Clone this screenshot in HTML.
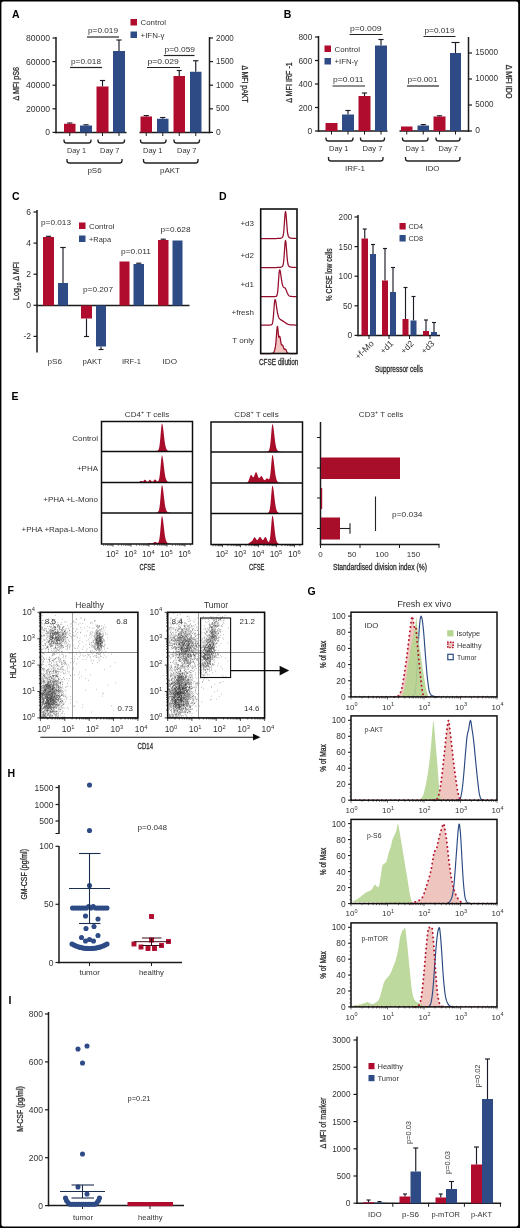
<!DOCTYPE html>
<html><head><meta charset="utf-8"><title>Figure</title>
<style>
html,body{margin:0;padding:0;background:#fff;}
body{width:520px;height:1228px;overflow:hidden;font-family:"Liberation Sans",sans-serif;}
svg{display:block;font-family:"Liberation Sans",sans-serif;}
</style></head><body>
<svg width="520" height="1228" viewBox="0 0 520 1228">
<rect x="0" y="0" width="520" height="1228" fill="#fff"/>
<defs><filter id="soft" filterUnits="userSpaceOnUse" x="0" y="0" width="520" height="1228"><feGaussianBlur stdDeviation="0.42"/></filter></defs>
<g filter="url(#soft)">
<rect x="0" y="0" width="520" height="1228" fill="#fff"/>
<text x="12" y="17.6" font-size="10.5" font-weight="bold" fill="#000">A</text>
<line x1="56" y1="37" x2="56" y2="133.2" stroke="#1a1a1a" stroke-width="1.5"/>
<line x1="209.5" y1="37" x2="209.5" y2="133.2" stroke="#1a1a1a" stroke-width="1.5"/>
<line x1="55.3" y1="132.5" x2="126.5" y2="132.5" stroke="#1a1a1a" stroke-width="1.5"/>
<line x1="139.5" y1="132.5" x2="210.2" y2="132.5" stroke="#1a1a1a" stroke-width="1.5"/>
<line x1="52.5" y1="38.0" x2="56" y2="38.0" stroke="#1a1a1a" stroke-width="1.2"/>
<text x="50" y="41.05" font-size="8.5" text-anchor="end" textLength="24" lengthAdjust="spacingAndGlyphs" fill="#333333">80000</text>
<line x1="52.5" y1="61.6" x2="56" y2="61.6" stroke="#1a1a1a" stroke-width="1.2"/>
<text x="50" y="64.65" font-size="8.5" text-anchor="end" textLength="24" lengthAdjust="spacingAndGlyphs" fill="#333333">60000</text>
<line x1="52.5" y1="85.2" x2="56" y2="85.2" stroke="#1a1a1a" stroke-width="1.2"/>
<text x="50" y="88.25" font-size="8.5" text-anchor="end" textLength="24" lengthAdjust="spacingAndGlyphs" fill="#333333">40000</text>
<line x1="52.5" y1="108.80000000000001" x2="56" y2="108.80000000000001" stroke="#1a1a1a" stroke-width="1.2"/>
<text x="50" y="111.85000000000001" font-size="8.5" text-anchor="end" textLength="24" lengthAdjust="spacingAndGlyphs" fill="#333333">20000</text>
<line x1="52.5" y1="132.4" x2="56" y2="132.4" stroke="#1a1a1a" stroke-width="1.2"/>
<text x="50" y="135.45000000000002" font-size="8.5" text-anchor="end" fill="#333333">0</text>
<line x1="209.5" y1="38.0" x2="213" y2="38.0" stroke="#1a1a1a" stroke-width="1.2"/>
<text x="216" y="40.6" font-size="8.5" textLength="17.8" lengthAdjust="spacingAndGlyphs" fill="#333333">2000</text>
<line x1="209.5" y1="61.6" x2="213" y2="61.6" stroke="#1a1a1a" stroke-width="1.2"/>
<text x="216" y="64.2" font-size="8.5" textLength="17.8" lengthAdjust="spacingAndGlyphs" fill="#333333">1500</text>
<line x1="209.5" y1="85.2" x2="213" y2="85.2" stroke="#1a1a1a" stroke-width="1.2"/>
<text x="216" y="87.8" font-size="8.5" textLength="17.8" lengthAdjust="spacingAndGlyphs" fill="#333333">1000</text>
<line x1="209.5" y1="108.80000000000001" x2="213" y2="108.80000000000001" stroke="#1a1a1a" stroke-width="1.2"/>
<text x="216" y="111.4" font-size="8.5" textLength="13.4" lengthAdjust="spacingAndGlyphs" fill="#333333">500</text>
<line x1="209.5" y1="132.4" x2="213" y2="132.4" stroke="#1a1a1a" stroke-width="1.2"/>
<text x="216" y="135.0" font-size="8.5" fill="#333333">0</text>
<line x1="69.75" y1="123.75" x2="69.75" y2="123" stroke="#1b1b26" stroke-width="1.15"/>
<line x1="67.15" y1="123" x2="72.35" y2="123" stroke="#1b1b26" stroke-width="1.15"/>
<rect x="64" y="123.75" width="11.5" height="8.75" fill="#b00a2e"/>
<line x1="86.0" y1="125.5" x2="86.0" y2="124.8" stroke="#1b1b26" stroke-width="1.15"/>
<line x1="83.4" y1="124.8" x2="88.6" y2="124.8" stroke="#1b1b26" stroke-width="1.15"/>
<rect x="80" y="125.5" width="12" height="7.0" fill="#2d4c86"/>
<line x1="102.5" y1="86.5" x2="102.5" y2="80.5" stroke="#1b1b26" stroke-width="1.15"/>
<line x1="99.9" y1="80.5" x2="105.1" y2="80.5" stroke="#1b1b26" stroke-width="1.15"/>
<rect x="96.5" y="86.5" width="12.0" height="46.0" fill="#b00a2e"/>
<line x1="119.0" y1="51" x2="119.0" y2="40" stroke="#1b1b26" stroke-width="1.15"/>
<line x1="116.4" y1="40" x2="121.6" y2="40" stroke="#1b1b26" stroke-width="1.15"/>
<rect x="113" y="51" width="12" height="81.5" fill="#2d4c86"/>
<line x1="146.25" y1="116.5" x2="146.25" y2="115.6" stroke="#1b1b26" stroke-width="1.15"/>
<line x1="143.65" y1="115.6" x2="148.85" y2="115.6" stroke="#1b1b26" stroke-width="1.15"/>
<rect x="140.5" y="116.5" width="11.5" height="16.0" fill="#b00a2e"/>
<line x1="162.75" y1="118.75" x2="162.75" y2="117.5" stroke="#1b1b26" stroke-width="1.15"/>
<line x1="160.15" y1="117.5" x2="165.35" y2="117.5" stroke="#1b1b26" stroke-width="1.15"/>
<rect x="157" y="118.75" width="11.5" height="13.75" fill="#2d4c86"/>
<line x1="179.25" y1="76" x2="179.25" y2="70.5" stroke="#1b1b26" stroke-width="1.15"/>
<line x1="176.75" y1="70.5" x2="181.75" y2="70.5" stroke="#1b1b26" stroke-width="1.15"/>
<rect x="173.5" y="76" width="11.5" height="56.5" fill="#b00a2e"/>
<line x1="195.75" y1="71.75" x2="195.75" y2="60.75" stroke="#1b1b26" stroke-width="1.15"/>
<line x1="193.0" y1="60.75" x2="198.5" y2="60.75" stroke="#1b1b26" stroke-width="1.15"/>
<rect x="190" y="71.75" width="11.5" height="60.75" fill="#2d4c86"/>
<line x1="69.75" y1="132.5" x2="69.75" y2="136" stroke="#1a1a1a" stroke-width="1"/>
<line x1="86.0" y1="132.5" x2="86.0" y2="136" stroke="#1a1a1a" stroke-width="1"/>
<line x1="102.5" y1="132.5" x2="102.5" y2="136" stroke="#1a1a1a" stroke-width="1"/>
<line x1="119.0" y1="132.5" x2="119.0" y2="136" stroke="#1a1a1a" stroke-width="1"/>
<line x1="146.25" y1="132.5" x2="146.25" y2="136" stroke="#1a1a1a" stroke-width="1"/>
<line x1="162.75" y1="132.5" x2="162.75" y2="136" stroke="#1a1a1a" stroke-width="1"/>
<line x1="179.25" y1="132.5" x2="179.25" y2="136" stroke="#1a1a1a" stroke-width="1"/>
<line x1="195.75" y1="132.5" x2="195.75" y2="136" stroke="#1a1a1a" stroke-width="1"/>
<text x="88" y="33.2" font-size="8" textLength="30" lengthAdjust="spacingAndGlyphs" fill="#333333">p=0.019</text>
<line x1="87" y1="37" x2="119" y2="37" stroke="#222" stroke-width="1.2"/>
<text x="71" y="63.7" font-size="8" textLength="30" lengthAdjust="spacingAndGlyphs" fill="#333333">p=0.018</text>
<line x1="70" y1="67.5" x2="102" y2="67.5" stroke="#222" stroke-width="1.2"/>
<text x="164.5" y="52.2" font-size="8" textLength="30.5" lengthAdjust="spacingAndGlyphs" fill="#333333">p=0.059</text>
<line x1="163.75" y1="55.5" x2="194.5" y2="55.5" stroke="#222" stroke-width="1.2"/>
<text x="147.5" y="63.7" font-size="8" textLength="31.2" lengthAdjust="spacingAndGlyphs" fill="#333333">p=0.029</text>
<line x1="147" y1="67.5" x2="180" y2="67.5" stroke="#222" stroke-width="1.2"/>
<rect x="130.5" y="19" width="6.5" height="6.5" fill="#b00a2e"/>
<text x="140.5" y="25" font-size="8" textLength="25.5" lengthAdjust="spacingAndGlyphs" fill="#333333">Control</text>
<rect x="130.5" y="31.5" width="6.5" height="6.5" fill="#2d4c86"/>
<text x="140.5" y="37.5" font-size="8" textLength="24" lengthAdjust="spacingAndGlyphs" fill="#333333">+IFN-γ</text>
<path d="M64,139.5v0.8999999999999999q0,2.6 2.6,2.6H88.4q2.6,0 2.6,-2.6v-0.8999999999999999" fill="none" stroke="#222" stroke-width="1.35"/>
<path d="M98,139.5v0.8999999999999999q0,2.6 2.6,2.6H121.9q2.6,0 2.6,-2.6v-0.8999999999999999" fill="none" stroke="#222" stroke-width="1.35"/>
<path d="M140.5,139.5v0.8999999999999999q0,2.6 2.6,2.6H163.4q2.6,0 2.6,-2.6v-0.8999999999999999" fill="none" stroke="#222" stroke-width="1.35"/>
<path d="M174,139.5v0.8999999999999999q0,2.6 2.6,2.6H196.9q2.6,0 2.6,-2.6v-0.8999999999999999" fill="none" stroke="#222" stroke-width="1.35"/>
<text x="67" y="153.3" font-size="8" textLength="19" lengthAdjust="spacingAndGlyphs" fill="#333333">Day 1</text>
<text x="100" y="153.3" font-size="8" textLength="19.5" lengthAdjust="spacingAndGlyphs" fill="#333333">Day 7</text>
<text x="143" y="153.3" font-size="8" textLength="19.5" lengthAdjust="spacingAndGlyphs" fill="#333333">Day 1</text>
<text x="177" y="153.3" font-size="8" textLength="19.5" lengthAdjust="spacingAndGlyphs" fill="#333333">Day 7</text>
<path d="M67,159v1.4q0,2.6 2.6,2.6H119.4q2.6,0 2.6,-2.6v-1.4" fill="none" stroke="#222" stroke-width="1.35"/>
<path d="M143.5,159v1.4q0,2.6 2.6,2.6H195.4q2.6,0 2.6,-2.6v-1.4" fill="none" stroke="#222" stroke-width="1.35"/>
<text x="94.5" y="172.5" font-size="8" text-anchor="middle" fill="#333333">pS6</text>
<text x="170" y="172.5" font-size="8" text-anchor="middle" textLength="20" lengthAdjust="spacingAndGlyphs" fill="#333333">pAKT</text>
<text x="18.6" y="83.7" font-size="8.7" text-anchor="middle" transform="rotate(-90 18.6 83.7)" textLength="33.5" lengthAdjust="spacingAndGlyphs" fill="#2a2a2a" stroke="#2a2a2a" stroke-width="0.28">Δ MFI pS6</text>
<text x="241.6" y="84" font-size="8.7" text-anchor="middle" transform="rotate(90 241.6 84)" textLength="37" lengthAdjust="spacingAndGlyphs" fill="#2a2a2a" stroke="#2a2a2a" stroke-width="0.28">Δ MFI pAKT</text>
<text x="283.7" y="17.6" font-size="10.5" font-weight="bold" fill="#000">B</text>
<line x1="318.5" y1="36" x2="318.5" y2="131.7" stroke="#1a1a1a" stroke-width="1.5"/>
<line x1="468.5" y1="37" x2="468.5" y2="131.7" stroke="#1a1a1a" stroke-width="1.5"/>
<line x1="317.8" y1="131" x2="387.5" y2="131" stroke="#1a1a1a" stroke-width="1.5"/>
<line x1="399.5" y1="131" x2="469.2" y2="131" stroke="#1a1a1a" stroke-width="1.5"/>
<line x1="315" y1="37.0" x2="318.5" y2="37.0" stroke="#1a1a1a" stroke-width="1.2"/>
<text x="312.3" y="40.05" font-size="8.5" text-anchor="end" textLength="13.8" lengthAdjust="spacingAndGlyphs" fill="#333333">800</text>
<line x1="315" y1="60.5" x2="318.5" y2="60.5" stroke="#1a1a1a" stroke-width="1.2"/>
<text x="312.3" y="63.55" font-size="8.5" text-anchor="end" textLength="13.8" lengthAdjust="spacingAndGlyphs" fill="#333333">600</text>
<line x1="315" y1="84.0" x2="318.5" y2="84.0" stroke="#1a1a1a" stroke-width="1.2"/>
<text x="312.3" y="87.05" font-size="8.5" text-anchor="end" textLength="13.8" lengthAdjust="spacingAndGlyphs" fill="#333333">400</text>
<line x1="315" y1="107.5" x2="318.5" y2="107.5" stroke="#1a1a1a" stroke-width="1.2"/>
<text x="312.3" y="110.55" font-size="8.5" text-anchor="end" textLength="13.8" lengthAdjust="spacingAndGlyphs" fill="#333333">200</text>
<line x1="315" y1="131.0" x2="318.5" y2="131.0" stroke="#1a1a1a" stroke-width="1.2"/>
<text x="312.3" y="134.05" font-size="8.5" text-anchor="end" fill="#333333">0</text>
<line x1="468.5" y1="53" x2="472" y2="53" stroke="#1a1a1a" stroke-width="1.2"/>
<text x="475.3" y="55.2" font-size="8.5" textLength="22.8" lengthAdjust="spacingAndGlyphs" fill="#333333">15000</text>
<line x1="468.5" y1="79" x2="472" y2="79" stroke="#1a1a1a" stroke-width="1.2"/>
<text x="475.3" y="81.2" font-size="8.5" textLength="22.8" lengthAdjust="spacingAndGlyphs" fill="#333333">10000</text>
<line x1="468.5" y1="105" x2="472" y2="105" stroke="#1a1a1a" stroke-width="1.2"/>
<text x="475.3" y="107.2" font-size="8.5" textLength="18.2" lengthAdjust="spacingAndGlyphs" fill="#333333">5000</text>
<line x1="468.5" y1="131" x2="472" y2="131" stroke="#1a1a1a" stroke-width="1.2"/>
<text x="475.3" y="133.2" font-size="8.5" fill="#333333">0</text>
<rect x="325.5" y="123" width="12.0" height="8" fill="#b00a2e"/>
<line x1="348.0" y1="114.5" x2="348.0" y2="110.5" stroke="#1b1b26" stroke-width="1.15"/>
<line x1="345.4" y1="110.5" x2="350.6" y2="110.5" stroke="#1b1b26" stroke-width="1.15"/>
<rect x="342" y="114.5" width="12" height="16.5" fill="#2d4c86"/>
<line x1="364.5" y1="96" x2="364.5" y2="93" stroke="#1b1b26" stroke-width="1.15"/>
<line x1="361.9" y1="93" x2="367.1" y2="93" stroke="#1b1b26" stroke-width="1.15"/>
<rect x="358.5" y="96" width="12.0" height="35" fill="#b00a2e"/>
<line x1="381.0" y1="45.5" x2="381.0" y2="39.5" stroke="#1b1b26" stroke-width="1.15"/>
<line x1="378.4" y1="39.5" x2="383.6" y2="39.5" stroke="#1b1b26" stroke-width="1.15"/>
<rect x="375" y="45.5" width="12" height="85.5" fill="#2d4c86"/>
<rect x="401" y="126.5" width="11.5" height="4.5" fill="#b00a2e"/>
<line x1="423.25" y1="125.5" x2="423.25" y2="124.6" stroke="#1b1b26" stroke-width="1.15"/>
<line x1="420.65" y1="124.6" x2="425.85" y2="124.6" stroke="#1b1b26" stroke-width="1.15"/>
<rect x="417.5" y="125.5" width="11.5" height="5.5" fill="#2d4c86"/>
<line x1="439.5" y1="116.5" x2="439.5" y2="115.8" stroke="#1b1b26" stroke-width="1.15"/>
<line x1="436.9" y1="115.8" x2="442.1" y2="115.8" stroke="#1b1b26" stroke-width="1.15"/>
<rect x="433.5" y="116.5" width="12.0" height="14.5" fill="#b00a2e"/>
<line x1="455.5" y1="53" x2="455.5" y2="42.5" stroke="#1b1b26" stroke-width="1.15"/>
<line x1="451.5" y1="42.5" x2="459.5" y2="42.5" stroke="#1b1b26" stroke-width="1.15"/>
<rect x="450" y="53" width="11" height="78" fill="#2d4c86"/>
<line x1="331.5" y1="131" x2="331.5" y2="134.5" stroke="#1a1a1a" stroke-width="1"/>
<line x1="348.0" y1="131" x2="348.0" y2="134.5" stroke="#1a1a1a" stroke-width="1"/>
<line x1="364.5" y1="131" x2="364.5" y2="134.5" stroke="#1a1a1a" stroke-width="1"/>
<line x1="381.0" y1="131" x2="381.0" y2="134.5" stroke="#1a1a1a" stroke-width="1"/>
<line x1="406.75" y1="131" x2="406.75" y2="134.5" stroke="#1a1a1a" stroke-width="1"/>
<line x1="423.25" y1="131" x2="423.25" y2="134.5" stroke="#1a1a1a" stroke-width="1"/>
<line x1="439.5" y1="131" x2="439.5" y2="134.5" stroke="#1a1a1a" stroke-width="1"/>
<line x1="455.5" y1="131" x2="455.5" y2="134.5" stroke="#1a1a1a" stroke-width="1"/>
<text x="350" y="31.2" font-size="8" textLength="31.5" lengthAdjust="spacingAndGlyphs" fill="#333333">p=0.009</text>
<line x1="349.5" y1="34.5" x2="382.5" y2="34.5" stroke="#222" stroke-width="1.2"/>
<text x="333" y="81.7" font-size="8" textLength="30.5" lengthAdjust="spacingAndGlyphs" fill="#333333">p=0.011</text>
<line x1="332.5" y1="86" x2="365" y2="86" stroke="#222" stroke-width="1.2"/>
<text x="424.5" y="33.2" font-size="8" textLength="30.0" lengthAdjust="spacingAndGlyphs" fill="#333333">p=0.019</text>
<line x1="423.5" y1="36.5" x2="455.5" y2="36.5" stroke="#222" stroke-width="1.2"/>
<text x="407.5" y="81.7" font-size="8" textLength="30.0" lengthAdjust="spacingAndGlyphs" fill="#333333">p=0.001</text>
<line x1="407" y1="86" x2="439" y2="86" stroke="#222" stroke-width="1.2"/>
<rect x="324.5" y="45.5" width="6.5" height="6.5" fill="#b00a2e"/>
<text x="334.5" y="51.5" font-size="8" textLength="25.5" lengthAdjust="spacingAndGlyphs" fill="#333333">Control</text>
<rect x="324.5" y="58" width="6.5" height="6.5" fill="#2d4c86"/>
<text x="334.5" y="64" font-size="8" textLength="23.5" lengthAdjust="spacingAndGlyphs" fill="#333333">+IFN-γ</text>
<path d="M326,137.5v0.8999999999999999q0,2.6 2.6,2.6H350.4q2.6,0 2.6,-2.6v-0.8999999999999999" fill="none" stroke="#222" stroke-width="1.35"/>
<path d="M360.5,137.5v0.8999999999999999q0,2.6 2.6,2.6H381.9q2.6,0 2.6,-2.6v-0.8999999999999999" fill="none" stroke="#222" stroke-width="1.35"/>
<path d="M402.5,137.5v0.8999999999999999q0,2.6 2.6,2.6H425.4q2.6,0 2.6,-2.6v-0.8999999999999999" fill="none" stroke="#222" stroke-width="1.35"/>
<path d="M436,137.5v0.8999999999999999q0,2.6 2.6,2.6H457.4q2.6,0 2.6,-2.6v-0.8999999999999999" fill="none" stroke="#222" stroke-width="1.35"/>
<text x="329" y="151.3" font-size="8" textLength="19.5" lengthAdjust="spacingAndGlyphs" fill="#333333">Day 1</text>
<text x="362.5" y="151.3" font-size="8" textLength="20" lengthAdjust="spacingAndGlyphs" fill="#333333">Day 7</text>
<text x="405.5" y="151.3" font-size="8" textLength="19.5" lengthAdjust="spacingAndGlyphs" fill="#333333">Day 1</text>
<text x="438.5" y="151.3" font-size="8" textLength="19.5" lengthAdjust="spacingAndGlyphs" fill="#333333">Day 7</text>
<path d="M328.5,157v1.4q0,2.6 2.6,2.6H380.4q2.6,0 2.6,-2.6v-1.4" fill="none" stroke="#222" stroke-width="1.35"/>
<path d="M405.5,157v1.4q0,2.6 2.6,2.6H457.4q2.6,0 2.6,-2.6v-1.4" fill="none" stroke="#222" stroke-width="1.35"/>
<text x="355" y="170.8" font-size="8" text-anchor="middle" textLength="20" lengthAdjust="spacingAndGlyphs" fill="#333333">IRF-1</text>
<text x="432.5" y="170.8" font-size="8" text-anchor="middle" textLength="14" lengthAdjust="spacingAndGlyphs" fill="#333333">IDO</text>
<text x="291.6" y="82.5" font-size="8.7" text-anchor="middle" transform="rotate(-90 291.6 82.5)" textLength="40.5" lengthAdjust="spacingAndGlyphs" fill="#2a2a2a" stroke="#2a2a2a" stroke-width="0.28">Δ MFI IRF -1</text>
<text x="505.6" y="81.8" font-size="8.7" text-anchor="middle" transform="rotate(90 505.6 81.8)" textLength="34" lengthAdjust="spacingAndGlyphs" fill="#2a2a2a" stroke="#2a2a2a" stroke-width="0.28">Δ MFI IDO</text>
<text x="12" y="200" font-size="10.5" font-weight="bold" fill="#000">C</text>
<line x1="37" y1="210" x2="37" y2="352.5" stroke="#1a1a1a" stroke-width="1.5"/>
<line x1="36.3" y1="305.5" x2="189.5" y2="305.5" stroke="#1a1a1a" stroke-width="1.5"/>
<line x1="33.5" y1="212.0" x2="37" y2="212.0" stroke="#1a1a1a" stroke-width="1.2"/>
<text x="31" y="215.05" font-size="8.5" text-anchor="end" fill="#333333">6</text>
<line x1="33.5" y1="243.1" x2="37" y2="243.1" stroke="#1a1a1a" stroke-width="1.2"/>
<text x="31" y="246.15" font-size="8.5" text-anchor="end" fill="#333333">4</text>
<line x1="33.5" y1="274.2" x2="37" y2="274.2" stroke="#1a1a1a" stroke-width="1.2"/>
<text x="31" y="277.25" font-size="8.5" text-anchor="end" fill="#333333">2</text>
<line x1="33.5" y1="305.3" x2="37" y2="305.3" stroke="#1a1a1a" stroke-width="1.2"/>
<text x="31" y="308.35" font-size="8.5" text-anchor="end" fill="#333333">0</text>
<line x1="33.5" y1="336.4" x2="37" y2="336.4" stroke="#1a1a1a" stroke-width="1.2"/>
<text x="31" y="339.45" font-size="8.5" text-anchor="end" fill="#333333">-2</text>
<line x1="48.5" y1="237" x2="48.5" y2="236.3" stroke="#1b1b26" stroke-width="1.15"/>
<line x1="45.9" y1="236.3" x2="51.1" y2="236.3" stroke="#1b1b26" stroke-width="1.15"/>
<rect x="43" y="237" width="11" height="68.5" fill="#b00a2e"/>
<line x1="63.0" y1="283" x2="63.0" y2="247.5" stroke="#1b1b26" stroke-width="1.15"/>
<line x1="60.25" y1="247.5" x2="65.75" y2="247.5" stroke="#1b1b26" stroke-width="1.15"/>
<rect x="58" y="283" width="10" height="22.5" fill="#2d4c86"/>
<line x1="86.5" y1="318.5" x2="86.5" y2="336.5" stroke="#1b1b26" stroke-width="1.15"/>
<line x1="84.0" y1="336.5" x2="89.0" y2="336.5" stroke="#1b1b26" stroke-width="1.15"/>
<rect x="81" y="305.5" width="11" height="13.0" fill="#b00a2e"/>
<line x1="101.0" y1="346.5" x2="101.0" y2="349.5" stroke="#1b1b26" stroke-width="1.15"/>
<line x1="98.5" y1="349.5" x2="103.5" y2="349.5" stroke="#1b1b26" stroke-width="1.15"/>
<rect x="96" y="305.5" width="10" height="41.0" fill="#2d4c86"/>
<rect x="119.5" y="261.5" width="10.0" height="44.0" fill="#b00a2e"/>
<line x1="138.75" y1="264" x2="138.75" y2="263.2" stroke="#1b1b26" stroke-width="1.15"/>
<line x1="136.15" y1="263.2" x2="141.35" y2="263.2" stroke="#1b1b26" stroke-width="1.15"/>
<rect x="133.5" y="264" width="10.5" height="41.5" fill="#2d4c86"/>
<line x1="163.25" y1="240" x2="163.25" y2="239.2" stroke="#1b1b26" stroke-width="1.15"/>
<line x1="160.65" y1="239.2" x2="165.85" y2="239.2" stroke="#1b1b26" stroke-width="1.15"/>
<rect x="158" y="240" width="10.5" height="65.5" fill="#b00a2e"/>
<rect x="172.5" y="240.5" width="10.0" height="65.0" fill="#2d4c86"/>
<text x="41" y="224.7" font-size="8" textLength="30" lengthAdjust="spacingAndGlyphs" fill="#333333">p=0.013</text>
<text x="83" y="292.2" font-size="8" textLength="30" lengthAdjust="spacingAndGlyphs" fill="#333333">p=0.207</text>
<text x="121" y="253.7" font-size="8" textLength="30" lengthAdjust="spacingAndGlyphs" fill="#333333">p=0.011</text>
<text x="160.5" y="232.2" font-size="8" textLength="30.0" lengthAdjust="spacingAndGlyphs" fill="#333333">p=0.628</text>
<rect x="79" y="222.5" width="6.5" height="6.5" fill="#b00a2e"/>
<text x="89" y="228.5" font-size="8" textLength="25.5" lengthAdjust="spacingAndGlyphs" fill="#333333">Control</text>
<rect x="79" y="235.5" width="6.5" height="6.5" fill="#2d4c86"/>
<text x="89" y="241.5" font-size="8" textLength="22" lengthAdjust="spacingAndGlyphs" fill="#333333">+Rapa</text>
<text x="47.5" y="364.2" font-size="8" textLength="14.5" lengthAdjust="spacingAndGlyphs" fill="#333333">pS6</text>
<text x="82.5" y="364.2" font-size="8" textLength="19.5" lengthAdjust="spacingAndGlyphs" fill="#333333">pAKT</text>
<text x="122" y="364.2" font-size="8" textLength="19" lengthAdjust="spacingAndGlyphs" fill="#333333">IRF-1</text>
<text x="162.5" y="364.2" font-size="8" textLength="14.5" lengthAdjust="spacingAndGlyphs" fill="#333333">IDO</text>
<text x="19.3" y="281" font-size="8.7" text-anchor="middle" transform="rotate(-90 19.3 281)" textLength="38" lengthAdjust="spacingAndGlyphs" fill="#2a2a2a" stroke="#2a2a2a" stroke-width="0.28">Log<tspan font-size="6" dy="1.5">10</tspan><tspan dy="-1.5"> Δ MFI</tspan></text>
<text x="219" y="200" font-size="10.5" font-weight="bold" fill="#000">D</text>
<path d="M260.7,238.50 L261.1,238.50 L261.5,238.50 L261.9,238.50 L262.3,238.50 L262.7,238.50 L263.1,238.50 L263.5,238.50 L263.9,238.50 L264.3,238.50 L264.7,238.50 L265.1,238.50 L265.5,238.50 L265.9,238.50 L266.3,238.50 L266.7,238.50 L267.1,238.50 L267.5,238.50 L267.9,238.50 L268.3,238.50 L268.7,238.50 L269.1,238.50 L269.5,238.50 L269.9,238.50 L270.3,238.50 L270.7,238.50 L271.1,238.50 L271.5,238.50 L271.9,238.50 L272.3,238.50 L272.7,238.50 L273.1,238.50 L273.5,238.50 L273.9,238.50 L274.3,238.50 L274.7,238.50 L275.1,238.50 L275.5,238.50 L275.9,238.50 L276.3,238.50 L276.7,238.50 L277.1,238.49 L277.5,238.49 L277.9,238.48 L278.3,238.47 L278.7,238.45 L279.1,238.42 L279.5,238.39 L279.9,238.34 L280.3,238.27 L280.7,238.18 L281.1,238.07 L281.5,237.94 L281.9,237.75 L282.3,237.47 L282.7,236.94 L283.1,235.84 L283.5,233.66 L283.9,229.92 L284.3,224.55 L284.7,218.45 L285.1,213.45 L285.5,211.50 L285.9,213.12 L286.3,217.38 L286.7,222.87 L287.1,228.09 L287.5,232.11 L287.9,234.73 L288.3,236.23 L288.7,237.00 L289.1,237.41 L289.5,237.64 L289.9,237.81 L290.3,237.94 L290.7,238.05 L291.1,238.15 L291.5,238.23 L291.9,238.29 L292.3,238.35 L292.7,238.39 L293.1,238.42 L293.5,238.44 L293.9,238.46 L294.3,238.47 L294.7,238.48 L295.1,238.49 L295.5,238.49 L295.9,238.50 L296.3,238.50 L296.7,238.50" fill="none" stroke="#960c2c" stroke-width="1.25" stroke-linejoin="round"/>
<path d="M260.7,267.50 L261.1,267.50 L261.5,267.50 L261.9,267.50 L262.3,267.50 L262.7,267.50 L263.1,267.50 L263.5,267.50 L263.9,267.50 L264.3,267.50 L264.7,267.50 L265.1,267.50 L265.5,267.50 L265.9,267.50 L266.3,267.50 L266.7,267.50 L267.1,267.50 L267.5,267.50 L267.9,267.50 L268.3,267.50 L268.7,267.50 L269.1,267.50 L269.5,267.50 L269.9,267.50 L270.3,267.50 L270.7,267.50 L271.1,267.50 L271.5,267.50 L271.9,267.50 L272.3,267.50 L272.7,267.50 L273.1,267.50 L273.5,267.50 L273.9,267.50 L274.3,267.50 L274.7,267.50 L275.1,267.50 L275.5,267.50 L275.9,267.50 L276.3,267.50 L276.7,267.50 L277.1,267.49 L277.5,267.49 L277.9,267.48 L278.3,267.47 L278.7,267.45 L279.1,267.42 L279.5,267.39 L279.9,267.34 L280.3,267.27 L280.7,267.18 L281.1,267.07 L281.5,266.94 L281.9,266.75 L282.3,266.47 L282.7,265.94 L283.1,264.84 L283.5,262.66 L283.9,258.92 L284.3,253.55 L284.7,247.45 L285.1,242.45 L285.5,240.50 L285.9,242.12 L286.3,246.38 L286.7,251.87 L287.1,257.09 L287.5,261.11 L287.9,263.73 L288.3,265.23 L288.7,266.00 L289.1,266.41 L289.5,266.64 L289.9,266.81 L290.3,266.94 L290.7,267.05 L291.1,267.15 L291.5,267.23 L291.9,267.29 L292.3,267.35 L292.7,267.39 L293.1,267.42 L293.5,267.44 L293.9,267.46 L294.3,267.47 L294.7,267.48 L295.1,267.49 L295.5,267.49 L295.9,267.50 L296.3,267.50 L296.7,267.50" fill="none" stroke="#960c2c" stroke-width="1.25" stroke-linejoin="round"/>
<path d="M260.7,296.50 L261.1,296.50 L261.5,296.50 L261.9,296.50 L262.3,296.50 L262.7,296.50 L263.1,296.50 L263.5,296.50 L263.9,296.50 L264.3,296.50 L264.7,296.50 L265.1,296.50 L265.5,296.50 L265.9,296.50 L266.3,296.50 L266.7,296.50 L267.1,296.50 L267.5,296.50 L267.9,296.50 L268.3,296.50 L268.7,296.50 L269.1,296.50 L269.5,296.50 L269.9,296.50 L270.3,296.50 L270.7,296.50 L271.1,296.50 L271.5,296.50 L271.9,296.50 L272.3,296.50 L272.7,296.50 L273.1,296.50 L273.5,296.50 L273.9,296.50 L274.3,296.50 L274.7,296.50 L275.1,296.50 L275.5,296.49 L275.9,296.46 L276.3,296.35 L276.7,296.00 L277.1,295.10 L277.5,293.14 L277.9,289.59 L278.3,284.34 L278.7,278.18 L279.1,272.80 L279.5,270.01 L279.9,269.86 L280.3,271.38 L280.7,273.96 L281.1,276.89 L281.5,279.67 L281.9,282.10 L282.3,284.09 L282.7,285.50 L283.1,286.48 L283.5,287.12 L283.9,287.48 L284.3,287.65 L284.7,287.78 L285.1,288.06 L285.5,288.68 L285.9,289.54 L286.3,290.49 L286.7,291.48 L287.1,292.45 L287.5,293.36 L287.9,294.17 L288.3,294.84 L288.7,295.37 L289.1,295.77 L289.5,296.05 L289.9,296.23 L290.3,296.35 L290.7,296.42 L291.1,296.46 L291.5,296.48 L291.9,296.49 L292.3,296.50 L292.7,296.50 L293.1,296.50 L293.5,296.50 L293.9,296.50 L294.3,296.50 L294.7,296.50 L295.1,296.50 L295.5,296.50 L295.9,296.50 L296.3,296.50 L296.7,296.50" fill="none" stroke="#960c2c" stroke-width="1.25" stroke-linejoin="round"/>
<path d="M260.7,325.00 L261.1,325.00 L261.5,325.00 L261.9,325.00 L262.3,325.00 L262.7,325.00 L263.1,325.00 L263.5,325.00 L263.9,325.00 L264.3,325.00 L264.7,325.00 L265.1,325.00 L265.5,325.00 L265.9,325.00 L266.3,325.00 L266.7,325.00 L267.1,325.00 L267.5,325.00 L267.9,325.00 L268.3,325.00 L268.7,325.00 L269.1,325.00 L269.5,325.00 L269.9,325.00 L270.3,325.00 L270.7,324.99 L271.1,324.95 L271.5,324.84 L271.9,324.53 L272.3,323.77 L272.7,322.19 L273.1,319.37 L273.5,315.11 L273.9,309.78 L274.3,304.46 L274.7,300.67 L275.1,299.59 L275.5,300.38 L275.9,302.32 L276.3,304.98 L276.7,307.86 L277.1,310.55 L277.5,312.81 L277.9,314.61 L278.3,316.05 L278.7,317.24 L279.1,318.08 L279.5,318.64 L279.9,319.05 L280.3,319.37 L280.7,319.65 L281.1,319.91 L281.5,320.15 L281.9,320.39 L282.3,320.63 L282.7,320.86 L283.1,321.11 L283.5,321.38 L283.9,321.68 L284.3,321.99 L284.7,322.29 L285.1,322.58 L285.5,322.86 L285.9,323.13 L286.3,323.38 L286.7,323.61 L287.1,323.83 L287.5,324.02 L287.9,324.19 L288.3,324.34 L288.7,324.47 L289.1,324.59 L289.5,324.68 L289.9,324.75 L290.3,324.81 L290.7,324.86 L291.1,324.90 L291.5,324.93 L291.9,324.95 L292.3,324.96 L292.7,324.98 L293.1,324.98 L293.5,324.99 L293.9,324.99 L294.3,325.00 L294.7,325.00 L295.1,325.00 L295.5,325.00 L295.9,325.00 L296.3,325.00 L296.7,325.00" fill="none" stroke="#960c2c" stroke-width="1.25" stroke-linejoin="round"/>
<path d="M260.7,353.50 L261.1,353.50 L261.5,353.50 L261.9,353.50 L262.3,353.50 L262.7,353.50 L263.1,353.50 L263.5,353.50 L263.9,353.50 L264.3,353.50 L264.7,353.50 L265.1,353.50 L265.5,353.50 L265.9,353.50 L266.3,353.50 L266.7,353.50 L267.1,353.50 L267.5,353.50 L267.9,353.50 L268.3,353.50 L268.7,353.50 L269.1,353.50 L269.5,353.50 L269.9,353.50 L270.3,353.50 L270.7,353.50 L271.1,353.50 L271.5,353.49 L271.9,353.48 L272.3,353.45 L272.7,353.36 L273.1,353.18 L273.5,352.81 L273.9,352.19 L274.3,351.26 L274.7,349.97 L275.1,348.26 L275.5,345.88 L275.9,342.37 L276.3,337.49 L276.7,331.95 L277.1,327.52 L277.5,326.30 L277.9,328.91 L278.3,333.47 L278.7,336.84 L279.1,337.37 L279.5,336.37 L279.9,336.59 L280.3,338.47 L280.7,341.20 L281.1,343.62 L281.5,344.87 L281.9,345.05 L282.3,344.95 L282.7,345.34 L283.1,346.26 L283.5,347.49 L283.9,348.62 L284.3,349.26 L284.7,349.32 L285.1,349.11 L285.5,349.15 L285.9,349.66 L286.3,350.54 L286.7,351.54 L287.1,352.38 L287.5,352.96 L287.9,353.28 L288.3,353.42 L288.7,353.48 L289.1,353.49 L289.5,353.50 L289.9,353.50 L290.3,353.50 L290.7,353.50 L291.1,353.50 L291.5,353.50 L291.9,353.50 L292.3,353.50 L292.7,353.50 L293.1,353.50 L293.5,353.50 L293.9,353.50 L294.3,353.50 L294.7,353.50 L295.1,353.50 L295.5,353.50 L295.9,353.50 L296.3,353.50 L296.7,353.50 L297.0,353.5 L260.7,353.5 Z" fill="#f1c4c0" stroke="none" stroke-width="1"/>
<path d="M260.7,353.50 L261.1,353.50 L261.5,353.50 L261.9,353.50 L262.3,353.50 L262.7,353.50 L263.1,353.50 L263.5,353.50 L263.9,353.50 L264.3,353.50 L264.7,353.50 L265.1,353.50 L265.5,353.50 L265.9,353.50 L266.3,353.50 L266.7,353.50 L267.1,353.50 L267.5,353.50 L267.9,353.50 L268.3,353.50 L268.7,353.50 L269.1,353.50 L269.5,353.50 L269.9,353.50 L270.3,353.50 L270.7,353.50 L271.1,353.50 L271.5,353.49 L271.9,353.48 L272.3,353.45 L272.7,353.36 L273.1,353.18 L273.5,352.81 L273.9,352.19 L274.3,351.26 L274.7,349.97 L275.1,348.26 L275.5,345.88 L275.9,342.37 L276.3,337.49 L276.7,331.95 L277.1,327.52 L277.5,326.30 L277.9,328.91 L278.3,333.47 L278.7,336.84 L279.1,337.37 L279.5,336.37 L279.9,336.59 L280.3,338.47 L280.7,341.20 L281.1,343.62 L281.5,344.87 L281.9,345.05 L282.3,344.95 L282.7,345.34 L283.1,346.26 L283.5,347.49 L283.9,348.62 L284.3,349.26 L284.7,349.32 L285.1,349.11 L285.5,349.15 L285.9,349.66 L286.3,350.54 L286.7,351.54 L287.1,352.38 L287.5,352.96 L287.9,353.28 L288.3,353.42 L288.7,353.48 L289.1,353.49 L289.5,353.50 L289.9,353.50 L290.3,353.50 L290.7,353.50 L291.1,353.50 L291.5,353.50 L291.9,353.50 L292.3,353.50 L292.7,353.50 L293.1,353.50 L293.5,353.50 L293.9,353.50 L294.3,353.50 L294.7,353.50 L295.1,353.50 L295.5,353.50 L295.9,353.50 L296.3,353.50 L296.7,353.50" fill="none" stroke="#960c2c" stroke-width="1.25" stroke-linejoin="round"/>
<rect x="260.7" y="209" width="36.30000000000001" height="144.5" fill="none" stroke="#111" stroke-width="1.6"/>
<text x="254" y="226.3" font-size="8" text-anchor="end" fill="#333333">+d3</text>
<text x="254" y="257.8" font-size="8" text-anchor="end" fill="#333333">+d2</text>
<text x="254" y="286.8" font-size="8" text-anchor="end" fill="#333333">+d1</text>
<text x="254" y="315.3" font-size="8" text-anchor="end" fill="#333333">+fresh</text>
<text x="254" y="342.8" font-size="8" text-anchor="end" fill="#333333">T only</text>
<text x="278.7" y="365" font-size="8.7" text-anchor="middle" textLength="39.5" lengthAdjust="spacingAndGlyphs" fill="#2a2a2a" stroke="#2a2a2a" stroke-width="0.28">CFSE dilution</text>
<line x1="358" y1="215" x2="358" y2="336.2" stroke="#1a1a1a" stroke-width="1.5"/>
<line x1="357.3" y1="335.5" x2="440" y2="335.5" stroke="#1a1a1a" stroke-width="1.5"/>
<line x1="354.5" y1="217.0" x2="358" y2="217.0" stroke="#1a1a1a" stroke-width="1.2"/>
<text x="352.2" y="220.05" font-size="8.5" text-anchor="end" textLength="13.6" lengthAdjust="spacingAndGlyphs" fill="#333333">200</text>
<line x1="354.5" y1="246.6" x2="358" y2="246.6" stroke="#1a1a1a" stroke-width="1.2"/>
<text x="352.2" y="249.65" font-size="8.5" text-anchor="end" textLength="13.6" lengthAdjust="spacingAndGlyphs" fill="#333333">150</text>
<line x1="354.5" y1="276.2" x2="358" y2="276.2" stroke="#1a1a1a" stroke-width="1.2"/>
<text x="352.2" y="279.25" font-size="8.5" text-anchor="end" textLength="13.6" lengthAdjust="spacingAndGlyphs" fill="#333333">100</text>
<line x1="354.5" y1="305.8" x2="358" y2="305.8" stroke="#1a1a1a" stroke-width="1.2"/>
<text x="352.2" y="308.85" font-size="8.5" text-anchor="end" textLength="9.2" lengthAdjust="spacingAndGlyphs" fill="#333333">50</text>
<line x1="354.5" y1="335.4" x2="358" y2="335.4" stroke="#1a1a1a" stroke-width="1.2"/>
<text x="352.2" y="338.45" font-size="8.5" text-anchor="end" fill="#333333">0</text>
<line x1="364.75" y1="238.5" x2="364.75" y2="229" stroke="#1b1b26" stroke-width="1.15"/>
<line x1="362.75" y1="229" x2="366.75" y2="229" stroke="#1b1b26" stroke-width="1.15"/>
<rect x="361.5" y="238.5" width="6.5" height="97.0" fill="#b00a2e"/>
<line x1="373.0" y1="254" x2="373.0" y2="244.5" stroke="#1b1b26" stroke-width="1.15"/>
<line x1="371.0" y1="244.5" x2="375.0" y2="244.5" stroke="#1b1b26" stroke-width="1.15"/>
<rect x="370" y="254" width="6" height="81.5" fill="#2d4c86"/>
<line x1="385.0" y1="280.5" x2="385.0" y2="248.5" stroke="#1b1b26" stroke-width="1.15"/>
<line x1="383.0" y1="248.5" x2="387.0" y2="248.5" stroke="#1b1b26" stroke-width="1.15"/>
<rect x="382" y="280.5" width="6" height="55.0" fill="#b00a2e"/>
<line x1="393.0" y1="292" x2="393.0" y2="267.5" stroke="#1b1b26" stroke-width="1.15"/>
<line x1="391.0" y1="267.5" x2="395.0" y2="267.5" stroke="#1b1b26" stroke-width="1.15"/>
<rect x="390" y="292" width="6" height="43.5" fill="#2d4c86"/>
<line x1="405.5" y1="319" x2="405.5" y2="287.5" stroke="#1b1b26" stroke-width="1.15"/>
<line x1="403.5" y1="287.5" x2="407.5" y2="287.5" stroke="#1b1b26" stroke-width="1.15"/>
<rect x="402.5" y="319" width="6.0" height="16.5" fill="#b00a2e"/>
<line x1="413.5" y1="320.5" x2="413.5" y2="296.5" stroke="#1b1b26" stroke-width="1.15"/>
<line x1="411.5" y1="296.5" x2="415.5" y2="296.5" stroke="#1b1b26" stroke-width="1.15"/>
<rect x="410.5" y="320.5" width="6.0" height="15.0" fill="#2d4c86"/>
<line x1="426.0" y1="331" x2="426.0" y2="320" stroke="#1b1b26" stroke-width="1.15"/>
<line x1="424.0" y1="320" x2="428.0" y2="320" stroke="#1b1b26" stroke-width="1.15"/>
<rect x="423" y="331" width="6" height="4.5" fill="#b00a2e"/>
<line x1="434.0" y1="332" x2="434.0" y2="322.5" stroke="#1b1b26" stroke-width="1.15"/>
<line x1="432.0" y1="322.5" x2="436.0" y2="322.5" stroke="#1b1b26" stroke-width="1.15"/>
<rect x="431" y="332" width="6" height="3.5" fill="#2d4c86"/>
<line x1="369" y1="335.5" x2="369" y2="339.0" stroke="#1a1a1a" stroke-width="1"/>
<line x1="389" y1="335.5" x2="389" y2="339.0" stroke="#1a1a1a" stroke-width="1"/>
<line x1="409.5" y1="335.5" x2="409.5" y2="339.0" stroke="#1a1a1a" stroke-width="1"/>
<line x1="430" y1="335.5" x2="430" y2="339.0" stroke="#1a1a1a" stroke-width="1"/>
<rect x="399.5" y="223" width="6.2" height="6.5" fill="#b00a2e"/>
<text x="408.5" y="229" font-size="8" textLength="14.5" lengthAdjust="spacingAndGlyphs" fill="#333333">CD4</text>
<rect x="399.5" y="235" width="6.2" height="6.5" fill="#2d4c86"/>
<text x="408.5" y="241" font-size="8" textLength="14.5" lengthAdjust="spacingAndGlyphs" fill="#333333">CD8</text>
<text x="332.2" y="274.8" font-size="8.7" text-anchor="middle" transform="rotate(-90 332.2 274.8)" textLength="53" lengthAdjust="spacingAndGlyphs" fill="#2a2a2a" stroke="#2a2a2a" stroke-width="0.28">% CFSE low cells</text>
<text x="374.5" y="344" font-size="8.8" text-anchor="end" transform="rotate(-45 374.5 344)" fill="#333333">+f-Mo</text>
<text x="394" y="344" font-size="8.8" text-anchor="end" transform="rotate(-45 394 344)" fill="#333333">+d1</text>
<text x="414.5" y="344" font-size="8.8" text-anchor="end" transform="rotate(-45 414.5 344)" fill="#333333">+d2</text>
<text x="435" y="344" font-size="8.8" text-anchor="end" transform="rotate(-45 435 344)" fill="#333333">+d3</text>
<text x="399" y="372" font-size="8.7" text-anchor="middle" textLength="48" lengthAdjust="spacingAndGlyphs" fill="#2a2a2a" stroke="#2a2a2a" stroke-width="0.28">Suppressor cells</text>
<text x="11.5" y="400" font-size="10.5" font-weight="bold" fill="#000">E</text>
<path d="M101.5,451.5 L101.5,451.50 L101.9,451.50 L102.3,451.50 L102.7,451.50 L103.1,451.50 L103.5,451.50 L103.9,451.50 L104.3,451.50 L104.7,451.50 L105.1,451.50 L105.5,451.50 L105.9,451.50 L106.3,451.50 L106.7,451.50 L107.1,451.50 L107.5,451.50 L107.9,451.50 L108.3,451.50 L108.7,451.50 L109.1,451.50 L109.5,451.50 L109.9,451.50 L110.3,451.50 L110.7,451.50 L111.1,451.50 L111.5,451.50 L111.9,451.50 L112.3,451.50 L112.7,451.50 L113.1,451.50 L113.5,451.50 L113.9,451.50 L114.3,451.50 L114.7,451.50 L115.1,451.50 L115.5,451.50 L115.9,451.50 L116.3,451.50 L116.7,451.50 L117.1,451.50 L117.5,451.50 L117.9,451.50 L118.3,451.50 L118.7,451.50 L119.1,451.50 L119.5,451.50 L119.9,451.50 L120.3,451.50 L120.7,451.50 L121.1,451.50 L121.5,451.50 L121.9,451.50 L122.3,451.50 L122.7,451.50 L123.1,451.50 L123.5,451.50 L123.9,451.50 L124.3,451.50 L124.7,451.50 L125.1,451.50 L125.5,451.50 L125.9,451.50 L126.3,451.50 L126.7,451.50 L127.1,451.50 L127.5,451.50 L127.9,451.50 L128.3,451.50 L128.7,451.50 L129.1,451.50 L129.5,451.50 L129.9,451.50 L130.3,451.50 L130.7,451.50 L131.1,451.50 L131.5,451.50 L131.9,451.50 L132.3,451.50 L132.7,451.50 L133.1,451.50 L133.5,451.50 L133.9,451.50 L134.3,451.50 L134.7,451.50 L135.1,451.50 L135.5,451.50 L135.9,451.50 L136.3,451.50 L136.7,451.50 L137.1,451.50 L137.5,451.50 L137.9,451.50 L138.3,451.50 L138.7,451.50 L139.1,451.50 L139.5,451.50 L139.9,451.50 L140.3,451.50 L140.7,451.50 L141.1,451.50 L141.5,451.50 L141.9,451.50 L142.3,451.50 L142.7,451.50 L143.1,451.50 L143.5,451.50 L143.9,451.50 L144.3,451.50 L144.7,451.50 L145.1,451.50 L145.5,451.50 L145.9,451.50 L146.3,451.50 L146.7,451.50 L147.1,451.50 L147.5,451.50 L147.9,451.50 L148.3,451.50 L148.7,451.50 L149.1,451.50 L149.5,451.50 L149.9,451.50 L150.3,451.50 L150.7,451.50 L151.1,451.50 L151.5,451.50 L151.9,451.50 L152.3,451.50 L152.7,451.50 L153.1,451.49 L153.5,451.49 L153.9,451.48 L154.3,451.47 L154.7,451.46 L155.1,451.43 L155.5,451.40 L155.9,451.35 L156.3,451.28 L156.7,451.18 L157.1,451.04 L157.5,450.84 L157.9,450.55 L158.3,450.06 L158.7,449.25 L159.1,447.89 L159.5,445.75 L159.9,442.61 L160.3,438.49 L160.7,433.72 L161.1,429.02 L161.5,425.34 L161.9,423.58 L162.3,423.88 L162.7,425.48 L163.1,428.12 L163.5,431.44 L163.9,435.02 L164.3,438.51 L164.7,441.63 L165.1,444.22 L165.5,446.25 L165.9,447.74 L166.3,448.81 L166.7,449.54 L167.1,450.04 L167.5,450.39 L167.9,450.63 L168.3,450.81 L168.7,450.95 L169.1,451.06 L169.5,451.15 L169.9,451.23 L170.3,451.29 L170.7,451.34 L171.1,451.38 L171.5,451.41 L171.9,451.43 L172.3,451.45 L172.7,451.46 L173.1,451.47 L173.5,451.48 L173.9,451.49 L174.3,451.49 L174.7,451.49 L175.1,451.50 L175.5,451.50 L175.9,451.50 L176.3,451.50 L176.7,451.50 L177.1,451.50 L177.5,451.50 L177.9,451.50 L178.3,451.50 L178.7,451.50 L179.1,451.50 L179.5,451.50 L179.9,451.50 L180.3,451.50 L180.7,451.50 L181.1,451.50 L181.5,451.50 L181.9,451.50 L182.3,451.50 L182.7,451.50 L183.1,451.50 L183.5,451.50 L183.9,451.50 L184.3,451.50 L184.7,451.50 L185.1,451.50 L185.5,451.50 L185.9,451.50 L186.3,451.50 L186.7,451.50 L187.1,451.50 L187.5,451.50 L187.9,451.50 L188.3,451.50 L188.7,451.50 L189.1,451.50 L189.5,451.50 L189.9,451.50 L190.3,451.50 L190.7,451.50 L191.1,451.50 L191.5,451.50 L191.9,451.50 L192.3,451.50 L192.5,451.5 Z" fill="#a8082b" stroke="none" stroke-width="1"/>
<path d="M101.5,482.5 L101.5,482.50 L101.9,482.50 L102.3,482.50 L102.7,482.50 L103.1,482.50 L103.5,482.50 L103.9,482.50 L104.3,482.50 L104.7,482.50 L105.1,482.50 L105.5,482.50 L105.9,482.50 L106.3,482.50 L106.7,482.50 L107.1,482.50 L107.5,482.50 L107.9,482.50 L108.3,482.50 L108.7,482.50 L109.1,482.50 L109.5,482.50 L109.9,482.50 L110.3,482.50 L110.7,482.50 L111.1,482.50 L111.5,482.50 L111.9,482.50 L112.3,482.50 L112.7,482.50 L113.1,482.50 L113.5,482.50 L113.9,482.50 L114.3,482.50 L114.7,482.50 L115.1,482.50 L115.5,482.50 L115.9,482.50 L116.3,482.50 L116.7,482.50 L117.1,482.50 L117.5,482.50 L117.9,482.50 L118.3,482.50 L118.7,482.50 L119.1,482.50 L119.5,482.50 L119.9,482.50 L120.3,482.50 L120.7,482.50 L121.1,482.50 L121.5,482.50 L121.9,482.50 L122.3,482.50 L122.7,482.50 L123.1,482.50 L123.5,482.50 L123.9,482.50 L124.3,482.50 L124.7,482.50 L125.1,482.50 L125.5,482.50 L125.9,482.50 L126.3,482.50 L126.7,482.50 L127.1,482.50 L127.5,482.50 L127.9,482.50 L128.3,482.50 L128.7,482.50 L129.1,482.50 L129.5,482.50 L129.9,482.50 L130.3,482.50 L130.7,482.50 L131.1,482.50 L131.5,482.50 L131.9,482.50 L132.3,482.50 L132.7,482.50 L133.1,482.50 L133.5,482.50 L133.9,482.50 L134.3,482.50 L134.7,482.50 L135.1,482.50 L135.5,482.50 L135.9,482.50 L136.3,482.50 L136.7,482.50 L137.1,482.49 L137.5,482.48 L137.9,482.45 L138.3,482.38 L138.7,482.26 L139.1,482.07 L139.5,481.81 L139.9,481.51 L140.3,481.23 L140.7,481.04 L141.1,480.99 L141.5,481.08 L141.9,481.27 L142.3,481.44 L142.7,481.50 L143.1,481.38 L143.5,481.05 L143.9,480.58 L144.3,480.10 L144.7,479.77 L145.1,479.70 L145.5,479.93 L145.9,480.38 L146.3,480.92 L146.7,481.41 L147.1,481.74 L147.5,481.86 L147.9,481.74 L148.3,481.41 L148.7,480.92 L149.1,480.38 L149.5,479.93 L149.9,479.71 L150.3,479.78 L150.7,480.13 L151.1,480.65 L151.5,481.17 L151.9,481.59 L152.3,481.81 L152.7,481.80 L153.1,481.54 L153.5,481.08 L153.9,480.50 L154.3,479.94 L154.7,479.55 L155.1,479.44 L155.5,479.65 L155.9,480.08 L156.3,480.61 L156.7,481.08 L157.1,481.39 L157.5,481.50 L157.9,481.39 L158.3,481.01 L158.7,480.26 L159.1,478.97 L159.5,476.90 L159.9,473.88 L160.3,469.91 L160.7,465.32 L161.1,460.80 L161.5,457.27 L161.9,455.57 L162.3,455.86 L162.7,457.40 L163.1,459.94 L163.5,463.13 L163.9,466.58 L164.3,469.94 L164.7,472.94 L165.1,475.43 L165.5,477.38 L165.9,478.83 L166.3,479.86 L166.7,480.57 L167.1,481.06 L167.5,481.39 L167.9,481.64 L168.3,481.81 L168.7,481.95 L169.1,482.06 L169.5,482.16 L169.9,482.23 L170.3,482.29 L170.7,482.34 L171.1,482.38 L171.5,482.41 L171.9,482.43 L172.3,482.45 L172.7,482.46 L173.1,482.47 L173.5,482.48 L173.9,482.49 L174.3,482.49 L174.7,482.49 L175.1,482.50 L175.5,482.50 L175.9,482.50 L176.3,482.50 L176.7,482.50 L177.1,482.50 L177.5,482.50 L177.9,482.50 L178.3,482.50 L178.7,482.50 L179.1,482.50 L179.5,482.50 L179.9,482.50 L180.3,482.50 L180.7,482.50 L181.1,482.50 L181.5,482.50 L181.9,482.50 L182.3,482.50 L182.7,482.50 L183.1,482.50 L183.5,482.50 L183.9,482.50 L184.3,482.50 L184.7,482.50 L185.1,482.50 L185.5,482.50 L185.9,482.50 L186.3,482.50 L186.7,482.50 L187.1,482.50 L187.5,482.50 L187.9,482.50 L188.3,482.50 L188.7,482.50 L189.1,482.50 L189.5,482.50 L189.9,482.50 L190.3,482.50 L190.7,482.50 L191.1,482.50 L191.5,482.50 L191.9,482.50 L192.3,482.50 L192.5,482.5 Z" fill="#a8082b" stroke="none" stroke-width="1"/>
<path d="M101.5,513 L101.5,513.00 L101.9,513.00 L102.3,513.00 L102.7,513.00 L103.1,513.00 L103.5,513.00 L103.9,513.00 L104.3,513.00 L104.7,513.00 L105.1,513.00 L105.5,513.00 L105.9,513.00 L106.3,513.00 L106.7,513.00 L107.1,513.00 L107.5,513.00 L107.9,513.00 L108.3,513.00 L108.7,513.00 L109.1,513.00 L109.5,513.00 L109.9,513.00 L110.3,513.00 L110.7,513.00 L111.1,513.00 L111.5,513.00 L111.9,513.00 L112.3,513.00 L112.7,513.00 L113.1,513.00 L113.5,513.00 L113.9,513.00 L114.3,513.00 L114.7,513.00 L115.1,513.00 L115.5,513.00 L115.9,513.00 L116.3,513.00 L116.7,513.00 L117.1,513.00 L117.5,513.00 L117.9,513.00 L118.3,513.00 L118.7,513.00 L119.1,513.00 L119.5,513.00 L119.9,513.00 L120.3,513.00 L120.7,513.00 L121.1,513.00 L121.5,513.00 L121.9,513.00 L122.3,513.00 L122.7,513.00 L123.1,513.00 L123.5,513.00 L123.9,513.00 L124.3,513.00 L124.7,513.00 L125.1,513.00 L125.5,513.00 L125.9,513.00 L126.3,513.00 L126.7,513.00 L127.1,513.00 L127.5,513.00 L127.9,513.00 L128.3,513.00 L128.7,513.00 L129.1,513.00 L129.5,513.00 L129.9,513.00 L130.3,513.00 L130.7,513.00 L131.1,513.00 L131.5,513.00 L131.9,513.00 L132.3,513.00 L132.7,513.00 L133.1,513.00 L133.5,513.00 L133.9,513.00 L134.3,513.00 L134.7,513.00 L135.1,513.00 L135.5,513.00 L135.9,513.00 L136.3,513.00 L136.7,513.00 L137.1,513.00 L137.5,513.00 L137.9,513.00 L138.3,513.00 L138.7,513.00 L139.1,513.00 L139.5,513.00 L139.9,513.00 L140.3,513.00 L140.7,513.00 L141.1,513.00 L141.5,513.00 L141.9,513.00 L142.3,513.00 L142.7,513.00 L143.1,513.00 L143.5,513.00 L143.9,513.00 L144.3,513.00 L144.7,513.00 L145.1,513.00 L145.5,513.00 L145.9,513.00 L146.3,513.00 L146.7,513.00 L147.1,513.00 L147.5,513.00 L147.9,513.00 L148.3,513.00 L148.7,513.00 L149.1,513.00 L149.5,513.00 L149.9,513.00 L150.3,513.00 L150.7,513.00 L151.1,513.00 L151.5,513.00 L151.9,513.00 L152.3,513.00 L152.7,513.00 L153.1,512.99 L153.5,512.99 L153.9,512.98 L154.3,512.97 L154.7,512.96 L155.1,512.93 L155.5,512.90 L155.9,512.85 L156.3,512.78 L156.7,512.68 L157.1,512.54 L157.5,512.34 L157.9,512.05 L158.3,511.56 L158.7,510.75 L159.1,509.39 L159.5,507.25 L159.9,504.11 L160.3,499.99 L160.7,495.22 L161.1,490.52 L161.5,486.84 L161.9,485.08 L162.3,485.38 L162.7,486.98 L163.1,489.62 L163.5,492.94 L163.9,496.52 L164.3,500.01 L164.7,503.13 L165.1,505.72 L165.5,507.75 L165.9,509.24 L166.3,510.31 L166.7,511.04 L167.1,511.54 L167.5,511.89 L167.9,512.13 L168.3,512.31 L168.7,512.45 L169.1,512.56 L169.5,512.65 L169.9,512.73 L170.3,512.79 L170.7,512.84 L171.1,512.88 L171.5,512.91 L171.9,512.93 L172.3,512.95 L172.7,512.96 L173.1,512.97 L173.5,512.98 L173.9,512.99 L174.3,512.99 L174.7,512.99 L175.1,513.00 L175.5,513.00 L175.9,513.00 L176.3,513.00 L176.7,513.00 L177.1,513.00 L177.5,513.00 L177.9,513.00 L178.3,513.00 L178.7,513.00 L179.1,513.00 L179.5,513.00 L179.9,513.00 L180.3,513.00 L180.7,513.00 L181.1,513.00 L181.5,513.00 L181.9,513.00 L182.3,513.00 L182.7,513.00 L183.1,513.00 L183.5,513.00 L183.9,513.00 L184.3,513.00 L184.7,513.00 L185.1,513.00 L185.5,513.00 L185.9,513.00 L186.3,513.00 L186.7,513.00 L187.1,513.00 L187.5,513.00 L187.9,513.00 L188.3,513.00 L188.7,513.00 L189.1,513.00 L189.5,513.00 L189.9,513.00 L190.3,513.00 L190.7,513.00 L191.1,513.00 L191.5,513.00 L191.9,513.00 L192.3,513.00 L192.5,513 Z" fill="#a8082b" stroke="none" stroke-width="1"/>
<path d="M101.5,544 L101.5,544.00 L101.9,544.00 L102.3,544.00 L102.7,544.00 L103.1,544.00 L103.5,544.00 L103.9,544.00 L104.3,544.00 L104.7,544.00 L105.1,544.00 L105.5,544.00 L105.9,544.00 L106.3,544.00 L106.7,544.00 L107.1,544.00 L107.5,544.00 L107.9,544.00 L108.3,544.00 L108.7,544.00 L109.1,544.00 L109.5,544.00 L109.9,544.00 L110.3,544.00 L110.7,544.00 L111.1,544.00 L111.5,544.00 L111.9,544.00 L112.3,544.00 L112.7,544.00 L113.1,544.00 L113.5,544.00 L113.9,544.00 L114.3,544.00 L114.7,544.00 L115.1,544.00 L115.5,544.00 L115.9,544.00 L116.3,544.00 L116.7,544.00 L117.1,544.00 L117.5,544.00 L117.9,544.00 L118.3,544.00 L118.7,544.00 L119.1,544.00 L119.5,544.00 L119.9,544.00 L120.3,544.00 L120.7,544.00 L121.1,544.00 L121.5,544.00 L121.9,544.00 L122.3,544.00 L122.7,544.00 L123.1,544.00 L123.5,544.00 L123.9,544.00 L124.3,544.00 L124.7,544.00 L125.1,544.00 L125.5,544.00 L125.9,544.00 L126.3,544.00 L126.7,544.00 L127.1,544.00 L127.5,544.00 L127.9,544.00 L128.3,544.00 L128.7,544.00 L129.1,544.00 L129.5,544.00 L129.9,544.00 L130.3,544.00 L130.7,544.00 L131.1,544.00 L131.5,544.00 L131.9,544.00 L132.3,544.00 L132.7,544.00 L133.1,544.00 L133.5,544.00 L133.9,544.00 L134.3,544.00 L134.7,544.00 L135.1,544.00 L135.5,544.00 L135.9,544.00 L136.3,544.00 L136.7,544.00 L137.1,544.00 L137.5,544.00 L137.9,544.00 L138.3,544.00 L138.7,544.00 L139.1,544.00 L139.5,544.00 L139.9,544.00 L140.3,544.00 L140.7,544.00 L141.1,544.00 L141.5,544.00 L141.9,544.00 L142.3,544.00 L142.7,544.00 L143.1,544.00 L143.5,544.00 L143.9,544.00 L144.3,544.00 L144.7,544.00 L145.1,544.00 L145.5,543.99 L145.9,543.98 L146.3,543.96 L146.7,543.93 L147.1,543.88 L147.5,543.80 L147.9,543.70 L148.3,543.58 L148.7,543.45 L149.1,543.33 L149.5,543.24 L149.9,543.20 L150.3,543.20 L150.7,543.25 L151.1,543.32 L151.5,543.38 L151.9,543.40 L152.3,543.36 L152.7,543.22 L153.1,543.00 L153.5,542.73 L153.9,542.43 L154.3,542.17 L154.7,541.99 L155.1,541.94 L155.5,542.00 L155.9,542.18 L156.3,542.40 L156.7,542.62 L157.1,542.79 L157.5,542.85 L157.9,542.74 L158.3,542.38 L158.7,541.65 L159.1,540.34 L159.5,538.22 L159.9,535.10 L160.3,530.98 L160.7,526.21 L161.1,521.52 L161.5,517.84 L161.9,516.08 L162.3,516.38 L162.7,517.98 L163.1,520.62 L163.5,523.94 L163.9,527.52 L164.3,531.01 L164.7,534.13 L165.1,536.72 L165.5,538.75 L165.9,540.24 L166.3,541.31 L166.7,542.04 L167.1,542.54 L167.5,542.89 L167.9,543.13 L168.3,543.31 L168.7,543.45 L169.1,543.56 L169.5,543.65 L169.9,543.73 L170.3,543.79 L170.7,543.84 L171.1,543.88 L171.5,543.91 L171.9,543.93 L172.3,543.95 L172.7,543.96 L173.1,543.97 L173.5,543.98 L173.9,543.99 L174.3,543.99 L174.7,543.99 L175.1,544.00 L175.5,544.00 L175.9,544.00 L176.3,544.00 L176.7,544.00 L177.1,544.00 L177.5,544.00 L177.9,544.00 L178.3,544.00 L178.7,544.00 L179.1,544.00 L179.5,544.00 L179.9,544.00 L180.3,544.00 L180.7,544.00 L181.1,544.00 L181.5,544.00 L181.9,544.00 L182.3,544.00 L182.7,544.00 L183.1,544.00 L183.5,544.00 L183.9,544.00 L184.3,544.00 L184.7,544.00 L185.1,544.00 L185.5,544.00 L185.9,544.00 L186.3,544.00 L186.7,544.00 L187.1,544.00 L187.5,544.00 L187.9,544.00 L188.3,544.00 L188.7,544.00 L189.1,544.00 L189.5,544.00 L189.9,544.00 L190.3,544.00 L190.7,544.00 L191.1,544.00 L191.5,544.00 L191.9,544.00 L192.3,544.00 L192.5,544 Z" fill="#a8082b" stroke="none" stroke-width="1"/>
<line x1="101.5" y1="451.5" x2="192.5" y2="451.5" stroke="#111" stroke-width="1.3"/>
<line x1="101.5" y1="482.5" x2="192.5" y2="482.5" stroke="#111" stroke-width="1.3"/>
<line x1="101.5" y1="513" x2="192.5" y2="513" stroke="#111" stroke-width="1.3"/>
<rect x="101.5" y="421.5" width="91.0" height="122.5" fill="none" stroke="#111" stroke-width="1.5"/>
<path d="M103.6,544.5v1.2M105.8,544.5v1.2M107.6,544.5v1.2M109.0,544.5v1.2M110.2,544.5v1.2M111.3,544.5v1.2M112.2,544.5v1.2M118.4,544.5v1.2M121.6,544.5v1.2M123.8,544.5v1.2M125.6,544.5v1.2M127.0,544.5v1.2M128.2,544.5v1.2M129.3,544.5v1.2M130.2,544.5v1.2M136.4,544.5v1.2M139.6,544.5v1.2M141.8,544.5v1.2M143.6,544.5v1.2M145.0,544.5v1.2M146.2,544.5v1.2M147.3,544.5v1.2M148.2,544.5v1.2M154.4,544.5v1.2M157.6,544.5v1.2M159.8,544.5v1.2M161.6,544.5v1.2M163.0,544.5v1.2M164.2,544.5v1.2M165.3,544.5v1.2M166.2,544.5v1.2M172.4,544.5v1.2M175.6,544.5v1.2M177.8,544.5v1.2M179.6,544.5v1.2M181.0,544.5v1.2M182.2,544.5v1.2M183.3,544.5v1.2M184.2,544.5v1.2M190.4,544.5v1.2M113.0,544.5v2.2M131.0,544.5v2.2M149.0,544.5v2.2M167.0,544.5v2.2M185.0,544.5v2.2" fill="none" stroke="#111" stroke-width="0.7"/>
<text x="112.3" y="557.3" font-size="8.5" text-anchor="middle" fill="#333333">10<tspan font-size="5.8" dy="-3.2">2</tspan></text>
<text x="130.3" y="557.3" font-size="8.5" text-anchor="middle" fill="#333333">10<tspan font-size="5.8" dy="-3.2">3</tspan></text>
<text x="148.3" y="557.3" font-size="8.5" text-anchor="middle" fill="#333333">10<tspan font-size="5.8" dy="-3.2">4</tspan></text>
<text x="166.3" y="557.3" font-size="8.5" text-anchor="middle" fill="#333333">10<tspan font-size="5.8" dy="-3.2">5</tspan></text>
<text x="184.5" y="557.3" font-size="8.5" text-anchor="middle" fill="#333333">10<tspan font-size="5.8" dy="-3.2">6</tspan></text>
<text x="147" y="417" font-size="8" text-anchor="middle" fill="#333333">CD4<tspan font-size="5.5" dy="-3">+</tspan><tspan dy="3"> T cells</tspan></text>
<text x="147.3" y="570" font-size="8.7" text-anchor="middle" textLength="15.5" lengthAdjust="spacingAndGlyphs" fill="#2a2a2a" stroke="#2a2a2a" stroke-width="0.28">CFSE</text>
<text x="98" y="441.3" font-size="8" text-anchor="end" fill="#333333">Control</text>
<text x="98" y="471.3" font-size="8" text-anchor="end" fill="#333333">+PHA</text>
<text x="98" y="502.3" font-size="8" text-anchor="end" fill="#333333">+PHA +L-Mono</text>
<text x="98" y="531.8" font-size="8" text-anchor="end" fill="#333333">+PHA +Rapa-L-Mono</text>
<path d="M211,452 L211.0,452.00 L211.4,452.00 L211.8,452.00 L212.2,452.00 L212.6,452.00 L213.0,452.00 L213.4,452.00 L213.8,452.00 L214.2,452.00 L214.6,452.00 L215.0,452.00 L215.4,452.00 L215.8,452.00 L216.2,452.00 L216.6,452.00 L217.0,452.00 L217.4,452.00 L217.8,452.00 L218.2,452.00 L218.6,452.00 L219.0,452.00 L219.4,452.00 L219.8,452.00 L220.2,452.00 L220.6,452.00 L221.0,452.00 L221.4,452.00 L221.8,452.00 L222.2,452.00 L222.6,452.00 L223.0,452.00 L223.4,452.00 L223.8,452.00 L224.2,452.00 L224.6,452.00 L225.0,452.00 L225.4,452.00 L225.8,452.00 L226.2,452.00 L226.6,452.00 L227.0,452.00 L227.4,452.00 L227.8,452.00 L228.2,452.00 L228.6,452.00 L229.0,452.00 L229.4,452.00 L229.8,452.00 L230.2,452.00 L230.6,452.00 L231.0,452.00 L231.4,452.00 L231.8,452.00 L232.2,452.00 L232.6,452.00 L233.0,452.00 L233.4,452.00 L233.8,452.00 L234.2,452.00 L234.6,452.00 L235.0,452.00 L235.4,452.00 L235.8,452.00 L236.2,452.00 L236.6,452.00 L237.0,452.00 L237.4,452.00 L237.8,452.00 L238.2,452.00 L238.6,452.00 L239.0,452.00 L239.4,452.00 L239.8,452.00 L240.2,452.00 L240.6,452.00 L241.0,452.00 L241.4,452.00 L241.8,452.00 L242.2,452.00 L242.6,452.00 L243.0,452.00 L243.4,452.00 L243.8,452.00 L244.2,452.00 L244.6,452.00 L245.0,452.00 L245.4,452.00 L245.8,452.00 L246.2,452.00 L246.6,452.00 L247.0,452.00 L247.4,452.00 L247.8,452.00 L248.2,452.00 L248.6,452.00 L249.0,452.00 L249.4,452.00 L249.8,452.00 L250.2,452.00 L250.6,452.00 L251.0,452.00 L251.4,452.00 L251.8,452.00 L252.2,452.00 L252.6,452.00 L253.0,452.00 L253.4,452.00 L253.8,452.00 L254.2,452.00 L254.6,452.00 L255.0,452.00 L255.4,452.00 L255.8,452.00 L256.2,452.00 L256.6,452.00 L257.0,452.00 L257.4,452.00 L257.8,452.00 L258.2,452.00 L258.6,452.00 L259.0,452.00 L259.4,452.00 L259.8,452.00 L260.2,452.00 L260.6,452.00 L261.0,452.00 L261.4,452.00 L261.8,452.00 L262.2,452.00 L262.6,452.00 L263.0,452.00 L263.4,452.00 L263.8,451.99 L264.2,451.99 L264.6,451.98 L265.0,451.97 L265.4,451.95 L265.8,451.92 L266.2,451.87 L266.6,451.81 L267.0,451.73 L267.4,451.61 L267.8,451.45 L268.2,451.21 L268.6,450.83 L269.0,450.21 L269.4,449.15 L269.8,447.43 L270.2,444.81 L270.6,441.16 L271.0,436.65 L271.4,431.80 L271.8,427.49 L272.2,424.68 L272.6,424.04 L273.0,425.03 L273.4,427.19 L273.8,430.22 L274.2,433.72 L274.6,437.30 L275.0,440.63 L275.4,443.50 L275.8,445.80 L276.2,447.56 L276.6,448.82 L277.0,449.71 L277.4,450.32 L277.8,450.73 L278.2,451.02 L278.6,451.23 L279.0,451.39 L279.4,451.51 L279.8,451.61 L280.2,451.69 L280.6,451.76 L281.0,451.82 L281.4,451.86 L281.8,451.89 L282.2,451.92 L282.6,451.94 L283.0,451.96 L283.4,451.97 L283.8,451.98 L284.2,451.98 L284.6,451.99 L285.0,451.99 L285.4,452.00 L285.8,452.00 L286.2,452.00 L286.6,452.00 L287.0,452.00 L287.4,452.00 L287.8,452.00 L288.2,452.00 L288.6,452.00 L289.0,452.00 L289.4,452.00 L289.8,452.00 L290.2,452.00 L290.6,452.00 L291.0,452.00 L291.4,452.00 L291.8,452.00 L292.2,452.00 L292.6,452.00 L293.0,452.00 L293.4,452.00 L293.8,452.00 L294.2,452.00 L294.6,452.00 L295.0,452.00 L295.4,452.00 L295.8,452.00 L296.2,452.00 L296.6,452.00 L297.0,452.00 L297.4,452.00 L297.8,452.00 L298.2,452.00 L298.6,452.00 L299.0,452.00 L299.4,452.00 L299.8,452.00 L300.2,452.00 L300.6,452.00 L301.0,452.00 L301.4,452.00 L301.8,452.00 L302.2,452.00 L302.5,452 Z" fill="#a8082b" stroke="none" stroke-width="1"/>
<path d="M211,483 L211.0,483.00 L211.4,483.00 L211.8,483.00 L212.2,483.00 L212.6,483.00 L213.0,483.00 L213.4,483.00 L213.8,483.00 L214.2,483.00 L214.6,483.00 L215.0,483.00 L215.4,483.00 L215.8,483.00 L216.2,483.00 L216.6,483.00 L217.0,483.00 L217.4,483.00 L217.8,483.00 L218.2,483.00 L218.6,483.00 L219.0,483.00 L219.4,483.00 L219.8,483.00 L220.2,483.00 L220.6,483.00 L221.0,483.00 L221.4,483.00 L221.8,483.00 L222.2,483.00 L222.6,483.00 L223.0,483.00 L223.4,483.00 L223.8,483.00 L224.2,483.00 L224.6,483.00 L225.0,483.00 L225.4,483.00 L225.8,483.00 L226.2,483.00 L226.6,483.00 L227.0,483.00 L227.4,483.00 L227.8,483.00 L228.2,483.00 L228.6,483.00 L229.0,483.00 L229.4,483.00 L229.8,483.00 L230.2,483.00 L230.6,483.00 L231.0,483.00 L231.4,483.00 L231.8,483.00 L232.2,483.00 L232.6,483.00 L233.0,483.00 L233.4,483.00 L233.8,483.00 L234.2,483.00 L234.6,483.00 L235.0,483.00 L235.4,483.00 L235.8,483.00 L236.2,483.00 L236.6,483.00 L237.0,483.00 L237.4,483.00 L237.8,483.00 L238.2,483.00 L238.6,483.00 L239.0,483.00 L239.4,483.00 L239.8,483.00 L240.2,483.00 L240.6,483.00 L241.0,483.00 L241.4,483.00 L241.8,482.99 L242.2,482.99 L242.6,482.99 L243.0,482.99 L243.4,482.98 L243.8,482.98 L244.2,482.97 L244.6,482.96 L245.0,482.95 L245.4,482.94 L245.8,482.91 L246.2,482.87 L246.6,482.80 L247.0,482.66 L247.4,482.43 L247.8,482.05 L248.2,481.47 L248.6,480.66 L249.0,479.62 L249.4,478.40 L249.8,477.14 L250.2,476.01 L250.6,475.20 L251.0,474.82 L251.4,474.92 L251.8,475.43 L252.2,476.15 L252.6,476.84 L253.0,477.29 L253.4,477.34 L253.8,476.91 L254.2,476.06 L254.6,474.95 L255.0,473.78 L255.4,472.81 L255.8,472.23 L256.2,472.16 L256.6,472.62 L257.0,473.51 L257.4,474.65 L257.8,475.84 L258.2,476.89 L258.6,477.63 L259.0,478.00 L259.4,477.99 L259.8,477.66 L260.2,477.14 L260.6,476.59 L261.0,476.17 L261.4,476.02 L261.8,476.20 L262.2,476.70 L262.6,477.43 L263.0,478.26 L263.4,479.05 L263.8,479.67 L264.2,480.05 L264.6,480.16 L265.0,480.00 L265.4,479.66 L265.8,479.20 L266.2,478.76 L266.6,478.44 L267.0,478.31 L267.4,478.41 L267.8,478.69 L268.2,479.05 L268.6,479.33 L269.0,479.35 L269.4,478.84 L269.8,477.55 L270.2,475.24 L270.6,471.80 L271.0,467.41 L271.4,462.65 L271.8,458.38 L272.2,455.60 L272.6,454.98 L273.0,455.98 L273.4,458.15 L273.8,461.19 L274.2,464.70 L274.6,468.28 L275.0,471.62 L275.4,474.49 L275.8,476.80 L276.2,478.55 L276.6,479.82 L277.0,480.71 L277.4,481.31 L277.8,481.73 L278.2,482.02 L278.6,482.23 L279.0,482.39 L279.4,482.51 L279.8,482.61 L280.2,482.69 L280.6,482.76 L281.0,482.81 L281.4,482.86 L281.8,482.89 L282.2,482.92 L282.6,482.94 L283.0,482.96 L283.4,482.97 L283.8,482.98 L284.2,482.98 L284.6,482.99 L285.0,482.99 L285.4,483.00 L285.8,483.00 L286.2,483.00 L286.6,483.00 L287.0,483.00 L287.4,483.00 L287.8,483.00 L288.2,483.00 L288.6,483.00 L289.0,483.00 L289.4,483.00 L289.8,483.00 L290.2,483.00 L290.6,483.00 L291.0,483.00 L291.4,483.00 L291.8,483.00 L292.2,483.00 L292.6,483.00 L293.0,483.00 L293.4,483.00 L293.8,483.00 L294.2,483.00 L294.6,483.00 L295.0,483.00 L295.4,483.00 L295.8,483.00 L296.2,483.00 L296.6,483.00 L297.0,483.00 L297.4,483.00 L297.8,483.00 L298.2,483.00 L298.6,483.00 L299.0,483.00 L299.4,483.00 L299.8,483.00 L300.2,483.00 L300.6,483.00 L301.0,483.00 L301.4,483.00 L301.8,483.00 L302.2,483.00 L302.5,483 Z" fill="#a8082b" stroke="none" stroke-width="1"/>
<path d="M211,513.5 L211.0,513.50 L211.4,513.50 L211.8,513.50 L212.2,513.50 L212.6,513.50 L213.0,513.50 L213.4,513.50 L213.8,513.50 L214.2,513.50 L214.6,513.50 L215.0,513.50 L215.4,513.50 L215.8,513.50 L216.2,513.50 L216.6,513.50 L217.0,513.50 L217.4,513.50 L217.8,513.50 L218.2,513.50 L218.6,513.50 L219.0,513.50 L219.4,513.50 L219.8,513.50 L220.2,513.50 L220.6,513.50 L221.0,513.50 L221.4,513.50 L221.8,513.50 L222.2,513.50 L222.6,513.50 L223.0,513.50 L223.4,513.50 L223.8,513.50 L224.2,513.50 L224.6,513.50 L225.0,513.50 L225.4,513.50 L225.8,513.50 L226.2,513.50 L226.6,513.50 L227.0,513.50 L227.4,513.50 L227.8,513.50 L228.2,513.50 L228.6,513.50 L229.0,513.50 L229.4,513.50 L229.8,513.50 L230.2,513.50 L230.6,513.50 L231.0,513.50 L231.4,513.50 L231.8,513.50 L232.2,513.50 L232.6,513.50 L233.0,513.50 L233.4,513.50 L233.8,513.50 L234.2,513.50 L234.6,513.50 L235.0,513.50 L235.4,513.50 L235.8,513.50 L236.2,513.50 L236.6,513.50 L237.0,513.50 L237.4,513.50 L237.8,513.50 L238.2,513.50 L238.6,513.50 L239.0,513.50 L239.4,513.50 L239.8,513.50 L240.2,513.50 L240.6,513.50 L241.0,513.50 L241.4,513.50 L241.8,513.50 L242.2,513.50 L242.6,513.50 L243.0,513.50 L243.4,513.50 L243.8,513.50 L244.2,513.50 L244.6,513.50 L245.0,513.50 L245.4,513.50 L245.8,513.50 L246.2,513.50 L246.6,513.50 L247.0,513.50 L247.4,513.50 L247.8,513.50 L248.2,513.50 L248.6,513.50 L249.0,513.50 L249.4,513.50 L249.8,513.50 L250.2,513.50 L250.6,513.50 L251.0,513.50 L251.4,513.50 L251.8,513.50 L252.2,513.50 L252.6,513.50 L253.0,513.50 L253.4,513.50 L253.8,513.50 L254.2,513.50 L254.6,513.50 L255.0,513.50 L255.4,513.50 L255.8,513.50 L256.2,513.50 L256.6,513.50 L257.0,513.50 L257.4,513.50 L257.8,513.50 L258.2,513.50 L258.6,513.50 L259.0,513.50 L259.4,513.50 L259.8,513.50 L260.2,513.50 L260.6,513.50 L261.0,513.50 L261.4,513.50 L261.8,513.50 L262.2,513.50 L262.6,513.50 L263.0,513.50 L263.4,513.50 L263.8,513.49 L264.2,513.49 L264.6,513.48 L265.0,513.47 L265.4,513.45 L265.8,513.42 L266.2,513.37 L266.6,513.31 L267.0,513.23 L267.4,513.11 L267.8,512.95 L268.2,512.71 L268.6,512.33 L269.0,511.71 L269.4,510.65 L269.8,508.93 L270.2,506.31 L270.6,502.66 L271.0,498.15 L271.4,493.30 L271.8,488.99 L272.2,486.18 L272.6,485.54 L273.0,486.53 L273.4,488.69 L273.8,491.72 L274.2,495.22 L274.6,498.80 L275.0,502.13 L275.4,505.00 L275.8,507.30 L276.2,509.06 L276.6,510.32 L277.0,511.21 L277.4,511.82 L277.8,512.23 L278.2,512.52 L278.6,512.73 L279.0,512.89 L279.4,513.01 L279.8,513.11 L280.2,513.19 L280.6,513.26 L281.0,513.32 L281.4,513.36 L281.8,513.39 L282.2,513.42 L282.6,513.44 L283.0,513.46 L283.4,513.47 L283.8,513.48 L284.2,513.48 L284.6,513.49 L285.0,513.49 L285.4,513.50 L285.8,513.50 L286.2,513.50 L286.6,513.50 L287.0,513.50 L287.4,513.50 L287.8,513.50 L288.2,513.50 L288.6,513.50 L289.0,513.50 L289.4,513.50 L289.8,513.50 L290.2,513.50 L290.6,513.50 L291.0,513.50 L291.4,513.50 L291.8,513.50 L292.2,513.50 L292.6,513.50 L293.0,513.50 L293.4,513.50 L293.8,513.50 L294.2,513.50 L294.6,513.50 L295.0,513.50 L295.4,513.50 L295.8,513.50 L296.2,513.50 L296.6,513.50 L297.0,513.50 L297.4,513.50 L297.8,513.50 L298.2,513.50 L298.6,513.50 L299.0,513.50 L299.4,513.50 L299.8,513.50 L300.2,513.50 L300.6,513.50 L301.0,513.50 L301.4,513.50 L301.8,513.50 L302.2,513.50 L302.5,513.5 Z" fill="#a8082b" stroke="none" stroke-width="1"/>
<path d="M211,544.5 L211.0,544.50 L211.4,544.50 L211.8,544.50 L212.2,544.50 L212.6,544.50 L213.0,544.50 L213.4,544.50 L213.8,544.50 L214.2,544.50 L214.6,544.50 L215.0,544.50 L215.4,544.50 L215.8,544.50 L216.2,544.50 L216.6,544.50 L217.0,544.50 L217.4,544.50 L217.8,544.50 L218.2,544.50 L218.6,544.50 L219.0,544.50 L219.4,544.50 L219.8,544.50 L220.2,544.50 L220.6,544.50 L221.0,544.50 L221.4,544.50 L221.8,544.50 L222.2,544.50 L222.6,544.50 L223.0,544.50 L223.4,544.50 L223.8,544.50 L224.2,544.50 L224.6,544.50 L225.0,544.50 L225.4,544.50 L225.8,544.50 L226.2,544.50 L226.6,544.50 L227.0,544.50 L227.4,544.50 L227.8,544.50 L228.2,544.50 L228.6,544.50 L229.0,544.50 L229.4,544.50 L229.8,544.50 L230.2,544.50 L230.6,544.50 L231.0,544.50 L231.4,544.50 L231.8,544.50 L232.2,544.50 L232.6,544.50 L233.0,544.50 L233.4,544.50 L233.8,544.50 L234.2,544.50 L234.6,544.50 L235.0,544.50 L235.4,544.50 L235.8,544.50 L236.2,544.50 L236.6,544.50 L237.0,544.50 L237.4,544.50 L237.8,544.50 L238.2,544.50 L238.6,544.50 L239.0,544.50 L239.4,544.50 L239.8,544.50 L240.2,544.50 L240.6,544.50 L241.0,544.50 L241.4,544.50 L241.8,544.50 L242.2,544.50 L242.6,544.50 L243.0,544.50 L243.4,544.50 L243.8,544.50 L244.2,544.50 L244.6,544.49 L245.0,544.49 L245.4,544.49 L245.8,544.48 L246.2,544.46 L246.6,544.43 L247.0,544.38 L247.4,544.29 L247.8,544.14 L248.2,543.91 L248.6,543.62 L249.0,543.26 L249.4,542.87 L249.8,542.50 L250.2,542.19 L250.6,541.96 L251.0,541.79 L251.4,541.60 L251.8,541.33 L252.2,540.89 L252.6,540.27 L253.0,539.50 L253.4,538.69 L253.8,537.96 L254.2,537.47 L254.6,537.29 L255.0,537.46 L255.4,537.93 L255.8,538.57 L256.2,539.24 L256.6,539.79 L257.0,540.10 L257.4,540.11 L257.8,539.81 L258.2,539.25 L258.6,538.54 L259.0,537.82 L259.4,537.24 L259.8,536.91 L260.2,536.91 L260.6,537.23 L261.0,537.82 L261.4,538.53 L261.8,539.23 L262.2,539.77 L262.6,540.05 L263.0,540.01 L263.4,539.66 L263.8,539.06 L264.2,538.34 L264.6,537.65 L265.0,537.16 L265.4,536.97 L265.8,537.15 L266.2,537.69 L266.6,538.50 L267.0,539.44 L267.4,540.38 L267.8,541.19 L268.2,541.76 L268.6,542.01 L269.0,541.82 L269.4,541.04 L269.8,539.46 L270.2,536.86 L270.6,533.15 L271.0,528.51 L271.4,523.51 L271.8,519.06 L272.2,516.15 L272.6,515.50 L273.0,516.54 L273.4,518.79 L273.8,521.94 L274.2,525.58 L274.6,529.30 L275.0,532.76 L275.4,535.74 L275.8,538.13 L276.2,539.95 L276.6,541.26 L277.0,542.17 L277.4,542.79 L277.8,543.22 L278.2,543.51 L278.6,543.73 L279.0,543.89 L279.4,544.01 L279.8,544.11 L280.2,544.19 L280.6,544.26 L281.0,544.32 L281.4,544.36 L281.8,544.39 L282.2,544.42 L282.6,544.44 L283.0,544.46 L283.4,544.47 L283.8,544.48 L284.2,544.48 L284.6,544.49 L285.0,544.49 L285.4,544.50 L285.8,544.50 L286.2,544.50 L286.6,544.50 L287.0,544.50 L287.4,544.50 L287.8,544.50 L288.2,544.50 L288.6,544.50 L289.0,544.50 L289.4,544.50 L289.8,544.50 L290.2,544.50 L290.6,544.50 L291.0,544.50 L291.4,544.50 L291.8,544.50 L292.2,544.50 L292.6,544.50 L293.0,544.50 L293.4,544.50 L293.8,544.50 L294.2,544.50 L294.6,544.50 L295.0,544.50 L295.4,544.50 L295.8,544.50 L296.2,544.50 L296.6,544.50 L297.0,544.50 L297.4,544.50 L297.8,544.50 L298.2,544.50 L298.6,544.50 L299.0,544.50 L299.4,544.50 L299.8,544.50 L300.2,544.50 L300.6,544.50 L301.0,544.50 L301.4,544.50 L301.8,544.50 L302.2,544.50 L302.5,544.5 Z" fill="#a8082b" stroke="none" stroke-width="1"/>
<line x1="211" y1="452" x2="302.5" y2="452" stroke="#111" stroke-width="1.3"/>
<line x1="211" y1="483" x2="302.5" y2="483" stroke="#111" stroke-width="1.3"/>
<line x1="211" y1="513.5" x2="302.5" y2="513.5" stroke="#111" stroke-width="1.3"/>
<rect x="211" y="422" width="91.5" height="122.5" fill="none" stroke="#111" stroke-width="1.5"/>
<path d="M213.1,545.0v1.2M215.3,545.0v1.2M217.1,545.0v1.2M218.5,545.0v1.2M219.7,545.0v1.2M220.8,545.0v1.2M221.7,545.0v1.2M227.9,545.0v1.2M231.1,545.0v1.2M233.3,545.0v1.2M235.1,545.0v1.2M236.5,545.0v1.2M237.7,545.0v1.2M238.8,545.0v1.2M239.7,545.0v1.2M245.9,545.0v1.2M249.1,545.0v1.2M251.3,545.0v1.2M253.1,545.0v1.2M254.5,545.0v1.2M255.7,545.0v1.2M256.8,545.0v1.2M257.7,545.0v1.2M263.9,545.0v1.2M267.1,545.0v1.2M269.3,545.0v1.2M271.1,545.0v1.2M272.5,545.0v1.2M273.7,545.0v1.2M274.8,545.0v1.2M275.7,545.0v1.2M281.9,545.0v1.2M285.1,545.0v1.2M287.3,545.0v1.2M289.1,545.0v1.2M290.5,545.0v1.2M291.7,545.0v1.2M292.8,545.0v1.2M293.7,545.0v1.2M299.9,545.0v1.2M222.5,545.0v2.2M240.5,545.0v2.2M258.5,545.0v2.2M276.5,545.0v2.2M294.5,545.0v2.2" fill="none" stroke="#111" stroke-width="0.7"/>
<text x="222" y="557.3" font-size="8.5" text-anchor="middle" fill="#333333">10<tspan font-size="5.8" dy="-3.2">2</tspan></text>
<text x="240" y="557.3" font-size="8.5" text-anchor="middle" fill="#333333">10<tspan font-size="5.8" dy="-3.2">3</tspan></text>
<text x="258" y="557.3" font-size="8.5" text-anchor="middle" fill="#333333">10<tspan font-size="5.8" dy="-3.2">4</tspan></text>
<text x="276" y="557.3" font-size="8.5" text-anchor="middle" fill="#333333">10<tspan font-size="5.8" dy="-3.2">5</tspan></text>
<text x="294.3" y="557.3" font-size="8.5" text-anchor="middle" fill="#333333">10<tspan font-size="5.8" dy="-3.2">6</tspan></text>
<text x="256.5" y="417" font-size="8" text-anchor="middle" fill="#333333">CD8<tspan font-size="5.5" dy="-3">+</tspan><tspan dy="3"> T cells</tspan></text>
<text x="256.7" y="570" font-size="8.7" text-anchor="middle" textLength="15.5" lengthAdjust="spacingAndGlyphs" fill="#2a2a2a" stroke="#2a2a2a" stroke-width="0.28">CFSE</text>
<line x1="320.5" y1="422" x2="320.5" y2="545.2" stroke="#1a1a1a" stroke-width="1.5"/>
<line x1="319.8" y1="544.5" x2="439.5" y2="544.5" stroke="#1a1a1a" stroke-width="1.5"/>
<line x1="317.0" y1="437.5" x2="320.5" y2="437.5" stroke="#1a1a1a" stroke-width="1"/>
<line x1="317.0" y1="468" x2="320.5" y2="468" stroke="#1a1a1a" stroke-width="1"/>
<line x1="317.0" y1="498" x2="320.5" y2="498" stroke="#1a1a1a" stroke-width="1"/>
<line x1="317.0" y1="528.5" x2="320.5" y2="528.5" stroke="#1a1a1a" stroke-width="1"/>
<line x1="320.5" y1="544.5" x2="320.5" y2="548" stroke="#1a1a1a" stroke-width="1"/>
<line x1="360" y1="544.5" x2="360" y2="548" stroke="#1a1a1a" stroke-width="1"/>
<line x1="399.5" y1="544.5" x2="399.5" y2="548" stroke="#1a1a1a" stroke-width="1"/>
<line x1="439" y1="544.5" x2="439" y2="548" stroke="#1a1a1a" stroke-width="1"/>
<text x="320.5" y="557" font-size="8" text-anchor="middle" fill="#333333">0</text>
<text x="352" y="557" font-size="8" text-anchor="middle" fill="#333333">50</text>
<text x="382" y="557" font-size="8" text-anchor="middle" fill="#333333">100</text>
<text x="413.5" y="557" font-size="8" text-anchor="middle" fill="#333333">150</text>
<rect x="321.0" y="457.5" width="79" height="21.5" fill="#a8082b"/>
<rect x="321.0" y="488" width="1.2" height="21" fill="#a8082b"/>
<line x1="339.5" y1="528.5" x2="350" y2="528.5" stroke="#222" stroke-width="1.1"/>
<line x1="350" y1="523.3" x2="350" y2="533.7" stroke="#222" stroke-width="1.1"/>
<rect x="321.0" y="517.5" width="19" height="22" fill="#a8082b"/>
<line x1="375.5" y1="496.5" x2="375.5" y2="531" stroke="#222" stroke-width="1.1"/>
<text x="392" y="516.6" font-size="8" textLength="30.5" lengthAdjust="spacingAndGlyphs" fill="#333333">p=0.034</text>
<text x="381" y="417" font-size="8" text-anchor="middle" fill="#333333">CD3<tspan font-size="5.5" dy="-3">+</tspan><tspan dy="3"> T cells</tspan></text>
<text x="380" y="570" font-size="8.7" text-anchor="middle" textLength="94" lengthAdjust="spacingAndGlyphs" fill="#2a2a2a" stroke="#2a2a2a" stroke-width="0.28">Standardised division index (%)</text>
<text x="7.5" y="594.4" font-size="10.5" font-weight="bold" fill="#000">F</text>
<path d="M48.8,701.4h0.55M49.0,691.1h0.55M44.4,692.3h0.55M57.8,700.3h0.55M57.3,698.1h0.55M53.1,697.3h0.55M53.8,701.2h0.55M44.6,689.1h0.55M52.5,694.4h0.55M53.9,687.0h0.55M52.5,699.9h0.55M46.1,716.5h0.55M54.2,710.0h0.55M46.4,685.8h0.55M48.2,693.7h0.55M54.7,698.1h0.55M47.5,683.0h0.55M47.1,710.3h0.55M45.2,698.1h0.55M53.3,676.4h0.55M50.8,711.3h0.55M49.8,684.8h0.55M53.8,694.2h0.55M54.9,706.8h0.55M60.0,699.5h0.55M51.3,678.8h0.55M54.6,687.4h0.55M47.5,679.2h0.55M44.1,688.4h0.55M59.0,669.6h0.55M60.0,702.2h0.55M52.9,685.8h0.55M43.1,707.2h0.55M57.8,697.0h0.55M52.1,700.4h0.55M61.0,702.7h0.55M53.9,701.8h0.55M56.8,701.6h0.55M56.1,672.4h0.55M49.3,707.7h0.55M41.8,715.1h0.55M54.1,693.1h0.55M52.6,703.1h0.55M51.3,709.3h0.55M46.1,689.8h0.55M57.4,695.3h0.55M44.7,706.8h0.55M60.2,689.4h0.55M41.4,693.3h0.55M49.5,691.3h0.55M59.8,682.2h0.55M58.8,679.1h0.55M45.3,702.9h0.55M57.9,705.7h0.55M52.8,696.8h0.55M51.5,702.2h0.55M49.3,698.5h0.55M54.3,695.0h0.55M55.5,702.1h0.55M63.8,699.1h0.55M47.7,690.3h0.55M50.4,706.5h0.55M48.3,699.8h0.55M62.6,662.9h0.55M43.1,698.0h0.55M53.1,698.0h0.55M47.7,703.2h0.55M52.4,688.5h0.55M66.5,699.4h0.55M46.8,693.8h0.55M49.0,694.2h0.55M57.2,680.4h0.55M50.1,706.9h0.55M56.2,713.6h0.55M48.2,702.8h0.55M57.7,661.5h0.55M57.7,676.9h0.55M55.0,676.3h0.55M51.7,709.9h0.55M49.5,697.4h0.55M55.8,696.8h0.55M49.9,714.2h0.55M57.4,691.3h0.55M68.6,680.7h0.55M56.5,691.7h0.55M51.4,703.8h0.55M52.0,703.0h0.55M54.6,683.0h0.55M43.7,676.6h0.55M58.9,704.3h0.55M60.2,683.3h0.55M50.5,680.7h0.55M55.6,714.9h0.55M44.6,714.5h0.55M57.0,692.8h0.55M49.9,687.5h0.55M53.1,700.1h0.55M60.4,682.2h0.55M58.0,713.6h0.55M60.1,692.7h0.55M45.6,707.7h0.55M51.3,696.6h0.55M59.9,691.7h0.55M52.6,687.4h0.55M50.4,705.4h0.55M51.0,711.6h0.55M50.1,708.0h0.55M60.3,715.1h0.55M46.1,706.0h0.55M42.4,694.8h0.55M49.2,694.6h0.55M46.6,697.9h0.55M62.3,695.6h0.55M54.0,707.5h0.55M49.2,679.3h0.55M46.8,708.4h0.55M57.1,704.9h0.55M50.6,705.1h0.55M51.6,680.3h0.55M56.6,687.9h0.55M44.5,685.4h0.55M42.7,699.6h0.55M46.3,670.7h0.55M55.3,691.6h0.55M52.4,689.3h0.55M55.6,704.3h0.55M54.9,699.1h0.55M59.3,703.2h0.55M53.5,669.0h0.55M56.4,711.4h0.55M48.5,689.1h0.55M63.3,673.0h0.55M44.4,703.6h0.55M63.0,693.5h0.55M54.2,706.3h0.55M44.5,693.9h0.55M52.4,705.3h0.55M50.3,692.6h0.55M43.8,690.5h0.55M56.4,696.3h0.55M44.9,684.5h0.55M68.1,709.2h0.55M54.7,662.6h0.55M54.6,701.0h0.55M61.6,700.3h0.55M50.1,701.5h0.55M52.6,686.2h0.55M41.2,686.7h0.55M52.4,697.3h0.55M47.9,682.8h0.55M64.5,708.0h0.55M42.6,678.2h0.55M61.7,707.4h0.55M62.5,705.1h0.55M44.7,698.3h0.55M50.1,701.5h0.55M45.7,693.4h0.55M53.5,699.7h0.55M54.7,697.6h0.55M48.4,704.9h0.55M50.8,684.7h0.55M46.4,695.0h0.55M49.8,697.0h0.55M50.5,697.2h0.55M49.6,679.3h0.55M53.3,708.2h0.55M53.4,692.6h0.55M53.4,682.9h0.55M44.4,704.2h0.55M43.3,662.1h0.55M43.6,714.7h0.55M48.0,677.9h0.55M45.5,701.5h0.55M53.8,697.2h0.55M60.3,703.8h0.55M50.4,702.5h0.55M61.4,707.1h0.55M57.3,681.5h0.55M49.5,704.1h0.55M48.5,708.4h0.55M54.4,706.4h0.55M58.7,692.3h0.55M48.2,705.9h0.55M57.0,695.1h0.55M42.8,697.3h0.55M52.9,709.1h0.55M55.7,695.3h0.55M56.1,701.7h0.55M51.9,695.7h0.55M48.9,703.6h0.55M43.5,687.1h0.55M50.5,676.7h0.55M47.6,669.9h0.55M46.0,702.1h0.55M54.2,694.3h0.55M49.0,677.3h0.55M62.6,701.4h0.55M57.7,684.0h0.55M49.3,672.3h0.55M55.7,706.7h0.55M54.7,673.0h0.55M46.3,677.5h0.55M50.7,698.1h0.55M54.7,703.8h0.55M60.4,709.6h0.55M41.8,688.7h0.55M43.5,681.5h0.55M50.0,695.1h0.55M53.7,675.2h0.55M42.3,694.7h0.55M49.2,691.1h0.55M50.1,685.5h0.55M55.1,699.4h0.55M49.9,686.6h0.55M49.4,661.0h0.55M44.0,695.5h0.55M51.5,677.8h0.55M48.8,691.1h0.55M53.5,702.6h0.55M50.3,684.4h0.55M49.5,694.2h0.55M55.3,698.7h0.55M45.7,678.1h0.55M48.0,685.7h0.55M43.2,693.6h0.55M47.3,696.3h0.55M54.0,689.8h0.55M65.8,691.0h0.55M57.8,696.5h0.55M57.9,665.3h0.55M45.5,698.1h0.55M52.6,711.0h0.55M55.6,706.8h0.55M53.9,693.0h0.55M53.9,681.5h0.55M58.3,682.3h0.55M49.0,695.2h0.55M58.2,695.3h0.55M45.2,698.2h0.55M54.3,703.9h0.55M45.4,716.9h0.55M61.5,695.2h0.55M52.3,689.6h0.55M59.8,686.2h0.55M54.9,689.0h0.55M45.9,704.0h0.55M59.3,694.9h0.55M46.0,705.1h0.55M50.2,698.9h0.55M60.6,709.1h0.55M50.5,704.8h0.55M46.2,694.4h0.55M59.5,679.8h0.55M58.3,689.3h0.55M50.1,691.1h0.55M49.7,681.4h0.55M50.7,677.0h0.55M50.0,698.9h0.55M53.6,692.1h0.55M44.5,697.0h0.55M47.3,714.6h0.55M55.6,693.6h0.55M47.4,686.2h0.55M44.3,690.6h0.55M52.4,701.4h0.55M45.8,695.2h0.55M68.9,671.7h0.55M47.1,697.1h0.55M51.5,700.1h0.55M48.9,699.6h0.55M50.8,704.6h0.55M50.5,682.1h0.55M43.6,702.8h0.55M46.2,702.9h0.55M55.4,698.8h0.55M53.9,693.7h0.55M41.2,694.6h0.55M53.5,688.4h0.55M49.8,704.4h0.55M44.7,703.0h0.55M62.8,688.1h0.55M51.5,693.1h0.55M60.7,699.0h0.55M56.4,686.4h0.55M50.4,694.9h0.55M56.4,673.1h0.55M55.4,693.4h0.55M53.5,699.6h0.55M60.4,687.8h0.55M43.7,678.0h0.55M42.4,699.2h0.55M61.7,700.4h0.55M47.1,686.6h0.55M54.0,701.9h0.55M43.8,680.4h0.55M52.4,698.1h0.55M41.9,692.5h0.55M46.9,700.8h0.55M49.7,693.9h0.55M48.2,708.2h0.55M59.7,690.4h0.55M56.1,685.5h0.55M51.0,704.4h0.55M60.5,690.2h0.55M50.0,697.5h0.55M46.0,699.6h0.55M43.0,670.3h0.55M50.8,698.3h0.55M46.9,706.1h0.55M48.7,687.4h0.55M53.7,675.4h0.55M46.0,694.7h0.55M56.1,693.0h0.55M52.5,686.8h0.55M52.5,715.8h0.55M46.3,695.2h0.55M51.6,707.8h0.55M42.3,668.7h0.55M54.5,704.9h0.55M51.9,698.2h0.55M56.6,699.6h0.55M61.5,679.5h0.55M48.0,651.9h0.55M55.9,690.3h0.55M50.5,691.8h0.55M47.2,684.5h0.55M46.3,703.0h0.55M50.7,695.8h0.55M49.4,706.4h0.55M53.8,693.2h0.55M54.9,693.1h0.55M42.9,713.2h0.55M53.6,683.0h0.55M57.6,699.3h0.55M52.7,706.1h0.55M51.8,693.1h0.55M50.7,691.4h0.55M52.8,696.0h0.55M55.0,690.4h0.55M50.3,668.3h0.55M47.7,703.4h0.55M59.3,690.5h0.55M49.7,714.8h0.55M48.3,704.2h0.55M61.6,695.5h0.55M58.6,686.1h0.55M51.9,694.0h0.55M51.3,709.1h0.55M66.3,686.7h0.55M46.7,701.2h0.55M43.5,701.2h0.55M54.3,691.5h0.55M54.0,675.6h0.55M55.5,675.7h0.55M45.9,688.0h0.55M47.9,705.7h0.55M51.0,690.0h0.55M54.1,714.8h0.55M50.5,699.6h0.55M58.7,698.3h0.55M65.1,670.2h0.55M50.2,700.2h0.55M56.9,703.4h0.55M48.7,681.8h0.55M51.2,707.9h0.55M43.3,682.2h0.55M50.3,670.8h0.55M48.8,689.5h0.55M53.5,686.2h0.55M44.7,690.1h0.55M50.2,686.7h0.55M50.6,704.4h0.55M58.3,716.3h0.55M45.3,689.8h0.55M45.7,694.6h0.55M53.9,678.0h0.55M53.6,694.7h0.55M58.4,671.7h0.55M55.8,697.6h0.55M53.6,700.5h0.55M59.1,692.2h0.55M56.3,689.9h0.55M55.3,684.8h0.55M49.8,716.6h0.55M53.4,693.0h0.55M42.9,685.1h0.55M51.8,706.7h0.55M53.3,701.6h0.55M50.2,711.9h0.55M47.9,688.1h0.55M56.4,695.8h0.55M48.7,687.8h0.55M48.8,702.8h0.55M52.8,679.9h0.55M53.3,697.2h0.55M43.9,704.7h0.55M48.6,690.8h0.55M55.8,711.5h0.55M46.0,700.5h0.55M47.2,709.9h0.55M46.2,705.1h0.55M65.1,663.2h0.55M47.6,701.3h0.55M49.9,686.6h0.55M64.7,696.0h0.55M46.7,696.8h0.55M58.8,696.5h0.55M41.3,673.8h0.55M58.3,704.3h0.55M45.1,705.7h0.55M53.8,703.1h0.55M56.4,704.2h0.55M56.3,664.3h0.55M51.6,701.2h0.55M67.3,683.1h0.55M48.3,695.4h0.55M56.3,689.5h0.55M58.1,685.2h0.55M52.3,688.4h0.55M51.5,686.4h0.55M52.5,688.0h0.55M51.8,707.4h0.55M44.0,693.6h0.55M54.1,701.6h0.55M48.3,668.7h0.55M58.7,699.1h0.55M50.6,691.5h0.55M52.2,689.7h0.55M43.7,685.8h0.55M46.6,687.3h0.55M42.9,703.0h0.55M41.9,703.2h0.55M43.8,699.4h0.55M59.6,697.5h0.55M45.7,695.6h0.55M51.5,673.3h0.55M46.5,697.0h0.55M47.4,696.0h0.55M55.3,704.6h0.55M56.5,702.4h0.55M48.6,694.8h0.55M48.7,691.1h0.55M49.3,673.4h0.55M48.3,694.7h0.55M44.1,694.7h0.55M53.9,692.9h0.55M64.2,662.4h0.55M49.1,672.2h0.55M53.9,691.2h0.55M54.1,667.0h0.55M56.1,699.6h0.55M50.7,687.7h0.55M54.7,688.9h0.55M52.0,688.6h0.55M51.8,704.4h0.55M44.7,694.6h0.55M54.6,696.8h0.55M44.5,671.0h0.55M56.2,714.1h0.55M56.6,705.2h0.55M46.4,686.1h0.55M56.4,683.6h0.55M46.0,685.9h0.55M52.0,685.6h0.55M59.1,694.0h0.55M43.3,711.4h0.55M46.7,697.8h0.55M50.4,691.1h0.55M52.6,686.3h0.55M42.1,685.5h0.55M50.3,695.7h0.55M54.2,696.5h0.55M45.3,686.1h0.55M53.7,701.6h0.55M49.7,692.8h0.55M56.7,695.2h0.55M55.4,702.3h0.55M51.9,711.3h0.55M46.7,690.5h0.55M45.2,685.0h0.55M60.8,717.0h0.55M50.7,702.1h0.55M58.3,705.1h0.55M58.5,679.2h0.55M46.3,700.7h0.55M60.0,696.3h0.55M44.8,690.6h0.55M46.1,684.3h0.55M60.4,687.2h0.55M58.3,699.2h0.55M46.5,700.1h0.55M61.2,702.8h0.55M58.8,696.2h0.55M53.9,692.5h0.55M53.3,711.3h0.55M41.1,694.2h0.55M52.1,687.9h0.55M48.5,704.8h0.55M63.7,702.9h0.55M52.7,675.6h0.55M63.2,696.0h0.55M50.3,681.0h0.55M50.1,681.3h0.55M51.0,700.8h0.55M50.7,698.5h0.55M44.9,712.9h0.55M46.2,672.3h0.55M49.3,685.5h0.55M43.8,690.6h0.55M52.4,680.2h0.55M49.6,712.8h0.55M55.0,693.1h0.55M51.3,693.5h0.55M50.2,704.2h0.55M49.9,664.9h0.55M50.4,683.9h0.55M54.8,687.4h0.55M43.6,680.9h0.55M41.2,665.1h0.55M46.3,671.6h0.55M45.4,690.4h0.55M52.7,712.0h0.55M63.3,707.9h0.55M51.4,697.3h0.55M62.4,712.9h0.55M48.5,700.7h0.55M52.4,695.7h0.55M47.2,678.4h0.55M47.0,675.7h0.55M58.6,701.7h0.55M42.5,712.4h0.55M56.4,671.1h0.55M62.7,705.1h0.55M64.1,679.6h0.55M54.0,700.3h0.55M51.8,697.1h0.55M57.5,676.3h0.55M42.3,677.6h0.55M46.8,687.4h0.55M52.9,698.3h0.55M50.7,686.5h0.55M47.6,706.9h0.55M55.5,696.3h0.55M48.4,714.4h0.55M46.6,703.1h0.55M58.1,691.7h0.55M55.9,681.1h0.55M57.2,697.5h0.55M44.6,711.0h0.55M46.0,692.9h0.55M52.4,690.8h0.55M52.2,688.1h0.55M54.9,695.1h0.55M51.9,660.6h0.55M58.2,695.4h0.55M53.6,708.4h0.55M43.4,714.3h0.55M49.5,703.5h0.55M48.1,681.1h0.55M57.7,706.3h0.55M60.7,705.7h0.55M46.7,674.2h0.55M46.2,686.6h0.55M45.1,702.3h0.55M52.7,691.6h0.55M51.6,693.2h0.55M51.9,704.4h0.55M56.8,686.4h0.55M51.3,708.8h0.55M50.7,677.0h0.55M47.1,704.1h0.55M57.6,714.9h0.55M44.8,677.5h0.55M53.9,706.8h0.55M51.8,678.7h0.55M55.7,704.9h0.55M54.2,688.9h0.55M52.5,704.9h0.55M46.8,672.0h0.55M52.7,701.0h0.55M50.6,706.1h0.55M46.6,694.0h0.55M48.5,702.1h0.55M61.0,691.9h0.55M64.1,714.1h0.55M55.7,702.3h0.55M62.2,692.7h0.55M49.8,681.7h0.55M53.6,711.8h0.55M54.0,700.3h0.55M49.2,697.1h0.55M41.1,708.1h0.55M47.8,681.2h0.55M45.5,684.7h0.55M56.1,708.2h0.55M41.5,706.6h0.55M56.4,687.8h0.55M46.3,699.3h0.55M48.1,669.6h0.55M52.0,675.8h0.55M56.5,679.9h0.55M45.9,684.3h0.55M46.9,711.2h0.55M56.1,702.5h0.55M52.6,675.7h0.55M47.1,688.1h0.55M44.0,701.4h0.55M45.6,686.1h0.55M43.6,669.3h0.55M54.4,711.6h0.55M51.7,682.8h0.55M58.5,698.7h0.55M56.6,713.5h0.55M57.9,689.5h0.55M57.4,704.7h0.55M41.1,693.6h0.55M54.3,681.7h0.55M53.0,713.4h0.55M41.8,708.3h0.55M49.1,698.4h0.55M49.5,707.5h0.55M57.3,696.1h0.55M41.5,704.3h0.55M47.4,702.9h0.55M52.2,715.3h0.55M58.0,689.4h0.55M52.8,717.1h0.55M47.0,700.4h0.55M58.4,710.7h0.55M53.9,678.5h0.55M42.2,698.1h0.55M44.8,709.2h0.55M55.6,674.1h0.55M45.1,697.1h0.55M47.2,693.1h0.55M53.6,684.9h0.55M53.6,687.0h0.55M46.9,701.7h0.55M46.7,698.6h0.55M61.1,695.3h0.55M49.5,704.2h0.55M48.1,708.5h0.55M42.0,702.7h0.55M47.1,685.0h0.55M62.2,684.4h0.55M62.1,703.2h0.55M60.1,682.8h0.55M58.4,713.2h0.55M49.7,693.4h0.55M66.7,697.2h0.55M47.7,687.1h0.55M53.4,699.1h0.55M51.7,716.5h0.55M48.3,700.9h0.55M60.1,682.5h0.55M41.6,681.3h0.55M43.6,671.9h0.55M53.5,671.8h0.55M53.8,713.2h0.55M45.6,691.7h0.55M50.9,701.8h0.55M48.2,695.2h0.55M46.9,696.4h0.55M42.8,695.8h0.55M63.1,696.0h0.55M42.2,698.2h0.55M44.1,674.4h0.55M45.6,704.2h0.55M53.0,693.8h0.55M44.4,681.5h0.55M59.4,698.1h0.55M44.2,668.6h0.55M42.9,694.0h0.55M51.9,693.0h0.55M48.7,677.8h0.55M43.6,716.1h0.55M45.5,705.6h0.55M52.2,708.0h0.55M43.1,702.4h0.55M53.0,685.8h0.55M53.6,683.8h0.55M45.2,694.8h0.55M43.9,676.7h0.55M47.7,704.5h0.55M47.8,710.8h0.55M42.8,678.6h0.55M60.7,700.0h0.55M56.7,684.7h0.55M55.8,698.2h0.55M54.8,695.3h0.55M58.5,686.9h0.55M44.1,676.5h0.55M58.2,685.8h0.55M43.6,683.3h0.55M47.6,679.1h0.55M48.6,687.2h0.55M46.9,683.0h0.55M50.7,689.2h0.55M51.3,698.1h0.55M52.7,667.6h0.55M47.0,685.1h0.55M55.6,675.3h0.55M45.8,691.3h0.55M48.3,707.4h0.55M47.6,707.1h0.55M58.5,700.4h0.55M53.7,696.5h0.55M53.7,679.8h0.55M56.8,688.3h0.55M57.0,696.1h0.55M57.9,693.3h0.55M47.9,698.0h0.55M47.7,688.2h0.55M51.2,696.8h0.55M60.5,695.6h0.55M61.8,708.3h0.55M51.4,696.7h0.55M49.6,685.9h0.55M50.1,687.0h0.55M61.3,701.7h0.55M47.6,671.1h0.55M50.1,689.8h0.55M43.3,680.8h0.55M50.3,693.1h0.55M60.0,696.7h0.55M51.6,690.4h0.55M46.5,713.7h0.55M57.1,716.5h0.55M48.2,695.4h0.55M44.7,707.1h0.55M41.3,702.1h0.55M57.7,712.6h0.55M44.3,708.6h0.55M45.8,685.5h0.55M41.8,709.4h0.55M61.4,687.6h0.55M45.5,690.8h0.55M67.0,707.6h0.55M46.9,672.6h0.55M46.1,709.8h0.55M62.8,691.7h0.55M45.9,688.6h0.55M43.3,708.3h0.55M52.4,685.5h0.55M55.7,695.1h0.55M42.7,702.8h0.55M56.1,671.1h0.55M62.6,701.2h0.55M55.5,671.7h0.55M45.7,690.6h0.55M57.6,676.8h0.55M44.7,669.6h0.55M48.9,699.3h0.55M53.9,714.8h0.55M54.9,691.2h0.55M42.7,683.3h0.55M46.1,696.8h0.55M50.2,715.8h0.55M52.4,681.6h0.55M60.7,706.9h0.55M51.2,686.0h0.55M56.5,685.0h0.55M41.8,697.4h0.55M52.1,702.6h0.55M54.8,712.6h0.55M45.0,707.2h0.55M44.0,703.7h0.55M51.7,698.0h0.55M56.9,694.8h0.55M57.8,705.9h0.55M51.4,687.9h0.55M45.5,688.4h0.55M49.2,694.7h0.55M70.2,703.0h0.55M55.6,684.2h0.55M45.8,691.0h0.55M51.8,682.1h0.55M61.1,688.0h0.55M57.6,665.8h0.55M50.5,698.5h0.55M51.8,702.5h0.55M52.3,697.0h0.55M52.5,692.6h0.55M45.1,687.7h0.55M62.7,716.6h0.55M50.1,711.1h0.55M47.3,684.1h0.55M46.8,697.4h0.55M70.5,686.7h0.55M50.8,698.5h0.55M50.3,706.6h0.55M62.2,679.5h0.55M51.6,691.7h0.55M52.9,675.9h0.55M54.0,697.4h0.55M51.0,665.4h0.55M48.0,685.6h0.55M41.2,683.6h0.55M55.1,701.8h0.55M50.4,701.4h0.55M46.5,695.9h0.55M50.8,701.9h0.55M50.0,693.2h0.55M49.6,686.9h0.55M65.2,701.4h0.55M59.8,675.5h0.55M55.1,705.5h0.55M62.9,711.4h0.55M55.6,680.3h0.55M44.8,698.4h0.55M53.8,682.2h0.55M48.0,690.0h0.55M50.9,699.2h0.55M48.6,679.5h0.55M58.7,715.0h0.55M49.8,707.8h0.55M53.4,703.2h0.55M53.7,685.5h0.55M54.3,707.6h0.55M63.6,704.3h0.55M48.3,687.5h0.55M45.1,696.4h0.55M50.3,703.4h0.55M65.5,694.7h0.55M55.0,700.9h0.55M52.3,692.4h0.55M49.7,684.7h0.55M51.7,694.7h0.55M52.6,684.3h0.55M50.8,695.6h0.55M54.5,681.7h0.55M53.3,707.3h0.55M54.4,690.4h0.55M47.3,692.0h0.55M55.3,714.4h0.55M49.5,687.0h0.55M53.0,697.6h0.55M44.5,685.8h0.55M49.8,703.4h0.55M42.6,682.3h0.55M53.8,679.7h0.55M51.2,699.4h0.55M49.8,682.3h0.55M50.1,690.8h0.55M52.7,684.5h0.55M57.7,674.1h0.55M49.3,695.1h0.55M56.8,687.4h0.55M54.1,687.9h0.55M55.4,716.7h0.55M47.9,700.5h0.55M44.4,707.2h0.55M58.5,695.4h0.55M43.0,700.0h0.55M58.1,708.6h0.55M55.9,672.1h0.55M46.0,712.8h0.55M42.4,709.1h0.55M62.9,704.5h0.55M57.9,690.8h0.55M42.4,693.7h0.55M49.2,694.4h0.55M55.1,693.2h0.55M51.8,700.3h0.55M53.4,696.1h0.55M49.1,687.2h0.55M59.4,696.9h0.55M43.4,688.0h0.55M49.6,689.4h0.55M57.7,680.5h0.55M53.7,696.8h0.55M42.7,695.6h0.55M49.9,701.3h0.55M47.5,698.8h0.55M55.7,708.0h0.55M50.4,687.5h0.55M57.6,668.9h0.55M45.2,703.4h0.55M54.8,682.1h0.55M51.5,683.8h0.55M50.9,706.3h0.55M55.4,669.0h0.55M55.6,672.7h0.55M58.0,700.0h0.55M65.4,687.4h0.55M50.5,708.1h0.55M46.3,686.2h0.55M48.0,694.1h0.55M43.4,701.1h0.55M54.1,695.9h0.55M61.7,690.9h0.55M59.1,688.2h0.55M55.5,670.8h0.55M51.8,692.8h0.55M47.2,687.4h0.55M48.2,686.0h0.55M46.9,688.4h0.55M43.5,693.3h0.55M55.7,691.9h0.55M47.2,712.0h0.55M56.9,706.5h0.55M58.1,690.9h0.55M49.6,708.9h0.55M46.8,693.5h0.55M53.0,699.7h0.55M48.7,707.3h0.55M49.3,704.1h0.55M57.6,703.2h0.55M55.3,680.5h0.55M41.8,687.3h0.55M53.6,713.8h0.55M42.4,698.8h0.55M44.9,685.8h0.55M48.7,703.6h0.55M51.9,709.7h0.55M44.0,706.1h0.55M56.6,695.9h0.55M53.6,688.0h0.55M43.3,689.9h0.55M47.3,715.6h0.55M51.8,698.9h0.55M55.4,685.3h0.55M56.5,699.7h0.55M54.1,700.7h0.55M61.0,689.8h0.55M53.9,704.4h0.55M44.6,710.0h0.55M40.9,678.7h0.55M53.9,681.4h0.55M49.7,674.4h0.55M51.0,680.8h0.55M52.8,675.8h0.55M53.5,691.7h0.55M50.9,694.2h0.55M51.4,678.5h0.55M44.3,689.3h0.55M53.3,670.2h0.55M45.5,687.4h0.55M43.5,699.1h0.55M49.6,684.7h0.55M44.0,705.1h0.55M46.1,702.3h0.55M53.5,671.3h0.55M43.3,695.0h0.55M52.8,704.7h0.55M55.8,707.9h0.55M48.0,692.4h0.55M55.6,689.7h0.55M57.5,675.1h0.55M54.8,692.8h0.55M52.6,695.3h0.55M43.4,689.2h0.55M60.5,684.7h0.55M42.6,693.3h0.55M47.9,683.6h0.55M44.9,708.1h0.55M46.9,681.3h0.55M55.7,702.1h0.55M43.6,704.4h0.55M57.9,691.8h0.55M41.9,701.4h0.55M56.6,694.7h0.55M53.3,704.6h0.55M62.7,691.8h0.55M47.3,694.5h0.55M58.5,683.2h0.55M59.1,660.6h0.55M55.8,686.6h0.55M53.5,703.6h0.55M42.7,693.9h0.55M52.1,702.3h0.55M44.4,682.6h0.55M49.2,692.2h0.55M47.0,712.9h0.55M56.1,695.3h0.55M55.3,681.1h0.55M48.4,687.8h0.55M42.1,695.2h0.55M49.5,712.9h0.55M44.4,689.2h0.55M53.3,700.0h0.55M50.7,689.1h0.55M53.8,699.5h0.55M41.4,680.2h0.55M51.5,695.8h0.55M51.3,684.1h0.55M49.2,683.6h0.55M53.0,703.6h0.55M62.1,710.8h0.55M45.2,689.3h0.55M44.3,698.8h0.55M63.6,703.9h0.55M42.0,701.4h0.55M50.5,698.7h0.55M62.3,684.7h0.55M52.8,685.3h0.55M50.8,707.4h0.55M49.6,686.3h0.55M50.7,702.7h0.55M47.8,701.2h0.55M55.9,693.2h0.55M47.5,692.7h0.55M44.1,692.4h0.55M48.5,697.6h0.55M59.3,711.3h0.55M47.6,702.5h0.55M52.4,704.5h0.55M50.6,698.3h0.55M47.4,685.2h0.55M56.3,711.2h0.55M54.9,700.4h0.55M52.3,689.4h0.55M51.8,688.1h0.55M44.1,711.0h0.55M45.8,694.7h0.55M47.2,696.9h0.55M49.1,685.6h0.55M57.6,685.2h0.55M47.1,701.9h0.55M47.0,689.6h0.55M52.8,690.4h0.55M42.3,693.7h0.55M49.0,716.3h0.55M43.3,707.1h0.55M45.3,690.6h0.55M48.3,698.4h0.55M56.2,716.9h0.55M46.3,711.6h0.55M57.1,705.2h0.55M45.5,706.3h0.55M49.8,699.4h0.55M48.7,703.3h0.55M57.9,709.1h0.55M49.1,707.4h0.55M60.1,683.3h0.55M60.2,678.3h0.55M54.1,702.4h0.55M60.3,698.5h0.55M47.3,685.0h0.55M42.2,704.6h0.55M48.9,686.0h0.55M54.0,685.4h0.55M47.6,689.3h0.55M61.4,713.3h0.55M49.5,675.4h0.55M52.3,695.9h0.55M52.8,702.1h0.55M48.4,706.6h0.55M56.0,697.6h0.55M47.8,689.0h0.55M55.1,681.3h0.55M49.4,685.6h0.55M41.3,702.5h0.55M50.3,695.4h0.55M56.3,676.3h0.55M50.1,698.6h0.55M56.0,681.4h0.55M55.2,697.7h0.55M59.4,709.2h0.55M50.5,689.7h0.55M48.3,683.2h0.55M50.3,671.5h0.55M49.9,700.3h0.55M57.0,690.7h0.55M59.7,686.9h0.55M49.6,671.5h0.55M45.5,685.1h0.55M60.1,701.5h0.55M43.4,701.5h0.55M53.6,692.1h0.55M50.6,691.3h0.55M47.0,673.4h0.55M49.9,710.7h0.55M59.7,691.6h0.55M45.7,692.4h0.55M56.3,699.3h0.55M46.7,699.4h0.55M49.2,701.3h0.55M47.9,677.1h0.55M50.9,704.3h0.55M43.4,693.7h0.55M56.1,690.4h0.55M55.8,707.5h0.55M44.4,714.9h0.55M55.3,711.2h0.55M44.5,686.9h0.55M51.8,671.5h0.55M54.6,701.8h0.55M47.6,701.5h0.55M55.5,698.8h0.55M53.8,713.4h0.55M47.4,697.0h0.55M47.2,707.5h0.55M47.9,700.8h0.55M51.4,695.8h0.55M61.5,694.0h0.55M59.6,705.0h0.55M58.9,693.0h0.55M56.4,704.1h0.55M46.6,698.3h0.55M49.7,694.6h0.55M58.8,686.3h0.55M47.6,687.2h0.55M50.6,701.8h0.55M61.7,698.7h0.55M53.5,686.1h0.55M54.2,711.4h0.55M59.0,671.4h0.55M56.2,714.1h0.55M55.8,677.0h0.55M48.5,702.1h0.55M53.1,685.2h0.55M44.8,706.6h0.55M42.0,712.3h0.55M50.6,698.6h0.55M42.0,687.8h0.55M54.9,677.3h0.55M63.7,678.1h0.55M42.7,695.5h0.55M53.6,703.8h0.55M48.1,692.5h0.55M49.0,688.1h0.55M52.1,696.9h0.55M46.5,698.0h0.55M50.4,694.1h0.55M57.5,674.3h0.55M52.1,682.2h0.55M48.5,713.0h0.55M43.6,693.8h0.55M46.7,706.4h0.55M44.3,674.8h0.55M53.8,690.7h0.55M48.5,708.0h0.55M44.9,690.5h0.55M51.4,700.0h0.55M47.2,707.4h0.55M64.7,690.1h0.55M62.4,669.7h0.55M59.4,690.9h0.55M51.4,690.9h0.55M46.5,679.7h0.55M48.0,710.6h0.55M57.7,690.8h0.55M47.2,686.6h0.55M42.9,716.7h0.55M54.7,696.4h0.55M47.4,682.7h0.55M58.8,704.4h0.55M44.5,706.9h0.55M43.5,702.7h0.55M44.4,690.0h0.55M53.6,700.2h0.55M56.9,685.0h0.55M60.5,711.1h0.55M50.4,700.6h0.55M45.6,693.2h0.55M42.1,696.1h0.55M51.8,711.1h0.55M56.5,704.8h0.55M48.2,692.3h0.55M48.3,697.7h0.55M50.6,688.8h0.55M61.0,693.8h0.55M60.5,709.1h0.55M47.4,699.8h0.55M58.7,691.0h0.55M51.1,688.3h0.55M50.9,690.8h0.55M51.0,707.0h0.55M59.3,696.6h0.55M51.8,705.3h0.55M48.7,682.3h0.55M57.5,683.8h0.55M56.4,683.4h0.55M62.1,682.5h0.55M55.9,713.0h0.55M44.4,712.8h0.55M45.3,673.8h0.55M55.1,703.4h0.55M49.2,664.7h0.55M50.2,691.3h0.55M48.1,691.5h0.55M61.9,713.6h0.55M48.2,686.5h0.55M53.0,707.7h0.55M55.1,681.0h0.55M51.5,696.7h0.55M59.6,709.4h0.55M53.8,709.6h0.55M48.0,713.5h0.55M47.8,699.7h0.55M56.3,684.0h0.55M46.1,673.9h0.55M51.5,694.3h0.55M48.4,701.0h0.55M51.1,691.8h0.55M55.5,716.0h0.55M47.7,683.7h0.55M46.7,696.1h0.55M54.2,684.7h0.55M56.8,682.7h0.55M55.7,700.1h0.55M48.8,693.0h0.55M53.5,705.4h0.55M42.0,698.3h0.55M45.8,702.6h0.55M59.2,695.6h0.55M49.8,697.2h0.55M54.1,697.0h0.55M48.0,686.2h0.55M49.4,709.6h0.55M49.9,711.2h0.55M52.2,694.8h0.55M58.4,679.5h0.55M44.2,681.8h0.55M47.0,702.7h0.55M54.3,670.6h0.55M59.7,687.9h0.55M46.8,715.0h0.55M50.0,680.1h0.55M46.5,686.3h0.55M44.1,691.0h0.55M56.1,699.2h0.55M44.2,696.4h0.55M50.7,704.1h0.55M48.4,700.5h0.55M63.8,696.1h0.55M43.6,698.9h0.55M45.4,690.6h0.55M51.7,699.0h0.55M48.7,705.2h0.55M49.3,679.3h0.55M56.1,690.6h0.55M58.2,687.1h0.55M54.1,698.8h0.55M43.4,711.9h0.55M57.4,700.9h0.55M54.8,689.1h0.55M50.4,697.7h0.55M53.2,703.5h0.55M49.2,686.6h0.55M46.9,699.9h0.55M47.9,688.4h0.55M48.8,663.0h0.55M48.3,692.0h0.55M55.4,671.2h0.55M48.6,700.7h0.55M53.6,709.4h0.55M57.2,682.4h0.55M54.5,691.0h0.55M45.4,713.4h0.55M46.5,684.7h0.55M47.9,684.8h0.55M56.9,699.6h0.55M59.4,699.9h0.55M46.6,707.6h0.55M46.3,689.4h0.55M49.4,695.5h0.55M58.1,687.7h0.55M52.7,694.7h0.55M42.5,681.8h0.55M49.1,699.9h0.55M52.5,700.8h0.55M50.8,689.6h0.55M53.2,682.9h0.55M42.0,691.0h0.55M41.4,688.8h0.55M45.7,688.3h0.55M50.2,685.4h0.55M47.8,674.4h0.55M51.4,684.4h0.55M53.1,660.9h0.55M45.4,697.9h0.55M51.1,696.2h0.55M41.0,697.8h0.55M51.4,683.3h0.55M55.2,694.4h0.55M50.6,689.6h0.55M54.0,696.2h0.55M57.7,700.4h0.55M46.6,692.3h0.55M56.4,690.6h0.55M52.9,701.3h0.55M49.4,666.9h0.55M51.3,697.6h0.55M51.4,685.8h0.55M58.2,693.4h0.55M46.5,686.3h0.55M52.8,681.8h0.55M58.9,707.7h0.55M59.2,702.2h0.55M58.4,700.9h0.55M59.2,689.0h0.55M51.3,704.4h0.55M50.0,708.3h0.55M51.0,703.4h0.55M51.0,677.1h0.55M52.3,710.9h0.55M57.8,715.8h0.55M54.0,687.8h0.55M50.6,671.7h0.55M49.3,706.0h0.55M55.8,711.1h0.55M44.6,687.1h0.55M43.2,711.7h0.55M53.2,689.0h0.55M64.6,664.4h0.55M50.1,697.7h0.55M64.2,716.8h0.55M65.0,696.6h0.55M56.8,711.6h0.55M53.8,699.4h0.55M49.3,690.0h0.55M47.6,669.7h0.55M52.2,694.6h0.55M51.6,717.1h0.55M49.8,691.8h0.55M45.7,694.7h0.55M47.7,697.5h0.55M70.5,699.8h0.55M56.0,704.9h0.55M55.1,705.0h0.55M54.8,712.1h0.55M57.0,711.4h0.55M47.3,695.0h0.55M45.8,706.6h0.55M55.8,689.3h0.55M58.4,681.4h0.55M49.9,702.7h0.55M50.3,699.7h0.55M58.1,699.0h0.55M43.4,703.7h0.55M49.9,696.4h0.55M46.9,678.2h0.55M42.5,690.7h0.55M43.6,661.9h0.55M57.9,680.9h0.55M45.8,701.5h0.55M45.6,703.0h0.55M47.4,698.7h0.55M51.2,695.0h0.55M50.2,712.2h0.55M47.0,701.5h0.55M51.5,700.9h0.55M56.9,676.8h0.55M52.3,692.8h0.55M48.5,684.6h0.55M45.4,682.5h0.55M61.4,695.1h0.55M55.3,683.1h0.55M51.4,712.5h0.55M50.2,682.8h0.55M48.9,682.9h0.55M41.5,692.2h0.55M47.9,685.1h0.55M44.8,683.7h0.55M52.0,712.0h0.55M43.1,693.0h0.55M51.2,701.8h0.55M57.8,688.2h0.55M42.5,692.7h0.55M52.4,686.5h0.55M56.2,715.5h0.55M41.4,699.4h0.55M57.0,671.6h0.55M51.8,692.3h0.55M41.3,711.0h0.55M51.9,689.2h0.55M53.4,702.8h0.55M55.4,702.1h0.55M53.1,680.7h0.55M47.8,696.6h0.55M48.1,682.2h0.55M50.7,687.9h0.55M47.8,684.2h0.55M45.7,693.8h0.55M46.4,703.3h0.55M49.6,696.6h0.55M53.1,710.5h0.55M54.4,697.8h0.55M49.4,685.2h0.55M48.3,703.3h0.55M52.0,690.3h0.55M41.9,676.3h0.55M52.6,707.5h0.55M52.9,678.3h0.55M49.1,697.7h0.55M44.6,699.2h0.55M49.2,684.8h0.55M42.5,704.9h0.55M52.8,684.2h0.55M44.0,705.8h0.55M54.3,691.3h0.55M60.7,691.5h0.55M43.7,708.3h0.55M49.3,699.2h0.55M50.7,682.8h0.55M42.9,692.6h0.55M59.5,682.8h0.55M59.2,697.7h0.55M43.4,698.2h0.55M54.1,684.1h0.55M43.4,700.4h0.55M45.3,677.0h0.55M49.0,697.1h0.55M46.9,680.6h0.55M51.9,673.7h0.55M53.9,701.0h0.55M61.3,705.7h0.55M52.8,698.2h0.55M50.7,678.9h0.55M59.9,701.4h0.55M48.7,681.1h0.55M60.0,701.5h0.55M42.9,703.2h0.55M62.7,694.7h0.55M53.1,689.9h0.55M46.5,708.0h0.55M70.2,696.4h0.55M49.7,704.6h0.55M48.5,703.8h0.55M55.8,682.7h0.55M43.6,694.1h0.55M55.8,698.4h0.55M58.5,678.3h0.55M53.7,687.4h0.55M51.1,698.9h0.55M44.3,692.2h0.55M43.0,698.2h0.55M45.1,689.0h0.55M51.9,687.1h0.55M57.9,687.3h0.55M55.9,698.4h0.55M43.9,692.4h0.55M45.1,690.6h0.55M48.8,717.0h0.55M47.8,714.0h0.55M53.4,679.2h0.55M57.1,699.7h0.55M49.2,692.0h0.55M52.2,691.3h0.55M47.1,690.5h0.55M58.0,687.5h0.55M52.9,681.1h0.55M45.9,678.4h0.55M49.2,703.3h0.55M52.5,689.0h0.55M54.4,690.8h0.55M52.9,698.3h0.55M54.0,665.0h0.55M42.2,704.4h0.55M49.0,688.3h0.55M60.0,701.7h0.55M62.6,701.2h0.55M49.2,703.8h0.55M45.5,689.6h0.55M47.0,692.3h0.55M55.5,689.2h0.55M52.6,689.0h0.55M56.1,661.7h0.55M49.2,697.0h0.55M43.6,707.2h0.55M51.9,710.5h0.55M56.6,702.7h0.55M49.5,681.9h0.55M49.1,689.4h0.55M52.1,689.4h0.55M70.0,675.7h0.55M58.0,689.3h0.55M49.0,706.2h0.55M50.5,680.4h0.55M53.1,692.6h0.55M43.8,686.0h0.55M53.6,698.6h0.55M53.2,687.6h0.55M52.0,693.5h0.55M49.3,691.7h0.55M46.9,706.8h0.55M50.7,715.6h0.55M55.5,714.8h0.55M49.8,699.5h0.55M47.7,693.0h0.55M44.4,687.1h0.55M58.2,698.2h0.55M58.3,705.3h0.55M56.4,707.1h0.55M46.6,704.7h0.55M48.5,688.6h0.55M44.3,715.9h0.55M55.8,684.8h0.55M52.2,699.5h0.55M52.9,690.7h0.55M42.3,695.4h0.55M56.0,704.5h0.55M54.7,708.3h0.55M44.2,694.5h0.55M52.7,707.0h0.55M51.5,701.2h0.55M66.2,697.8h0.55M41.4,686.8h0.55M51.9,715.6h0.55M53.4,703.1h0.55M57.0,697.4h0.55M45.1,693.8h0.55M52.6,691.7h0.55M46.3,690.7h0.55M41.0,682.7h0.55M49.9,690.7h0.55M50.7,711.9h0.55M52.4,694.6h0.55M43.0,682.0h0.55M52.9,684.5h0.55M53.2,682.1h0.55M51.4,694.1h0.55M56.8,690.3h0.55M48.1,698.0h0.55M50.8,715.3h0.55M48.9,688.5h0.55M48.5,700.7h0.55M52.0,703.3h0.55M62.2,694.6h0.55M42.8,696.9h0.55M53.1,668.1h0.55M50.6,677.2h0.55M53.4,711.6h0.55M57.1,676.9h0.55M59.3,705.9h0.55M48.2,701.0h0.55M60.1,691.0h0.55M50.4,688.3h0.55M57.8,669.1h0.55M59.5,683.4h0.55M56.4,675.5h0.55M44.6,687.8h0.55M55.8,675.5h0.55M54.3,687.4h0.55M58.4,691.3h0.55M53.6,692.9h0.55M61.9,690.7h0.55M51.0,703.3h0.55M45.8,697.4h0.55M46.4,676.9h0.55M41.5,708.7h0.55M53.2,676.8h0.55M62.0,686.6h0.55M48.2,698.0h0.55M43.3,675.5h0.55M45.8,709.2h0.55M56.5,676.0h0.55M58.1,695.4h0.55M53.7,695.6h0.55M53.1,683.0h0.55M44.7,686.5h0.55M48.2,702.4h0.55M42.8,714.2h0.55M46.5,687.9h0.55M55.0,700.2h0.55M48.3,682.1h0.55M44.1,675.8h0.55M57.8,708.0h0.55M62.4,701.0h0.55M52.6,704.1h0.55M56.5,691.9h0.55M44.4,704.1h0.55M58.0,690.9h0.55M54.8,694.4h0.55M52.4,688.5h0.55M46.9,702.0h0.55M47.0,710.4h0.55M50.6,708.8h0.55M49.7,693.8h0.55M41.3,716.5h0.55M51.1,693.7h0.55M51.3,707.8h0.55M43.7,712.1h0.55M44.7,695.6h0.55M41.8,700.1h0.55M50.4,696.2h0.55M53.2,708.0h0.55M45.2,691.5h0.55M41.5,706.8h0.55M51.4,692.8h0.55M47.0,699.6h0.55M46.1,706.4h0.55M54.1,696.5h0.55M49.9,711.4h0.55M46.0,700.7h0.55M42.5,711.4h0.55M45.2,696.3h0.55M47.2,694.6h0.55M43.5,699.4h0.55M52.0,700.2h0.55M48.8,689.3h0.55M45.7,688.6h0.55M46.6,707.3h0.55M41.2,694.3h0.55M47.9,694.0h0.55M49.7,710.3h0.55M48.5,698.3h0.55M46.8,696.5h0.55M46.6,704.8h0.55M46.0,710.5h0.55M55.8,697.2h0.55M48.2,709.1h0.55M49.2,699.9h0.55M45.4,710.7h0.55M49.1,706.4h0.55M44.3,707.5h0.55M49.7,700.4h0.55M43.0,690.1h0.55M46.2,706.7h0.55M47.2,691.9h0.55M42.1,697.2h0.55M47.0,694.8h0.55M41.9,717.3h0.55M44.2,700.6h0.55M45.1,696.9h0.55M47.1,699.4h0.55M49.1,691.7h0.55M46.7,708.7h0.55M51.0,706.8h0.55M47.1,688.5h0.55M41.6,710.5h0.55M49.3,707.0h0.55M41.4,683.4h0.55M43.4,691.7h0.55M47.5,693.1h0.55M52.4,696.6h0.55M45.1,709.5h0.55M48.1,694.2h0.55M42.8,699.8h0.55M43.3,685.1h0.55M49.1,708.1h0.55M50.3,705.7h0.55M44.7,691.7h0.55M43.2,708.7h0.55M48.6,685.3h0.55M50.0,712.9h0.55M47.1,691.4h0.55M53.0,690.5h0.55M46.7,685.3h0.55M42.7,687.1h0.55M50.7,712.3h0.55M45.6,690.1h0.55M46.8,705.3h0.55M41.8,691.9h0.55M46.7,708.2h0.55M47.3,705.9h0.55M42.7,680.2h0.55M48.1,694.0h0.55M46.6,698.7h0.55M48.6,695.2h0.55M51.9,702.3h0.55M48.8,707.5h0.55M50.5,705.5h0.55M41.0,696.5h0.55M53.4,706.2h0.55M48.9,706.1h0.55M44.8,696.0h0.55M44.8,712.2h0.55M48.6,691.6h0.55M53.0,705.0h0.55M51.1,703.9h0.55M45.9,703.5h0.55M43.2,691.5h0.55M44.0,697.4h0.55M42.3,701.1h0.55M53.3,701.6h0.55M50.0,700.1h0.55M48.3,701.7h0.55M45.1,702.7h0.55M41.9,705.9h0.55M46.0,692.4h0.55M45.8,706.9h0.55M44.7,706.2h0.55M49.0,715.8h0.55M43.3,701.0h0.55M48.8,715.3h0.55M47.9,708.7h0.55M41.9,696.8h0.55M52.7,699.5h0.55M54.5,695.5h0.55M46.0,687.9h0.55M49.2,704.3h0.55M54.0,703.5h0.55M46.1,689.5h0.55M46.7,710.4h0.55M49.6,712.9h0.55M50.0,701.6h0.55M49.1,703.5h0.55M42.4,717.2h0.55M48.3,692.7h0.55M48.3,704.6h0.55M50.4,714.8h0.55M52.3,693.6h0.55M48.2,705.1h0.55M43.2,697.8h0.55M47.7,708.6h0.55M54.6,704.6h0.55M44.9,681.0h0.55M50.7,700.8h0.55M46.6,693.2h0.55M49.5,686.0h0.55M47.4,703.1h0.55M48.0,713.6h0.55M46.7,702.8h0.55M50.0,688.2h0.55M46.0,702.6h0.55M50.3,694.9h0.55M49.8,705.4h0.55M41.8,688.8h0.55M42.0,703.2h0.55M47.7,708.5h0.55M49.9,697.1h0.55M50.7,709.3h0.55M48.6,706.3h0.55M42.5,705.2h0.55M43.4,691.3h0.55M45.8,703.2h0.55M46.8,699.0h0.55M43.5,703.7h0.55M44.4,689.4h0.55M47.3,715.0h0.55M45.6,692.5h0.55M51.8,717.3h0.55M46.0,700.1h0.55M47.5,710.9h0.55M48.5,685.7h0.55M43.2,691.0h0.55M48.5,703.0h0.55M53.2,699.6h0.55M48.1,702.7h0.55M48.0,715.2h0.55M51.5,696.6h0.55M49.4,698.6h0.55M47.4,703.4h0.55M47.1,697.8h0.55M52.4,699.6h0.55M49.5,717.1h0.55M49.2,711.2h0.55M51.8,711.8h0.55M53.0,689.2h0.55M53.8,702.2h0.55M40.9,696.3h0.55M42.1,701.8h0.55M41.8,693.0h0.55M48.0,703.4h0.55M44.2,699.9h0.55M46.7,702.7h0.55M47.0,700.0h0.55M50.1,687.6h0.55M45.3,703.2h0.55M45.6,697.0h0.55M45.5,703.9h0.55M51.4,700.3h0.55M46.1,705.2h0.55M46.2,684.6h0.55M47.9,698.6h0.55M45.0,707.7h0.55M47.2,696.9h0.55M47.0,700.9h0.55M48.5,704.0h0.55M45.3,690.6h0.55M43.2,700.7h0.55M43.0,708.8h0.55M42.4,685.9h0.55M46.3,686.0h0.55M52.7,693.1h0.55M46.8,699.8h0.55M44.1,686.1h0.55M41.9,707.0h0.55M47.0,709.6h0.55M45.2,708.5h0.55M50.1,707.5h0.55M52.1,700.4h0.55M52.4,695.7h0.55M52.8,677.3h0.55M47.0,694.8h0.55M47.0,711.3h0.55M49.5,702.9h0.55M53.0,688.7h0.55M44.2,715.6h0.55M48.1,683.3h0.55M48.2,691.3h0.55M52.2,712.3h0.55M45.1,713.6h0.55M44.1,710.3h0.55M49.0,700.9h0.55M42.0,699.5h0.55M43.6,680.1h0.55M49.0,705.3h0.55M49.7,702.6h0.55M44.7,675.4h0.55M48.7,710.6h0.55M44.9,689.3h0.55M46.9,687.0h0.55M47.0,708.9h0.55M52.3,704.4h0.55M47.7,708.7h0.55M51.9,699.1h0.55M42.7,694.9h0.55M42.6,694.0h0.55M46.6,705.1h0.55M47.5,702.6h0.55M45.8,705.8h0.55M50.1,708.8h0.55M52.2,699.4h0.55M46.1,717.3h0.55M47.7,705.7h0.55M45.8,710.7h0.55M45.6,692.9h0.55M46.8,698.0h0.55M49.9,698.6h0.55M47.4,700.0h0.55M48.2,696.3h0.55M50.9,689.2h0.55M45.7,695.6h0.55M49.3,702.4h0.55M48.7,699.0h0.55M44.5,691.9h0.55M45.8,697.2h0.55M48.0,705.2h0.55M50.4,701.0h0.55M44.4,692.5h0.55M47.2,705.2h0.55M53.8,703.6h0.55M43.3,712.9h0.55M51.0,714.1h0.55M47.0,710.6h0.55M45.3,701.4h0.55M46.2,710.6h0.55M47.2,695.6h0.55M47.8,707.9h0.55M44.5,707.7h0.55M44.5,694.1h0.55M47.8,699.9h0.55M43.6,687.3h0.55M47.1,704.2h0.55M45.4,703.7h0.55M41.7,705.5h0.55M48.5,704.5h0.55M52.2,637.5h0.55M56.8,643.6h0.55M57.7,638.6h0.55M51.5,642.3h0.55M63.3,633.9h0.55M60.0,638.9h0.55M55.7,629.0h0.55M66.9,625.4h0.55M57.9,634.7h0.55M63.1,634.4h0.55M56.2,640.8h0.55M58.8,633.8h0.55M60.2,639.4h0.55M62.1,633.8h0.55M55.7,634.6h0.55M50.8,638.6h0.55M58.5,645.8h0.55M54.0,639.4h0.55M63.1,636.3h0.55M56.4,637.8h0.55M51.7,630.9h0.55M62.9,638.1h0.55M55.5,629.3h0.55M56.7,644.3h0.55M48.9,631.5h0.55M62.9,645.8h0.55M65.6,633.6h0.55M59.7,632.4h0.55M59.2,634.7h0.55M57.2,645.3h0.55M58.1,635.5h0.55M56.3,638.6h0.55M52.8,638.3h0.55M59.7,646.6h0.55M43.3,629.7h0.55M48.4,642.4h0.55M71.0,638.2h0.55M56.7,644.0h0.55M40.9,635.9h0.55M52.9,634.0h0.55M58.1,633.4h0.55M62.8,637.0h0.55M58.3,652.6h0.55M53.2,642.7h0.55M50.9,644.7h0.55M61.9,637.9h0.55M62.1,646.9h0.55M64.5,637.0h0.55M55.7,643.8h0.55M47.0,633.3h0.55M59.0,640.5h0.55M67.4,647.8h0.55M58.0,639.7h0.55M47.9,635.9h0.55M57.6,635.6h0.55M56.4,640.7h0.55M50.2,633.5h0.55M45.1,644.0h0.55M49.5,626.5h0.55M60.7,635.7h0.55M61.9,634.7h0.55M69.0,641.4h0.55M56.9,637.7h0.55M54.7,642.0h0.55M68.3,634.4h0.55M49.3,640.7h0.55M62.5,627.9h0.55M51.8,630.9h0.55M59.4,640.1h0.55M51.5,630.1h0.55M60.2,624.4h0.55M59.9,636.0h0.55M67.8,643.1h0.55M52.5,635.3h0.55M54.3,632.5h0.55M56.5,642.9h0.55M46.8,635.6h0.55M65.1,641.5h0.55M51.0,632.1h0.55M50.8,627.2h0.55M63.0,637.4h0.55M51.7,628.2h0.55M53.7,633.9h0.55M66.5,634.2h0.55M56.7,643.5h0.55M60.1,635.9h0.55M42.7,645.6h0.55M59.7,634.4h0.55M55.5,631.2h0.55M50.5,627.9h0.55M59.1,640.2h0.55M57.1,641.8h0.55M59.3,637.7h0.55M50.6,640.6h0.55M63.2,640.8h0.55M63.6,634.1h0.55M50.0,644.6h0.55M52.4,638.5h0.55M54.8,637.1h0.55M54.4,633.7h0.55M45.1,648.6h0.55M57.2,625.3h0.55M50.5,630.1h0.55M51.5,621.5h0.55M59.5,647.0h0.55M54.5,641.5h0.55M59.7,629.4h0.55M63.4,626.8h0.55M52.5,634.8h0.55M63.6,637.7h0.55M55.2,632.1h0.55M56.5,637.3h0.55M60.4,645.5h0.55M60.5,637.1h0.55M55.1,646.7h0.55M57.2,636.9h0.55M66.9,646.5h0.55M59.5,636.3h0.55M52.1,643.5h0.55M53.3,642.8h0.55M51.2,637.6h0.55M58.4,637.9h0.55M57.4,639.3h0.55M49.2,630.3h0.55M55.1,647.9h0.55M55.2,631.4h0.55M52.0,637.2h0.55M63.2,633.6h0.55M59.4,638.1h0.55M53.8,631.3h0.55M55.1,632.6h0.55M59.3,626.3h0.55M62.8,641.6h0.55M59.5,646.1h0.55M59.7,626.7h0.55M56.3,639.7h0.55M51.9,630.2h0.55M58.6,640.1h0.55M53.4,635.5h0.55M52.9,633.6h0.55M55.7,643.5h0.55M46.3,634.9h0.55M65.8,638.9h0.55M56.9,642.1h0.55M49.9,629.7h0.55M46.0,628.2h0.55M57.5,642.1h0.55M53.5,632.9h0.55M58.4,640.7h0.55M57.6,625.5h0.55M52.7,621.7h0.55M57.5,631.9h0.55M52.0,646.1h0.55M64.0,639.9h0.55M57.7,638.0h0.55M52.5,636.7h0.55M67.5,631.7h0.55M52.0,638.0h0.55M61.4,642.0h0.55M50.2,636.2h0.55M54.4,629.6h0.55M56.5,634.1h0.55M61.5,639.6h0.55M51.3,637.5h0.55M53.8,633.2h0.55M53.1,643.4h0.55M53.5,626.7h0.55M51.3,641.9h0.55M69.0,630.6h0.55M53.9,635.0h0.55M47.5,639.4h0.55M55.7,638.7h0.55M69.5,635.4h0.55M60.8,642.0h0.55M52.2,633.4h0.55M65.4,641.3h0.55M56.9,630.4h0.55M61.3,640.2h0.55M69.2,645.9h0.55M60.8,638.6h0.55M56.4,633.7h0.55M57.9,638.5h0.55M59.9,643.5h0.55M57.9,633.7h0.55M60.9,646.4h0.55M51.0,639.5h0.55M59.3,640.2h0.55M59.0,636.5h0.55M55.4,647.2h0.55M66.4,628.6h0.55M51.9,633.9h0.55M46.4,639.1h0.55M55.7,633.7h0.55M61.4,651.7h0.55M64.9,644.1h0.55M53.5,641.0h0.55M55.8,644.0h0.55M59.5,636.8h0.55M59.3,632.7h0.55M60.8,646.1h0.55M53.8,640.4h0.55M46.0,642.6h0.55M61.3,630.9h0.55M66.5,637.7h0.55M45.6,628.8h0.55M61.3,635.4h0.55M62.6,627.7h0.55M55.4,642.9h0.55M51.9,641.1h0.55M53.8,639.1h0.55M57.9,650.5h0.55M48.5,641.7h0.55M63.9,630.2h0.55M56.5,650.9h0.55M62.3,619.1h0.55M54.6,626.7h0.55M57.8,632.6h0.55M52.6,632.0h0.55M57.8,634.2h0.55M50.6,635.6h0.55M58.4,631.8h0.55M62.7,627.0h0.55M58.5,634.7h0.55M65.5,633.1h0.55M52.0,628.9h0.55M68.0,640.7h0.55M49.5,635.0h0.55M50.2,646.2h0.55M58.5,624.7h0.55M57.3,642.5h0.55M56.0,639.9h0.55M55.3,638.3h0.55M57.3,632.7h0.55M58.1,638.0h0.55M55.8,632.9h0.55M49.9,638.5h0.55M61.0,622.4h0.55M52.8,645.2h0.55M61.5,632.7h0.55M64.1,631.1h0.55M51.2,648.7h0.55M53.4,635.7h0.55M46.1,630.9h0.55M48.9,636.2h0.55M44.9,643.4h0.55M53.9,633.3h0.55M52.2,641.5h0.55M65.2,634.5h0.55M65.7,646.7h0.55M64.1,638.8h0.55M47.0,641.1h0.55M53.5,638.2h0.55M44.6,635.3h0.55M57.4,631.4h0.55M57.8,647.1h0.55M57.4,632.9h0.55M70.4,624.0h0.55M50.5,639.5h0.55M52.4,623.2h0.55M57.6,642.0h0.55M51.2,645.8h0.55M59.0,644.2h0.55M46.8,637.0h0.55M65.7,649.2h0.55M64.0,637.0h0.55M57.1,633.2h0.55M62.6,632.8h0.55M56.7,624.5h0.55M46.9,647.7h0.55M56.4,638.3h0.55M42.7,636.8h0.55M68.5,628.0h0.55M41.6,636.0h0.55M52.8,635.7h0.55M48.4,628.8h0.55M48.5,640.9h0.55M55.7,642.0h0.55M49.5,640.6h0.55M53.3,637.5h0.55M61.7,637.2h0.55M53.9,626.9h0.55M56.4,641.7h0.55M52.2,636.6h0.55M45.3,628.9h0.55M58.4,644.9h0.55M54.1,626.9h0.55M53.7,627.5h0.55M54.3,648.7h0.55M57.8,636.1h0.55M62.3,634.7h0.55M58.0,638.2h0.55M58.7,628.1h0.55M60.3,642.4h0.55M42.1,620.5h0.55M50.6,646.1h0.55M56.1,641.1h0.55M59.4,642.4h0.55M52.1,633.4h0.55M58.3,640.7h0.55M59.5,639.1h0.55M53.0,643.7h0.55M58.9,643.5h0.55M41.1,638.3h0.55M51.9,637.7h0.55M53.1,635.1h0.55M57.2,639.1h0.55M51.1,621.6h0.55M51.2,640.3h0.55M50.9,639.6h0.55M53.7,631.2h0.55M63.1,647.1h0.55M55.4,636.7h0.55M61.9,628.9h0.55M50.7,643.9h0.55M61.5,634.0h0.55M51.2,639.1h0.55M47.4,633.9h0.55M54.6,621.9h0.55M59.6,641.7h0.55M62.5,628.2h0.55M48.1,632.0h0.55M48.0,649.6h0.55M50.0,635.1h0.55M57.3,639.8h0.55M64.9,630.3h0.55M61.4,637.9h0.55M48.8,637.9h0.55M47.4,647.0h0.55M51.5,643.2h0.55M64.0,633.2h0.55M50.5,637.8h0.55M49.6,642.5h0.55M57.1,632.3h0.55M51.8,641.5h0.55M47.1,647.4h0.55M51.2,635.8h0.55M50.3,647.0h0.55M61.1,645.0h0.55M60.0,637.6h0.55M66.4,641.1h0.55M58.7,640.6h0.55M60.5,638.7h0.55M55.0,627.2h0.55M68.7,629.0h0.55M42.7,632.6h0.55M67.9,644.5h0.55M52.3,638.6h0.55M55.8,624.7h0.55M53.9,638.8h0.55M63.2,629.6h0.55M42.1,627.3h0.55M58.0,637.5h0.55M56.9,637.9h0.55M53.7,628.6h0.55M58.8,639.4h0.55M59.6,644.7h0.55M48.3,622.5h0.55M45.0,650.2h0.55M50.3,639.5h0.55M55.9,641.5h0.55M75.9,633.8h0.55M54.9,633.3h0.55M57.5,640.2h0.55M50.0,645.2h0.55M63.1,639.8h0.55M55.3,635.5h0.55M45.8,641.1h0.55M50.0,633.9h0.55M62.2,631.3h0.55M52.8,642.3h0.55M67.5,632.7h0.55M62.8,632.9h0.55M58.4,640.0h0.55M48.9,643.4h0.55M67.2,637.3h0.55M57.7,629.7h0.55M67.1,637.4h0.55M48.1,641.7h0.55M46.9,632.7h0.55M42.8,645.5h0.55M69.7,633.1h0.55M51.9,633.4h0.55M52.5,640.4h0.55M65.0,630.8h0.55M58.7,625.8h0.55M65.4,636.5h0.55M51.7,646.5h0.55M55.3,645.5h0.55M62.7,647.3h0.55M51.0,637.4h0.55M58.3,635.8h0.55M65.4,632.6h0.55M62.2,645.5h0.55M43.9,631.0h0.55M50.4,633.6h0.55M58.4,635.9h0.55M56.5,634.2h0.55M55.5,640.0h0.55M60.6,632.2h0.55M55.3,632.3h0.55M54.9,628.1h0.55M61.9,641.2h0.55M55.2,632.8h0.55M53.2,632.9h0.55M46.4,647.1h0.55M76.4,629.4h0.55M48.8,640.6h0.55M59.8,627.2h0.55M44.1,640.4h0.55M43.7,645.8h0.55M52.9,637.5h0.55M56.0,633.5h0.55M55.1,635.1h0.55M63.7,636.4h0.55M55.8,633.7h0.55M52.1,632.4h0.55M56.1,648.4h0.55M62.9,638.5h0.55M66.3,643.3h0.55M57.3,636.0h0.55M49.2,638.5h0.55M54.0,627.2h0.55M48.0,649.0h0.55M57.3,640.1h0.55M57.2,634.1h0.55M58.9,643.7h0.55M54.1,640.2h0.55M62.4,634.0h0.55M57.1,632.4h0.55M59.7,634.7h0.55M63.1,632.3h0.55M66.5,635.1h0.55M50.8,631.4h0.55M60.1,631.7h0.55M67.2,645.0h0.55M59.2,628.2h0.55M55.9,632.5h0.55M44.8,639.6h0.55M69.6,633.7h0.55M61.0,645.0h0.55M50.0,634.9h0.55M57.7,639.9h0.55M48.9,638.3h0.55M55.3,642.9h0.55M46.1,633.5h0.55M52.9,635.0h0.55M60.5,633.1h0.55M73.0,632.6h0.55M61.2,643.3h0.55M62.0,635.7h0.55M50.9,635.4h0.55M60.1,637.8h0.55M59.6,640.6h0.55M50.5,631.2h0.55M64.9,634.0h0.55M46.2,648.5h0.55M50.8,631.2h0.55M62.0,630.0h0.55M50.6,643.5h0.55M50.9,652.6h0.55M56.6,653.6h0.55M56.8,637.3h0.55M52.0,635.6h0.55M52.9,636.9h0.55M60.8,629.1h0.55M50.3,624.0h0.55M65.3,636.5h0.55M55.9,636.6h0.55M62.2,639.0h0.55M61.3,636.0h0.55M55.2,636.7h0.55M44.5,643.8h0.55M46.2,630.8h0.55M60.2,637.3h0.55M61.0,647.6h0.55M67.5,645.6h0.55M54.6,649.7h0.55M50.5,636.5h0.55M62.2,635.7h0.55M55.2,634.8h0.55M64.5,621.7h0.55M63.9,643.6h0.55M55.6,640.5h0.55M50.0,643.9h0.55M75.0,631.3h0.55M64.7,636.7h0.55M53.9,634.0h0.55M54.8,629.2h0.55M47.6,647.3h0.55M55.9,640.4h0.55M57.9,640.0h0.55M46.5,631.1h0.55M59.9,643.2h0.55M48.9,633.4h0.55M49.4,641.0h0.55M58.1,637.2h0.55M52.0,639.1h0.55M56.2,632.4h0.55M58.1,632.9h0.55M61.9,640.9h0.55M51.7,640.6h0.55M56.4,632.6h0.55M50.3,626.7h0.55M49.0,639.2h0.55M63.5,633.1h0.55M57.0,639.1h0.55M60.8,639.7h0.55M63.6,641.8h0.55M51.3,639.5h0.55M41.5,635.9h0.55M56.1,640.6h0.55M54.1,642.2h0.55M64.2,631.8h0.55M52.6,638.6h0.55M59.0,637.9h0.55M61.2,629.7h0.55M60.8,644.2h0.55M62.9,639.6h0.55M54.5,639.5h0.55M55.5,627.2h0.55M52.2,636.7h0.55M52.8,631.2h0.55M54.6,634.7h0.55M56.4,636.7h0.55M57.1,643.2h0.55M56.8,639.5h0.55M48.4,618.7h0.55M53.5,641.2h0.55M53.9,633.1h0.55M48.3,642.5h0.55M52.7,638.5h0.55M63.0,640.3h0.55M69.9,636.2h0.55M61.9,641.3h0.55M51.9,637.3h0.55M52.5,630.6h0.55M57.9,632.2h0.55M66.4,632.4h0.55M52.6,637.6h0.55M52.8,637.3h0.55M52.2,628.2h0.55M41.0,629.0h0.55M65.4,639.8h0.55M57.0,634.1h0.55M55.1,638.9h0.55M47.4,632.1h0.55M50.5,644.8h0.55M49.4,644.3h0.55M53.1,653.9h0.55M55.5,637.2h0.55M64.4,642.4h0.55M61.8,630.4h0.55M63.0,647.4h0.55M55.4,634.0h0.55M49.2,643.3h0.55M57.8,637.0h0.55M48.3,647.1h0.55M61.4,636.9h0.55M65.2,631.1h0.55M61.5,630.8h0.55M64.7,635.3h0.55M63.6,634.4h0.55M58.5,644.1h0.55M50.4,637.6h0.55M50.8,642.3h0.55M52.3,634.7h0.55M54.7,644.2h0.55M49.5,636.8h0.55M54.0,633.6h0.55M51.1,636.0h0.55M57.2,627.4h0.55M57.4,629.7h0.55M56.1,651.1h0.55M50.0,636.6h0.55M54.4,643.1h0.55M53.1,625.9h0.55M46.0,638.1h0.55M57.6,643.6h0.55M52.7,641.1h0.55M49.4,645.0h0.55M55.6,632.8h0.55M57.1,647.8h0.55M50.7,629.3h0.55M49.7,629.8h0.55M55.7,639.2h0.55M55.0,638.2h0.55M63.3,635.2h0.55M48.2,622.8h0.55M57.5,632.8h0.55M54.5,639.5h0.55M58.9,627.3h0.55M50.1,637.5h0.55M55.1,644.1h0.55M52.9,624.2h0.55M63.3,626.9h0.55M50.0,639.4h0.55M49.4,652.4h0.55M57.5,640.3h0.55M53.3,650.7h0.55M59.3,632.6h0.55M63.8,626.5h0.55M52.4,638.8h0.55M56.9,631.1h0.55M65.8,646.1h0.55M50.2,639.3h0.55M52.1,634.3h0.55M62.1,637.8h0.55M55.3,637.6h0.55M48.7,644.6h0.55M51.3,645.1h0.55M53.2,634.2h0.55M65.2,638.2h0.55M52.0,633.7h0.55M59.8,648.6h0.55M59.8,634.6h0.55M49.0,632.8h0.55M55.3,638.5h0.55M51.9,644.9h0.55M50.1,632.6h0.55M59.1,640.0h0.55M53.6,643.0h0.55M47.3,647.1h0.55M69.6,649.1h0.55M56.7,649.2h0.55M56.3,645.2h0.55M54.8,638.2h0.55M59.3,626.2h0.55M54.7,647.6h0.55M61.7,639.0h0.55M57.2,645.6h0.55M58.1,625.3h0.55M50.1,635.2h0.55M56.9,634.2h0.55M55.4,647.3h0.55M61.8,640.7h0.55M56.1,637.4h0.55M58.3,638.5h0.55M51.5,641.8h0.55M50.9,636.7h0.55M53.8,629.9h0.55M59.8,636.6h0.55M48.8,636.5h0.55M47.5,645.9h0.55M59.2,649.3h0.55M52.5,641.4h0.55M47.3,626.3h0.55M55.2,637.7h0.55M64.3,631.6h0.55M65.9,642.7h0.55M48.1,632.4h0.55M47.8,649.3h0.55M51.1,641.9h0.55M64.2,631.7h0.55M51.6,637.1h0.55M49.0,622.7h0.55M47.3,637.0h0.55M57.7,649.8h0.55M45.7,644.4h0.55M62.2,635.1h0.55M69.2,630.7h0.55M51.3,624.6h0.55M50.1,635.0h0.55M62.0,645.5h0.55M53.6,627.5h0.55M53.0,630.2h0.55M51.8,630.4h0.55M48.2,633.5h0.55M51.4,632.5h0.55M43.6,635.3h0.55M61.1,639.8h0.55M51.1,623.8h0.55M44.4,623.5h0.55M50.3,631.2h0.55M42.2,627.9h0.55M49.6,641.4h0.55M72.4,630.8h0.55M53.6,630.5h0.55M54.2,632.5h0.55M78.0,624.3h0.55M55.0,627.0h0.55M59.2,629.4h0.55M61.1,624.4h0.55M74.8,635.9h0.55M51.8,623.7h0.55M59.9,629.4h0.55M62.6,629.1h0.55M64.0,635.3h0.55M59.2,635.4h0.55M52.8,630.8h0.55M60.0,640.3h0.55M52.4,653.9h0.55M71.1,623.8h0.55M65.7,633.4h0.55M58.1,627.0h0.55M70.7,626.7h0.55M55.3,627.6h0.55M73.2,645.1h0.55M44.3,630.0h0.55M59.2,630.2h0.55M52.9,624.5h0.55M58.2,624.3h0.55M63.4,655.3h0.55M53.1,648.6h0.55M59.3,628.1h0.55M52.9,625.5h0.55M57.0,640.2h0.55M64.3,631.5h0.55M45.4,633.3h0.55M70.9,636.5h0.55M55.4,615.6h0.55M52.2,638.8h0.55M47.6,646.0h0.55M51.0,626.3h0.55M50.9,633.2h0.55M64.9,629.0h0.55M60.6,647.6h0.55M46.0,647.1h0.55M62.0,638.0h0.55M49.2,626.2h0.55M47.5,642.3h0.55M57.9,643.5h0.55M72.1,634.2h0.55M55.6,651.0h0.55M44.4,630.1h0.55M52.7,630.7h0.55M57.3,626.6h0.55M66.3,622.0h0.55M48.8,619.1h0.55M43.6,639.2h0.55M61.6,632.3h0.55M63.5,639.5h0.55M50.9,633.7h0.55M59.3,651.8h0.55M52.1,637.3h0.55M60.8,644.8h0.55M59.8,643.5h0.55M46.6,631.7h0.55M76.6,636.2h0.55M56.8,636.4h0.55M57.3,622.4h0.55M49.9,632.5h0.55M57.5,626.4h0.55M55.1,627.6h0.55M44.3,628.3h0.55M48.9,641.4h0.55M67.9,639.2h0.55M54.1,629.2h0.55M42.1,629.4h0.55M69.8,644.2h0.55M58.0,631.9h0.55M56.0,637.8h0.55M55.9,637.8h0.55M49.2,634.5h0.55M52.9,643.5h0.55M45.0,645.5h0.55M55.2,629.6h0.55M56.2,635.1h0.55M53.9,637.8h0.55M50.9,619.2h0.55M62.2,633.8h0.55M102.1,642.7h0.55M94.2,647.6h0.55M97.0,643.6h0.55M103.3,646.7h0.55M96.1,640.0h0.55M95.0,644.3h0.55M99.7,634.7h0.55M99.5,645.8h0.55M100.2,636.8h0.55M97.0,634.2h0.55M95.7,642.3h0.55M98.6,647.9h0.55M99.1,638.7h0.55M95.4,649.3h0.55M98.9,640.4h0.55M96.3,634.6h0.55M99.9,635.1h0.55M99.8,644.1h0.55M97.7,631.4h0.55M99.4,648.5h0.55M96.7,633.4h0.55M100.9,641.4h0.55M97.2,647.5h0.55M97.9,643.1h0.55M97.6,636.3h0.55M99.0,635.7h0.55M94.7,637.5h0.55M101.2,646.7h0.55M103.2,646.2h0.55M102.0,642.0h0.55M97.6,643.2h0.55M96.4,644.7h0.55M97.5,642.0h0.55M96.7,639.8h0.55M100.6,639.3h0.55M97.0,642.1h0.55M100.4,639.5h0.55M96.0,631.8h0.55M95.6,646.6h0.55M98.3,643.2h0.55M100.8,642.2h0.55M99.5,637.7h0.55M95.0,644.1h0.55M98.3,643.8h0.55M96.2,639.8h0.55M102.8,635.8h0.55M98.7,647.9h0.55M98.0,641.3h0.55M93.9,644.9h0.55M97.5,647.8h0.55M98.3,638.5h0.55M99.4,639.2h0.55M97.4,649.2h0.55M100.6,641.2h0.55M100.2,645.2h0.55M99.8,640.8h0.55M98.7,642.9h0.55M99.7,642.6h0.55M97.3,640.2h0.55M99.5,635.1h0.55M98.5,644.8h0.55M98.9,639.0h0.55M98.5,637.9h0.55M100.6,638.5h0.55M94.9,633.8h0.55M99.1,641.7h0.55M97.5,633.3h0.55M98.2,635.9h0.55M97.1,640.6h0.55M96.8,642.3h0.55M96.9,638.0h0.55M98.0,648.7h0.55M101.9,645.8h0.55M96.9,640.6h0.55M100.5,645.1h0.55M95.0,640.3h0.55M96.9,644.8h0.55M99.9,637.6h0.55M103.1,639.0h0.55M103.8,639.6h0.55M98.3,651.1h0.55M97.4,638.0h0.55M101.7,640.4h0.55M99.5,633.6h0.55M102.4,646.0h0.55M99.3,644.5h0.55M97.4,638.0h0.55M95.1,642.6h0.55M101.2,645.3h0.55M100.5,644.5h0.55M96.5,633.4h0.55M99.9,641.5h0.55M100.6,639.1h0.55M96.6,643.1h0.55M97.3,631.5h0.55M97.2,635.7h0.55M96.1,637.5h0.55M100.5,653.6h0.55M102.2,638.3h0.55M101.0,640.2h0.55M99.4,636.9h0.55M98.3,631.3h0.55M102.4,636.4h0.55M99.8,637.4h0.55M99.1,634.1h0.55M97.7,645.6h0.55M99.8,629.9h0.55M100.3,633.4h0.55M99.1,643.5h0.55M97.1,638.8h0.55M98.0,642.8h0.55M100.5,648.1h0.55M99.2,651.6h0.55M96.5,650.4h0.55M97.9,644.8h0.55M98.2,641.1h0.55M96.5,642.7h0.55M102.9,641.4h0.55M98.5,640.6h0.55M100.0,639.5h0.55M98.5,641.8h0.55M101.3,645.8h0.55M96.2,637.1h0.55M98.5,645.3h0.55M100.6,639.5h0.55M103.1,639.7h0.55M101.5,648.4h0.55M101.9,641.7h0.55M99.7,632.2h0.55M94.7,637.2h0.55M100.0,646.5h0.55M98.3,646.3h0.55M99.7,649.0h0.55M95.1,636.0h0.55M96.4,634.8h0.55M102.1,635.5h0.55M96.7,638.4h0.55M100.4,638.1h0.55M100.1,643.6h0.55M97.1,627.6h0.55M96.5,633.7h0.55M102.0,636.6h0.55M96.2,642.7h0.55M98.6,635.4h0.55M100.9,645.6h0.55M99.1,636.4h0.55M96.6,629.3h0.55M99.3,642.8h0.55M96.5,640.7h0.55M105.6,634.4h0.55M94.8,643.9h0.55M97.6,637.9h0.55M99.8,639.9h0.55M100.6,643.4h0.55M101.0,641.2h0.55M93.8,648.1h0.55M94.8,646.3h0.55M99.0,632.9h0.55M98.6,645.4h0.55M96.3,640.8h0.55M96.9,635.0h0.55M97.2,647.6h0.55M100.0,640.4h0.55M98.3,641.3h0.55M99.1,641.6h0.55M94.8,645.6h0.55M96.7,626.2h0.55M100.0,633.9h0.55M98.2,640.1h0.55M97.2,643.5h0.55M97.9,639.0h0.55M96.4,639.0h0.55M96.3,640.8h0.55M101.4,646.1h0.55M99.4,633.1h0.55M100.7,645.7h0.55M103.0,628.2h0.55M98.5,638.7h0.55M100.9,634.6h0.55M97.7,653.4h0.55M100.6,629.6h0.55M98.5,648.1h0.55M97.2,643.9h0.55M98.7,632.5h0.55M97.1,646.8h0.55M101.1,637.2h0.55M100.9,636.6h0.55M99.0,640.4h0.55M95.8,642.3h0.55M97.7,625.4h0.55M96.7,635.9h0.55M96.7,635.2h0.55M97.0,627.0h0.55M100.4,640.9h0.55M99.1,639.1h0.55M98.6,639.1h0.55M96.1,632.1h0.55M98.7,646.2h0.55M99.0,649.5h0.55M95.5,639.1h0.55M97.2,647.4h0.55M102.2,637.7h0.55M100.1,639.2h0.55M96.3,639.9h0.55M96.2,649.1h0.55M99.8,647.1h0.55M99.3,627.1h0.55M100.2,641.0h0.55M93.3,641.1h0.55M100.7,650.0h0.55M96.3,644.9h0.55M99.2,639.6h0.55M97.9,643.5h0.55M99.7,644.2h0.55M97.6,633.2h0.55M101.4,647.7h0.55M97.3,640.4h0.55M100.2,630.8h0.55M99.6,653.9h0.55M99.1,636.6h0.55M102.9,640.6h0.55M99.0,638.2h0.55M98.9,630.6h0.55M95.7,632.3h0.55M100.5,640.0h0.55M101.0,629.2h0.55M97.2,648.6h0.55M96.8,630.2h0.55M96.9,638.6h0.55M98.5,647.8h0.55M101.4,649.1h0.55M99.8,637.7h0.55M97.4,632.3h0.55M101.3,647.5h0.55M98.7,635.6h0.55M100.0,643.2h0.55M98.8,634.1h0.55M99.0,637.4h0.55M100.1,643.8h0.55M99.5,638.1h0.55M101.8,644.8h0.55M101.2,645.2h0.55M99.9,642.7h0.55M96.2,630.4h0.55M96.5,643.9h0.55M100.5,641.5h0.55M98.7,650.7h0.55M97.6,630.6h0.55M95.2,638.7h0.55M100.0,644.6h0.55M98.0,645.1h0.55M98.4,636.5h0.55M97.7,644.7h0.55M100.6,634.3h0.55M96.4,641.2h0.55M103.1,634.0h0.55M95.8,642.8h0.55M99.6,637.1h0.55M98.4,643.2h0.55M94.7,640.4h0.55M99.8,645.6h0.55M101.0,640.1h0.55M95.4,648.0h0.55M100.2,637.0h0.55M100.7,646.3h0.55M98.2,627.4h0.55M97.5,636.3h0.55M96.7,640.1h0.55M96.2,642.7h0.55M102.6,633.9h0.55M100.7,637.5h0.55M99.7,639.8h0.55M101.3,636.6h0.55M100.1,636.2h0.55M99.0,640.4h0.55M100.8,631.7h0.55M95.6,648.2h0.55M99.3,649.9h0.55M96.3,641.7h0.55M99.8,650.3h0.55M98.4,638.0h0.55M100.0,639.9h0.55M96.9,644.7h0.55M94.4,634.9h0.55M101.4,637.7h0.55M97.8,642.6h0.55M100.9,643.4h0.55M96.4,637.3h0.55M100.8,639.8h0.55M97.1,645.4h0.55M101.0,652.6h0.55M96.2,636.6h0.55M97.0,642.5h0.55M97.5,646.7h0.55M92.7,645.8h0.55M97.1,639.0h0.55M99.7,641.6h0.55M96.3,648.8h0.55M99.7,637.8h0.55M98.9,634.4h0.55M95.9,638.8h0.55M99.3,641.1h0.55M96.8,632.8h0.55M94.9,649.4h0.55M99.3,636.0h0.55M101.0,643.5h0.55M97.6,637.1h0.55M100.9,642.3h0.55M102.0,642.5h0.55M97.2,637.2h0.55M97.0,641.9h0.55M99.0,643.9h0.55M99.5,634.7h0.55M98.1,635.3h0.55M99.5,633.2h0.55M97.3,635.7h0.55M97.2,639.1h0.55M101.7,639.1h0.55M95.4,638.8h0.55M100.1,643.6h0.55M98.9,661.1h0.55M102.3,642.9h0.55M102.7,629.2h0.55M97.3,633.7h0.55M98.7,657.5h0.55M96.1,657.3h0.55M94.0,655.7h0.55M91.4,633.9h0.55M101.9,641.1h0.55M98.6,641.9h0.55M98.7,640.3h0.55M94.2,639.2h0.55M98.4,633.4h0.55M99.8,658.9h0.55M91.6,636.8h0.55M96.9,642.2h0.55M98.4,635.0h0.55M97.9,642.1h0.55M97.7,656.8h0.55M98.5,627.8h0.55M91.9,647.7h0.55M96.7,636.1h0.55M92.7,639.0h0.55M97.6,635.4h0.55M96.6,650.5h0.55M101.1,647.2h0.55M97.3,629.0h0.55M101.0,656.4h0.55M103.0,653.2h0.55M99.1,645.6h0.55M97.9,654.0h0.55M97.0,662.6h0.55M101.0,638.9h0.55M98.0,626.6h0.55M95.2,639.1h0.55M107.5,634.2h0.55M101.6,642.7h0.55M96.9,648.0h0.55M90.3,651.1h0.55M105.5,644.8h0.55M97.8,643.5h0.55M100.6,637.3h0.55M98.5,646.8h0.55M96.6,645.7h0.55M99.3,648.9h0.55M94.2,636.9h0.55M96.3,653.5h0.55M99.0,626.1h0.55M93.0,660.6h0.55M99.3,629.6h0.55M94.5,643.4h0.55M103.5,657.5h0.55M96.6,639.1h0.55M105.5,632.6h0.55M104.1,645.3h0.55M98.4,654.4h0.55M99.9,634.0h0.55M92.1,642.2h0.55M100.0,655.1h0.55M87.9,654.9h0.55M100.4,656.6h0.55M101.1,644.0h0.55M99.7,645.8h0.55M95.6,640.9h0.55M98.5,637.7h0.55M92.3,628.1h0.55M100.0,647.0h0.55M98.4,630.8h0.55M101.3,638.2h0.55M89.9,657.0h0.55M92.2,663.6h0.55M100.1,637.8h0.55M88.9,635.2h0.55M103.8,655.1h0.55M99.0,625.6h0.55M96.5,639.3h0.55M99.8,640.8h0.55M99.3,626.3h0.55M95.5,655.9h0.55M92.4,650.9h0.55M107.0,648.3h0.55M92.6,654.0h0.55M90.8,645.2h0.55M96.4,653.9h0.55M102.6,643.8h0.55M105.0,651.5h0.55M96.1,632.6h0.55M107.6,638.1h0.55M99.6,640.9h0.55M96.2,626.5h0.55M97.4,640.9h0.55M101.8,637.1h0.55M91.9,631.7h0.55M97.8,644.4h0.55M100.8,638.3h0.55M100.1,643.4h0.55M104.6,641.5h0.55M98.6,647.5h0.55M102.7,633.1h0.55M96.2,639.4h0.55M89.7,654.5h0.55M102.2,642.2h0.55M111.1,654.2h0.55M105.9,657.1h0.55M101.5,628.4h0.55M104.0,646.0h0.55M93.4,642.5h0.55M100.9,651.5h0.55M98.7,637.0h0.55M101.0,634.7h0.55M97.7,649.4h0.55M92.4,645.6h0.55M90.4,633.1h0.55M93.2,641.1h0.55M100.8,641.5h0.55M101.6,642.9h0.55M97.2,646.7h0.55M97.1,643.3h0.55M102.0,636.5h0.55M102.5,631.3h0.55M97.1,625.3h0.55M95.9,657.3h0.55M99.4,654.2h0.55M92.3,632.3h0.55M99.8,650.0h0.55M101.3,625.9h0.55M100.0,641.3h0.55M98.5,646.6h0.55M96.9,625.7h0.55M93.8,628.1h0.55M92.9,640.7h0.55M103.1,635.1h0.55M95.0,630.9h0.55M91.3,642.6h0.55M96.1,639.7h0.55M94.3,646.7h0.55M93.3,647.3h0.55M95.4,649.6h0.55M94.5,646.3h0.55M99.7,641.2h0.55M104.4,643.7h0.55M94.5,648.7h0.55M94.8,636.8h0.55M98.0,643.8h0.55M104.6,625.2h0.55M97.0,652.9h0.55M97.4,645.1h0.55M103.9,630.1h0.55M98.2,649.7h0.55M95.7,625.1h0.55M94.1,643.9h0.55M98.7,659.8h0.55M103.2,627.1h0.55M102.0,650.8h0.55M104.3,640.5h0.55M95.8,643.4h0.55M104.0,648.0h0.55M104.6,649.6h0.55M95.7,632.2h0.55M105.2,627.4h0.55M53.9,659.9h0.55M49.0,657.5h0.55M57.1,686.0h0.55M56.4,657.9h0.55M58.1,672.1h0.55M49.8,659.1h0.55M41.7,669.8h0.55M63.0,677.5h0.55M46.5,684.0h0.55M64.7,660.3h0.55M53.6,660.0h0.55M46.4,670.5h0.55M51.7,656.0h0.55M61.5,664.1h0.55M51.9,660.7h0.55M52.7,676.0h0.55M65.8,656.0h0.55M56.6,676.3h0.55M54.5,680.2h0.55M60.9,669.5h0.55M60.0,668.6h0.55M61.2,668.1h0.55M52.5,671.7h0.55M57.6,652.8h0.55M48.1,664.6h0.55M59.9,641.6h0.55M56.9,690.6h0.55M43.5,660.6h0.55M51.7,668.4h0.55M69.4,678.6h0.55M48.1,675.0h0.55M46.3,666.0h0.55M58.5,669.0h0.55M50.0,676.0h0.55M56.4,662.8h0.55M54.7,652.7h0.55M63.3,666.3h0.55M61.0,681.1h0.55M49.4,660.2h0.55M57.1,671.3h0.55M55.4,672.1h0.55M61.0,645.9h0.55M51.0,643.3h0.55M54.5,659.0h0.55M62.2,664.7h0.55M56.4,675.2h0.55M62.2,651.1h0.55M50.9,666.2h0.55M72.0,661.1h0.55M55.5,665.6h0.55M63.9,662.1h0.55M59.6,658.9h0.55M52.2,655.3h0.55M62.8,657.6h0.55M61.8,666.9h0.55M65.6,637.0h0.55M48.5,651.2h0.55M55.6,670.8h0.55M79.3,678.0h0.55M68.9,666.7h0.55M53.6,668.2h0.55M57.1,669.0h0.55M48.0,652.4h0.55M51.3,662.6h0.55M60.1,659.6h0.55M60.1,669.6h0.55M46.8,662.0h0.55M43.3,657.7h0.55M65.0,656.1h0.55M73.4,667.9h0.55M64.8,664.0h0.55M64.6,673.6h0.55M57.9,657.9h0.55M52.2,681.8h0.55M55.4,658.6h0.55M50.8,646.6h0.55M52.6,666.2h0.55M52.7,655.6h0.55M60.6,667.5h0.55M53.2,666.0h0.55M48.4,671.4h0.55M48.3,659.7h0.55M58.2,658.9h0.55M46.9,683.4h0.55M70.3,646.0h0.55M58.1,650.7h0.55M59.7,650.3h0.55M62.1,668.2h0.55M72.0,674.7h0.55M53.0,672.2h0.55M53.0,661.9h0.55M52.6,645.9h0.55M62.3,643.2h0.55M54.9,668.1h0.55M58.0,647.7h0.55M51.3,669.6h0.55M66.7,678.5h0.55M41.0,667.5h0.55M52.8,670.4h0.55M42.2,661.6h0.55M63.2,656.7h0.55M53.8,653.5h0.55M66.8,650.1h0.55M49.0,659.8h0.55M54.2,683.6h0.55M59.4,654.9h0.55M62.1,666.3h0.55M59.5,662.4h0.55M61.1,651.6h0.55M46.4,658.9h0.55M47.3,669.8h0.55M74.1,675.0h0.55M60.9,666.3h0.55M51.0,650.4h0.55M61.8,648.6h0.55M59.7,661.6h0.55M63.6,663.5h0.55M57.9,657.3h0.55M41.9,659.7h0.55M63.1,673.2h0.55M69.1,653.3h0.55M48.8,669.8h0.55M53.0,688.0h0.55M59.8,648.2h0.55M52.1,678.3h0.55M41.0,664.5h0.55M44.8,678.6h0.55M53.1,653.0h0.55M42.0,656.1h0.55M76.2,664.0h0.55M54.7,651.7h0.55M60.0,658.4h0.55M49.5,676.5h0.55M60.9,654.3h0.55M70.0,662.5h0.55M61.4,664.4h0.55M67.4,669.0h0.55M53.9,670.0h0.55M53.6,664.3h0.55M71.4,652.7h0.55M47.9,659.1h0.55M52.6,675.7h0.55M43.0,685.4h0.55M70.9,658.6h0.55M58.6,659.5h0.55M62.9,669.5h0.55M63.6,670.5h0.55M74.0,661.3h0.55M63.2,661.2h0.55M57.3,665.1h0.55M56.5,666.4h0.55M49.5,661.5h0.55M51.7,651.6h0.55M50.8,658.2h0.55M55.7,647.8h0.55M54.7,652.0h0.55M49.8,664.8h0.55M66.8,665.8h0.55M52.7,658.7h0.55M68.8,647.2h0.55M67.0,648.4h0.55M51.4,663.5h0.55M55.1,679.2h0.55M61.4,662.5h0.55M65.4,663.4h0.55M49.9,674.0h0.55M70.2,675.5h0.55M46.7,681.6h0.55M53.3,670.5h0.55M67.5,686.2h0.55M42.8,653.0h0.55M67.4,667.8h0.55M54.3,634.4h0.55M60.9,661.2h0.55M57.0,665.3h0.55M63.6,660.4h0.55M49.1,659.5h0.55M74.4,656.3h0.55M56.3,681.5h0.55M66.3,664.2h0.55M63.5,660.4h0.55M49.0,672.8h0.55M58.2,678.6h0.55M54.7,659.3h0.55M60.0,661.1h0.55M54.3,654.3h0.55M59.2,666.2h0.55M73.1,662.7h0.55M41.5,667.6h0.55M77.2,658.7h0.55M49.9,661.4h0.55M55.3,648.2h0.55M62.1,654.4h0.55M62.6,681.8h0.55M68.0,664.9h0.55M52.5,660.5h0.55M65.5,657.9h0.55M60.7,672.5h0.55M49.0,657.2h0.55M61.0,663.1h0.55M55.9,657.8h0.55M56.4,681.1h0.55M69.0,647.2h0.55M57.4,663.9h0.55M57.3,649.5h0.55M55.9,664.5h0.55M51.0,666.1h0.55M57.9,666.8h0.55M55.5,658.5h0.55M58.6,673.6h0.55M64.9,662.2h0.55M52.9,673.4h0.55M61.8,671.6h0.55M54.6,654.6h0.55M58.7,656.9h0.55M67.2,671.4h0.55M68.8,673.2h0.55M52.8,654.6h0.55M65.6,672.9h0.55M89.7,637.9h0.55M83.4,646.8h0.55M86.4,635.8h0.55M77.1,637.5h0.55M85.1,655.7h0.55M94.9,641.4h0.55M80.2,627.4h0.55M86.9,649.0h0.55M78.5,647.0h0.55M95.0,634.4h0.55M93.7,636.3h0.55M87.3,654.4h0.55M77.5,632.5h0.55M94.7,620.7h0.55M79.7,638.0h0.55M89.4,644.5h0.55M93.5,646.1h0.55M73.0,621.0h0.55M73.8,636.1h0.55M73.6,640.1h0.55M86.9,626.5h0.55M91.8,635.4h0.55M94.1,633.0h0.55M86.6,640.8h0.55M78.8,650.8h0.55M73.1,628.5h0.55M80.1,655.1h0.55M84.0,619.5h0.55M79.6,643.6h0.55M90.8,622.6h0.55M90.1,634.4h0.55M84.5,635.7h0.55M82.6,659.6h0.55M93.2,656.6h0.55M89.2,647.4h0.55M76.1,619.5h0.55M91.3,646.3h0.55M86.9,631.1h0.55M78.9,656.7h0.55M84.7,618.8h0.55M80.5,632.7h0.55M74.5,659.1h0.55M92.9,652.2h0.55M73.1,635.5h0.55M75.5,648.5h0.55M90.8,651.2h0.55M90.4,623.1h0.55M73.3,621.9h0.55M91.5,652.8h0.55M84.4,627.9h0.55M91.9,623.1h0.55M80.1,618.1h0.55M94.6,635.4h0.55M90.0,651.7h0.55M85.8,659.5h0.55M90.0,656.9h0.55M94.2,621.4h0.55M89.5,627.5h0.55M80.1,632.3h0.55M94.7,620.5h0.55M82.6,623.4h0.55M94.9,638.8h0.55M88.4,639.8h0.55M89.9,632.1h0.55M82.1,649.3h0.55M88.5,655.3h0.55M79.8,653.6h0.55M89.2,642.1h0.55M82.0,641.8h0.55M74.7,622.1h0.55M79.8,623.2h0.55M74.1,648.1h0.55M89.1,643.9h0.55M77.5,648.3h0.55M91.2,644.0h0.55M78.0,641.7h0.55M81.7,629.3h0.55M76.3,654.3h0.55M86.9,657.2h0.55M76.8,629.1h0.55M84.2,620.5h0.55M79.6,640.7h0.55M83.6,656.2h0.55M85.7,644.8h0.55M85.9,651.0h0.55M81.1,618.0h0.55M94.6,651.3h0.55M75.8,622.7h0.55M77.9,645.6h0.55M75.9,618.8h0.55M96.2,655.4h0.55M85.2,678.3h0.55M82.6,655.2h0.55M85.2,669.9h0.55M88.2,680.3h0.55M89.9,674.8h0.55M73.9,706.1h0.55M107.7,685.1h0.55M73.1,669.2h0.55M115.3,682.9h0.55M82.7,705.0h0.55M114.9,662.5h0.55M96.5,689.2h0.55M78.5,674.5h0.55M102.1,696.1h0.55M102.5,692.8h0.55M90.8,659.2h0.55M73.8,706.1h0.55M113.6,710.2h0.55M76.6,701.9h0.55M81.1,676.1h0.55M82.4,707.5h0.55M111.5,705.8h0.55M90.9,712.1h0.55M85.2,690.0h0.55M104.6,669.3h0.55M90.9,661.1h0.55M110.4,666.2h0.55M79.4,672.0h0.55M103.1,693.9h0.55M42.8,701.8h0.55M43.6,634.8h0.55M42.9,630.6h0.55M41.8,628.3h0.55M41.3,649.4h0.55M44.1,681.2h0.55M41.3,635.8h0.55M43.1,668.1h0.55M41.1,622.8h0.55M43.0,675.5h0.55M41.3,693.4h0.55M41.8,674.3h0.55M42.9,648.4h0.55M44.3,654.1h0.55M42.5,669.2h0.55M43.9,715.7h0.55M43.7,669.0h0.55M43.5,679.4h0.55M44.4,713.9h0.55M43.7,635.5h0.55M43.0,658.7h0.55M41.8,694.3h0.55M41.8,686.8h0.55M42.7,657.4h0.55M43.5,688.4h0.55M44.5,716.9h0.55M43.8,640.4h0.55M43.3,664.5h0.55M44.3,659.5h0.55M42.3,615.7h0.55M42.6,668.4h0.55M42.1,623.9h0.55M42.7,620.3h0.55M41.6,659.2h0.55M42.2,665.0h0.55M42.9,653.4h0.55M41.5,614.9h0.55M43.0,713.9h0.55M42.0,649.6h0.55M42.1,690.2h0.55M42.7,695.8h0.55M41.0,626.8h0.55M41.7,651.4h0.55M42.4,653.1h0.55M44.4,658.7h0.55M43.0,713.2h0.55M43.2,674.8h0.55M43.9,647.8h0.55M41.1,712.6h0.55M42.9,673.5h0.55M41.2,690.5h0.55M42.3,679.9h0.55M42.0,708.5h0.55M42.3,641.7h0.55M44.1,636.2h0.55M41.9,663.6h0.55M44.4,625.0h0.55M41.7,695.8h0.55M41.3,656.1h0.55M43.7,687.1h0.55" fill="none" stroke="#333" stroke-width="0.55"/>
<line x1="72.5" y1="612.3" x2="72.5" y2="717.9" stroke="#777" stroke-width="0.7"/>
<line x1="40.4" y1="652.5" x2="137.9" y2="652.5" stroke="#555" stroke-width="0.7"/>
<rect x="40.4" y="612.3" width="97.5" height="105.60000000000002" fill="none" stroke="#111" stroke-width="1.6"/>
<path d="M47.7,717.9v1.5M40.4,710.0h-1.5M52.0,717.9v1.5M40.4,705.3h-1.5M55.1,717.9v1.5M40.4,702.0h-1.5M57.4,717.9v1.5M40.4,699.4h-1.5M59.4,717.9v1.5M40.4,697.4h-1.5M61.0,717.9v1.5M40.4,695.6h-1.5M62.4,717.9v1.5M40.4,694.1h-1.5M63.7,717.9v1.5M40.4,692.7h-1.5M72.1,717.9v1.5M40.4,683.6h-1.5M76.4,717.9v1.5M40.4,678.9h-1.5M79.5,717.9v1.5M40.4,675.6h-1.5M81.8,717.9v1.5M40.4,673.0h-1.5M83.7,717.9v1.5M40.4,671.0h-1.5M85.4,717.9v1.5M40.4,669.2h-1.5M86.8,717.9v1.5M40.4,667.7h-1.5M88.0,717.9v1.5M40.4,666.3h-1.5M96.5,717.9v1.5M40.4,657.2h-1.5M100.8,717.9v1.5M40.4,652.5h-1.5M103.8,717.9v1.5M40.4,649.2h-1.5M106.2,717.9v1.5M40.4,646.6h-1.5M108.1,717.9v1.5M40.4,644.6h-1.5M109.7,717.9v1.5M40.4,642.8h-1.5M111.2,717.9v1.5M40.4,641.3h-1.5M112.4,717.9v1.5M40.4,639.9h-1.5M120.9,717.9v1.5M40.4,630.8h-1.5M125.2,717.9v1.5M40.4,626.1h-1.5M128.2,717.9v1.5M40.4,622.8h-1.5M130.6,717.9v1.5M40.4,620.2h-1.5M132.5,717.9v1.5M40.4,618.2h-1.5M134.1,717.9v1.5M40.4,616.4h-1.5M135.5,717.9v1.5M40.4,614.9h-1.5M136.8,717.9v1.5M40.4,613.5h-1.5M40.4,717.9v3M40.4,717.9h-3M64.8,717.9v3M40.4,691.5h-3M89.2,717.9v3M40.4,665.1h-3M113.5,717.9v3M40.4,638.7h-3M137.9,717.9v3M40.4,612.3h-3" fill="none" stroke="#111" stroke-width="0.8"/>
<text x="43.699999999999996" y="731.9" font-size="8.5" text-anchor="middle" fill="#333333">10<tspan font-size="5.8" dy="-3.2">0</tspan></text>
<text x="34.9" y="720.1" font-size="8.5" text-anchor="end" fill="#333333">10<tspan font-size="5.8" dy="-3.2">0</tspan></text>
<text x="68.075" y="731.9" font-size="8.5" text-anchor="middle" fill="#333333">10<tspan font-size="5.8" dy="-3.2">1</tspan></text>
<text x="34.9" y="693.7" font-size="8.5" text-anchor="end" fill="#333333">10<tspan font-size="5.8" dy="-3.2">1</tspan></text>
<text x="92.45" y="731.9" font-size="8.5" text-anchor="middle" fill="#333333">10<tspan font-size="5.8" dy="-3.2">2</tspan></text>
<text x="34.9" y="667.3" font-size="8.5" text-anchor="end" fill="#333333">10<tspan font-size="5.8" dy="-3.2">2</tspan></text>
<text x="116.825" y="731.9" font-size="8.5" text-anchor="middle" fill="#333333">10<tspan font-size="5.8" dy="-3.2">3</tspan></text>
<text x="34.9" y="640.9" font-size="8.5" text-anchor="end" fill="#333333">10<tspan font-size="5.8" dy="-3.2">3</tspan></text>
<text x="141.20000000000002" y="731.9" font-size="8.5" text-anchor="middle" fill="#333333">10<tspan font-size="5.8" dy="-3.2">4</tspan></text>
<text x="34.9" y="614.5" font-size="8.5" text-anchor="end" fill="#333333">10<tspan font-size="5.8" dy="-3.2">4</tspan></text>
<text x="89.7" y="607.5" font-size="8.5" text-anchor="middle" fill="#333333">Healthy</text>
<text x="44.8" y="624.2" font-size="7.4" textLength="11.3" lengthAdjust="spacingAndGlyphs" fill="#333333">8.5</text>
<text x="116.3" y="624.2" font-size="7.4" textLength="11.3" lengthAdjust="spacingAndGlyphs" fill="#333333">6.8</text>
<text x="117.5" y="711.2" font-size="7.4" textLength="15.5" lengthAdjust="spacingAndGlyphs" fill="#333333">0.73</text>
<text x="42" y="717" font-size="4" fill="#555">84</text>
<path d="M181.4,686.0h0.55M185.3,684.5h0.55M183.4,679.0h0.55M186.3,683.0h0.55M180.3,699.1h0.55M178.4,692.1h0.55M187.4,713.8h0.55M168.7,680.8h0.55M184.9,703.6h0.55M177.4,693.2h0.55M179.2,677.3h0.55M170.4,676.2h0.55M189.0,687.2h0.55M193.2,699.9h0.55M183.0,700.0h0.55M185.7,703.4h0.55M174.1,685.1h0.55M176.9,693.3h0.55M178.9,676.8h0.55M176.0,714.1h0.55M194.3,681.4h0.55M183.0,691.6h0.55M175.0,700.8h0.55M180.0,712.6h0.55M183.5,688.2h0.55M186.0,683.2h0.55M186.3,700.4h0.55M169.0,689.6h0.55M182.6,701.3h0.55M181.5,691.8h0.55M178.2,688.4h0.55M180.5,678.9h0.55M184.7,688.0h0.55M183.9,685.7h0.55M183.2,693.6h0.55M186.3,697.7h0.55M186.6,689.9h0.55M180.1,688.8h0.55M172.3,690.5h0.55M187.6,701.5h0.55M175.0,695.7h0.55M185.4,675.2h0.55M182.8,696.1h0.55M185.4,695.2h0.55M169.2,667.1h0.55M193.4,687.1h0.55M188.8,707.6h0.55M181.1,677.9h0.55M189.4,691.5h0.55M183.9,697.9h0.55M186.7,704.5h0.55M171.2,674.6h0.55M181.4,692.1h0.55M185.6,690.3h0.55M179.3,717.0h0.55M189.5,706.3h0.55M187.3,682.3h0.55M179.9,691.1h0.55M173.4,681.3h0.55M181.5,677.0h0.55M184.0,697.8h0.55M179.0,687.8h0.55M184.4,697.9h0.55M182.9,676.9h0.55M169.9,717.2h0.55M176.2,687.5h0.55M168.6,682.2h0.55M175.7,701.8h0.55M177.8,686.0h0.55M175.4,686.6h0.55M170.2,695.3h0.55M188.3,693.9h0.55M177.0,707.5h0.55M183.7,679.3h0.55M176.8,684.5h0.55M180.2,706.9h0.55M175.9,690.2h0.55M181.2,677.4h0.55M177.4,699.5h0.55M187.9,669.0h0.55M185.1,688.4h0.55M188.9,699.6h0.55M193.3,695.8h0.55M177.9,681.8h0.55M171.2,698.8h0.55M183.9,702.1h0.55M182.8,673.6h0.55M177.9,689.0h0.55M181.5,701.4h0.55M189.8,695.5h0.55M172.7,694.9h0.55M179.1,705.7h0.55M187.5,686.4h0.55M186.7,692.2h0.55M183.5,708.5h0.55M173.0,691.2h0.55M190.5,682.6h0.55M181.9,693.6h0.55M177.8,676.0h0.55M176.0,680.0h0.55M187.6,695.1h0.55M185.1,677.4h0.55M183.8,693.8h0.55M187.3,683.2h0.55M185.8,708.8h0.55M192.3,680.6h0.55M173.2,674.0h0.55M186.8,699.3h0.55M182.7,681.4h0.55M188.7,711.7h0.55M180.3,690.5h0.55M188.3,698.2h0.55M189.3,687.1h0.55M182.7,687.9h0.55M176.8,688.4h0.55M178.7,698.2h0.55M178.5,692.9h0.55M175.2,677.0h0.55M189.8,680.0h0.55M192.3,703.5h0.55M177.8,692.3h0.55M179.3,684.6h0.55M188.7,690.4h0.55M186.8,683.6h0.55M176.0,708.3h0.55M178.7,678.6h0.55M179.4,704.9h0.55M179.5,683.2h0.55M184.7,704.0h0.55M179.2,688.1h0.55M179.3,713.4h0.55M179.5,697.0h0.55M180.9,688.1h0.55M177.8,675.3h0.55M170.8,694.0h0.55M176.3,690.9h0.55M179.3,685.8h0.55M175.8,714.7h0.55M173.3,685.8h0.55M178.6,677.9h0.55M174.3,702.6h0.55M186.6,693.6h0.55M201.6,702.1h0.55M188.5,682.0h0.55M187.6,712.6h0.55M178.0,714.1h0.55M175.3,678.1h0.55M180.2,682.2h0.55M184.7,678.5h0.55M181.1,668.1h0.55M180.3,704.8h0.55M178.8,695.8h0.55M187.6,678.6h0.55M172.2,693.0h0.55M182.3,688.7h0.55M174.2,706.8h0.55M172.9,688.8h0.55M180.2,700.9h0.55M177.6,682.0h0.55M193.6,681.7h0.55M185.7,690.1h0.55M177.4,691.5h0.55M178.9,695.8h0.55M181.0,680.1h0.55M192.6,699.8h0.55M182.0,688.3h0.55M189.6,686.5h0.55M175.2,700.5h0.55M174.2,682.4h0.55M190.0,672.4h0.55M180.1,693.5h0.55M182.2,674.2h0.55M179.0,687.9h0.55M193.0,704.3h0.55M175.6,702.7h0.55M184.8,690.6h0.55M178.9,688.7h0.55M170.5,684.3h0.55M186.6,709.6h0.55M192.6,687.4h0.55M184.5,662.6h0.55M178.8,676.6h0.55M185.9,671.8h0.55M173.7,678.5h0.55M183.1,702.2h0.55M174.5,714.0h0.55M181.6,681.8h0.55M182.8,691.8h0.55M185.9,696.2h0.55M194.8,706.3h0.55M176.4,701.6h0.55M185.5,679.8h0.55M175.7,682.2h0.55M179.1,707.0h0.55M176.9,692.9h0.55M185.3,703.8h0.55M182.6,679.3h0.55M194.9,702.6h0.55M189.4,711.7h0.55M189.7,697.1h0.55M183.6,699.7h0.55M170.7,701.9h0.55M174.2,697.2h0.55M174.0,700.7h0.55M181.8,698.2h0.55M174.6,688.5h0.55M180.2,688.5h0.55M177.7,681.3h0.55M185.5,687.3h0.55M175.2,696.5h0.55M175.3,689.9h0.55M177.2,680.7h0.55M179.1,682.0h0.55M172.4,696.3h0.55M178.6,674.2h0.55M178.0,694.3h0.55M183.3,696.6h0.55M182.2,699.3h0.55M177.3,682.3h0.55M184.5,687.0h0.55M180.6,699.9h0.55M186.7,706.9h0.55M176.1,687.5h0.55M184.2,674.6h0.55M172.4,699.4h0.55M176.6,680.8h0.55M185.8,698.5h0.55M186.5,688.0h0.55M178.7,687.9h0.55M182.5,667.3h0.55M176.1,700.6h0.55M175.5,691.2h0.55M181.4,698.4h0.55M177.5,678.2h0.55M196.8,683.3h0.55M191.7,670.6h0.55M181.3,689.6h0.55M192.9,716.8h0.55M186.9,679.7h0.55M175.3,682.9h0.55M177.2,695.2h0.55M175.4,689.0h0.55M190.1,709.5h0.55M168.5,680.4h0.55M178.1,707.8h0.55M178.4,715.2h0.55M182.9,709.5h0.55M175.0,688.2h0.55M187.2,699.0h0.55M168.4,688.7h0.55M181.7,699.7h0.55M176.4,713.2h0.55M181.5,709.6h0.55M183.2,693.0h0.55M178.5,677.8h0.55M186.2,701.2h0.55M186.6,687.5h0.55M174.0,687.4h0.55M178.5,691.9h0.55M186.9,681.0h0.55M177.4,700.4h0.55M184.0,681.7h0.55M173.8,682.4h0.55M181.0,695.1h0.55M180.1,684.6h0.55M179.4,691.1h0.55M184.4,693.0h0.55M175.3,677.8h0.55M190.2,691.0h0.55M179.4,691.7h0.55M187.9,688.2h0.55M181.7,689.1h0.55M184.3,679.8h0.55M181.9,704.5h0.55M188.3,699.5h0.55M182.5,711.1h0.55M185.2,709.0h0.55M172.8,678.7h0.55M185.8,688.8h0.55M177.8,680.5h0.55M190.2,677.6h0.55M181.3,675.1h0.55M196.3,686.0h0.55M174.0,711.7h0.55M175.0,670.4h0.55M182.8,679.0h0.55M171.2,705.6h0.55M175.9,679.1h0.55M181.7,689.7h0.55M187.9,693.2h0.55M190.9,705.8h0.55M192.1,705.6h0.55M181.1,698.6h0.55M180.7,673.2h0.55M173.0,701.0h0.55M172.3,691.3h0.55M173.9,695.0h0.55M179.3,686.3h0.55M175.1,665.1h0.55M181.1,676.4h0.55M178.7,696.5h0.55M187.4,700.5h0.55M190.2,674.9h0.55M185.0,711.0h0.55M183.2,678.6h0.55M183.2,685.8h0.55M176.4,704.9h0.55M179.5,678.5h0.55M176.2,715.8h0.55M175.1,700.2h0.55M181.8,706.2h0.55M178.8,680.6h0.55M176.5,679.6h0.55M197.4,694.4h0.55M178.5,707.3h0.55M184.8,689.8h0.55M184.6,695.3h0.55M187.9,712.0h0.55M178.6,691.6h0.55M179.4,706.8h0.55M183.1,701.5h0.55M186.4,684.4h0.55M181.4,708.8h0.55M186.6,701.9h0.55M178.8,687.7h0.55M175.1,688.8h0.55M180.2,674.7h0.55M188.1,682.8h0.55M182.2,699.3h0.55M177.1,670.2h0.55M186.8,697.0h0.55M179.0,705.7h0.55M186.4,680.5h0.55M180.1,670.7h0.55M178.9,709.1h0.55M175.2,702.0h0.55M170.9,688.5h0.55M186.7,712.8h0.55M183.5,701.2h0.55M191.7,662.5h0.55M169.6,714.9h0.55M196.5,699.3h0.55M181.0,695.2h0.55M180.8,684.6h0.55M180.5,690.5h0.55M184.9,700.3h0.55M186.9,699.1h0.55M174.4,708.9h0.55M182.7,685.6h0.55M192.7,678.8h0.55M173.1,685.9h0.55M183.3,701.6h0.55M181.3,700.1h0.55M176.1,684.7h0.55M181.5,675.8h0.55M181.8,687.3h0.55M185.0,679.8h0.55M177.2,685.2h0.55M178.3,680.0h0.55M178.9,675.7h0.55M184.1,700.2h0.55M180.5,689.8h0.55M174.9,680.4h0.55M179.2,681.1h0.55M173.1,694.1h0.55M180.5,687.1h0.55M175.4,691.4h0.55M176.2,686.8h0.55M181.8,700.7h0.55M185.5,684.7h0.55M188.4,678.1h0.55M179.5,707.8h0.55M195.8,693.6h0.55M178.3,687.5h0.55M172.8,690.3h0.55M177.9,682.9h0.55M188.3,682.6h0.55M191.4,702.2h0.55M184.7,684.9h0.55M177.4,667.9h0.55M182.4,688.8h0.55M183.1,683.9h0.55M183.7,674.0h0.55M187.5,654.0h0.55M188.8,687.8h0.55M179.6,673.5h0.55M174.2,700.6h0.55M175.9,691.6h0.55M179.6,716.1h0.55M186.3,676.1h0.55M177.5,678.2h0.55M171.7,683.8h0.55M187.6,692.6h0.55M184.9,690.4h0.55M177.9,693.0h0.55M180.1,715.3h0.55M192.1,696.6h0.55M184.4,668.0h0.55M175.5,701.9h0.55M188.4,687.2h0.55M179.2,686.5h0.55M185.7,692.3h0.55M190.2,706.4h0.55M178.6,684.7h0.55M179.1,681.4h0.55M177.9,691.2h0.55M186.3,672.9h0.55M171.7,682.7h0.55M178.7,697.5h0.55M175.6,710.3h0.55M177.2,689.4h0.55M180.9,706.2h0.55M182.5,692.3h0.55M177.1,694.1h0.55M183.2,687.8h0.55M180.4,669.8h0.55M177.2,706.3h0.55M189.6,691.1h0.55M178.0,704.2h0.55M176.7,708.6h0.55M188.0,679.1h0.55M179.2,677.4h0.55M182.3,687.2h0.55M171.0,679.3h0.55M182.1,673.6h0.55M187.5,697.5h0.55M179.4,709.0h0.55M174.7,700.3h0.55M172.0,688.1h0.55M184.6,685.5h0.55M179.8,699.9h0.55M190.3,707.8h0.55M183.5,688.9h0.55M171.4,712.8h0.55M192.5,665.9h0.55M186.1,691.5h0.55M185.1,695.8h0.55M179.3,692.0h0.55M180.3,706.1h0.55M178.9,685.4h0.55M184.7,699.8h0.55M183.3,695.4h0.55M189.9,705.5h0.55M181.9,689.5h0.55M184.8,669.3h0.55M177.3,683.4h0.55M181.7,687.3h0.55M196.2,701.0h0.55M180.6,688.1h0.55M188.4,702.1h0.55M186.4,706.7h0.55M178.3,684.0h0.55M176.0,693.3h0.55M186.9,679.2h0.55M177.2,675.8h0.55M193.3,701.7h0.55M182.0,677.2h0.55M174.0,684.2h0.55M180.8,676.6h0.55M179.1,706.8h0.55M180.6,693.2h0.55M179.6,683.6h0.55M171.8,691.1h0.55M174.1,685.4h0.55M170.4,690.9h0.55M186.3,681.8h0.55M182.6,673.6h0.55M184.2,698.6h0.55M178.1,702.8h0.55M175.0,692.6h0.55M191.2,691.7h0.55M173.4,706.0h0.55M184.0,688.6h0.55M169.0,669.1h0.55M170.9,710.1h0.55M182.4,681.6h0.55M187.9,709.8h0.55M175.2,697.9h0.55M170.1,696.5h0.55M192.1,674.8h0.55M180.9,684.3h0.55M180.0,693.1h0.55M182.3,702.9h0.55M183.8,704.8h0.55M187.0,705.4h0.55M176.3,697.0h0.55M178.2,681.7h0.55M193.0,695.6h0.55M180.8,666.4h0.55M179.1,701.4h0.55M179.3,685.4h0.55M189.9,688.2h0.55M178.5,690.8h0.55M179.1,704.8h0.55M184.2,691.2h0.55M178.3,689.3h0.55M191.3,688.3h0.55M184.7,672.8h0.55M182.6,700.4h0.55M188.6,695.9h0.55M184.2,695.9h0.55M187.3,717.0h0.55M181.8,682.1h0.55M184.3,690.7h0.55M184.6,701.5h0.55M181.5,686.6h0.55M182.5,676.8h0.55M182.3,681.2h0.55M183.4,693.5h0.55M179.2,677.3h0.55M180.9,683.7h0.55M179.7,700.5h0.55M186.6,676.3h0.55M186.5,708.6h0.55M187.7,695.4h0.55M180.0,713.2h0.55M178.5,673.4h0.55M181.1,695.5h0.55M174.0,677.2h0.55M193.1,693.4h0.55M185.5,684.9h0.55M171.0,689.8h0.55M189.0,683.9h0.55M169.3,689.9h0.55M178.8,692.2h0.55M174.0,688.2h0.55M177.1,702.8h0.55M181.5,702.6h0.55M180.2,666.0h0.55M168.2,698.5h0.55M186.1,702.7h0.55M180.1,670.2h0.55M177.5,696.9h0.55M189.3,687.8h0.55M177.0,682.5h0.55M187.0,702.6h0.55M169.0,706.8h0.55M174.8,674.1h0.55M170.5,683.1h0.55M172.7,683.8h0.55M181.6,697.1h0.55M177.6,672.7h0.55M178.0,683.7h0.55M169.3,693.8h0.55M171.3,670.8h0.55M190.2,703.5h0.55M189.7,693.5h0.55M178.0,691.0h0.55M171.9,701.1h0.55M182.3,688.3h0.55M168.8,690.6h0.55M190.9,709.7h0.55M186.1,687.7h0.55M181.4,698.8h0.55M181.8,704.8h0.55M176.4,663.7h0.55M171.8,700.1h0.55M187.4,692.0h0.55M184.0,693.0h0.55M181.7,686.3h0.55M178.0,706.5h0.55M178.9,691.5h0.55M188.1,704.0h0.55M178.1,695.1h0.55M174.2,693.6h0.55M182.6,692.0h0.55M181.6,696.5h0.55M181.1,686.0h0.55M174.5,689.1h0.55M190.7,689.2h0.55M176.5,686.1h0.55M173.1,697.9h0.55M174.3,703.1h0.55M186.3,699.0h0.55M187.1,691.0h0.55M169.5,691.2h0.55M184.6,673.1h0.55M172.9,705.4h0.55M183.3,708.5h0.55M184.8,692.8h0.55M183.3,702.4h0.55M180.4,689.4h0.55M182.6,688.2h0.55M195.8,682.6h0.55M171.0,676.2h0.55M187.2,687.1h0.55M181.6,689.4h0.55M182.3,674.3h0.55M181.1,685.0h0.55M187.5,699.6h0.55M172.6,680.2h0.55M184.2,706.6h0.55M185.4,690.1h0.55M187.6,663.2h0.55M177.2,680.1h0.55M174.0,698.9h0.55M182.3,695.5h0.55M179.7,699.6h0.55M185.6,685.0h0.55M186.5,680.7h0.55M191.8,676.1h0.55M178.8,678.8h0.55M180.8,708.1h0.55M175.8,713.7h0.55M189.6,696.7h0.55M176.8,703.1h0.55M186.7,691.5h0.55M196.4,683.7h0.55M172.1,689.4h0.55M184.3,712.9h0.55M169.4,693.9h0.55M188.6,683.8h0.55M177.7,677.2h0.55M185.5,702.2h0.55M184.3,695.0h0.55M186.9,690.5h0.55M185.2,702.0h0.55M188.9,698.3h0.55M181.1,700.7h0.55M170.7,670.4h0.55M190.9,693.7h0.55M173.9,684.9h0.55M179.6,692.9h0.55M175.7,704.2h0.55M173.7,712.4h0.55M184.9,671.4h0.55M172.7,692.7h0.55M182.3,686.8h0.55M180.7,694.0h0.55M173.3,692.7h0.55M195.2,684.1h0.55M174.1,700.2h0.55M189.2,704.8h0.55M176.5,691.1h0.55M181.9,689.4h0.55M183.2,705.3h0.55M184.1,691.9h0.55M179.3,714.0h0.55M172.7,716.6h0.55M185.3,693.1h0.55M175.8,714.6h0.55M188.4,703.2h0.55M194.0,669.9h0.55M181.2,688.2h0.55M175.9,692.9h0.55M184.0,698.5h0.55M179.7,675.7h0.55M184.2,699.5h0.55M194.3,703.5h0.55M180.7,677.9h0.55M198.2,683.7h0.55M181.9,701.2h0.55M183.8,708.4h0.55M173.9,683.5h0.55M181.7,676.8h0.55M176.6,709.1h0.55M182.5,690.7h0.55M176.9,692.6h0.55M180.4,678.7h0.55M185.7,676.2h0.55M188.9,687.8h0.55M182.5,681.3h0.55M192.4,709.1h0.55M194.3,703.0h0.55M189.4,684.5h0.55M189.1,686.6h0.55M180.3,675.2h0.55M181.0,697.0h0.55M180.2,678.3h0.55M186.5,703.3h0.55M180.0,701.7h0.55M187.0,679.8h0.55M180.4,669.0h0.55M173.8,697.3h0.55M174.8,696.9h0.55M182.9,666.5h0.55M177.4,710.8h0.55M180.7,693.5h0.55M176.0,672.1h0.55M179.4,681.2h0.55M181.3,668.0h0.55M189.8,713.3h0.55M175.7,696.0h0.55M174.7,702.7h0.55M175.1,690.2h0.55M189.2,698.5h0.55M178.4,673.1h0.55M170.1,706.9h0.55M184.0,692.7h0.55M188.8,693.8h0.55M175.8,690.7h0.55M179.9,691.8h0.55M197.0,699.2h0.55M182.4,688.9h0.55M176.1,679.6h0.55M168.2,686.3h0.55M170.6,668.9h0.55M174.4,666.7h0.55M189.6,707.5h0.55M184.9,660.5h0.55M180.7,679.6h0.55M169.1,688.8h0.55M188.2,697.5h0.55M170.9,683.7h0.55M175.6,706.3h0.55M179.9,679.8h0.55M174.6,667.4h0.55M175.0,703.2h0.55M179.8,702.2h0.55M173.0,703.4h0.55M169.8,691.6h0.55M179.2,693.5h0.55M174.0,702.7h0.55M196.1,710.8h0.55M174.3,684.8h0.55M185.4,693.7h0.55M175.5,707.4h0.55M184.0,704.8h0.55M179.4,708.0h0.55M177.5,678.0h0.55M180.5,674.5h0.55M188.8,701.2h0.55M169.4,694.1h0.55M186.2,687.5h0.55M183.3,684.7h0.55M180.1,690.9h0.55M183.8,679.9h0.55M173.1,696.1h0.55M177.2,698.5h0.55M177.2,675.6h0.55M185.4,695.3h0.55M185.4,687.8h0.55M178.2,707.8h0.55M169.3,713.8h0.55M183.9,691.3h0.55M181.1,699.6h0.55M175.4,695.5h0.55M174.2,668.9h0.55M181.9,693.2h0.55M184.8,699.0h0.55M185.2,701.9h0.55M173.5,707.2h0.55M198.3,684.9h0.55M172.2,700.6h0.55M186.6,704.7h0.55M190.7,674.6h0.55M183.0,697.8h0.55M188.8,680.8h0.55M180.7,687.3h0.55M179.5,690.2h0.55M179.5,669.8h0.55M180.3,692.9h0.55M178.0,647.5h0.55M175.9,683.8h0.55M174.8,712.1h0.55M186.7,689.7h0.55M174.1,697.9h0.55M176.5,710.6h0.55M187.9,690.5h0.55M184.6,682.0h0.55M170.0,702.6h0.55M191.4,688.2h0.55M177.0,669.5h0.55M194.8,676.9h0.55M174.1,689.6h0.55M188.6,692.7h0.55M180.4,692.3h0.55M186.2,691.5h0.55M181.6,691.1h0.55M173.1,708.9h0.55M175.9,675.5h0.55M177.6,692.4h0.55M186.0,673.5h0.55M172.1,694.2h0.55M183.1,678.2h0.55M173.0,694.2h0.55M179.6,671.7h0.55M174.7,710.6h0.55M173.5,705.2h0.55M170.4,710.6h0.55M191.1,684.0h0.55M176.0,699.9h0.55M172.3,698.9h0.55M188.6,695.3h0.55M182.7,690.0h0.55M187.2,681.7h0.55M191.1,691.7h0.55M178.4,671.5h0.55M177.6,695.0h0.55M188.8,671.7h0.55M179.7,683.4h0.55M172.6,692.1h0.55M175.5,702.9h0.55M184.0,687.7h0.55M181.4,679.9h0.55M173.5,682.8h0.55M180.1,681.4h0.55M177.7,681.2h0.55M182.1,677.7h0.55M180.4,693.2h0.55M186.9,682.7h0.55M172.9,673.3h0.55M185.5,684.2h0.55M187.0,691.0h0.55M178.7,668.6h0.55M176.0,701.9h0.55M176.5,700.5h0.55M169.6,704.7h0.55M199.0,706.0h0.55M182.6,676.5h0.55M177.0,683.8h0.55M181.7,666.7h0.55M174.8,701.9h0.55M181.5,701.3h0.55M186.2,677.6h0.55M171.6,697.8h0.55M180.7,693.0h0.55M175.1,704.8h0.55M183.8,706.3h0.55M178.2,700.7h0.55M180.1,680.2h0.55M180.0,671.2h0.55M179.3,694.2h0.55M185.1,678.8h0.55M171.7,682.8h0.55M197.8,693.8h0.55M175.5,683.5h0.55M192.2,677.4h0.55M179.7,691.0h0.55M175.6,683.0h0.55M169.4,681.5h0.55M189.1,709.8h0.55M178.6,700.8h0.55M183.5,693.4h0.55M179.6,707.2h0.55M184.3,689.2h0.55M179.0,703.7h0.55M176.6,683.0h0.55M178.7,685.8h0.55M188.9,696.5h0.55M179.9,685.4h0.55M189.9,697.5h0.55M194.3,703.4h0.55M179.1,685.1h0.55M178.6,694.3h0.55M185.7,698.1h0.55M190.9,672.9h0.55M180.7,674.2h0.55M173.7,684.5h0.55M176.2,679.8h0.55M170.4,706.3h0.55M178.4,704.1h0.55M173.2,662.9h0.55M176.6,703.0h0.55M176.8,697.0h0.55M173.4,709.5h0.55M183.4,705.2h0.55M178.7,708.0h0.55M181.0,685.9h0.55M176.3,692.7h0.55M174.5,677.0h0.55M181.4,700.9h0.55M178.6,702.5h0.55M191.0,676.1h0.55M182.2,679.9h0.55M176.2,694.2h0.55M186.1,698.8h0.55M184.8,714.7h0.55M178.1,705.7h0.55M190.1,698.1h0.55M168.7,690.0h0.55M178.6,671.7h0.55M180.1,701.5h0.55M178.8,689.7h0.55M190.2,684.3h0.55M174.3,692.5h0.55M187.9,699.4h0.55M181.0,685.8h0.55M188.7,703.1h0.55M169.0,696.2h0.55M184.5,684.1h0.55M172.0,688.2h0.55M168.9,699.1h0.55M177.1,669.8h0.55M180.4,706.8h0.55M172.1,687.5h0.55M192.5,694.3h0.55M176.8,694.4h0.55M185.7,679.4h0.55M179.8,671.5h0.55M170.0,672.7h0.55M186.1,695.9h0.55M185.3,707.2h0.55M180.8,694.9h0.55M183.2,697.8h0.55M173.5,688.6h0.55M179.5,692.4h0.55M175.5,690.3h0.55M182.4,694.3h0.55M184.4,702.3h0.55M184.2,704.1h0.55M186.1,709.4h0.55M184.7,684.2h0.55M195.9,706.1h0.55M188.8,701.1h0.55M180.8,677.7h0.55M183.4,687.5h0.55M177.8,665.2h0.55M190.7,677.4h0.55M173.2,697.8h0.55M184.2,682.1h0.55M180.4,695.2h0.55M181.5,698.6h0.55M185.6,687.4h0.55M177.9,679.6h0.55M185.5,699.3h0.55M180.2,695.9h0.55M182.6,689.1h0.55M182.6,675.7h0.55M177.9,715.2h0.55M186.3,686.9h0.55M176.7,673.2h0.55M179.7,689.8h0.55M176.3,672.4h0.55M181.5,697.2h0.55M188.0,698.4h0.55M190.6,707.0h0.55M179.8,678.8h0.55M183.4,704.0h0.55M170.2,676.5h0.55M185.0,685.0h0.55M190.2,694.7h0.55M176.8,675.3h0.55M184.5,670.4h0.55M171.9,675.5h0.55M191.8,713.4h0.55M179.0,687.2h0.55M185.1,707.6h0.55M179.1,706.2h0.55M175.9,716.9h0.55M179.1,676.0h0.55M193.4,683.4h0.55M180.5,676.3h0.55M185.0,694.4h0.55M178.6,686.9h0.55M176.7,683.0h0.55M171.2,707.1h0.55M186.4,674.5h0.55M172.8,697.1h0.55M195.5,689.4h0.55M178.4,688.8h0.55M182.1,689.8h0.55M187.7,704.3h0.55M184.2,711.7h0.55M179.0,685.1h0.55M200.2,667.8h0.55M170.2,662.4h0.55M182.9,678.6h0.55M187.5,665.7h0.55M179.6,687.1h0.55M173.3,706.0h0.55M177.8,697.6h0.55M177.0,693.9h0.55M177.5,692.9h0.55M179.8,683.4h0.55M183.4,689.7h0.55M174.1,678.8h0.55M183.4,708.7h0.55M171.8,686.7h0.55M183.5,705.1h0.55M185.2,677.1h0.55M180.7,703.3h0.55M182.1,689.2h0.55M172.7,694.1h0.55M180.1,692.4h0.55M190.5,706.9h0.55M175.2,694.9h0.55M178.4,693.2h0.55M191.3,703.5h0.55M180.8,683.7h0.55M179.4,696.6h0.55M177.2,705.8h0.55M180.6,677.2h0.55M194.1,655.6h0.55M178.7,690.5h0.55M187.1,706.0h0.55M190.2,711.6h0.55M182.6,693.4h0.55M187.2,691.7h0.55M172.1,686.3h0.55M184.9,699.7h0.55M173.2,707.0h0.55M182.5,673.1h0.55M183.6,704.6h0.55M184.0,688.1h0.55M175.2,706.1h0.55M182.0,691.9h0.55M177.8,679.0h0.55M187.8,701.6h0.55M176.0,711.1h0.55M179.0,679.4h0.55M187.0,709.4h0.55M177.9,676.7h0.55M180.1,661.5h0.55M180.8,711.1h0.55M182.3,682.8h0.55M185.2,685.8h0.55M188.9,687.5h0.55M194.0,687.6h0.55M181.8,680.2h0.55M172.0,696.3h0.55M182.8,679.8h0.55M184.2,686.8h0.55M176.8,691.1h0.55M183.1,701.1h0.55M188.7,696.8h0.55M175.7,683.4h0.55M182.9,677.0h0.55M179.4,687.2h0.55M179.8,694.3h0.55M187.4,712.5h0.55M186.4,704.7h0.55M173.4,705.0h0.55M189.1,675.0h0.55M197.2,684.9h0.55M180.9,681.9h0.55M176.7,705.4h0.55M182.2,687.3h0.55M188.1,680.2h0.55M174.9,684.9h0.55M175.5,700.6h0.55M179.0,678.8h0.55M177.5,667.1h0.55M181.6,693.3h0.55M184.5,689.0h0.55M183.1,680.3h0.55M180.7,693.9h0.55M172.5,699.3h0.55M181.4,692.6h0.55M177.3,717.1h0.55M180.5,682.4h0.55M174.9,699.4h0.55M179.1,682.1h0.55M175.7,703.7h0.55M181.1,705.2h0.55M180.4,677.2h0.55M186.2,696.0h0.55M176.2,688.1h0.55M174.1,702.4h0.55M177.7,698.0h0.55M182.2,688.7h0.55M183.0,688.9h0.55M172.7,686.8h0.55M172.7,701.4h0.55M184.8,684.7h0.55M184.6,695.1h0.55M186.9,680.3h0.55M180.7,679.6h0.55M176.0,709.1h0.55M183.7,701.7h0.55M175.3,666.6h0.55M169.1,696.6h0.55M187.8,703.3h0.55M175.7,708.9h0.55M179.3,699.7h0.55M179.2,711.9h0.55M177.1,665.2h0.55M178.4,694.4h0.55M182.3,683.0h0.55M179.0,677.8h0.55M179.0,693.1h0.55M182.1,712.5h0.55M183.4,677.5h0.55M181.0,691.9h0.55M173.9,701.0h0.55M193.1,700.4h0.55M185.6,705.3h0.55M179.6,704.2h0.55M175.2,694.2h0.55M185.1,708.3h0.55M178.6,688.3h0.55M183.6,691.0h0.55M181.4,702.0h0.55M175.5,702.9h0.55M183.0,688.7h0.55M172.3,684.1h0.55M180.2,703.7h0.55M181.8,677.9h0.55M186.1,696.9h0.55M183.4,679.8h0.55M173.2,703.3h0.55M189.7,696.5h0.55M179.2,686.4h0.55M169.2,704.2h0.55M179.9,707.3h0.55M175.8,705.1h0.55M175.8,699.3h0.55M189.5,683.2h0.55M186.5,691.9h0.55M174.3,694.5h0.55M184.7,683.1h0.55M178.7,684.9h0.55M175.5,689.4h0.55M185.9,685.8h0.55M188.7,687.3h0.55M176.0,705.3h0.55M189.7,683.9h0.55M184.3,677.6h0.55M177.8,687.4h0.55M185.1,676.4h0.55M177.2,683.5h0.55M181.2,676.8h0.55M181.9,673.3h0.55M186.0,675.7h0.55M188.7,681.6h0.55M173.4,697.9h0.55M193.8,699.4h0.55M184.8,677.3h0.55M168.9,696.8h0.55M187.1,693.7h0.55M180.5,709.1h0.55M175.0,705.6h0.55M185.9,684.3h0.55M181.3,693.3h0.55M184.3,679.9h0.55M179.0,693.1h0.55M180.7,692.3h0.55M182.1,689.6h0.55M177.2,704.7h0.55M176.3,688.1h0.55M174.8,677.8h0.55M183.4,691.5h0.55M179.6,697.6h0.55M179.4,700.4h0.55M192.3,696.3h0.55M178.8,712.4h0.55M185.1,671.5h0.55M189.2,694.6h0.55M186.0,677.8h0.55M175.0,684.0h0.55M184.1,678.1h0.55M175.9,703.7h0.55M176.3,693.4h0.55M174.7,671.0h0.55M180.0,690.5h0.55M171.2,704.0h0.55M185.8,702.9h0.55M177.2,677.9h0.55M179.9,694.0h0.55M179.4,684.8h0.55M174.0,682.9h0.55M180.0,686.0h0.55M191.3,688.6h0.55M183.4,686.3h0.55M179.3,680.0h0.55M177.4,673.6h0.55M173.6,697.3h0.55M179.7,685.0h0.55M185.2,685.2h0.55M183.3,687.5h0.55M186.8,703.7h0.55M180.9,705.4h0.55M183.8,711.1h0.55M179.7,673.0h0.55M181.9,694.9h0.55M178.1,689.4h0.55M178.7,676.6h0.55M191.6,682.5h0.55M173.6,672.6h0.55M175.0,691.5h0.55M190.0,699.3h0.55M175.8,676.7h0.55M173.2,691.0h0.55M186.1,686.1h0.55M190.9,715.7h0.55M181.5,665.5h0.55M187.5,690.8h0.55M184.8,704.1h0.55M174.0,692.8h0.55M181.6,682.8h0.55M185.0,690.4h0.55M177.9,715.0h0.55M181.6,712.0h0.55M179.5,704.7h0.55M175.6,693.8h0.55M187.5,665.4h0.55M184.0,688.7h0.55M187.5,694.2h0.55M180.0,676.3h0.55M199.5,682.9h0.55M178.4,683.1h0.55M178.5,694.7h0.55M171.9,704.9h0.55M178.8,699.3h0.55M178.6,687.2h0.55M176.2,695.8h0.55M183.1,680.0h0.55M178.4,705.1h0.55M186.1,690.7h0.55M171.3,687.5h0.55M175.8,707.2h0.55M169.5,703.2h0.55M170.5,685.0h0.55M171.4,683.4h0.55M177.6,696.5h0.55M176.7,700.4h0.55M191.8,693.9h0.55M173.0,689.8h0.55M179.8,687.6h0.55M187.9,706.1h0.55M193.4,698.4h0.55M184.8,682.1h0.55M176.6,703.1h0.55M181.4,678.2h0.55M176.7,654.2h0.55M180.4,677.0h0.55M180.1,677.4h0.55M174.5,685.6h0.55M198.4,677.4h0.55M172.8,685.4h0.55M187.3,701.7h0.55M184.9,688.0h0.55M181.3,682.5h0.55M179.3,682.1h0.55M171.1,679.8h0.55M192.9,696.8h0.55M175.6,690.6h0.55M177.5,706.9h0.55M180.3,684.2h0.55M184.8,695.9h0.55M176.0,682.5h0.55M181.4,671.9h0.55M174.6,704.3h0.55M186.0,705.6h0.55M177.6,684.7h0.55M178.7,686.1h0.55M188.7,689.2h0.55M189.2,683.3h0.55M182.9,711.8h0.55M175.7,684.0h0.55M176.6,672.2h0.55M178.5,684.1h0.55M194.6,686.1h0.55M186.6,691.5h0.55M182.3,700.7h0.55M176.8,692.5h0.55M181.4,712.2h0.55M189.5,694.0h0.55M171.8,702.8h0.55M180.1,706.2h0.55M180.8,694.2h0.55M184.7,683.0h0.55M174.9,703.4h0.55M184.8,702.0h0.55M189.2,675.5h0.55M186.6,666.8h0.55M180.8,696.1h0.55M187.0,705.2h0.55M174.4,688.6h0.55M179.4,683.4h0.55M175.2,683.8h0.55M187.8,708.6h0.55M185.2,712.6h0.55M181.0,678.6h0.55M176.2,694.4h0.55M187.0,706.8h0.55M174.7,703.7h0.55M177.0,699.3h0.55M186.3,710.1h0.55M177.0,694.9h0.55M183.2,686.8h0.55M181.0,699.2h0.55M169.8,684.1h0.55M195.2,697.5h0.55M176.8,669.5h0.55M174.3,698.3h0.55M184.8,697.4h0.55M184.2,684.6h0.55M190.6,678.2h0.55M183.7,688.7h0.55M169.4,703.0h0.55M178.6,700.7h0.55M188.6,694.0h0.55M176.2,689.3h0.55M180.0,709.7h0.55M185.9,711.4h0.55M185.3,682.6h0.55M186.4,703.9h0.55M179.6,697.7h0.55M178.4,676.5h0.55M179.8,701.3h0.55M178.1,664.5h0.55M175.3,705.3h0.55M181.9,705.7h0.55M175.6,686.8h0.55M174.0,682.4h0.55M183.7,693.7h0.55M177.3,695.6h0.55M172.0,687.2h0.55M170.8,673.6h0.55M171.7,678.5h0.55M190.5,708.8h0.55M188.5,684.9h0.55M184.4,678.0h0.55M176.9,695.0h0.55M170.1,694.4h0.55M184.3,666.5h0.55M179.6,693.7h0.55M173.1,699.0h0.55M181.2,683.0h0.55M190.9,695.2h0.55M185.2,714.8h0.55M177.2,689.3h0.55M169.2,689.2h0.55M184.0,694.5h0.55M172.3,681.5h0.55M168.5,675.0h0.55M181.1,695.7h0.55M174.5,689.3h0.55M175.2,699.6h0.55M184.5,685.1h0.55M177.5,676.9h0.55M180.3,702.6h0.55M184.1,710.2h0.55M178.3,680.8h0.55M187.1,703.3h0.55M176.1,705.5h0.55M180.3,691.5h0.55M192.2,698.5h0.55M182.4,688.1h0.55M181.7,705.0h0.55M183.3,682.7h0.55M183.3,690.5h0.55M182.4,689.6h0.55M177.9,664.8h0.55M170.7,717.0h0.55M184.8,686.3h0.55M182.5,664.3h0.55M182.0,704.1h0.55M181.6,675.8h0.55M186.6,685.4h0.55M176.7,694.4h0.55M178.4,717.2h0.55M183.3,676.6h0.55M180.4,692.6h0.55M189.6,707.8h0.55M196.8,683.8h0.55M174.6,696.4h0.55M190.8,679.5h0.55M178.1,682.8h0.55M183.8,697.0h0.55M180.1,700.1h0.55M175.3,687.3h0.55M183.4,717.0h0.55M180.1,692.7h0.55M188.8,692.9h0.55M188.8,695.0h0.55M187.8,694.3h0.55M174.5,681.4h0.55M183.2,715.3h0.55M192.4,688.1h0.55M196.5,678.2h0.55M174.9,703.6h0.55M170.6,703.3h0.55M182.8,699.8h0.55M172.6,696.7h0.55M186.5,691.4h0.55M187.0,692.3h0.55M182.6,688.1h0.55M171.6,690.0h0.55M183.6,682.6h0.55M188.9,689.2h0.55M175.5,707.4h0.55M179.3,673.3h0.55M177.6,681.0h0.55M179.2,680.6h0.55M180.8,697.7h0.55M176.7,689.5h0.55M179.4,702.3h0.55M175.8,701.4h0.55M188.5,689.6h0.55M174.1,688.2h0.55M168.9,685.2h0.55M172.7,689.9h0.55M178.0,698.4h0.55M181.2,697.3h0.55M180.1,695.5h0.55M173.1,700.2h0.55M188.8,705.8h0.55M171.7,697.2h0.55M169.9,701.4h0.55M179.1,686.3h0.55M175.6,689.0h0.55M180.4,680.0h0.55M180.8,695.2h0.55M183.8,691.4h0.55M186.9,696.0h0.55M171.4,699.7h0.55M184.1,658.8h0.55M179.3,696.8h0.55M180.6,693.2h0.55M179.4,709.3h0.55M182.9,688.5h0.55M174.8,685.4h0.55M182.5,693.9h0.55M182.4,708.9h0.55M187.8,697.3h0.55M180.7,691.2h0.55M178.9,704.6h0.55M172.2,679.0h0.55M177.4,680.0h0.55M175.6,706.9h0.55M171.9,689.0h0.55M176.7,679.6h0.55M170.8,692.9h0.55M177.9,705.7h0.55M192.5,688.3h0.55M175.2,688.4h0.55M183.5,703.7h0.55M174.2,697.9h0.55M180.2,706.3h0.55M177.8,689.4h0.55M174.9,675.5h0.55M182.2,700.9h0.55M187.7,695.4h0.55M177.4,680.5h0.55M172.9,683.0h0.55M182.6,693.1h0.55M178.5,678.9h0.55M180.3,698.6h0.55M173.7,675.1h0.55M178.3,695.3h0.55M178.7,711.3h0.55M181.4,679.5h0.55M185.5,683.9h0.55M184.9,693.2h0.55M188.5,679.5h0.55M185.1,697.3h0.55M174.5,700.8h0.55M195.2,696.5h0.55M175.4,690.1h0.55M188.9,695.2h0.55M190.1,683.8h0.55M189.0,672.3h0.55M179.3,688.3h0.55M177.2,707.3h0.55M176.5,696.4h0.55M192.5,702.3h0.55M177.7,682.9h0.55M186.2,705.8h0.55M185.5,663.1h0.55M174.7,702.0h0.55M177.8,702.5h0.55M197.2,682.5h0.55M194.9,691.0h0.55M170.8,693.2h0.55M186.4,684.7h0.55M190.8,681.1h0.55M179.2,703.5h0.55M179.1,685.0h0.55M180.3,700.2h0.55M191.8,709.0h0.55M192.7,691.6h0.55M169.6,691.5h0.55M177.8,679.6h0.55M177.1,691.2h0.55M180.8,703.5h0.55M174.5,706.3h0.55M180.8,701.2h0.55M188.6,676.5h0.55M190.9,683.0h0.55M183.1,705.6h0.55M186.5,672.4h0.55M181.5,706.2h0.55M179.7,691.0h0.55M180.9,712.5h0.55M176.9,680.2h0.55M173.2,685.4h0.55M178.9,696.3h0.55M179.9,670.5h0.55M170.1,700.5h0.55M185.2,675.1h0.55M186.6,661.6h0.55M195.8,699.4h0.55M169.6,698.4h0.55M180.3,686.3h0.55M178.1,689.2h0.55M179.8,680.7h0.55M176.7,699.0h0.55M184.0,675.4h0.55M177.2,711.6h0.55M185.2,712.7h0.55M171.6,679.0h0.55M178.0,678.9h0.55M173.3,683.3h0.55M179.3,702.4h0.55M184.2,670.0h0.55M190.3,687.9h0.55M173.9,691.6h0.55M177.8,674.6h0.55M190.8,684.8h0.55M176.5,698.7h0.55M191.5,698.1h0.55M174.6,697.5h0.55M187.8,696.8h0.55M184.8,686.0h0.55M180.0,670.9h0.55M175.7,677.8h0.55M180.5,710.7h0.55M174.4,690.9h0.55M188.2,682.3h0.55M175.3,707.2h0.55M183.0,698.6h0.55M186.0,682.7h0.55M182.0,683.8h0.55M175.7,693.7h0.55M183.4,676.0h0.55M175.4,699.6h0.55M181.6,700.3h0.55M178.4,681.9h0.55M185.7,699.5h0.55M175.5,700.4h0.55M190.9,688.5h0.55M174.1,695.2h0.55M181.1,699.1h0.55M171.2,695.1h0.55M186.4,700.8h0.55M184.7,707.0h0.55M175.0,707.3h0.55M181.9,679.5h0.55M178.5,695.4h0.55M182.7,708.9h0.55M181.8,685.6h0.55M195.0,687.9h0.55M175.0,703.6h0.55M177.7,682.1h0.55M173.5,706.9h0.55M173.5,693.3h0.55M177.5,689.6h0.55M175.1,693.9h0.55M184.5,705.2h0.55M178.1,677.4h0.55M170.7,692.1h0.55M180.7,693.6h0.55M171.3,684.0h0.55M175.6,700.5h0.55M177.8,699.8h0.55M183.9,667.9h0.55M179.0,707.8h0.55M177.1,693.7h0.55M179.7,676.7h0.55M195.0,690.4h0.55M184.7,686.4h0.55M189.8,706.5h0.55M188.3,704.0h0.55M185.2,709.4h0.55M183.2,693.8h0.55M185.9,680.9h0.55M181.5,683.3h0.55M178.7,680.1h0.55M174.9,694.4h0.55M181.3,702.5h0.55M179.9,700.0h0.55M185.0,683.3h0.55M169.3,683.5h0.55M178.8,685.4h0.55M195.1,683.6h0.55M183.6,682.5h0.55M185.1,676.3h0.55M186.8,694.4h0.55M177.8,677.2h0.55M191.5,684.9h0.55M190.0,662.0h0.55M172.5,714.8h0.55M192.3,692.3h0.55M187.1,699.7h0.55M178.1,693.7h0.55M172.9,675.4h0.55M181.3,701.2h0.55M181.6,676.8h0.55M186.1,693.2h0.55M185.5,688.5h0.55M178.7,705.3h0.55M189.6,677.1h0.55M173.2,704.2h0.55M182.9,692.8h0.55M174.0,704.8h0.55M181.7,694.9h0.55M183.1,685.6h0.55M183.1,693.8h0.55M185.3,696.9h0.55M172.0,683.3h0.55M178.7,706.7h0.55M176.2,706.3h0.55M187.6,703.1h0.55M195.4,692.0h0.55M182.6,707.4h0.55M183.2,704.6h0.55M179.6,709.8h0.55M182.8,668.3h0.55M187.7,689.8h0.55M174.7,688.4h0.55M178.6,706.5h0.55M182.7,691.3h0.55M180.4,681.0h0.55M176.3,686.3h0.55M179.0,677.6h0.55M177.8,704.7h0.55M183.5,692.2h0.55M182.8,689.2h0.55M172.6,703.2h0.55M195.4,698.5h0.55M172.5,698.7h0.55M178.2,688.7h0.55M169.5,691.2h0.55M183.1,672.3h0.55M179.0,686.1h0.55M173.9,700.1h0.55M191.4,697.4h0.55M187.3,701.6h0.55M180.1,699.4h0.55M189.3,686.9h0.55M179.5,675.0h0.55M186.4,696.7h0.55M182.2,708.5h0.55M168.8,709.3h0.55M181.1,701.8h0.55M189.7,682.1h0.55M174.7,697.2h0.55M180.1,684.9h0.55M179.7,683.2h0.55M181.4,687.4h0.55M191.8,679.2h0.55M184.3,693.1h0.55M191.0,680.2h0.55M177.4,713.7h0.55M176.1,687.5h0.55M177.9,680.0h0.55M188.6,711.0h0.55M179.5,682.9h0.55M171.5,700.4h0.55M177.0,699.0h0.55M184.7,697.4h0.55M181.4,691.9h0.55M178.2,686.7h0.55M181.5,698.5h0.55M186.7,689.4h0.55M188.6,680.6h0.55M193.2,704.1h0.55M190.0,711.8h0.55M172.6,690.8h0.55M183.6,705.2h0.55M181.0,676.1h0.55M188.6,690.1h0.55M183.4,688.2h0.55M179.8,675.1h0.55M184.9,684.4h0.55M168.7,697.3h0.55M180.3,704.0h0.55M185.9,677.1h0.55M179.3,692.1h0.55M181.1,679.1h0.55M181.0,704.3h0.55M188.7,710.2h0.55M185.5,660.9h0.55M178.7,685.4h0.55M186.5,692.1h0.55M182.9,698.2h0.55M179.1,709.2h0.55M192.6,702.3h0.55M176.8,695.3h0.55M187.0,701.1h0.55M176.0,704.0h0.55M185.3,699.3h0.55M177.7,691.8h0.55M177.6,688.5h0.55M178.6,688.2h0.55M181.1,693.3h0.55M176.4,690.5h0.55M179.9,698.2h0.55M183.4,687.7h0.55M175.0,671.9h0.55M172.2,697.2h0.55M174.4,712.0h0.55M179.5,687.4h0.55M179.5,685.4h0.55M176.3,692.9h0.55M170.9,693.8h0.55M179.9,681.0h0.55M187.3,696.6h0.55M187.7,683.9h0.55M172.3,677.5h0.55M170.1,668.8h0.55M190.9,686.2h0.55M181.8,685.5h0.55M179.5,711.6h0.55M169.0,680.0h0.55M181.4,680.9h0.55M185.1,708.1h0.55M186.4,701.4h0.55M179.4,704.5h0.55M175.2,677.4h0.55M178.8,689.0h0.55M188.6,679.9h0.55M188.1,682.5h0.55M172.1,671.2h0.55M180.3,674.3h0.55M181.9,692.7h0.55M177.9,668.3h0.55M177.1,697.6h0.55M168.7,700.6h0.55M180.6,685.4h0.55M181.8,700.1h0.55M180.4,682.5h0.55M185.7,683.7h0.55M182.9,704.1h0.55M189.2,711.8h0.55M187.3,693.9h0.55M179.2,694.4h0.55M184.9,681.9h0.55M190.6,672.5h0.55M187.1,676.3h0.55M173.3,685.9h0.55M178.6,675.4h0.55M184.6,690.7h0.55M189.4,679.5h0.55M168.5,700.6h0.55M179.0,704.1h0.55M181.1,716.2h0.55M172.3,668.5h0.55M177.5,709.5h0.55M191.0,675.3h0.55M176.5,669.3h0.55M174.9,680.2h0.55M183.3,706.1h0.55M196.3,687.6h0.55M185.9,694.8h0.55M181.3,716.0h0.55M185.2,711.4h0.55M182.5,702.7h0.55M183.9,690.9h0.55M175.9,687.1h0.55M180.6,687.3h0.55M178.2,683.3h0.55M186.2,689.0h0.55M179.7,689.4h0.55M189.2,685.4h0.55M189.8,681.4h0.55M190.6,699.6h0.55M177.3,697.7h0.55M188.0,680.3h0.55M179.0,695.9h0.55M179.1,688.5h0.55M180.6,695.9h0.55M185.6,710.3h0.55M178.3,714.0h0.55M179.7,674.1h0.55M177.6,687.8h0.55M187.6,667.1h0.55M176.3,690.4h0.55M184.9,696.9h0.55M186.2,690.1h0.55M179.0,707.0h0.55M191.9,696.8h0.55M181.5,681.5h0.55M194.4,697.0h0.55M184.6,672.2h0.55M179.4,689.5h0.55M190.6,689.7h0.55M186.1,716.1h0.55M172.8,681.8h0.55M185.0,693.5h0.55M180.8,690.0h0.55M181.4,696.5h0.55M177.4,688.6h0.55M182.1,678.6h0.55M183.4,664.9h0.55M184.7,690.6h0.55M172.8,708.7h0.55M175.7,707.0h0.55M180.1,712.0h0.55M179.1,704.8h0.55M178.4,668.9h0.55M183.1,697.9h0.55M183.2,712.7h0.55M175.7,674.4h0.55M182.2,683.5h0.55M179.8,692.0h0.55M175.1,705.6h0.55M179.7,714.2h0.55M182.2,705.1h0.55M178.6,683.9h0.55M177.1,681.2h0.55M183.5,693.8h0.55M173.4,673.0h0.55M174.9,669.5h0.55M174.7,673.3h0.55M185.2,677.7h0.55M176.7,690.5h0.55M180.7,697.3h0.55M185.5,700.0h0.55M178.3,707.5h0.55M183.0,683.3h0.55M190.4,677.4h0.55M183.6,707.6h0.55M181.3,696.3h0.55M181.3,700.3h0.55M182.0,692.1h0.55M185.1,668.6h0.55M182.2,688.3h0.55M193.4,695.6h0.55M176.2,700.2h0.55M178.0,677.4h0.55M178.7,698.3h0.55M188.3,705.0h0.55M182.0,690.0h0.55M181.8,707.0h0.55M179.7,706.4h0.55M175.3,691.9h0.55M185.6,700.7h0.55M181.8,685.7h0.55M168.8,686.6h0.55M175.0,687.1h0.55M190.9,682.5h0.55M186.1,691.8h0.55M173.3,693.4h0.55M185.4,677.3h0.55M173.0,687.3h0.55M185.3,684.6h0.55M183.3,697.7h0.55M180.6,697.6h0.55M188.8,689.7h0.55M182.7,678.9h0.55M175.8,690.8h0.55M185.8,683.7h0.55M171.5,703.5h0.55M196.0,660.2h0.55M173.6,693.5h0.55M183.7,680.3h0.55M182.7,705.6h0.55M178.7,701.1h0.55M181.4,680.5h0.55M176.5,684.5h0.55M189.2,706.3h0.55M182.1,672.7h0.55M177.4,687.1h0.55M182.4,675.7h0.55M177.8,686.4h0.55M192.5,700.2h0.55M185.5,693.1h0.55M172.2,703.4h0.55M176.2,668.3h0.55M185.3,687.8h0.55M180.5,698.4h0.55M179.0,697.1h0.55M188.9,688.0h0.55M178.2,692.2h0.55M184.7,687.1h0.55M181.1,683.6h0.55M180.0,698.7h0.55M175.2,689.8h0.55M171.1,683.4h0.55M181.0,698.6h0.55M173.9,690.8h0.55M174.5,695.9h0.55M182.2,697.5h0.55M179.2,674.5h0.55M176.9,675.5h0.55M176.1,691.3h0.55M187.5,684.1h0.55M175.5,694.5h0.55M170.6,704.5h0.55M186.8,703.9h0.55M179.8,701.0h0.55M178.3,703.9h0.55M176.3,682.0h0.55M183.0,686.4h0.55M184.8,681.4h0.55M182.2,679.9h0.55M173.6,676.9h0.55M170.2,689.2h0.55M190.9,686.5h0.55M186.5,689.8h0.55M176.4,716.7h0.55M187.5,669.4h0.55M174.2,697.1h0.55M184.7,689.3h0.55M182.5,698.6h0.55M178.3,704.3h0.55M175.1,701.3h0.55M186.4,694.5h0.55M178.3,691.8h0.55M171.4,667.2h0.55M185.4,680.8h0.55M182.8,692.6h0.55M169.2,680.9h0.55M178.8,697.8h0.55M181.0,676.5h0.55M177.1,693.3h0.55M172.4,686.6h0.55M177.0,665.9h0.55M191.6,702.8h0.55M177.5,703.7h0.55M173.8,710.9h0.55M178.1,693.7h0.55M176.8,693.1h0.55M182.6,692.4h0.55M175.2,701.3h0.55M184.1,692.0h0.55M187.2,682.9h0.55M188.7,690.1h0.55M190.2,686.6h0.55M178.9,694.6h0.55M187.5,709.7h0.55M177.6,683.1h0.55M185.4,707.3h0.55M185.0,688.0h0.55M188.7,691.7h0.55M181.6,699.7h0.55M176.9,664.2h0.55M181.9,700.8h0.55M183.3,698.7h0.55M181.5,704.8h0.55M181.2,710.4h0.55M180.8,701.8h0.55M177.0,695.7h0.55M183.2,693.7h0.55M190.4,692.6h0.55M187.7,696.3h0.55M187.5,680.9h0.55M178.2,703.9h0.55M175.3,696.9h0.55M184.1,694.4h0.55M183.3,698.7h0.55M179.0,697.1h0.55M177.2,686.5h0.55M170.4,690.7h0.55M169.7,692.4h0.55M181.9,678.6h0.55M181.0,695.6h0.55M178.3,680.8h0.55M179.8,697.1h0.55M186.4,715.8h0.55M183.3,684.2h0.55M181.2,708.8h0.55M187.3,686.6h0.55M190.3,670.3h0.55M179.2,683.4h0.55M181.8,692.8h0.55M187.8,684.7h0.55M192.8,671.0h0.55M179.9,699.8h0.55M186.2,687.7h0.55M168.3,694.6h0.55M185.2,666.8h0.55M177.4,698.9h0.55M170.4,675.5h0.55M183.1,706.0h0.55M187.9,683.9h0.55M183.8,670.2h0.55M171.1,698.7h0.55M178.0,679.4h0.55M168.6,689.1h0.55M194.8,667.1h0.55M173.8,705.9h0.55M168.3,684.3h0.55M180.9,706.0h0.55M180.0,714.5h0.55M180.3,690.6h0.55M183.3,696.4h0.55M170.9,680.3h0.55M179.0,696.2h0.55M172.7,683.2h0.55M175.7,696.2h0.55M177.8,699.5h0.55M183.0,680.7h0.55M178.6,676.6h0.55M181.2,702.0h0.55M174.2,670.1h0.55M183.8,688.4h0.55M180.3,697.7h0.55M182.9,703.5h0.55M177.6,664.7h0.55M177.4,688.2h0.55M177.9,696.9h0.55M178.9,708.1h0.55M176.4,691.9h0.55M174.4,679.6h0.55M178.1,701.5h0.55M180.6,689.8h0.55M171.1,666.3h0.55M179.1,689.1h0.55M191.8,696.6h0.55M183.2,704.0h0.55M174.8,676.7h0.55M174.8,713.7h0.55M179.4,693.2h0.55M171.8,708.2h0.55M179.7,688.1h0.55M181.5,691.3h0.55M178.6,697.0h0.55M174.9,692.9h0.55M178.4,705.2h0.55M178.8,696.2h0.55M181.9,697.1h0.55M172.1,713.9h0.55M176.5,699.6h0.55M178.9,702.5h0.55M169.5,705.4h0.55M172.6,699.7h0.55M175.4,701.6h0.55M184.0,694.9h0.55M179.1,705.2h0.55M177.0,694.0h0.55M178.2,701.7h0.55M181.0,707.3h0.55M173.6,670.0h0.55M181.2,703.9h0.55M176.6,693.0h0.55M184.6,712.3h0.55M176.3,695.3h0.55M178.0,712.5h0.55M177.8,708.4h0.55M176.9,702.5h0.55M171.6,700.2h0.55M176.2,698.3h0.55M175.2,702.1h0.55M174.0,697.0h0.55M172.9,687.0h0.55M174.2,694.9h0.55M172.3,674.7h0.55M181.7,709.2h0.55M174.7,704.6h0.55M172.2,682.8h0.55M177.2,704.7h0.55M173.6,699.0h0.55M179.7,700.7h0.55M176.6,704.8h0.55M168.8,686.2h0.55M171.6,701.4h0.55M173.8,680.2h0.55M179.1,697.1h0.55M170.3,686.3h0.55M179.7,713.1h0.55M177.4,702.6h0.55M178.4,705.5h0.55M171.6,706.4h0.55M179.4,695.0h0.55M172.8,694.1h0.55M174.0,704.3h0.55M178.7,699.2h0.55M174.9,681.3h0.55M174.5,689.1h0.55M174.1,702.4h0.55M173.0,693.7h0.55M172.0,696.5h0.55M175.0,709.0h0.55M169.2,708.1h0.55M178.2,693.8h0.55M173.6,701.0h0.55M177.8,697.4h0.55M175.5,699.2h0.55M172.2,701.7h0.55M178.0,699.5h0.55M172.0,699.0h0.55M175.6,702.1h0.55M174.5,707.3h0.55M179.8,707.2h0.55M176.8,711.1h0.55M175.9,697.4h0.55M171.0,699.2h0.55M180.2,689.5h0.55M178.7,686.4h0.55M177.0,717.1h0.55M176.1,687.5h0.55M177.0,697.6h0.55M178.8,693.9h0.55M170.0,694.3h0.55M178.0,709.2h0.55M176.9,699.3h0.55M178.4,697.1h0.55M174.4,701.2h0.55M179.8,694.1h0.55M177.7,692.7h0.55M173.4,700.7h0.55M171.4,690.6h0.55M171.8,693.1h0.55M178.1,699.7h0.55M171.3,675.7h0.55M177.5,692.8h0.55M179.6,695.2h0.55M171.4,692.8h0.55M170.7,685.2h0.55M178.5,693.8h0.55M178.4,693.5h0.55M175.2,693.6h0.55M174.1,692.6h0.55M181.2,698.5h0.55M169.2,715.6h0.55M180.3,710.0h0.55M175.6,697.5h0.55M174.3,700.2h0.55M177.6,699.0h0.55M173.1,689.6h0.55M181.8,715.5h0.55M171.7,692.8h0.55M175.8,704.8h0.55M175.6,701.4h0.55M177.2,710.2h0.55M171.4,709.7h0.55M177.5,704.3h0.55M170.7,696.8h0.55M175.1,705.3h0.55M178.4,705.7h0.55M171.5,711.3h0.55M176.2,708.1h0.55M175.9,692.2h0.55M185.1,705.4h0.55M178.6,694.5h0.55M175.2,709.9h0.55M177.5,716.0h0.55M180.1,688.6h0.55M170.6,710.3h0.55M178.1,696.5h0.55M174.9,693.6h0.55M182.2,697.5h0.55M171.1,707.8h0.55M175.7,702.5h0.55M174.6,698.7h0.55M169.4,704.2h0.55M173.6,695.3h0.55M177.1,711.4h0.55M168.4,697.7h0.55M177.9,708.9h0.55M172.8,702.1h0.55M177.3,708.1h0.55M173.8,697.3h0.55M174.2,710.1h0.55M179.7,694.8h0.55M175.5,701.2h0.55M172.8,698.0h0.55M179.0,706.5h0.55M173.6,692.8h0.55M175.5,684.9h0.55M177.0,700.2h0.55M171.3,696.8h0.55M173.6,696.5h0.55M172.9,712.2h0.55M172.6,706.4h0.55M176.7,713.0h0.55M175.7,699.1h0.55M176.2,681.0h0.55M184.3,697.0h0.55M174.8,688.3h0.55M175.5,714.5h0.55M173.3,703.3h0.55M179.5,708.1h0.55M174.5,682.4h0.55M177.4,704.5h0.55M174.8,695.0h0.55M182.1,684.0h0.55M174.1,693.3h0.55M170.5,692.5h0.55M173.2,711.0h0.55M169.8,686.0h0.55M176.9,684.3h0.55M168.9,693.1h0.55M171.7,689.8h0.55M175.4,703.4h0.55M173.7,696.5h0.55M178.4,697.7h0.55M178.5,693.5h0.55M177.6,711.3h0.55M174.8,695.9h0.55M175.4,703.5h0.55M171.7,699.5h0.55M173.9,712.7h0.55M169.9,705.3h0.55M174.8,692.0h0.55M176.4,696.9h0.55M176.1,701.4h0.55M180.1,695.3h0.55M181.8,673.5h0.55M182.3,710.7h0.55M181.4,701.0h0.55M176.9,689.5h0.55M180.6,688.1h0.55M173.2,699.1h0.55M176.8,702.4h0.55M171.9,695.9h0.55M177.6,710.4h0.55M178.6,703.1h0.55M175.0,694.0h0.55M174.1,698.2h0.55M177.8,694.3h0.55M183.1,689.7h0.55M178.8,697.2h0.55M175.4,695.5h0.55M181.3,696.3h0.55M177.9,700.3h0.55M178.5,704.7h0.55M181.7,692.2h0.55M173.1,715.2h0.55M180.4,699.8h0.55M174.9,701.5h0.55M180.5,691.9h0.55M181.0,698.6h0.55M174.7,695.4h0.55M168.6,702.2h0.55M171.3,693.9h0.55M172.8,701.4h0.55M178.5,699.5h0.55M176.6,703.0h0.55M181.5,704.6h0.55M181.4,698.6h0.55M177.2,693.0h0.55M178.0,691.1h0.55M177.6,693.2h0.55M174.7,710.7h0.55M176.4,706.6h0.55M175.1,681.5h0.55M181.1,697.4h0.55M173.7,708.1h0.55M172.0,692.1h0.55M179.9,692.6h0.55M179.9,696.3h0.55M175.2,699.8h0.55M174.2,709.3h0.55M179.8,699.8h0.55M178.1,704.3h0.55M181.8,684.2h0.55M179.5,707.8h0.55M174.8,699.3h0.55M174.7,710.8h0.55M171.9,704.9h0.55M180.4,704.6h0.55M174.3,694.8h0.55M168.6,689.5h0.55M179.8,690.2h0.55M170.2,696.8h0.55M170.7,703.5h0.55M172.9,708.1h0.55M175.5,685.8h0.55M173.2,693.1h0.55M173.0,710.8h0.55M172.4,702.6h0.55M173.9,704.7h0.55M171.0,684.4h0.55M177.7,712.6h0.55M171.1,696.2h0.55M174.2,690.4h0.55M179.3,699.6h0.55M171.1,697.1h0.55M180.6,692.5h0.55M174.1,691.4h0.55M176.5,693.9h0.55M179.0,691.3h0.55M170.9,703.4h0.55M176.9,701.5h0.55M173.9,695.0h0.55M173.1,697.5h0.55M174.3,704.4h0.55M176.0,704.4h0.55M181.6,696.6h0.55M174.9,702.7h0.55M183.3,695.8h0.55M181.8,710.3h0.55M172.5,702.9h0.55M180.6,699.7h0.55M172.8,714.7h0.55M174.2,676.3h0.55M173.1,694.7h0.55M175.8,706.3h0.55M178.4,704.1h0.55M173.3,716.0h0.55M180.1,699.5h0.55M173.9,698.7h0.55M175.2,692.6h0.55M175.9,692.9h0.55M178.2,693.0h0.55M177.7,702.2h0.55M184.6,647.1h0.55M175.7,666.5h0.55M178.2,649.1h0.55M183.6,638.1h0.55M196.4,652.6h0.55M181.3,647.5h0.55M188.5,657.1h0.55M191.0,640.6h0.55M181.5,631.2h0.55M185.4,650.3h0.55M180.5,648.4h0.55M184.4,637.8h0.55M174.3,652.7h0.55M202.4,647.3h0.55M175.3,632.4h0.55M185.3,648.3h0.55M194.8,619.3h0.55M197.3,643.7h0.55M184.4,645.8h0.55M180.7,639.4h0.55M191.3,625.8h0.55M182.6,647.4h0.55M171.1,640.6h0.55M194.9,645.7h0.55M188.7,648.8h0.55M185.1,645.5h0.55M177.3,640.2h0.55M197.3,630.5h0.55M182.2,630.2h0.55M179.4,634.8h0.55M174.2,644.4h0.55M176.3,647.2h0.55M197.0,617.9h0.55M182.2,622.3h0.55M182.5,645.7h0.55M185.0,653.6h0.55M184.6,625.8h0.55M194.7,633.2h0.55M182.7,645.2h0.55M176.8,643.0h0.55M194.6,626.1h0.55M170.9,637.9h0.55M182.2,630.0h0.55M186.4,629.6h0.55M187.7,641.5h0.55M184.6,629.5h0.55M181.8,646.7h0.55M170.3,632.2h0.55M190.7,661.1h0.55M188.4,641.5h0.55M175.3,638.3h0.55M181.6,646.3h0.55M181.5,665.7h0.55M193.4,621.2h0.55M174.7,642.1h0.55M190.8,646.0h0.55M193.6,647.8h0.55M202.7,649.7h0.55M186.9,656.7h0.55M180.1,636.9h0.55M175.9,644.5h0.55M186.8,651.1h0.55M194.3,648.1h0.55M192.7,639.7h0.55M176.2,649.1h0.55M191.1,654.9h0.55M182.2,637.6h0.55M180.7,645.6h0.55M183.1,640.4h0.55M185.4,639.3h0.55M186.0,636.4h0.55M171.9,639.1h0.55M197.7,634.4h0.55M190.4,655.0h0.55M179.4,644.6h0.55M195.0,643.9h0.55M168.5,636.6h0.55M177.9,643.2h0.55M185.6,638.1h0.55M181.1,634.3h0.55M187.8,644.0h0.55M186.1,637.3h0.55M187.2,639.2h0.55M185.7,640.6h0.55M178.5,631.6h0.55M169.5,629.0h0.55M187.0,673.3h0.55M171.1,634.3h0.55M183.4,676.3h0.55M181.9,630.9h0.55M186.6,662.1h0.55M192.8,630.9h0.55M182.7,636.0h0.55M189.2,628.1h0.55M185.8,644.2h0.55M187.7,646.2h0.55M184.6,625.0h0.55M181.1,633.0h0.55M187.5,639.8h0.55M184.6,652.7h0.55M182.7,658.3h0.55M189.8,627.8h0.55M179.1,653.8h0.55M179.7,653.6h0.55M179.3,640.9h0.55M191.2,626.9h0.55M184.1,637.7h0.55M184.8,658.5h0.55M187.2,629.0h0.55M190.7,637.7h0.55M184.7,653.2h0.55M181.2,651.3h0.55M184.8,633.3h0.55M181.2,629.0h0.55M192.4,643.6h0.55M190.8,631.3h0.55M189.9,630.5h0.55M185.6,641.9h0.55M179.1,645.0h0.55M183.8,633.7h0.55M177.9,629.4h0.55M193.8,643.5h0.55M180.8,648.7h0.55M177.0,630.8h0.55M186.2,657.3h0.55M185.8,643.5h0.55M196.6,627.1h0.55M206.5,631.4h0.55M182.9,629.0h0.55M174.4,639.7h0.55M201.8,632.9h0.55M178.9,644.6h0.55M175.9,639.5h0.55M189.6,620.9h0.55M181.2,639.2h0.55M179.7,640.9h0.55M170.0,637.8h0.55M179.6,632.1h0.55M193.0,661.4h0.55M189.5,633.6h0.55M194.2,646.8h0.55M177.4,647.9h0.55M179.2,647.6h0.55M190.4,653.2h0.55M175.6,640.8h0.55M183.5,630.2h0.55M186.6,648.7h0.55M173.1,636.7h0.55M175.2,629.7h0.55M175.5,655.3h0.55M178.5,638.2h0.55M190.9,651.9h0.55M194.1,621.9h0.55M189.2,625.0h0.55M178.7,638.0h0.55M179.2,661.0h0.55M182.2,653.4h0.55M182.1,641.4h0.55M187.3,646.3h0.55M187.3,625.2h0.55M187.3,645.1h0.55M188.0,641.5h0.55M186.6,629.4h0.55M192.0,630.2h0.55M194.0,651.8h0.55M183.0,639.1h0.55M189.3,639.0h0.55M174.6,644.7h0.55M174.3,637.6h0.55M197.0,649.9h0.55M180.1,641.3h0.55M178.6,641.9h0.55M172.6,648.6h0.55M183.6,636.1h0.55M178.9,667.6h0.55M180.2,637.4h0.55M179.1,637.2h0.55M193.3,648.6h0.55M186.6,645.6h0.55M175.0,618.5h0.55M194.8,649.0h0.55M185.1,644.7h0.55M185.0,642.2h0.55M181.5,620.3h0.55M187.8,642.5h0.55M190.8,645.0h0.55M181.4,647.9h0.55M184.9,637.7h0.55M180.7,637.9h0.55M181.3,637.7h0.55M190.9,670.4h0.55M182.6,652.9h0.55M179.9,640.5h0.55M177.9,628.8h0.55M177.1,637.0h0.55M184.7,638.7h0.55M174.5,638.4h0.55M194.8,633.4h0.55M184.0,651.8h0.55M177.5,636.5h0.55M205.2,654.0h0.55M179.5,643.6h0.55M184.3,643.4h0.55M187.0,639.1h0.55M184.6,628.7h0.55M181.1,656.6h0.55M185.3,635.6h0.55M184.5,652.2h0.55M170.7,629.8h0.55M178.5,637.7h0.55M182.8,636.4h0.55M184.3,642.9h0.55M174.8,635.9h0.55M174.2,644.8h0.55M185.5,648.4h0.55M176.9,636.8h0.55M171.4,645.4h0.55M191.6,646.3h0.55M188.2,644.2h0.55M186.3,651.1h0.55M193.0,661.6h0.55M181.5,650.1h0.55M190.0,646.1h0.55M185.5,629.7h0.55M191.7,633.4h0.55M178.6,633.7h0.55M187.7,632.6h0.55M186.9,647.5h0.55M184.3,638.7h0.55M188.0,654.7h0.55M180.0,631.8h0.55M179.0,633.5h0.55M181.7,640.5h0.55M177.4,637.8h0.55M168.8,622.9h0.55M175.9,644.2h0.55M189.9,624.4h0.55M185.2,656.7h0.55M181.4,650.9h0.55M185.8,633.0h0.55M190.9,636.1h0.55M186.1,638.1h0.55M181.9,643.5h0.55M193.4,625.7h0.55M175.1,643.0h0.55M190.8,640.2h0.55M182.1,647.1h0.55M195.3,633.2h0.55M171.5,639.3h0.55M189.2,629.2h0.55M191.9,651.1h0.55M189.4,633.8h0.55M173.8,648.4h0.55M185.4,648.7h0.55M173.4,613.3h0.55M191.9,651.7h0.55M181.4,641.9h0.55M186.9,649.2h0.55M182.1,637.0h0.55M176.2,651.9h0.55M186.1,636.5h0.55M174.0,637.0h0.55M173.9,637.6h0.55M179.4,646.9h0.55M175.9,624.4h0.55M179.0,628.7h0.55M189.0,640.0h0.55M171.0,633.5h0.55M183.3,641.6h0.55M169.7,640.7h0.55M185.7,651.6h0.55M191.7,640.8h0.55M173.8,638.4h0.55M188.4,633.1h0.55M192.9,632.7h0.55M175.1,650.0h0.55M182.7,645.1h0.55M181.2,642.3h0.55M179.1,660.3h0.55M188.4,640.8h0.55M187.0,650.1h0.55M179.6,643.7h0.55M185.0,636.5h0.55M177.7,640.0h0.55M181.2,638.0h0.55M169.0,642.7h0.55M188.4,642.7h0.55M196.3,650.3h0.55M180.8,635.5h0.55M187.2,638.4h0.55M171.4,643.2h0.55M181.3,639.8h0.55M188.1,643.9h0.55M198.6,634.8h0.55M182.8,645.0h0.55M180.2,637.0h0.55M196.6,627.9h0.55M186.1,625.0h0.55M186.0,623.4h0.55M174.8,653.0h0.55M195.0,643.2h0.55M185.3,631.3h0.55M180.8,629.2h0.55M182.8,641.1h0.55M184.4,649.6h0.55M178.7,620.7h0.55M174.8,629.8h0.55M180.7,637.8h0.55M183.2,655.2h0.55M183.7,631.6h0.55M181.2,633.5h0.55M181.7,647.6h0.55M175.0,648.8h0.55M196.8,656.7h0.55M195.6,642.9h0.55M173.4,661.3h0.55M183.1,644.2h0.55M180.8,632.9h0.55M188.1,628.5h0.55M173.2,647.3h0.55M180.7,633.9h0.55M187.2,655.7h0.55M181.4,640.7h0.55M187.7,651.0h0.55M191.2,648.5h0.55M178.5,647.1h0.55M183.6,625.6h0.55M192.7,647.5h0.55M193.7,641.4h0.55M188.9,641.3h0.55M184.7,650.8h0.55M183.9,647.9h0.55M183.2,653.8h0.55M188.4,626.1h0.55M195.9,646.2h0.55M179.7,636.0h0.55M198.4,642.9h0.55M187.3,647.7h0.55M179.0,658.8h0.55M199.2,634.5h0.55M192.0,626.3h0.55M181.0,642.6h0.55M183.9,647.5h0.55M186.5,645.6h0.55M182.5,644.9h0.55M179.4,660.9h0.55M184.0,653.9h0.55M184.3,640.6h0.55M182.2,629.6h0.55M199.0,646.0h0.55M184.5,637.6h0.55M193.1,638.8h0.55M180.1,636.8h0.55M195.0,645.0h0.55M182.4,635.8h0.55M193.1,644.8h0.55M181.0,650.6h0.55M190.0,632.5h0.55M192.1,652.5h0.55M181.7,629.3h0.55M191.7,638.7h0.55M182.0,639.3h0.55M181.5,650.0h0.55M175.4,647.1h0.55M192.1,652.1h0.55M188.9,644.6h0.55M182.1,640.9h0.55M177.0,658.0h0.55M182.7,632.4h0.55M189.7,656.4h0.55M185.6,639.0h0.55M175.3,648.2h0.55M181.7,635.7h0.55M188.0,629.7h0.55M189.0,618.8h0.55M179.0,628.4h0.55M181.7,649.6h0.55M173.9,655.0h0.55M178.5,637.4h0.55M190.9,635.1h0.55M194.3,640.1h0.55M182.8,632.8h0.55M192.1,641.4h0.55M180.0,633.0h0.55M178.9,641.1h0.55M178.3,649.6h0.55M183.3,636.1h0.55M187.0,655.6h0.55M168.2,645.4h0.55M191.5,643.3h0.55M189.7,627.4h0.55M178.1,651.6h0.55M182.9,642.6h0.55M188.2,645.5h0.55M186.9,637.3h0.55M181.4,654.5h0.55M180.0,628.3h0.55M181.0,650.5h0.55M196.8,643.4h0.55M179.0,647.8h0.55M185.8,653.2h0.55M187.4,649.2h0.55M187.3,646.0h0.55M176.9,640.5h0.55M195.4,654.7h0.55M190.7,645.8h0.55M182.8,645.3h0.55M181.2,652.3h0.55M181.3,634.8h0.55M171.8,656.8h0.55M178.1,633.9h0.55M186.6,659.1h0.55M188.5,638.9h0.55M187.8,634.2h0.55M181.8,642.3h0.55M183.8,649.4h0.55M187.6,659.9h0.55M189.8,639.3h0.55M185.5,634.0h0.55M179.2,638.8h0.55M191.1,635.5h0.55M172.3,632.4h0.55M174.9,640.3h0.55M181.5,631.0h0.55M177.9,638.1h0.55M186.6,647.8h0.55M193.4,639.6h0.55M188.3,642.7h0.55M175.7,636.0h0.55M199.7,640.5h0.55M195.7,649.8h0.55M195.8,640.2h0.55M190.5,639.2h0.55M175.7,631.0h0.55M186.9,626.8h0.55M186.4,633.8h0.55M186.3,629.1h0.55M189.9,639.9h0.55M172.6,628.4h0.55M184.2,626.6h0.55M186.2,646.6h0.55M179.0,655.2h0.55M194.3,645.0h0.55M187.1,646.5h0.55M181.9,654.4h0.55M179.9,618.3h0.55M183.9,646.2h0.55M189.8,631.6h0.55M193.9,634.3h0.55M188.4,648.9h0.55M185.1,652.7h0.55M180.2,661.4h0.55M187.4,638.1h0.55M202.7,642.0h0.55M172.0,655.4h0.55M195.0,636.6h0.55M176.6,652.7h0.55M184.2,632.9h0.55M180.3,642.7h0.55M190.9,656.8h0.55M179.3,656.5h0.55M172.8,648.8h0.55M182.8,646.2h0.55M180.6,635.3h0.55M185.9,652.7h0.55M180.9,631.9h0.55M174.0,646.9h0.55M187.8,648.1h0.55M169.4,627.6h0.55M179.4,637.9h0.55M196.6,638.4h0.55M184.7,651.4h0.55M195.9,645.5h0.55M186.3,660.3h0.55M180.9,625.0h0.55M178.4,639.1h0.55M193.3,645.0h0.55M192.5,643.0h0.55M184.1,636.6h0.55M174.9,646.8h0.55M186.4,647.4h0.55M179.9,638.1h0.55M186.6,647.8h0.55M198.3,633.8h0.55M191.0,650.4h0.55M181.9,643.3h0.55M183.4,656.5h0.55M202.3,645.1h0.55M182.0,651.0h0.55M187.4,640.3h0.55M189.3,650.3h0.55M181.0,650.1h0.55M181.6,643.5h0.55M173.3,656.0h0.55M181.1,643.5h0.55M183.5,649.2h0.55M179.6,649.1h0.55M177.8,628.0h0.55M187.5,643.6h0.55M190.2,623.6h0.55M184.6,635.9h0.55M182.5,638.3h0.55M181.1,635.7h0.55M191.2,625.7h0.55M171.7,645.3h0.55M198.4,634.8h0.55M177.3,630.9h0.55M176.4,653.9h0.55M188.8,650.6h0.55M186.3,644.2h0.55M179.6,632.8h0.55M188.3,665.5h0.55M181.1,654.1h0.55M178.7,642.4h0.55M196.1,641.3h0.55M188.4,636.7h0.55M197.4,630.3h0.55M187.9,639.8h0.55M185.2,645.5h0.55M193.3,650.3h0.55M191.5,645.5h0.55M176.1,654.8h0.55M195.0,646.6h0.55M189.6,639.8h0.55M173.4,651.4h0.55M178.5,660.2h0.55M188.8,641.8h0.55M179.4,643.0h0.55M176.5,638.5h0.55M195.4,639.2h0.55M197.2,641.1h0.55M186.8,633.2h0.55M181.6,637.8h0.55M173.7,660.4h0.55M188.1,641.2h0.55M175.9,642.3h0.55M176.2,632.8h0.55M182.4,662.5h0.55M171.2,647.3h0.55M179.8,614.4h0.55M173.5,640.7h0.55M184.2,634.8h0.55M196.7,647.1h0.55M179.2,626.4h0.55M185.1,635.6h0.55M191.2,632.1h0.55M192.5,637.6h0.55M185.2,639.4h0.55M188.3,652.9h0.55M179.8,633.4h0.55M197.6,651.1h0.55M197.7,651.1h0.55M184.8,657.6h0.55M178.9,637.9h0.55M180.9,648.5h0.55M177.6,640.3h0.55M177.6,639.8h0.55M191.9,652.6h0.55M182.2,666.3h0.55M178.7,646.4h0.55M180.3,620.9h0.55M175.1,653.8h0.55M171.7,669.9h0.55M182.9,644.6h0.55M192.9,642.3h0.55M179.1,636.2h0.55M176.9,647.3h0.55M180.3,646.9h0.55M172.8,637.9h0.55M198.8,645.5h0.55M183.0,653.3h0.55M185.8,656.7h0.55M175.3,649.3h0.55M176.0,648.5h0.55M201.6,656.6h0.55M177.5,646.0h0.55M187.1,635.1h0.55M185.5,631.8h0.55M190.8,650.7h0.55M182.5,648.6h0.55M201.1,640.5h0.55M170.1,645.2h0.55M180.4,634.6h0.55M190.3,651.6h0.55M188.1,657.6h0.55M179.1,638.0h0.55M186.8,616.2h0.55M182.2,642.6h0.55M176.7,644.2h0.55M191.4,636.0h0.55M187.8,640.5h0.55M182.6,643.1h0.55M194.7,647.0h0.55M188.7,643.5h0.55M183.6,642.9h0.55M180.0,627.3h0.55M194.6,659.6h0.55M195.2,624.4h0.55M187.7,630.7h0.55M182.3,637.1h0.55M179.2,634.7h0.55M180.2,649.4h0.55M195.4,650.9h0.55M183.6,640.6h0.55M181.9,641.8h0.55M179.1,640.3h0.55M189.9,639.9h0.55M177.7,640.9h0.55M184.3,641.3h0.55M181.8,648.8h0.55M183.3,632.4h0.55M187.8,635.2h0.55M189.3,649.8h0.55M187.2,645.0h0.55M173.8,640.1h0.55M184.6,648.1h0.55M175.4,640.5h0.55M172.4,643.7h0.55M184.2,643.2h0.55M195.8,649.0h0.55M182.2,636.5h0.55M180.4,649.5h0.55M190.3,637.2h0.55M182.8,637.9h0.55M188.7,643.8h0.55M178.4,633.5h0.55M193.2,628.6h0.55M198.6,636.9h0.55M189.9,647.4h0.55M189.8,652.9h0.55M180.2,641.9h0.55M190.9,647.4h0.55M178.1,634.8h0.55M173.0,644.5h0.55M179.7,627.1h0.55M179.5,645.1h0.55M185.0,639.9h0.55M184.8,648.3h0.55M174.8,634.2h0.55M190.8,649.1h0.55M173.3,635.1h0.55M194.3,649.2h0.55M182.6,651.8h0.55M193.7,655.5h0.55M173.4,629.6h0.55M179.9,641.6h0.55M181.0,644.4h0.55M194.6,652.5h0.55M190.9,642.0h0.55M195.8,646.4h0.55M185.4,641.8h0.55M170.1,662.6h0.55M183.5,650.6h0.55M200.4,640.2h0.55M175.1,651.8h0.55M185.4,633.0h0.55M190.8,642.1h0.55M176.7,617.8h0.55M176.3,645.7h0.55M176.0,651.3h0.55M199.9,645.1h0.55M185.3,641.3h0.55M190.0,642.3h0.55M191.3,655.6h0.55M189.9,632.8h0.55M188.6,639.5h0.55M186.0,651.3h0.55M178.7,644.0h0.55M194.5,634.1h0.55M182.2,649.0h0.55M181.9,651.8h0.55M176.2,627.7h0.55M186.4,640.7h0.55M186.0,651.2h0.55M191.4,638.7h0.55M180.8,623.6h0.55M176.4,644.4h0.55M185.2,627.9h0.55M189.5,641.6h0.55M191.8,638.7h0.55M190.8,631.5h0.55M169.9,634.3h0.55M188.8,645.9h0.55M169.7,643.4h0.55M188.6,658.0h0.55M189.4,646.9h0.55M171.9,645.6h0.55M169.1,639.2h0.55M180.9,632.8h0.55M176.1,640.7h0.55M187.9,635.9h0.55M185.9,648.8h0.55M183.5,660.2h0.55M181.3,635.1h0.55M169.6,652.2h0.55M188.7,640.3h0.55M185.9,640.8h0.55M190.1,641.9h0.55M185.3,641.3h0.55M177.1,621.0h0.55M187.7,630.2h0.55M186.6,648.1h0.55M197.6,635.0h0.55M184.7,651.0h0.55M178.7,636.5h0.55M187.0,661.6h0.55M191.6,651.1h0.55M176.5,648.3h0.55M192.1,630.0h0.55M183.7,640.2h0.55M188.4,625.5h0.55M188.9,642.0h0.55M181.7,622.0h0.55M168.2,636.9h0.55M188.5,646.1h0.55M189.2,625.9h0.55M185.1,654.8h0.55M172.1,648.2h0.55M178.2,647.2h0.55M184.4,626.6h0.55M175.8,654.1h0.55M182.8,653.8h0.55M186.1,650.5h0.55M180.7,644.1h0.55M180.9,650.6h0.55M179.4,652.5h0.55M195.3,630.5h0.55M182.4,647.2h0.55M196.8,652.9h0.55M184.3,625.6h0.55M189.9,636.5h0.55M185.1,645.8h0.55M173.2,652.1h0.55M190.4,647.5h0.55M188.0,645.4h0.55M173.2,637.2h0.55M189.7,638.9h0.55M183.8,645.5h0.55M184.3,644.5h0.55M187.2,642.0h0.55M175.4,639.5h0.55M190.7,635.6h0.55M187.1,644.9h0.55M177.1,615.4h0.55M183.5,634.7h0.55M179.0,650.9h0.55M177.9,645.3h0.55M184.5,643.9h0.55M198.4,623.4h0.55M190.8,640.7h0.55M181.5,635.7h0.55M183.9,642.5h0.55M176.8,657.5h0.55M178.1,640.7h0.55M174.2,643.4h0.55M186.3,652.3h0.55M190.9,637.3h0.55M195.5,641.0h0.55M195.1,658.2h0.55M180.6,631.9h0.55M187.6,655.6h0.55M186.6,652.4h0.55M188.0,650.4h0.55M193.4,639.2h0.55M173.1,640.9h0.55M177.8,630.8h0.55M182.4,648.7h0.55M169.9,627.7h0.55M189.5,633.7h0.55M180.7,654.8h0.55M191.9,645.4h0.55M187.6,616.4h0.55M187.7,645.6h0.55M173.3,643.7h0.55M187.0,640.9h0.55M189.5,650.3h0.55M184.0,639.7h0.55M174.9,652.8h0.55M179.4,645.0h0.55M194.9,649.3h0.55M174.2,641.2h0.55M178.3,626.5h0.55M177.7,647.5h0.55M186.1,640.1h0.55M184.9,631.0h0.55M177.9,640.4h0.55M189.5,639.0h0.55M182.4,645.2h0.55M194.5,630.1h0.55M187.5,643.8h0.55M183.1,644.3h0.55M168.9,642.3h0.55M181.8,630.4h0.55M189.8,640.9h0.55M181.1,649.2h0.55M176.8,635.3h0.55M189.7,650.2h0.55M198.5,637.7h0.55M172.8,628.0h0.55M174.7,643.0h0.55M181.8,635.7h0.55M176.1,635.5h0.55M180.9,653.2h0.55M188.2,654.9h0.55M189.6,649.2h0.55M192.3,646.3h0.55M195.0,652.7h0.55M197.0,644.1h0.55M177.9,665.7h0.55M181.5,646.9h0.55M180.8,635.5h0.55M186.8,631.5h0.55M182.4,655.3h0.55M184.5,649.7h0.55M188.3,645.6h0.55M184.4,647.8h0.55M176.4,647.5h0.55M175.6,634.9h0.55M179.2,629.4h0.55M169.0,645.6h0.55M187.3,648.2h0.55M199.9,643.7h0.55M189.1,635.0h0.55M188.8,631.3h0.55M198.1,632.9h0.55M180.5,649.1h0.55M176.5,643.9h0.55M190.8,643.5h0.55M190.5,637.3h0.55M188.0,621.5h0.55M194.7,635.8h0.55M177.2,642.2h0.55M196.1,635.4h0.55M183.4,638.6h0.55M176.7,629.7h0.55M187.9,648.7h0.55M178.0,644.2h0.55M186.9,645.6h0.55M182.3,642.4h0.55M185.6,632.0h0.55M182.5,649.5h0.55M179.4,654.4h0.55M181.8,631.6h0.55M181.4,629.3h0.55M188.1,627.0h0.55M183.7,639.8h0.55M181.3,646.0h0.55M185.7,636.8h0.55M189.6,637.8h0.55M190.2,654.6h0.55M186.3,650.7h0.55M173.6,647.3h0.55M172.5,640.4h0.55M188.7,616.8h0.55M177.8,634.7h0.55M176.6,642.2h0.55M188.2,631.1h0.55M178.9,624.5h0.55M178.3,622.3h0.55M172.4,646.4h0.55M190.0,634.4h0.55M186.1,634.7h0.55M191.4,658.5h0.55M178.8,637.5h0.55M195.1,656.8h0.55M183.4,648.0h0.55M171.8,639.2h0.55M181.4,640.6h0.55M185.7,627.3h0.55M175.8,662.1h0.55M170.7,642.6h0.55M188.9,646.6h0.55M183.9,626.8h0.55M180.1,627.3h0.55M198.0,645.4h0.55M188.9,643.9h0.55M180.6,653.1h0.55M190.0,648.0h0.55M187.8,649.0h0.55M181.4,646.1h0.55M184.1,639.6h0.55M188.3,662.1h0.55M168.5,655.5h0.55M180.3,653.3h0.55M176.0,640.3h0.55M191.1,641.3h0.55M186.1,630.6h0.55M175.0,657.7h0.55M184.7,641.2h0.55M173.3,632.3h0.55M175.9,641.5h0.55M182.7,636.3h0.55M178.6,643.0h0.55M192.2,628.8h0.55M173.0,652.6h0.55M173.0,638.2h0.55M184.4,659.2h0.55M168.4,614.7h0.55M182.9,652.1h0.55M184.6,634.4h0.55M184.9,622.6h0.55M189.6,655.9h0.55M182.0,649.7h0.55M175.7,655.9h0.55M178.7,634.5h0.55M177.9,625.3h0.55M188.5,660.9h0.55M172.9,640.1h0.55M186.8,636.7h0.55M171.9,645.2h0.55M190.9,643.0h0.55M175.6,639.2h0.55M169.2,641.4h0.55M192.5,652.5h0.55M182.9,646.1h0.55M179.7,643.2h0.55M179.1,643.6h0.55M179.7,643.9h0.55M188.6,641.8h0.55M173.9,646.7h0.55M181.7,637.3h0.55M187.7,634.1h0.55M190.4,647.3h0.55M178.4,635.4h0.55M182.6,633.4h0.55M190.5,620.7h0.55M184.6,638.7h0.55M175.4,648.0h0.55M179.9,646.3h0.55M180.3,639.3h0.55M187.4,651.0h0.55M190.9,641.8h0.55M194.5,638.8h0.55M173.4,624.4h0.55M172.8,633.8h0.55M170.3,645.1h0.55M183.7,641.7h0.55M185.3,641.0h0.55M181.6,639.0h0.55M183.8,631.4h0.55M192.9,656.6h0.55M183.8,663.5h0.55M176.4,650.5h0.55M171.5,647.7h0.55M178.0,651.5h0.55M184.4,651.0h0.55M188.0,647.0h0.55M181.5,657.1h0.55M186.1,646.6h0.55M194.1,639.6h0.55M196.4,652.3h0.55M184.1,628.3h0.55M192.5,639.1h0.55M184.2,643.2h0.55M190.6,648.0h0.55M170.1,635.8h0.55M186.1,643.6h0.55M189.4,647.4h0.55M195.5,635.2h0.55M193.2,645.6h0.55M185.7,648.5h0.55M181.0,648.8h0.55M182.0,648.8h0.55M177.9,653.1h0.55M172.3,635.8h0.55M183.2,644.3h0.55M177.7,638.2h0.55M185.4,651.9h0.55M193.1,637.5h0.55M183.0,639.1h0.55M172.3,637.8h0.55M191.9,629.3h0.55M204.6,651.3h0.55M196.3,643.8h0.55M195.3,636.6h0.55M192.9,649.2h0.55M189.3,649.1h0.55M187.9,648.2h0.55M192.3,646.0h0.55M188.2,646.1h0.55M184.6,633.8h0.55M170.3,632.4h0.55M174.4,628.0h0.55M188.6,638.9h0.55M192.9,671.6h0.55M189.2,637.6h0.55M186.3,640.1h0.55M185.6,661.8h0.55M195.3,654.1h0.55M185.7,658.9h0.55M189.7,650.5h0.55M174.9,636.2h0.55M184.8,640.0h0.55M179.7,623.1h0.55M178.1,641.0h0.55M185.8,631.9h0.55M182.6,659.2h0.55M184.7,623.4h0.55M182.2,642.1h0.55M192.9,643.9h0.55M193.7,645.2h0.55M192.2,654.8h0.55M194.9,643.9h0.55M188.3,679.2h0.55M174.6,643.9h0.55M187.1,635.4h0.55M189.7,640.5h0.55M189.4,643.9h0.55M176.7,652.0h0.55M198.4,650.8h0.55M185.6,625.7h0.55M186.0,641.8h0.55M177.7,623.9h0.55M186.9,651.3h0.55M188.8,663.7h0.55M169.6,645.4h0.55M183.4,655.6h0.55M183.3,632.9h0.55M183.1,646.2h0.55M178.2,634.6h0.55M185.5,650.4h0.55M181.9,646.7h0.55M179.9,638.8h0.55M185.0,651.3h0.55M195.3,640.9h0.55M186.9,660.8h0.55M189.7,638.6h0.55M186.6,628.5h0.55M178.3,629.3h0.55M191.1,637.7h0.55M184.2,642.7h0.55M182.1,630.9h0.55M197.8,623.2h0.55M183.3,648.7h0.55M182.1,641.1h0.55M185.9,644.3h0.55M181.1,652.3h0.55M187.3,656.4h0.55M184.3,623.1h0.55M171.5,637.2h0.55M186.9,626.5h0.55M179.5,653.9h0.55M186.1,635.3h0.55M182.8,643.1h0.55M180.5,639.1h0.55M178.9,644.2h0.55M195.2,655.9h0.55M174.5,664.1h0.55M182.7,628.7h0.55M172.7,643.4h0.55M185.3,636.0h0.55M177.7,640.0h0.55M185.5,648.5h0.55M187.7,619.4h0.55M179.3,644.5h0.55M186.3,649.7h0.55M172.7,657.0h0.55M174.9,640.1h0.55M180.2,637.5h0.55M177.9,649.8h0.55M189.4,645.4h0.55M174.3,636.1h0.55M183.2,645.9h0.55M179.6,639.5h0.55M202.8,642.6h0.55M181.4,618.7h0.55M178.1,657.6h0.55M189.8,630.7h0.55M189.4,643.7h0.55M177.8,649.6h0.55M179.2,639.2h0.55M183.8,644.1h0.55M180.4,644.9h0.55M183.7,643.9h0.55M186.5,636.0h0.55M173.7,641.4h0.55M192.6,645.2h0.55M185.3,635.0h0.55M175.3,630.2h0.55M177.0,638.5h0.55M172.4,640.9h0.55M176.4,660.0h0.55M186.9,641.7h0.55M183.4,656.8h0.55M189.7,661.0h0.55M184.7,653.9h0.55M185.5,659.2h0.55M182.4,653.8h0.55M188.1,652.4h0.55M179.8,665.4h0.55M190.5,648.1h0.55M200.5,649.2h0.55M181.2,652.3h0.55M190.8,666.4h0.55M196.4,659.3h0.55M187.6,660.1h0.55M181.8,649.7h0.55M190.7,656.6h0.55M188.7,647.3h0.55M188.8,644.1h0.55M193.4,655.1h0.55M182.8,651.5h0.55M206.0,678.9h0.55M182.4,665.5h0.55M187.3,657.0h0.55M180.6,645.1h0.55M188.7,651.7h0.55M190.5,663.1h0.55M186.3,659.1h0.55M188.3,656.8h0.55M183.6,656.9h0.55M190.1,655.6h0.55M184.1,644.0h0.55M179.9,667.0h0.55M194.0,657.3h0.55M189.1,653.9h0.55M191.7,662.4h0.55M185.4,657.4h0.55M193.6,643.0h0.55M180.8,650.7h0.55M179.3,651.7h0.55M181.4,652.0h0.55M190.4,646.1h0.55M187.8,665.6h0.55M188.4,645.7h0.55M183.0,664.0h0.55M185.4,650.3h0.55M192.4,649.6h0.55M179.6,659.7h0.55M187.3,650.1h0.55M190.3,663.5h0.55M194.4,655.8h0.55M190.2,658.8h0.55M177.1,667.7h0.55M182.7,650.8h0.55M181.6,647.7h0.55M194.5,655.1h0.55M183.2,641.1h0.55M188.3,654.7h0.55M180.2,654.3h0.55M174.8,660.0h0.55M178.9,658.9h0.55M187.8,638.9h0.55M179.6,650.1h0.55M192.5,659.6h0.55M191.4,667.8h0.55M185.2,651.2h0.55M174.5,647.2h0.55M190.9,648.7h0.55M181.2,662.3h0.55M170.5,665.7h0.55M195.8,641.4h0.55M190.3,655.0h0.55M193.3,652.5h0.55M186.3,665.8h0.55M183.1,658.3h0.55M191.4,654.2h0.55M193.0,659.0h0.55M192.7,642.1h0.55M180.2,657.3h0.55M195.0,666.0h0.55M187.2,649.4h0.55M179.8,640.2h0.55M183.8,659.5h0.55M186.7,643.8h0.55M186.5,655.5h0.55M182.1,666.2h0.55M190.1,663.5h0.55M187.8,647.7h0.55M194.4,663.5h0.55M183.2,644.9h0.55M192.6,650.8h0.55M179.3,654.4h0.55M190.9,649.4h0.55M187.4,662.7h0.55M192.2,643.2h0.55M192.0,668.6h0.55M193.3,654.4h0.55M189.6,643.1h0.55M183.2,651.1h0.55M201.1,655.1h0.55M180.6,668.0h0.55M195.4,642.5h0.55M185.8,642.2h0.55M194.1,637.7h0.55M199.6,647.0h0.55M180.1,671.2h0.55M190.7,657.8h0.55M192.9,647.5h0.55M193.0,653.0h0.55M190.6,656.8h0.55M196.4,645.3h0.55M177.8,660.1h0.55M203.0,659.2h0.55M186.0,660.2h0.55M179.0,655.8h0.55M175.9,656.0h0.55M192.0,668.1h0.55M183.8,662.2h0.55M196.2,647.1h0.55M185.3,640.9h0.55M181.3,658.4h0.55M173.5,652.8h0.55M192.0,666.1h0.55M170.4,658.0h0.55M183.0,637.5h0.55M180.3,659.6h0.55M187.0,660.5h0.55M185.1,660.1h0.55M180.6,647.6h0.55M186.1,641.7h0.55M195.4,653.2h0.55M180.6,648.5h0.55M180.7,656.0h0.55M184.7,661.7h0.55M179.4,654.5h0.55M177.0,651.5h0.55M196.2,654.2h0.55M193.1,654.6h0.55M179.8,648.3h0.55M179.6,657.7h0.55M188.7,677.6h0.55M198.3,661.6h0.55M180.6,656.0h0.55M181.1,673.1h0.55M182.3,664.0h0.55M178.1,660.9h0.55M178.9,651.5h0.55M188.3,656.1h0.55M186.7,654.6h0.55M181.4,654.2h0.55M186.7,647.9h0.55M190.9,656.4h0.55M182.1,665.1h0.55M183.3,640.5h0.55M195.6,652.2h0.55M196.9,658.4h0.55M181.2,663.7h0.55M190.2,662.2h0.55M187.4,667.0h0.55M193.3,652.5h0.55M177.0,654.7h0.55M187.6,647.5h0.55M185.8,666.6h0.55M184.0,663.7h0.55M180.9,647.6h0.55M193.4,653.8h0.55M188.6,663.0h0.55M198.0,645.6h0.55M191.0,656.8h0.55M188.1,668.9h0.55M185.5,650.5h0.55M190.5,639.5h0.55M189.6,648.2h0.55M189.3,649.4h0.55M190.5,653.2h0.55M182.3,659.2h0.55M192.1,642.7h0.55M178.5,653.0h0.55M184.6,665.3h0.55M197.7,658.7h0.55M194.4,652.6h0.55M178.0,657.4h0.55M175.3,667.6h0.55M188.8,664.0h0.55M182.8,642.6h0.55M185.8,658.8h0.55M185.7,651.1h0.55M187.6,653.6h0.55M196.4,645.0h0.55M172.3,654.3h0.55M188.9,643.2h0.55M186.8,658.5h0.55M189.3,657.4h0.55M182.1,643.9h0.55M193.5,652.4h0.55M177.9,667.0h0.55M192.0,633.4h0.55M204.4,656.2h0.55M176.3,662.4h0.55M189.3,664.6h0.55M187.2,642.2h0.55M186.0,651.8h0.55M189.0,653.6h0.55M190.8,645.7h0.55M183.4,651.1h0.55M189.9,641.9h0.55M187.1,673.4h0.55M175.0,663.0h0.55M187.7,662.7h0.55M187.4,657.1h0.55M189.5,658.6h0.55M179.0,654.0h0.55M199.3,666.0h0.55M181.4,647.8h0.55M185.9,663.2h0.55M193.2,650.5h0.55M171.2,654.7h0.55M175.9,664.3h0.55M197.0,660.2h0.55M191.1,659.4h0.55M199.4,663.4h0.55M196.7,646.2h0.55M183.6,655.0h0.55M172.1,652.8h0.55M186.9,654.5h0.55M204.0,653.5h0.55M185.7,654.1h0.55M184.8,644.1h0.55M194.6,655.2h0.55M189.5,655.3h0.55M181.8,642.7h0.55M185.1,659.2h0.55M186.2,660.7h0.55M181.8,652.8h0.55M188.1,654.3h0.55M188.2,666.1h0.55M184.2,656.1h0.55M182.7,659.2h0.55M188.6,649.4h0.55M180.3,645.8h0.55M185.2,656.2h0.55M183.7,654.2h0.55M188.0,673.2h0.55M195.0,672.9h0.55M188.0,656.7h0.55M200.1,658.0h0.55M191.4,651.1h0.55M183.4,661.0h0.55M183.0,649.9h0.55M177.0,657.3h0.55M186.4,659.2h0.55M181.2,645.5h0.55M194.5,655.2h0.55M192.3,646.2h0.55M178.3,635.5h0.55M189.0,662.7h0.55M195.9,668.7h0.55M174.8,646.6h0.55M183.5,648.9h0.55M185.6,648.8h0.55M177.2,654.7h0.55M187.9,649.1h0.55M187.2,645.0h0.55M184.8,652.4h0.55M184.0,654.4h0.55M178.5,644.7h0.55M181.4,660.7h0.55M180.6,647.8h0.55M200.3,653.0h0.55M184.4,648.2h0.55M196.9,659.1h0.55M188.8,667.3h0.55M179.0,642.0h0.55M194.5,658.4h0.55M183.6,661.2h0.55M186.4,670.1h0.55M178.5,657.8h0.55M193.6,661.9h0.55M184.6,651.9h0.55M184.1,660.3h0.55M184.3,653.9h0.55M193.9,654.2h0.55M188.7,654.0h0.55M187.1,637.8h0.55M180.7,657.9h0.55M182.7,650.2h0.55M187.4,672.7h0.55M181.9,647.6h0.55M174.9,658.6h0.55M186.6,648.5h0.55M184.2,662.6h0.55M193.9,657.9h0.55M194.8,662.8h0.55M183.9,661.2h0.55M188.1,661.0h0.55M188.9,671.5h0.55M178.6,657.8h0.55M179.7,673.0h0.55M183.5,652.2h0.55M186.9,654.7h0.55M198.5,654.6h0.55M188.7,663.3h0.55M197.2,647.6h0.55M189.0,644.7h0.55M190.3,666.0h0.55M183.5,652.8h0.55M195.0,658.4h0.55M192.4,651.5h0.55M184.9,652.1h0.55M197.6,643.4h0.55M183.5,667.1h0.55M186.5,646.5h0.55M188.6,653.3h0.55M186.2,658.9h0.55M192.3,643.4h0.55M188.3,666.6h0.55M178.0,654.3h0.55M179.2,660.2h0.55M181.3,652.4h0.55M184.2,658.5h0.55M178.2,644.1h0.55M188.3,665.6h0.55M183.6,658.2h0.55M188.8,655.8h0.55M186.9,650.7h0.55M185.3,664.4h0.55M190.0,665.0h0.55M182.1,655.9h0.55M182.7,644.7h0.55M193.0,652.8h0.55M188.6,644.0h0.55M185.3,654.1h0.55M184.4,662.9h0.55M190.1,656.0h0.55M188.5,651.5h0.55M182.2,652.8h0.55M180.1,653.7h0.55M186.2,663.8h0.55M184.1,673.9h0.55M183.5,656.0h0.55M186.8,650.2h0.55M186.6,641.2h0.55M194.5,650.5h0.55M186.8,640.8h0.55M190.8,645.0h0.55M196.1,646.8h0.55M182.0,660.2h0.55M195.6,639.5h0.55M175.6,667.6h0.55M189.9,643.1h0.55M184.0,660.5h0.55M184.4,666.8h0.55M182.2,656.3h0.55M194.7,666.6h0.55M188.6,659.6h0.55M184.7,654.5h0.55M183.1,658.0h0.55M192.6,647.1h0.55M179.1,655.4h0.55M200.4,656.8h0.55M187.8,654.7h0.55M175.7,649.4h0.55M197.1,638.5h0.55M199.0,645.6h0.55M200.6,675.6h0.55M197.0,653.9h0.55M190.9,650.7h0.55M183.9,656.6h0.55M184.8,646.5h0.55M185.1,660.1h0.55M181.8,657.8h0.55M177.9,655.7h0.55M179.2,661.0h0.55M180.0,659.8h0.55M173.6,656.4h0.55M194.3,648.5h0.55M187.3,648.2h0.55M190.2,660.9h0.55M194.7,665.4h0.55M195.7,649.2h0.55M187.7,659.2h0.55M188.2,644.6h0.55M200.5,675.1h0.55M187.3,634.5h0.55M199.2,653.5h0.55M202.1,646.7h0.55M190.5,661.2h0.55M177.3,652.4h0.55M190.2,660.2h0.55M189.5,634.3h0.55M170.9,657.9h0.55M197.6,642.8h0.55M189.6,662.3h0.55M180.4,642.5h0.55M188.7,651.5h0.55M186.3,653.4h0.55M186.1,657.4h0.55M183.4,654.7h0.55M183.1,648.1h0.55M189.3,648.4h0.55M190.5,654.8h0.55M194.2,659.6h0.55M173.5,654.8h0.55M191.4,655.8h0.55M187.2,663.5h0.55M191.5,644.3h0.55M187.6,662.9h0.55M188.0,644.9h0.55M192.2,659.7h0.55M194.6,656.3h0.55M187.7,661.7h0.55M179.5,668.6h0.55M189.6,656.7h0.55M192.0,661.2h0.55M172.1,662.3h0.55M186.2,648.7h0.55M193.0,662.4h0.55M189.5,650.0h0.55M187.6,647.4h0.55M203.8,649.7h0.55M192.8,667.9h0.55M181.2,650.7h0.55M171.9,653.0h0.55M178.0,656.2h0.55M185.4,655.1h0.55M187.2,651.2h0.55M187.7,654.4h0.55M182.1,652.5h0.55M183.1,644.7h0.55M186.7,640.2h0.55M190.5,654.7h0.55M188.0,664.1h0.55M193.3,651.5h0.55M189.3,664.4h0.55M185.9,658.0h0.55M189.7,646.7h0.55M188.8,651.9h0.55M185.2,658.4h0.55M191.3,647.8h0.55M185.2,653.4h0.55M180.5,657.9h0.55M185.5,649.4h0.55M193.2,654.3h0.55M179.1,654.2h0.55M185.7,657.3h0.55M202.0,659.3h0.55M196.6,653.6h0.55M190.1,658.9h0.55M209.9,646.6h0.55M208.3,654.4h0.55M206.1,669.2h0.55M192.6,658.9h0.55M209.8,648.1h0.55M211.1,624.2h0.55M212.5,629.9h0.55M211.4,636.8h0.55M209.1,628.8h0.55M204.2,647.9h0.55M205.3,654.6h0.55M203.7,657.1h0.55M213.1,630.4h0.55M205.8,647.3h0.55M214.2,651.7h0.55M220.8,626.1h0.55M213.4,640.0h0.55M210.3,631.6h0.55M208.7,658.2h0.55M217.0,625.0h0.55M202.7,677.1h0.55M210.6,647.8h0.55M209.6,624.9h0.55M211.9,629.9h0.55M209.1,638.6h0.55M209.2,671.4h0.55M203.0,650.4h0.55M207.2,657.1h0.55M217.9,622.1h0.55M213.2,636.1h0.55M201.0,672.3h0.55M218.8,619.6h0.55M213.4,632.2h0.55M210.0,638.9h0.55M209.8,644.7h0.55M207.5,651.2h0.55M204.2,662.7h0.55M205.9,630.8h0.55M214.4,632.4h0.55M207.9,657.4h0.55M210.3,664.5h0.55M212.5,624.0h0.55M208.0,640.0h0.55M209.0,663.8h0.55M223.4,639.1h0.55M212.6,645.3h0.55M211.2,617.6h0.55M217.1,653.2h0.55M207.9,647.1h0.55M207.0,646.8h0.55M206.3,638.0h0.55M215.4,622.0h0.55M209.2,623.3h0.55M213.6,626.7h0.55M211.6,648.2h0.55M205.8,642.1h0.55M205.3,658.0h0.55M211.9,651.7h0.55M203.5,644.9h0.55M209.9,639.2h0.55M211.9,652.7h0.55M211.1,633.3h0.55M210.2,635.6h0.55M207.3,668.8h0.55M213.7,657.4h0.55M209.4,644.1h0.55M204.4,656.2h0.55M213.9,644.6h0.55M204.9,653.9h0.55M214.9,630.3h0.55M213.8,631.7h0.55M210.4,636.8h0.55M203.3,646.3h0.55M211.3,638.5h0.55M210.4,636.8h0.55M214.7,633.8h0.55M212.3,634.6h0.55M216.7,631.1h0.55M212.5,663.5h0.55M212.5,622.5h0.55M207.2,652.1h0.55M204.1,637.9h0.55M209.9,626.9h0.55M215.6,638.7h0.55M208.9,658.8h0.55M207.2,635.8h0.55M214.8,635.7h0.55M209.4,656.2h0.55M209.8,651.2h0.55M211.5,653.9h0.55M213.1,633.3h0.55M217.7,626.6h0.55M218.8,614.8h0.55M210.7,618.2h0.55M212.9,653.3h0.55M208.6,651.5h0.55M209.4,660.6h0.55M212.1,644.1h0.55M215.7,617.3h0.55M213.8,638.7h0.55M216.7,632.6h0.55M213.4,637.4h0.55M205.7,645.7h0.55M209.6,630.1h0.55M210.2,638.3h0.55M219.2,625.2h0.55M211.1,643.0h0.55M213.8,619.7h0.55M202.1,674.8h0.55M206.5,640.3h0.55M216.1,636.6h0.55M206.6,657.8h0.55M205.0,670.2h0.55M209.0,649.3h0.55M210.4,664.0h0.55M205.9,649.9h0.55M208.1,650.1h0.55M209.4,649.7h0.55M216.0,621.1h0.55M207.4,662.8h0.55M213.1,649.4h0.55M207.2,639.2h0.55M205.1,650.2h0.55M205.0,660.3h0.55M207.2,654.4h0.55M203.0,665.7h0.55M213.7,647.7h0.55M211.8,665.8h0.55M215.1,635.5h0.55M218.2,625.8h0.55M211.2,659.6h0.55M208.3,646.8h0.55M211.7,642.9h0.55M209.4,656.0h0.55M220.8,620.9h0.55M203.5,650.2h0.55M203.9,640.7h0.55M205.5,663.2h0.55M211.2,649.4h0.55M210.0,655.0h0.55M208.6,660.6h0.55M214.7,638.1h0.55M203.5,643.2h0.55M211.7,629.5h0.55M209.7,642.7h0.55M217.1,624.1h0.55M211.1,636.9h0.55M206.9,654.0h0.55M215.1,619.4h0.55M217.7,654.8h0.55M211.2,647.4h0.55M205.5,647.3h0.55M212.0,639.5h0.55M217.1,622.0h0.55M209.3,650.8h0.55M210.2,640.9h0.55M209.9,648.4h0.55M201.3,687.2h0.55M214.1,625.3h0.55M206.2,638.2h0.55M212.6,619.2h0.55M222.2,616.7h0.55M203.8,677.1h0.55M210.5,648.4h0.55M209.6,641.8h0.55M211.7,632.8h0.55M208.9,645.2h0.55M201.7,665.0h0.55M211.5,647.4h0.55M207.7,656.0h0.55M208.3,655.3h0.55M217.0,638.6h0.55M203.6,655.7h0.55M205.6,672.7h0.55M211.5,627.5h0.55M203.2,670.0h0.55M205.7,655.8h0.55M208.9,644.2h0.55M208.4,646.7h0.55M218.2,620.1h0.55M213.0,643.9h0.55M207.3,636.7h0.55M206.3,656.6h0.55M211.3,652.8h0.55M212.3,641.2h0.55M210.6,645.4h0.55M210.7,649.9h0.55M206.4,661.8h0.55M218.3,628.5h0.55M213.2,625.5h0.55M211.0,626.6h0.55M215.3,635.3h0.55M215.7,646.2h0.55M207.0,657.9h0.55M217.9,654.1h0.55M210.0,649.8h0.55M207.5,655.2h0.55M213.4,653.7h0.55M209.8,644.9h0.55M212.9,637.0h0.55M202.3,651.8h0.55M213.8,637.4h0.55M212.5,623.1h0.55M213.4,643.9h0.55M218.4,638.3h0.55M207.6,640.2h0.55M205.1,647.2h0.55M210.1,657.4h0.55M218.5,630.1h0.55M213.4,636.2h0.55M204.3,659.5h0.55M207.0,631.7h0.55M206.5,666.0h0.55M205.0,667.3h0.55M204.0,653.6h0.55M213.0,634.5h0.55M205.9,651.1h0.55M218.6,636.2h0.55M211.5,647.5h0.55M216.2,647.4h0.55M209.2,635.8h0.55M205.8,651.9h0.55M209.1,645.6h0.55M207.6,675.0h0.55M207.2,664.2h0.55M206.4,641.7h0.55M204.9,641.0h0.55M202.7,647.7h0.55M209.4,652.5h0.55M202.0,662.6h0.55M210.0,643.9h0.55M200.2,666.2h0.55M213.7,649.8h0.55M209.1,658.8h0.55M210.9,632.6h0.55M213.0,649.2h0.55M211.7,640.7h0.55M209.3,652.3h0.55M201.8,661.3h0.55M204.3,648.2h0.55M211.5,654.6h0.55M210.5,633.2h0.55M223.6,623.7h0.55M197.5,664.6h0.55M207.0,642.7h0.55M215.6,657.1h0.55M211.0,627.8h0.55M214.7,636.8h0.55M208.6,648.6h0.55M205.0,654.8h0.55M212.2,652.8h0.55M220.2,619.5h0.55M212.4,631.4h0.55M211.1,654.4h0.55M213.7,634.4h0.55M219.2,637.5h0.55M216.5,633.6h0.55M217.0,630.2h0.55M214.7,636.2h0.55M210.5,626.4h0.55M215.3,641.0h0.55M207.5,649.0h0.55M213.4,644.8h0.55M200.5,676.4h0.55M205.6,672.1h0.55M216.1,634.9h0.55M211.5,644.3h0.55M208.6,662.8h0.55M207.3,643.0h0.55M209.4,627.9h0.55M215.6,621.6h0.55M217.9,640.5h0.55M220.3,619.6h0.55M209.1,640.7h0.55M214.4,626.7h0.55M209.0,620.8h0.55M210.8,644.9h0.55M220.2,617.2h0.55M215.2,641.0h0.55M214.8,623.7h0.55M193.6,667.2h0.55M215.2,636.7h0.55M217.6,654.1h0.55M207.1,644.5h0.55M198.3,667.2h0.55M212.2,656.6h0.55M214.1,636.4h0.55M207.8,628.0h0.55M213.1,632.0h0.55M208.7,649.8h0.55M200.6,659.4h0.55M207.5,669.9h0.55M210.0,656.3h0.55M205.7,634.3h0.55M214.9,631.7h0.55M204.0,666.1h0.55M213.0,620.0h0.55M209.4,666.7h0.55M211.1,627.3h0.55M206.4,665.3h0.55M217.9,637.7h0.55M203.1,664.9h0.55M206.5,644.5h0.55M208.1,659.0h0.55M213.1,645.0h0.55M208.4,641.2h0.55M215.9,627.1h0.55M209.2,651.5h0.55M209.7,655.3h0.55M213.3,645.2h0.55M222.0,617.3h0.55M206.7,622.4h0.55M207.2,640.0h0.55M214.0,650.8h0.55M222.0,617.3h0.55M215.8,631.8h0.55M201.4,613.1h0.55M208.8,624.7h0.55M214.9,625.2h0.55M213.8,630.0h0.55M212.9,628.3h0.55M212.5,659.6h0.55M212.4,624.7h0.55M206.7,651.2h0.55M214.6,622.4h0.55M206.0,632.9h0.55M219.3,631.0h0.55M212.2,635.3h0.55M220.1,632.8h0.55M210.1,657.3h0.55M213.5,634.8h0.55M208.7,646.2h0.55M217.4,615.3h0.55M202.3,664.8h0.55M215.8,650.0h0.55M213.4,621.4h0.55M214.6,637.8h0.55M205.5,633.9h0.55M202.9,657.0h0.55M204.1,658.0h0.55M209.8,651.4h0.55M214.9,625.3h0.55M208.7,654.4h0.55M207.4,659.8h0.55M213.5,647.8h0.55M207.6,656.8h0.55M209.5,647.2h0.55M213.7,631.3h0.55M210.3,616.9h0.55M207.1,655.8h0.55M205.2,628.7h0.55M203.4,652.0h0.55M213.9,643.1h0.55M203.5,659.6h0.55M204.5,665.6h0.55M212.5,632.5h0.55M208.2,646.1h0.55M207.7,660.9h0.55M212.0,634.0h0.55M212.8,623.7h0.55M211.3,637.9h0.55M207.7,647.2h0.55M211.7,624.6h0.55M212.3,672.8h0.55M214.5,629.5h0.55M212.3,658.4h0.55M205.2,670.7h0.55M208.8,667.2h0.55M206.5,661.7h0.55M207.7,661.8h0.55M214.9,639.1h0.55M206.5,661.7h0.55M212.4,627.6h0.55M213.3,636.3h0.55M210.0,632.9h0.55M211.6,650.8h0.55M206.4,659.1h0.55M201.7,659.6h0.55M211.8,630.0h0.55M211.3,626.9h0.55M219.7,631.5h0.55M215.8,623.3h0.55M199.6,661.0h0.55M217.1,629.8h0.55M216.2,637.6h0.55M212.1,651.9h0.55M207.7,643.3h0.55M215.9,638.8h0.55M207.9,635.3h0.55M215.0,633.6h0.55M204.3,658.4h0.55M212.8,664.5h0.55M206.0,659.2h0.55M208.2,646.3h0.55M210.1,659.7h0.55M212.1,638.4h0.55M207.5,659.6h0.55M207.2,653.3h0.55M212.5,647.8h0.55M214.3,639.5h0.55M220.0,635.3h0.55M206.9,639.0h0.55M207.2,663.6h0.55M205.3,669.6h0.55M212.6,632.8h0.55M205.8,650.1h0.55M214.1,635.8h0.55M214.0,638.9h0.55M217.0,626.3h0.55M209.9,631.4h0.55M209.0,634.4h0.55M203.3,652.9h0.55M204.5,637.8h0.55M212.3,646.2h0.55M212.1,638.2h0.55M206.9,651.3h0.55M206.4,647.5h0.55M212.4,636.8h0.55M203.0,667.2h0.55M207.9,642.3h0.55M207.9,646.8h0.55M209.8,648.2h0.55M214.9,656.1h0.55M200.5,659.1h0.55M206.3,652.6h0.55M205.8,651.9h0.55M211.8,640.2h0.55M211.6,648.4h0.55M205.5,651.0h0.55M215.5,644.8h0.55M215.1,625.6h0.55M207.4,659.4h0.55M210.5,646.2h0.55M208.9,656.0h0.55M211.3,630.4h0.55M212.3,636.0h0.55M209.3,651.4h0.55M211.2,635.3h0.55M205.0,647.5h0.55M209.9,630.7h0.55M207.6,674.0h0.55M207.5,648.8h0.55M204.7,649.4h0.55M211.7,642.7h0.55M202.6,657.2h0.55M205.9,663.1h0.55M210.0,661.4h0.55M212.2,627.0h0.55M215.0,629.8h0.55M210.0,644.9h0.55M204.4,666.6h0.55M211.2,630.2h0.55M204.1,659.3h0.55M216.2,637.6h0.55M212.0,635.7h0.55M215.7,640.1h0.55M206.8,642.6h0.55M200.4,673.4h0.55M224.6,617.2h0.55M212.6,647.9h0.55M209.5,668.6h0.55M205.8,641.9h0.55M218.1,640.0h0.55M214.1,635.6h0.55M210.3,645.0h0.55M212.5,632.8h0.55M215.4,653.9h0.55M208.0,636.7h0.55M211.1,669.4h0.55M206.0,665.8h0.55M207.3,640.1h0.55M215.6,632.2h0.55M210.3,651.2h0.55M215.8,636.4h0.55M217.8,622.8h0.55M208.1,654.9h0.55M213.6,618.4h0.55M209.1,653.2h0.55M209.8,664.3h0.55M203.1,658.2h0.55M206.5,632.2h0.55M209.4,644.2h0.55M208.6,639.4h0.55M214.5,624.5h0.55M207.6,632.6h0.55M216.0,617.2h0.55M218.6,618.8h0.55M210.3,661.5h0.55M205.5,666.4h0.55M204.4,648.6h0.55M213.1,642.3h0.55M212.1,643.9h0.55M207.3,658.4h0.55M203.6,647.4h0.55M222.0,638.0h0.55M212.9,639.8h0.55M209.7,634.7h0.55M206.4,639.3h0.55M204.5,655.0h0.55M212.5,629.2h0.55M211.1,627.3h0.55M212.3,636.5h0.55M210.2,645.8h0.55M216.7,634.8h0.55M207.4,650.2h0.55M212.4,645.8h0.55M215.5,625.5h0.55M204.9,659.9h0.55M205.2,657.4h0.55M223.4,634.7h0.55M203.6,646.0h0.55M212.4,636.8h0.55M213.8,640.1h0.55M212.1,646.6h0.55M203.1,668.7h0.55M203.8,645.0h0.55M199.1,663.0h0.55M212.4,635.7h0.55M204.9,628.8h0.55M213.2,625.8h0.55M208.8,648.9h0.55M210.2,648.3h0.55M218.4,637.5h0.55M205.7,651.0h0.55M209.4,635.5h0.55M213.6,633.5h0.55M211.6,648.4h0.55M220.4,619.2h0.55M213.9,661.1h0.55M218.1,633.4h0.55M207.0,651.0h0.55M207.6,643.7h0.55M202.3,654.2h0.55M201.0,670.7h0.55M213.0,634.4h0.55M210.7,644.3h0.55M209.3,648.5h0.55M209.7,649.7h0.55M206.7,650.7h0.55M218.5,620.4h0.55M206.7,660.4h0.55M212.0,642.3h0.55M211.4,637.2h0.55M208.0,653.3h0.55M211.4,648.9h0.55M212.7,664.4h0.55M210.9,658.1h0.55M211.3,667.0h0.55M215.2,626.7h0.55M218.1,623.9h0.55M215.3,626.5h0.55M212.2,642.0h0.55M201.4,670.1h0.55M214.1,631.4h0.55M211.0,623.1h0.55M208.7,639.1h0.55M214.8,638.8h0.55M209.8,657.5h0.55M207.4,657.2h0.55M209.4,650.3h0.55M209.1,661.4h0.55M208.5,669.4h0.55M214.3,627.5h0.55M208.4,661.9h0.55M217.6,617.7h0.55M211.3,648.9h0.55M221.9,631.1h0.55M209.6,655.4h0.55M210.9,633.2h0.55M210.3,641.3h0.55M209.5,646.1h0.55M212.3,631.8h0.55M213.8,620.3h0.55M213.7,643.3h0.55M212.6,623.4h0.55M208.2,649.9h0.55M212.8,647.9h0.55M203.2,656.4h0.55M215.7,621.6h0.55M204.7,648.4h0.55M209.3,642.8h0.55M216.5,636.2h0.55M201.4,668.1h0.55M211.0,652.2h0.55M210.4,659.1h0.55M211.2,636.9h0.55M204.8,663.8h0.55M209.9,625.3h0.55M214.6,651.0h0.55M200.6,667.2h0.55M213.7,657.3h0.55M216.4,625.2h0.55M212.7,648.0h0.55M203.5,671.8h0.55M212.9,648.8h0.55M206.3,660.2h0.55M210.3,640.6h0.55M210.7,647.1h0.55M203.3,656.3h0.55M212.3,622.7h0.55M218.7,658.0h0.55M213.8,638.0h0.55M205.6,640.0h0.55M204.7,663.7h0.55M206.4,653.0h0.55M208.4,657.3h0.55M216.6,643.3h0.55M213.7,650.0h0.55M218.7,619.9h0.55M211.8,634.3h0.55M210.8,640.9h0.55M211.1,650.7h0.55M204.3,625.7h0.55M211.9,653.2h0.55M208.7,663.4h0.55M221.4,625.7h0.55M209.5,651.2h0.55M214.2,620.8h0.55M212.9,616.8h0.55M205.4,655.1h0.55M212.0,628.0h0.55M210.8,657.7h0.55M202.7,663.7h0.55M216.6,618.3h0.55M216.3,638.8h0.55M209.0,646.6h0.55M210.4,644.5h0.55M209.6,637.3h0.55M214.9,655.2h0.55M209.6,661.2h0.55M206.8,636.0h0.55M213.6,641.2h0.55M212.7,629.4h0.55M208.6,658.4h0.55M218.2,633.4h0.55M207.4,663.7h0.55M219.7,618.8h0.55M198.4,670.5h0.55M204.3,650.0h0.55M207.6,644.7h0.55M205.9,659.2h0.55M212.0,626.7h0.55M203.0,680.2h0.55M213.2,641.5h0.55M202.4,682.0h0.55M205.5,653.9h0.55M212.1,633.1h0.55M211.1,637.8h0.55M200.7,645.6h0.55M207.5,643.2h0.55M212.6,658.7h0.55M209.4,670.2h0.55M208.4,648.8h0.55M209.4,627.0h0.55M210.2,642.2h0.55M206.5,659.2h0.55M212.4,637.2h0.55M206.3,654.6h0.55M206.6,641.2h0.55M208.1,658.6h0.55M209.1,644.6h0.55M208.9,653.4h0.55M209.7,654.6h0.55M209.7,654.7h0.55M209.0,638.2h0.55M212.4,638.4h0.55M208.3,663.9h0.55M208.1,639.5h0.55M208.8,662.9h0.55M204.1,668.1h0.55M212.9,635.4h0.55M208.8,638.8h0.55M200.8,650.6h0.55M203.7,637.9h0.55M208.3,654.4h0.55M205.9,648.2h0.55M206.7,648.3h0.55M212.3,654.4h0.55M213.2,643.4h0.55M217.0,640.8h0.55M212.7,646.5h0.55M214.3,626.0h0.55M206.1,652.6h0.55M201.9,656.0h0.55M208.8,650.6h0.55M213.6,653.2h0.55M199.1,666.3h0.55M212.0,657.6h0.55M207.4,654.1h0.55M209.6,635.1h0.55M211.5,653.1h0.55M208.6,648.3h0.55M215.5,633.2h0.55M208.8,650.3h0.55M212.4,645.3h0.55M216.2,639.1h0.55M204.6,636.2h0.55M209.8,663.9h0.55M210.5,639.3h0.55M211.6,648.1h0.55M216.2,619.9h0.55M213.9,640.2h0.55M214.2,649.7h0.55M199.7,673.1h0.55M212.6,631.6h0.55M209.7,657.3h0.55M203.1,666.7h0.55M214.1,657.5h0.55M206.3,644.5h0.55M215.0,633.1h0.55M202.4,663.7h0.55M212.6,631.3h0.55M199.7,668.9h0.55M211.3,632.3h0.55M210.9,637.0h0.55M205.4,660.8h0.55M210.2,644.9h0.55M204.3,646.9h0.55M208.9,640.1h0.55M211.9,642.1h0.55M209.2,644.5h0.55M212.2,652.5h0.55M205.1,664.1h0.55M214.5,645.9h0.55M207.6,651.5h0.55M214.2,634.7h0.55M218.1,632.3h0.55M214.3,630.6h0.55M207.9,666.6h0.55M204.2,649.2h0.55M209.0,632.6h0.55M213.2,625.6h0.55M210.4,641.5h0.55M199.7,664.4h0.55M202.9,657.6h0.55M199.1,657.8h0.55M214.1,640.8h0.55M215.6,653.4h0.55M213.7,636.3h0.55M209.7,652.5h0.55M204.3,643.1h0.55M210.2,664.1h0.55M204.9,656.6h0.55M206.9,658.4h0.55M211.9,641.2h0.55M214.5,634.2h0.55M202.3,681.8h0.55M209.7,648.9h0.55M214.0,628.9h0.55M208.0,639.9h0.55M213.0,644.3h0.55M211.2,628.3h0.55M206.3,635.1h0.55M203.7,647.5h0.55M211.6,647.6h0.55M201.6,666.5h0.55M211.9,659.4h0.55M214.3,620.6h0.55M212.5,643.1h0.55M211.8,633.6h0.55M217.1,633.7h0.55M207.4,629.0h0.55M209.0,631.2h0.55M203.2,675.0h0.55M209.9,656.0h0.55M215.5,643.6h0.55M208.2,634.8h0.55M209.4,647.2h0.55M209.5,642.3h0.55M210.9,627.1h0.55M215.3,622.4h0.55M210.8,633.6h0.55M216.7,626.9h0.55M205.8,647.9h0.55M214.4,623.3h0.55M204.0,649.3h0.55M214.6,662.3h0.55M209.4,656.4h0.55M209.6,624.6h0.55M208.2,655.0h0.55M204.9,650.4h0.55M207.0,654.3h0.55M222.1,624.8h0.55M204.0,674.0h0.55M208.8,642.1h0.55M212.6,648.9h0.55M211.3,646.5h0.55M211.1,629.3h0.55M214.0,647.8h0.55M206.5,631.1h0.55M207.3,651.5h0.55M217.0,635.2h0.55M194.6,664.5h0.55M210.5,646.6h0.55M202.9,653.0h0.55M210.9,651.1h0.55M214.1,656.3h0.55M206.9,645.2h0.55M208.1,653.7h0.55M219.8,629.8h0.55M211.0,632.6h0.55M204.1,675.2h0.55M209.8,661.2h0.55M214.2,631.9h0.55M211.4,632.0h0.55M213.3,637.4h0.55M214.0,652.0h0.55M207.4,658.4h0.55M212.3,634.7h0.55M211.6,656.2h0.55M211.0,654.1h0.55M211.9,655.9h0.55M209.6,641.7h0.55M213.3,613.0h0.55M207.8,666.1h0.55M206.7,671.6h0.55M218.0,625.2h0.55M206.6,655.2h0.55M214.6,656.7h0.55M217.6,623.5h0.55M214.4,631.3h0.55M215.5,640.6h0.55M217.2,631.2h0.55M214.3,622.9h0.55M205.6,658.2h0.55M210.8,653.5h0.55M221.4,617.9h0.55M204.5,642.1h0.55M207.3,662.7h0.55M212.1,637.7h0.55M213.5,636.7h0.55M211.5,641.9h0.55M203.7,664.9h0.55M211.2,668.1h0.55M210.8,636.5h0.55M211.2,634.4h0.55M210.1,640.2h0.55M211.9,630.8h0.55M209.8,640.4h0.55M205.6,651.6h0.55M213.7,646.6h0.55M211.8,640.2h0.55M214.9,632.9h0.55M213.6,618.7h0.55M204.5,645.9h0.55M215.8,631.5h0.55M212.6,627.7h0.55M203.0,688.9h0.55M218.4,650.3h0.55M210.4,636.4h0.55M211.6,639.1h0.55M208.1,619.6h0.55M211.4,616.9h0.55M207.9,630.8h0.55M208.4,651.6h0.55M208.8,649.5h0.55M214.9,628.8h0.55M212.9,638.1h0.55M203.9,658.4h0.55M205.1,664.9h0.55M210.4,645.9h0.55M215.2,626.0h0.55M206.5,667.1h0.55M213.9,642.8h0.55M200.6,661.0h0.55M205.7,645.0h0.55M202.4,638.9h0.55M208.2,651.9h0.55M207.9,646.1h0.55M210.8,658.7h0.55M207.5,650.3h0.55M223.9,620.0h0.55M214.4,623.2h0.55M205.2,647.7h0.55M217.3,626.0h0.55M204.2,632.9h0.55M211.2,654.5h0.55M206.5,645.9h0.55M204.9,644.9h0.55M215.4,628.8h0.55M205.2,659.8h0.55M211.7,640.9h0.55M220.6,629.5h0.55M216.2,619.5h0.55M210.1,658.9h0.55M214.1,647.7h0.55M203.1,653.2h0.55M218.8,646.0h0.55M195.1,648.6h0.55M217.2,641.0h0.55M210.9,652.1h0.55M216.6,621.9h0.55M215.7,643.6h0.55M207.8,666.4h0.55M216.8,642.8h0.55M208.1,650.9h0.55M210.3,663.0h0.55M220.5,631.2h0.55M207.0,641.2h0.55M218.2,633.8h0.55M207.1,647.2h0.55M208.5,645.5h0.55M219.6,619.9h0.55M213.0,650.0h0.55M220.9,618.3h0.55M209.0,641.6h0.55M204.2,654.5h0.55M206.5,647.8h0.55M211.2,650.9h0.55M210.8,670.7h0.55M212.2,646.6h0.55M213.1,637.8h0.55M215.4,636.8h0.55M203.6,649.3h0.55M219.5,629.2h0.55M211.8,655.5h0.55M211.6,636.0h0.55M199.3,655.7h0.55M204.5,661.9h0.55M211.0,631.7h0.55M216.5,643.2h0.55M221.8,626.8h0.55M204.2,655.6h0.55M214.4,646.9h0.55M200.9,665.3h0.55M210.1,657.3h0.55M199.5,658.3h0.55M206.4,654.8h0.55M211.2,649.6h0.55M198.5,644.7h0.55M209.2,647.6h0.55M206.8,666.0h0.55M204.6,657.9h0.55M200.3,651.2h0.55M209.7,664.1h0.55M204.0,657.1h0.55M208.5,651.3h0.55M207.3,652.6h0.55M209.8,649.6h0.55M204.8,646.2h0.55M203.4,646.3h0.55M206.4,665.3h0.55M201.1,653.6h0.55M203.5,663.0h0.55M205.6,654.5h0.55M202.6,657.4h0.55M205.4,650.6h0.55M213.5,655.2h0.55M206.3,659.5h0.55M217.6,653.0h0.55M204.5,657.9h0.55M212.3,655.9h0.55M205.7,658.0h0.55M201.8,657.5h0.55M205.1,655.6h0.55M213.3,651.4h0.55M212.4,651.8h0.55M200.1,672.1h0.55M204.5,657.2h0.55M212.1,664.0h0.55M207.7,666.4h0.55M204.7,663.5h0.55M202.8,667.9h0.55M204.4,663.8h0.55M201.5,672.9h0.55M214.5,647.9h0.55M207.3,647.7h0.55M206.1,644.5h0.55M210.3,652.9h0.55M212.4,651.8h0.55M206.0,649.9h0.55M209.9,652.7h0.55M201.5,647.8h0.55M211.4,651.7h0.55M206.7,651.7h0.55M204.6,657.9h0.55M207.9,645.2h0.55M218.4,654.7h0.55M198.2,663.7h0.55M212.2,646.4h0.55M200.7,665.7h0.55M204.2,658.3h0.55M214.6,650.0h0.55M213.2,644.5h0.55M198.6,659.5h0.55M205.2,663.3h0.55M209.1,637.6h0.55M201.9,656.5h0.55M203.6,653.3h0.55M205.5,658.6h0.55M200.1,653.7h0.55M202.8,669.6h0.55M206.2,644.1h0.55M209.3,662.1h0.55M199.6,651.7h0.55M209.1,654.8h0.55M209.8,667.4h0.55M210.1,662.1h0.55M204.8,669.8h0.55M203.8,661.5h0.55M197.7,660.0h0.55M210.6,645.4h0.55M204.8,639.4h0.55M205.4,646.2h0.55M207.3,651.8h0.55M203.8,655.7h0.55M205.1,657.5h0.55M205.8,666.7h0.55M211.9,630.9h0.55M213.2,649.2h0.55M208.6,647.1h0.55M209.8,658.6h0.55M204.4,648.6h0.55M209.4,657.8h0.55M202.8,641.3h0.55M201.9,663.5h0.55M212.9,643.1h0.55M204.4,648.9h0.55M208.6,648.0h0.55M214.7,654.8h0.55M206.1,653.3h0.55M211.7,648.9h0.55M205.2,658.3h0.55M211.9,664.1h0.55M205.4,646.9h0.55M202.9,657.9h0.55M210.0,631.5h0.55M210.0,657.0h0.55M208.0,642.7h0.55M207.5,651.2h0.55M202.7,664.5h0.55M212.8,652.9h0.55M209.7,662.2h0.55M207.2,652.2h0.55M213.9,645.2h0.55M205.7,659.8h0.55M205.2,649.4h0.55M212.1,651.7h0.55M203.9,653.6h0.55M209.8,660.6h0.55M208.0,664.8h0.55M207.0,669.2h0.55M211.2,642.9h0.55M206.7,658.9h0.55M207.0,647.6h0.55M209.3,653.6h0.55M200.3,650.5h0.55M205.4,665.0h0.55M207.0,657.5h0.55M211.4,650.5h0.55M207.2,655.1h0.55M211.2,647.0h0.55M208.9,648.4h0.55M207.5,664.7h0.55M203.6,662.7h0.55M207.5,657.4h0.55M209.5,654.6h0.55M209.4,669.1h0.55M204.0,649.3h0.55M210.5,656.4h0.55M216.1,643.4h0.55M210.4,648.6h0.55M205.0,652.6h0.55M203.5,650.8h0.55M205.7,655.6h0.55M207.4,662.3h0.55M203.1,658.3h0.55M203.3,665.8h0.55M203.1,656.1h0.55M203.7,667.5h0.55M201.8,650.6h0.55M205.4,654.2h0.55M203.1,668.5h0.55M204.7,640.4h0.55M206.3,645.5h0.55M204.3,654.0h0.55M203.2,655.5h0.55M205.4,662.3h0.55M218.3,641.1h0.55M205.1,666.8h0.55M214.7,656.3h0.55M206.0,672.8h0.55M207.5,665.4h0.55M204.8,647.5h0.55M213.1,643.7h0.55M202.6,660.6h0.55M203.1,664.7h0.55M207.5,653.8h0.55M204.7,669.9h0.55M213.3,660.3h0.55M201.4,674.2h0.55M207.6,669.6h0.55M209.5,648.3h0.55M199.9,656.1h0.55M212.5,647.8h0.55M214.4,639.3h0.55M210.0,652.6h0.55M201.0,663.9h0.55M205.4,654.8h0.55M198.0,654.8h0.55M204.2,656.9h0.55M203.5,675.7h0.55M205.4,659.0h0.55M205.7,667.5h0.55M209.7,662.1h0.55M200.4,662.6h0.55M206.5,661.7h0.55M204.2,659.4h0.55M202.8,656.3h0.55M208.7,650.4h0.55M203.4,657.6h0.55M208.6,658.1h0.55M201.9,656.4h0.55M202.0,651.6h0.55M217.6,657.5h0.55M210.2,651.0h0.55M210.9,665.7h0.55M212.6,657.5h0.55M202.8,679.3h0.55M210.5,660.4h0.55M208.7,657.8h0.55M205.3,643.1h0.55M215.0,671.2h0.55M209.2,659.8h0.55M207.0,662.3h0.55M206.4,655.7h0.55M209.8,639.5h0.55M213.3,647.7h0.55M209.5,659.0h0.55M214.1,664.3h0.55M201.4,652.5h0.55M207.8,641.7h0.55M209.8,652.7h0.55M203.6,665.7h0.55M202.9,653.0h0.55M207.0,663.2h0.55M206.2,653.7h0.55M207.9,652.2h0.55M198.9,670.2h0.55M209.2,663.4h0.55M207.6,659.4h0.55M199.6,650.5h0.55M198.5,672.6h0.55M203.9,669.5h0.55M208.9,650.7h0.55M206.6,649.7h0.55M205.0,660.4h0.55M210.0,649.5h0.55M200.0,671.1h0.55M202.1,665.9h0.55M200.2,653.8h0.55M198.1,668.5h0.55M208.9,680.3h0.55M215.2,650.5h0.55M197.9,661.4h0.55M208.1,658.2h0.55M207.6,647.1h0.55M205.5,672.9h0.55M204.5,654.7h0.55M201.6,655.1h0.55M212.2,654.8h0.55M204.6,654.8h0.55M210.5,648.4h0.55M203.3,656.3h0.55M195.5,674.6h0.55M203.3,665.2h0.55M206.8,664.6h0.55M204.5,678.5h0.55M209.3,652.3h0.55M208.2,637.7h0.55M201.8,643.0h0.55M205.7,675.2h0.55M208.4,642.7h0.55M200.0,664.7h0.55M209.6,652.1h0.55M213.3,653.0h0.55M215.8,655.9h0.55M216.0,626.7h0.55M210.2,659.9h0.55M213.5,655.8h0.55M208.6,657.3h0.55M207.7,660.1h0.55M214.0,637.0h0.55M204.9,645.5h0.55M212.4,632.3h0.55M205.0,622.0h0.55M201.8,639.0h0.55M216.1,621.0h0.55M216.4,657.4h0.55M208.4,621.7h0.55M211.5,687.3h0.55M221.9,675.4h0.55M208.4,629.5h0.55M222.9,622.3h0.55M213.3,645.6h0.55M204.9,619.3h0.55M208.4,663.6h0.55M214.5,684.2h0.55M218.8,696.8h0.55M206.0,640.8h0.55M209.9,627.2h0.55M207.7,657.5h0.55M211.0,639.8h0.55M223.1,676.9h0.55M227.6,661.2h0.55M217.0,665.7h0.55M227.6,643.0h0.55M225.4,658.1h0.55M222.8,681.6h0.55M208.0,665.4h0.55M213.0,629.0h0.55M210.9,696.1h0.55M209.5,626.1h0.55M220.3,655.2h0.55M217.9,625.8h0.55M215.2,653.1h0.55M216.7,655.3h0.55M216.1,699.1h0.55M202.5,619.5h0.55M209.8,625.1h0.55M200.0,678.6h0.55M224.9,615.5h0.55M204.8,633.0h0.55M210.8,699.2h0.55M201.4,648.0h0.55M215.4,632.1h0.55M209.5,674.9h0.55M220.1,682.6h0.55M220.7,643.4h0.55M203.2,616.4h0.55M219.6,682.7h0.55M220.8,666.3h0.55M211.7,619.0h0.55M212.9,624.5h0.55M208.1,680.1h0.55M217.2,690.9h0.55M225.7,676.3h0.55M228.0,628.0h0.55M222.0,668.8h0.55M216.1,625.3h0.55M214.5,691.9h0.55M221.1,694.1h0.55M223.2,620.6h0.55M211.4,686.8h0.55M221.3,656.7h0.55M213.1,648.4h0.55M210.4,645.1h0.55M213.6,665.2h0.55M203.8,629.4h0.55M218.6,663.8h0.55M214.2,659.2h0.55M210.0,699.8h0.55M208.2,660.2h0.55M208.3,666.2h0.55M169.4,657.0h0.55M168.6,648.4h0.55M169.9,677.1h0.55M170.8,618.3h0.55M169.5,638.2h0.55M169.9,707.3h0.55M171.3,688.3h0.55M171.3,665.1h0.55M170.4,627.0h0.55M170.7,640.6h0.55M170.2,637.1h0.55M170.0,654.2h0.55M171.1,667.4h0.55M170.8,639.8h0.55M170.0,667.9h0.55M169.4,656.0h0.55M168.6,628.7h0.55M169.5,683.7h0.55M170.2,687.2h0.55M168.8,635.7h0.55M171.3,627.2h0.55M169.0,670.8h0.55M169.9,703.8h0.55M171.1,673.7h0.55M169.8,659.2h0.55M171.5,624.6h0.55M169.9,692.4h0.55M170.5,622.9h0.55M170.9,709.5h0.55M170.7,630.9h0.55M171.2,628.0h0.55M168.5,685.9h0.55M170.6,694.1h0.55M170.1,620.3h0.55M168.6,680.2h0.55M170.8,649.0h0.55M170.8,652.4h0.55M169.9,684.4h0.55M170.6,680.4h0.55M168.9,684.7h0.55M170.8,691.2h0.55M170.4,674.7h0.55M169.2,716.6h0.55M171.4,639.9h0.55M170.5,691.2h0.55M169.9,643.1h0.55M169.6,629.2h0.55M170.9,667.0h0.55M171.5,635.1h0.55M171.4,680.5h0.55M170.1,624.1h0.55M168.7,664.7h0.55M168.9,678.9h0.55M169.2,708.8h0.55M170.4,618.1h0.55M171.1,683.9h0.55M169.1,651.9h0.55M170.5,705.9h0.55M169.7,697.1h0.55M171.3,712.1h0.55" fill="none" stroke="#333" stroke-width="0.55"/>
<line x1="198.5" y1="612.3" x2="198.5" y2="717.9" stroke="#777" stroke-width="0.7"/>
<line x1="167.7" y1="652.5" x2="264.6" y2="652.5" stroke="#555" stroke-width="0.7"/>
<rect x="167.7" y="612.3" width="96.90000000000003" height="105.60000000000002" fill="none" stroke="#111" stroke-width="1.6"/>
<path d="M175.0,717.9v1.5M167.7,710.0h-1.5M179.3,717.9v1.5M167.7,705.3h-1.5M182.3,717.9v1.5M167.7,702.0h-1.5M184.6,717.9v1.5M167.7,699.4h-1.5M186.6,717.9v1.5M167.7,697.4h-1.5M188.2,717.9v1.5M167.7,695.6h-1.5M189.6,717.9v1.5M167.7,694.1h-1.5M190.8,717.9v1.5M167.7,692.7h-1.5M199.2,717.9v1.5M167.7,683.6h-1.5M203.5,717.9v1.5M167.7,678.9h-1.5M206.5,717.9v1.5M167.7,675.6h-1.5M208.9,717.9v1.5M167.7,673.0h-1.5M210.8,717.9v1.5M167.7,671.0h-1.5M212.4,717.9v1.5M167.7,669.2h-1.5M213.8,717.9v1.5M167.7,667.7h-1.5M215.0,717.9v1.5M167.7,666.3h-1.5M223.4,717.9v1.5M167.7,657.2h-1.5M227.7,717.9v1.5M167.7,652.5h-1.5M230.7,717.9v1.5M167.7,649.2h-1.5M233.1,717.9v1.5M167.7,646.6h-1.5M235.0,717.9v1.5M167.7,644.6h-1.5M236.6,717.9v1.5M167.7,642.8h-1.5M238.0,717.9v1.5M167.7,641.3h-1.5M239.3,717.9v1.5M167.7,639.9h-1.5M247.7,717.9v1.5M167.7,630.8h-1.5M251.9,717.9v1.5M167.7,626.1h-1.5M255.0,717.9v1.5M167.7,622.8h-1.5M257.3,717.9v1.5M167.7,620.2h-1.5M259.2,717.9v1.5M167.7,618.2h-1.5M260.8,717.9v1.5M167.7,616.4h-1.5M262.3,717.9v1.5M167.7,614.9h-1.5M263.5,717.9v1.5M167.7,613.5h-1.5M167.7,717.9v3M167.7,717.9h-3M191.9,717.9v3M167.7,691.5h-3M216.2,717.9v3M167.7,665.1h-3M240.4,717.9v3M167.7,638.7h-3M264.6,717.9v3M167.7,612.3h-3" fill="none" stroke="#111" stroke-width="0.8"/>
<text x="171.0" y="731.9" font-size="8.5" text-anchor="middle" fill="#333333">10<tspan font-size="5.8" dy="-3.2">0</tspan></text>
<text x="162.2" y="720.1" font-size="8.5" text-anchor="end" fill="#333333">10<tspan font-size="5.8" dy="-3.2">0</tspan></text>
<text x="195.22500000000002" y="731.9" font-size="8.5" text-anchor="middle" fill="#333333">10<tspan font-size="5.8" dy="-3.2">1</tspan></text>
<text x="162.2" y="693.7" font-size="8.5" text-anchor="end" fill="#333333">10<tspan font-size="5.8" dy="-3.2">1</tspan></text>
<text x="219.45000000000002" y="731.9" font-size="8.5" text-anchor="middle" fill="#333333">10<tspan font-size="5.8" dy="-3.2">2</tspan></text>
<text x="162.2" y="667.3" font-size="8.5" text-anchor="end" fill="#333333">10<tspan font-size="5.8" dy="-3.2">2</tspan></text>
<text x="243.675" y="731.9" font-size="8.5" text-anchor="middle" fill="#333333">10<tspan font-size="5.8" dy="-3.2">3</tspan></text>
<text x="162.2" y="640.9" font-size="8.5" text-anchor="end" fill="#333333">10<tspan font-size="5.8" dy="-3.2">3</tspan></text>
<text x="267.90000000000003" y="731.9" font-size="8.5" text-anchor="middle" fill="#333333">10<tspan font-size="5.8" dy="-3.2">4</tspan></text>
<text x="162.2" y="614.5" font-size="8.5" text-anchor="end" fill="#333333">10<tspan font-size="5.8" dy="-3.2">4</tspan></text>
<text x="216" y="607.5" font-size="8.5" text-anchor="middle" fill="#333333">Tumor</text>
<rect x="200.6" y="618" width="30" height="59.5" fill="none" stroke="#111" stroke-width="1.1"/>
<text x="171.5" y="624.2" font-size="7.4" textLength="11.3" lengthAdjust="spacingAndGlyphs" fill="#333333">8.4</text>
<text x="239.5" y="624.2" font-size="7.4" textLength="15.5" lengthAdjust="spacingAndGlyphs" fill="#333333">21.2</text>
<text x="244" y="711.2" font-size="7.4" textLength="15.5" lengthAdjust="spacingAndGlyphs" fill="#333333">14.6</text>
<text x="169" y="717" font-size="4" fill="#555">55.7</text>
<line x1="230.6" y1="670.6" x2="281" y2="670.6" stroke="#111" stroke-width="1.2"/>
<path d="M279.6,665.8L289.2,670.6L279.6,675.4Z" fill="#111" stroke="none" stroke-width="1"/>
<line x1="40.4" y1="737.2" x2="254" y2="737.2" stroke="#111" stroke-width="1.1"/>
<path d="M253,733.8L260.5,737.2L253,740.6Z" fill="#111" stroke="none" stroke-width="1"/>
<text x="145.3" y="749" font-size="8.7" text-anchor="middle" textLength="15.5" lengthAdjust="spacingAndGlyphs" fill="#2a2a2a" stroke="#2a2a2a" stroke-width="0.28">CD14</text>
<text x="15.8" y="665.5" font-size="8.7" text-anchor="middle" transform="rotate(-90 15.8 665.5)" textLength="25.5" lengthAdjust="spacingAndGlyphs" fill="#2a2a2a" stroke="#2a2a2a" stroke-width="0.28">HLA-DR</text>
<text x="307.6" y="595" font-size="10.5" font-weight="bold" fill="#000">G</text>
<text x="424.2" y="606.8" font-size="9.5" text-anchor="middle" textLength="54" lengthAdjust="spacingAndGlyphs" fill="#333333">Fresh ex vivo</text>
<path d="M394.0,696.9 L394.5,696.9 L395.0,696.8 L395.5,696.8 L396.0,696.6 L396.5,696.5 L397.0,696.3 L397.5,696.1 L398.0,695.9 L398.5,695.7 L399.0,695.3 L399.5,694.6 L400.0,693.6 L400.5,692.5 L401.0,691.2 L401.5,689.6 L402.0,687.4 L402.5,684.8 L403.0,681.9 L403.5,678.9 L404.0,675.9 L404.5,672.8 L405.0,669.5 L405.5,666.0 L406.0,662.4 L406.5,658.6 L407.0,654.9 L407.5,651.0 L408.0,646.8 L408.5,642.6 L409.0,638.4 L409.5,634.4 L410.0,630.6 L410.5,626.7 L411.0,622.5 L411.5,618.9 L412.0,616.5 L412.5,616.4 L413.0,619.3 L413.5,622.8 L414.0,625.5 L414.5,627.9 L415.0,629.0 L415.5,627.9 L416.0,628.1 L416.5,633.7 L417.0,640.3 L417.5,645.5 L418.0,650.5 L418.5,655.5 L419.0,660.5 L419.5,665.7 L420.0,671.0 L420.5,676.1 L421.0,680.7 L421.5,685.0 L422.0,689.0 L422.5,692.1 L423.0,694.4 L423.5,696.0 L424.0,696.3 L424.5,696.6 L425.0,696.8 L425.5,696.9 L426.0,696.9 Z" fill="#efc6bf" stroke="none" stroke-width="1"/>
<path d="M411.0,696.9 L411.5,696.9 L412.0,696.7 L412.5,696.5 L413.0,696.1 L413.5,695.7 L414.0,695.1 L414.5,694.5 L415.0,692.7 L415.5,689.2 L416.0,684.8 L416.5,678.4 L417.0,669.7 L417.5,660.5 L418.0,650.8 L418.5,640.6 L419.0,632.3 L419.5,625.8 L420.0,620.5 L420.5,617.5 L421.0,616.1 L421.5,616.9 L422.0,618.5 L422.5,621.4 L423.0,625.7 L423.5,630.6 L424.0,636.3 L424.5,643.0 L425.0,650.0 L425.5,656.5 L426.0,662.7 L426.5,668.8 L427.0,674.4 L427.5,679.1 L428.0,683.2 L428.5,687.0 L429.0,690.1 L429.5,692.1 L430.0,693.2 L430.5,694.1 L431.0,694.8 L431.5,695.3 L432.0,695.6 L432.5,695.9 L433.0,696.1 L433.5,696.3 L434.0,696.4 L434.5,696.5 L435.0,696.6 L435.5,696.7 L436.0,696.8 L436.5,696.8 L437.0,696.9 L437.5,696.9 L438.0,696.9" fill="none" stroke="#2b4a82" stroke-width="1.15" stroke-linejoin="round"/>
<path d="M399.0,696.9 L399.5,696.8 L400.0,696.7 L400.5,696.4 L401.0,696.1 L401.5,695.7 L402.0,695.3 L402.5,694.5 L403.0,693.3 L403.5,691.7 L404.0,689.8 L404.5,687.7 L405.0,685.6 L405.5,683.1 L406.0,680.1 L406.5,676.7 L407.0,673.1 L407.5,669.6 L408.0,666.2 L408.5,662.9 L409.0,659.6 L409.5,656.2 L410.0,652.9 L410.5,649.8 L411.0,646.8 L411.5,644.0 L412.0,641.3 L412.5,638.8 L413.0,636.3 L413.5,633.9 L414.0,631.7 L414.5,629.7 L415.0,627.5 L415.5,624.1 L416.0,618.4 L416.5,617.7 L417.0,623.5 L417.5,628.9 L418.0,634.0 L418.5,638.7 L419.0,642.7 L419.5,646.4 L420.0,649.8 L420.5,653.1 L421.0,656.5 L421.5,660.0 L422.0,663.5 L422.5,666.9 L423.0,670.3 L423.5,673.6 L424.0,676.7 L424.5,679.8 L425.0,682.8 L425.5,685.7 L426.0,688.3 L426.5,690.4 L427.0,692.3 L427.5,694.0 L428.0,695.4 L428.5,696.1 L429.0,696.4 L429.5,696.6 L430.0,696.8 L430.5,696.9 L431.0,696.9 Z" fill="#b7d592" stroke="none" stroke-width="1" fill-opacity="0.9"/>
<line x1="351.0" y1="696.4" x2="497.0" y2="696.4" stroke="#b5122f" stroke-width="1.2" stroke-dasharray="0.1,4.3" stroke-linecap="round"/>
<path d="M394.0,696.9 L394.5,696.9 L395.0,696.8 L395.5,696.8 L396.0,696.6 L396.5,696.5 L397.0,696.3 L397.5,696.1 L398.0,695.9 L398.5,695.7 L399.0,695.3 L399.5,694.6 L400.0,693.6 L400.5,692.5 L401.0,691.2 L401.5,689.6 L402.0,687.4 L402.5,684.8 L403.0,681.9 L403.5,678.9 L404.0,675.9 L404.5,672.8 L405.0,669.5 L405.5,666.0 L406.0,662.4 L406.5,658.6 L407.0,654.9 L407.5,651.0 L408.0,646.8 L408.5,642.6 L409.0,638.4 L409.5,634.4 L410.0,630.6 L410.5,626.7 L411.0,622.5 L411.5,618.9 L412.0,616.5 L412.5,616.4 L413.0,619.3 L413.5,622.8 L414.0,625.5 L414.5,627.9 L415.0,629.0 L415.5,627.9 L416.0,628.1 L416.5,633.7 L417.0,640.3 L417.5,645.5 L418.0,650.5 L418.5,655.5 L419.0,660.5 L419.5,665.7 L420.0,671.0 L420.5,676.1 L421.0,680.7 L421.5,685.0 L422.0,689.0 L422.5,692.1 L423.0,694.4 L423.5,696.0 L424.0,696.3 L424.5,696.6 L425.0,696.8 L425.5,696.9 L426.0,696.9" fill="none" stroke="#b5122f" stroke-width="1.9" stroke-dasharray="0.1,4.3" stroke-linecap="round" stroke-linejoin="round"/>
<rect x="351.0" y="612.2" width="146.0" height="84.69999999999993" fill="none" stroke="#111" stroke-width="1.5"/>
<path d="M362.0,696.9v1.6M368.4,696.9v1.6M373.0,696.9v1.6M376.5,696.9v1.6M379.4,696.9v1.6M381.8,696.9v1.6M384.0,696.9v1.6M385.8,696.9v1.6M398.5,696.9v1.6M404.9,696.9v1.6M409.5,696.9v1.6M413.0,696.9v1.6M415.9,696.9v1.6M418.3,696.9v1.6M420.5,696.9v1.6M422.3,696.9v1.6M435.0,696.9v1.6M441.4,696.9v1.6M446.0,696.9v1.6M449.5,696.9v1.6M452.4,696.9v1.6M454.8,696.9v1.6M457.0,696.9v1.6M458.8,696.9v1.6M471.5,696.9v1.6M477.9,696.9v1.6M482.5,696.9v1.6M486.0,696.9v1.6M488.9,696.9v1.6M491.3,696.9v1.6M493.5,696.9v1.6M495.3,696.9v1.6M351.0,696.9v2.6M387.5,696.9v2.6M424.0,696.9v2.6M460.5,696.9v2.6M497.0,696.9v2.6M351.0,696.9h-1.5M351.0,692.9h-1.5M351.0,688.8h-1.5M351.0,684.8h-1.5M351.0,680.7h-1.5M351.0,676.7h-1.5M351.0,672.7h-1.5M351.0,668.6h-1.5M351.0,664.6h-1.5M351.0,660.5h-1.5M351.0,656.5h-1.5M351.0,652.5h-1.5M351.0,648.4h-1.5M351.0,644.4h-1.5M351.0,640.3h-1.5M351.0,636.3h-1.5M351.0,632.3h-1.5M351.0,628.2h-1.5M351.0,624.2h-1.5M351.0,620.1h-1.5M351.0,616.1h-1.5" fill="none" stroke="#111" stroke-width="0.6"/>
<text x="351.5" y="709.5" font-size="8" text-anchor="middle" fill="#333333">10<tspan font-size="5.5" dy="-3.2">0</tspan></text>
<text x="388.0" y="709.5" font-size="8" text-anchor="middle" fill="#333333">10<tspan font-size="5.5" dy="-3.2">1</tspan></text>
<text x="424.5" y="709.5" font-size="8" text-anchor="middle" fill="#333333">10<tspan font-size="5.5" dy="-3.2">2</tspan></text>
<text x="461.0" y="709.5" font-size="8" text-anchor="middle" fill="#333333">10<tspan font-size="5.5" dy="-3.2">3</tspan></text>
<text x="497.5" y="709.5" font-size="8" text-anchor="middle" fill="#333333">10<tspan font-size="5.5" dy="-3.2">4</tspan></text>
<line x1="348.0" y1="616.1" x2="351.0" y2="616.1" stroke="#1a1a1a" stroke-width="1"/>
<text x="345.7" y="619.1" font-size="8.4" text-anchor="end" fill="#333333">100</text>
<line x1="348.0" y1="632.26" x2="351.0" y2="632.26" stroke="#1a1a1a" stroke-width="1"/>
<text x="345.7" y="635.26" font-size="8.4" text-anchor="end" fill="#333333">80</text>
<line x1="348.0" y1="648.42" x2="351.0" y2="648.42" stroke="#1a1a1a" stroke-width="1"/>
<text x="345.7" y="651.42" font-size="8.4" text-anchor="end" fill="#333333">60</text>
<line x1="348.0" y1="664.58" x2="351.0" y2="664.58" stroke="#1a1a1a" stroke-width="1"/>
<text x="345.7" y="667.58" font-size="8.4" text-anchor="end" fill="#333333">40</text>
<line x1="348.0" y1="680.74" x2="351.0" y2="680.74" stroke="#1a1a1a" stroke-width="1"/>
<text x="345.7" y="683.74" font-size="8.4" text-anchor="end" fill="#333333">20</text>
<line x1="348.0" y1="696.9" x2="351.0" y2="696.9" stroke="#1a1a1a" stroke-width="1"/>
<text x="345.7" y="699.9" font-size="8.4" text-anchor="end" fill="#333333">0</text>
<text x="325.8" y="654.55" font-size="8.7" text-anchor="middle" transform="rotate(-90 325.8 654.55)" textLength="27.5" lengthAdjust="spacingAndGlyphs" fill="#2a2a2a" stroke="#2a2a2a" stroke-width="0.28">% of Max</text>
<text x="364.5" y="627.6" font-size="8" textLength="13.8" lengthAdjust="spacingAndGlyphs" fill="#333333">IDO</text>
<rect x="447.2" y="630.2" width="6.3" height="6.2" fill="#b7d592"/>
<text x="456.6" y="636.2" font-size="8" textLength="23.5" lengthAdjust="spacingAndGlyphs" fill="#333333">Isotype</text>
<rect x="447.8" y="642.1" width="5.4" height="5.4" fill="#efc6bf"/>
<rect x="447.8" y="642.1" width="5.4" height="5.4" fill="none" stroke="#b5122f" stroke-width="1.7" stroke-dasharray="0.1,2.7" stroke-linecap="round"/>
<text x="457" y="648.1" font-size="8" textLength="24.5" lengthAdjust="spacingAndGlyphs" fill="#333333">Healthy</text>
<rect x="447.8" y="654.3" width="5.4" height="5.4" fill="#fff" stroke="#2b4a82" stroke-width="1.2"/>
<text x="457" y="660.1" font-size="8" textLength="19.5" lengthAdjust="spacingAndGlyphs" fill="#333333">Tumor</text>
<path d="M433.0,800.2 L433.5,800.2 L434.0,800.1 L434.5,800.0 L435.0,799.9 L435.5,799.7 L436.0,799.5 L436.5,799.3 L437.0,799.0 L437.5,798.4 L438.0,797.4 L438.5,795.9 L439.0,794.1 L439.5,792.2 L440.0,789.7 L440.5,786.3 L441.0,782.5 L441.5,778.6 L442.0,774.6 L442.5,770.3 L443.0,765.8 L443.5,761.2 L444.0,756.4 L444.5,751.6 L445.0,746.8 L445.5,741.9 L446.0,737.2 L446.5,733.1 L447.0,729.0 L447.5,724.8 L448.0,721.6 L448.5,720.3 L449.0,721.9 L449.5,725.8 L450.0,730.5 L450.5,734.7 L451.0,738.9 L451.5,743.4 L452.0,748.0 L452.5,752.5 L453.0,757.1 L453.5,761.6 L454.0,765.8 L454.5,769.7 L455.0,773.3 L455.5,776.8 L456.0,780.2 L456.5,783.7 L457.0,787.3 L457.5,790.5 L458.0,793.0 L458.5,795.0 L459.0,796.8 L459.5,798.2 L460.0,799.0 L460.5,799.3 L461.0,799.6 L461.5,799.9 L462.0,800.1 L462.5,800.2 L463.0,800.2 Z" fill="#efc6bf" stroke="none" stroke-width="1"/>
<path d="M456.0,800.2 L456.5,800.2 L457.0,800.1 L457.5,800.0 L458.0,799.9 L458.5,799.7 L459.0,799.5 L459.5,799.3 L460.0,799.0 L460.5,798.1 L461.0,796.1 L461.5,793.5 L462.0,790.6 L462.5,787.0 L463.0,782.3 L463.5,777.0 L464.0,771.6 L464.5,765.6 L465.0,759.1 L465.5,752.9 L466.0,747.3 L466.5,741.6 L467.0,736.9 L467.5,733.9 L468.0,731.9 L468.5,729.9 L469.0,727.1 L469.5,724.0 L470.0,721.4 L470.5,720.3 L471.0,721.9 L471.5,725.4 L472.0,729.1 L472.5,732.1 L473.0,735.5 L473.5,739.5 L474.0,744.0 L474.5,748.9 L475.0,754.4 L475.5,759.7 L476.0,764.8 L476.5,769.8 L477.0,774.7 L477.5,779.3 L478.0,783.6 L478.5,788.0 L479.0,791.8 L479.5,794.6 L480.0,796.6 L480.5,798.2 L481.0,799.0 L481.5,799.4 L482.0,799.7 L482.5,799.9 L483.0,800.1 L483.5,800.2 L484.0,800.2" fill="none" stroke="#2b4a82" stroke-width="1.15" stroke-linejoin="round"/>
<path d="M417.0,800.2 L417.5,800.2 L418.0,800.1 L418.5,800.0 L419.0,799.8 L419.5,799.6 L420.0,799.4 L420.5,799.1 L421.0,798.6 L421.5,798.0 L422.0,797.2 L422.5,796.4 L423.0,795.4 L423.5,794.2 L424.0,792.5 L424.5,790.5 L425.0,788.4 L425.5,786.2 L426.0,783.8 L426.5,781.2 L427.0,778.4 L427.5,775.4 L428.0,772.2 L428.5,768.8 L429.0,765.0 L429.5,760.9 L430.0,756.4 L430.5,751.5 L431.0,746.0 L431.5,740.3 L432.0,734.1 L432.5,728.3 L433.0,722.6 L433.5,720.5 L434.0,724.9 L434.5,730.4 L435.0,736.5 L435.5,742.7 L436.0,748.5 L436.5,754.3 L437.0,760.2 L437.5,766.6 L438.0,773.2 L438.5,779.4 L439.0,785.6 L439.5,791.3 L440.0,795.1 L440.5,798.0 L441.0,799.4 L441.5,799.7 L442.0,800.0 L442.5,800.1 L443.0,800.2 Z" fill="#b7d592" stroke="none" stroke-width="1" fill-opacity="0.9"/>
<line x1="351.0" y1="799.7" x2="497.0" y2="799.7" stroke="#b5122f" stroke-width="1.2" stroke-dasharray="0.1,4.3" stroke-linecap="round"/>
<path d="M433.0,800.2 L433.5,800.2 L434.0,800.1 L434.5,800.0 L435.0,799.9 L435.5,799.7 L436.0,799.5 L436.5,799.3 L437.0,799.0 L437.5,798.4 L438.0,797.4 L438.5,795.9 L439.0,794.1 L439.5,792.2 L440.0,789.7 L440.5,786.3 L441.0,782.5 L441.5,778.6 L442.0,774.6 L442.5,770.3 L443.0,765.8 L443.5,761.2 L444.0,756.4 L444.5,751.6 L445.0,746.8 L445.5,741.9 L446.0,737.2 L446.5,733.1 L447.0,729.0 L447.5,724.8 L448.0,721.6 L448.5,720.3 L449.0,721.9 L449.5,725.8 L450.0,730.5 L450.5,734.7 L451.0,738.9 L451.5,743.4 L452.0,748.0 L452.5,752.5 L453.0,757.1 L453.5,761.6 L454.0,765.8 L454.5,769.7 L455.0,773.3 L455.5,776.8 L456.0,780.2 L456.5,783.7 L457.0,787.3 L457.5,790.5 L458.0,793.0 L458.5,795.0 L459.0,796.8 L459.5,798.2 L460.0,799.0 L460.5,799.3 L461.0,799.6 L461.5,799.9 L462.0,800.1 L462.5,800.2 L463.0,800.2" fill="none" stroke="#b5122f" stroke-width="1.9" stroke-dasharray="0.1,4.3" stroke-linecap="round" stroke-linejoin="round"/>
<rect x="351.0" y="715.9" width="146.0" height="84.30000000000007" fill="none" stroke="#111" stroke-width="1.5"/>
<path d="M362.0,800.2v1.6M368.4,800.2v1.6M373.0,800.2v1.6M376.5,800.2v1.6M379.4,800.2v1.6M381.8,800.2v1.6M384.0,800.2v1.6M385.8,800.2v1.6M398.5,800.2v1.6M404.9,800.2v1.6M409.5,800.2v1.6M413.0,800.2v1.6M415.9,800.2v1.6M418.3,800.2v1.6M420.5,800.2v1.6M422.3,800.2v1.6M435.0,800.2v1.6M441.4,800.2v1.6M446.0,800.2v1.6M449.5,800.2v1.6M452.4,800.2v1.6M454.8,800.2v1.6M457.0,800.2v1.6M458.8,800.2v1.6M471.5,800.2v1.6M477.9,800.2v1.6M482.5,800.2v1.6M486.0,800.2v1.6M488.9,800.2v1.6M491.3,800.2v1.6M493.5,800.2v1.6M495.3,800.2v1.6M351.0,800.2v2.6M387.5,800.2v2.6M424.0,800.2v2.6M460.5,800.2v2.6M497.0,800.2v2.6M351.0,800.2h-1.5M351.0,796.2h-1.5M351.0,792.2h-1.5M351.0,788.2h-1.5M351.0,784.2h-1.5M351.0,780.2h-1.5M351.0,776.2h-1.5M351.0,772.2h-1.5M351.0,768.2h-1.5M351.0,764.2h-1.5M351.0,760.2h-1.5M351.0,756.3h-1.5M351.0,752.3h-1.5M351.0,748.3h-1.5M351.0,744.3h-1.5M351.0,740.3h-1.5M351.0,736.3h-1.5M351.0,732.3h-1.5M351.0,728.3h-1.5M351.0,724.3h-1.5M351.0,720.3h-1.5" fill="none" stroke="#111" stroke-width="0.6"/>
<text x="351.5" y="812.8000000000001" font-size="8" text-anchor="middle" fill="#333333">10<tspan font-size="5.5" dy="-3.2">0</tspan></text>
<text x="388.0" y="812.8000000000001" font-size="8" text-anchor="middle" fill="#333333">10<tspan font-size="5.5" dy="-3.2">1</tspan></text>
<text x="424.5" y="812.8000000000001" font-size="8" text-anchor="middle" fill="#333333">10<tspan font-size="5.5" dy="-3.2">2</tspan></text>
<text x="461.0" y="812.8000000000001" font-size="8" text-anchor="middle" fill="#333333">10<tspan font-size="5.5" dy="-3.2">3</tspan></text>
<text x="497.5" y="812.8000000000001" font-size="8" text-anchor="middle" fill="#333333">10<tspan font-size="5.5" dy="-3.2">4</tspan></text>
<line x1="348.0" y1="720.3" x2="351.0" y2="720.3" stroke="#1a1a1a" stroke-width="1"/>
<text x="345.7" y="723.3" font-size="8.4" text-anchor="end" fill="#333333">100</text>
<line x1="348.0" y1="736.28" x2="351.0" y2="736.28" stroke="#1a1a1a" stroke-width="1"/>
<text x="345.7" y="739.28" font-size="8.4" text-anchor="end" fill="#333333">80</text>
<line x1="348.0" y1="752.26" x2="351.0" y2="752.26" stroke="#1a1a1a" stroke-width="1"/>
<text x="345.7" y="755.26" font-size="8.4" text-anchor="end" fill="#333333">60</text>
<line x1="348.0" y1="768.24" x2="351.0" y2="768.24" stroke="#1a1a1a" stroke-width="1"/>
<text x="345.7" y="771.24" font-size="8.4" text-anchor="end" fill="#333333">40</text>
<line x1="348.0" y1="784.22" x2="351.0" y2="784.22" stroke="#1a1a1a" stroke-width="1"/>
<text x="345.7" y="787.22" font-size="8.4" text-anchor="end" fill="#333333">20</text>
<line x1="348.0" y1="800.2" x2="351.0" y2="800.2" stroke="#1a1a1a" stroke-width="1"/>
<text x="345.7" y="803.2" font-size="8.4" text-anchor="end" fill="#333333">0</text>
<text x="325.8" y="758.05" font-size="8.7" text-anchor="middle" transform="rotate(-90 325.8 758.05)" textLength="27.5" lengthAdjust="spacingAndGlyphs" fill="#2a2a2a" stroke="#2a2a2a" stroke-width="0.28">% of Max</text>
<text x="364.5" y="732" font-size="8" textLength="18.5" lengthAdjust="spacingAndGlyphs" fill="#333333">p-AKT</text>
<path d="M411.0,903.6 L411.5,903.4 L412.0,903.2 L412.5,903.0 L413.0,902.8 L413.5,902.6 L414.0,902.4 L414.5,902.2 L415.0,902.0 L415.5,901.8 L416.0,901.6 L416.5,901.5 L417.0,901.3 L417.5,901.1 L418.0,900.9 L418.5,900.7 L419.0,900.4 L419.5,900.1 L420.0,899.8 L420.5,899.4 L421.0,898.9 L421.5,898.4 L422.0,897.9 L422.5,897.2 L423.0,896.3 L423.5,895.1 L424.0,893.7 L424.5,892.3 L425.0,890.8 L425.5,889.3 L426.0,887.7 L426.5,886.1 L427.0,884.4 L427.5,882.8 L428.0,881.2 L428.5,879.7 L429.0,878.1 L429.5,876.4 L430.0,874.5 L430.5,872.4 L431.0,870.2 L431.5,867.7 L432.0,864.8 L432.5,861.8 L433.0,858.8 L433.5,855.3 L434.0,852.2 L434.5,851.2 L435.0,850.9 L435.5,850.6 L436.0,850.2 L436.5,849.2 L437.0,846.9 L437.5,844.4 L438.0,842.2 L438.5,840.0 L439.0,838.0 L439.5,836.1 L440.0,834.2 L440.5,832.4 L441.0,830.8 L441.5,829.2 L442.0,827.4 L442.5,825.8 L443.0,824.5 L443.5,823.7 L444.0,823.9 L444.5,826.6 L445.0,830.0 L445.5,832.8 L446.0,835.9 L446.5,839.4 L447.0,843.4 L447.5,847.6 L448.0,852.2 L448.5,857.0 L449.0,861.2 L449.5,865.3 L450.0,869.1 L450.5,872.7 L451.0,876.0 L451.5,878.9 L452.0,881.5 L452.5,883.9 L453.0,886.0 L453.5,887.8 L454.0,889.5 L454.5,891.0 L455.0,892.4 L455.5,893.8 L456.0,895.1 L456.5,896.2 L457.0,897.2 L457.5,898.0 L458.0,898.6 L458.5,899.2 L459.0,899.8 L459.5,900.4 L460.0,901.0 L460.5,901.5 L461.0,902.0 L461.5,902.4 L462.0,902.8 L462.5,903.1 L463.0,903.4 L463.5,903.6 Z" fill="#efc6bf" stroke="none" stroke-width="1"/>
<path d="M446.0,903.6 L446.5,903.5 L447.0,903.4 L447.5,903.2 L448.0,902.9 L448.5,902.6 L449.0,902.3 L449.5,901.8 L450.0,901.2 L450.5,900.5 L451.0,899.6 L451.5,898.4 L452.0,896.8 L452.5,894.8 L453.0,892.1 L453.5,888.6 L454.0,884.4 L454.5,878.9 L455.0,872.4 L455.5,865.7 L456.0,858.8 L456.5,851.9 L457.0,845.2 L457.5,838.3 L458.0,831.9 L458.5,827.4 L459.0,824.0 L459.5,824.5 L460.0,828.6 L460.5,833.9 L461.0,841.8 L461.5,850.5 L462.0,860.0 L462.5,869.0 L463.0,877.2 L463.5,883.8 L464.0,889.2 L464.5,893.8 L465.0,897.2 L465.5,899.2 L466.0,900.6 L466.5,901.5 L467.0,902.2 L467.5,902.7 L468.0,903.0 L468.5,903.1 L469.0,903.3 L469.5,903.4 L470.0,903.5 L470.5,903.6 L471.0,903.6" fill="none" stroke="#2b4a82" stroke-width="1.15" stroke-linejoin="round"/>
<path d="M351.0,902.0 L351.5,901.8 L352.0,901.7 L352.5,901.5 L353.0,901.3 L353.5,901.1 L354.0,900.9 L354.5,900.6 L355.0,900.4 L355.5,900.1 L356.0,899.9 L356.5,899.6 L357.0,899.3 L357.5,898.9 L358.0,898.6 L358.5,898.3 L359.0,897.9 L359.5,897.6 L360.0,897.2 L360.5,896.8 L361.0,896.5 L361.5,896.1 L362.0,895.6 L362.5,895.2 L363.0,894.8 L363.5,894.4 L364.0,894.0 L364.5,893.6 L365.0,893.2 L365.5,892.8 L366.0,892.5 L366.5,892.2 L367.0,892.0 L367.5,891.8 L368.0,891.6 L368.5,891.4 L369.0,891.2 L369.5,891.0 L370.0,890.7 L370.5,890.5 L371.0,890.1 L371.5,889.7 L372.0,889.1 L372.5,888.4 L373.0,887.6 L373.5,886.8 L374.0,885.8 L374.5,884.9 L375.0,884.4 L375.5,884.8 L376.0,885.6 L376.5,886.4 L377.0,886.8 L377.5,886.8 L378.0,886.8 L378.5,886.8 L379.0,886.6 L379.5,884.5 L380.0,881.3 L380.5,878.0 L381.0,874.5 L381.5,870.5 L382.0,867.1 L382.5,865.2 L383.0,864.6 L383.5,864.3 L384.0,864.0 L384.5,863.6 L385.0,863.2 L385.5,862.8 L386.0,862.3 L386.5,861.4 L387.0,859.8 L387.5,857.8 L388.0,855.5 L388.5,853.5 L389.0,851.8 L389.5,850.4 L390.0,849.1 L390.5,847.6 L391.0,845.7 L391.5,843.5 L392.0,841.4 L392.5,839.6 L393.0,838.3 L393.5,837.2 L394.0,836.2 L394.5,835.1 L395.0,834.0 L395.5,832.8 L396.0,831.5 L396.5,830.0 L397.0,827.6 L397.5,824.9 L398.0,823.6 L398.5,825.3 L399.0,828.4 L399.5,831.2 L400.0,834.2 L400.5,837.2 L401.0,840.1 L401.5,843.0 L402.0,846.0 L402.5,849.1 L403.0,852.2 L403.5,855.3 L404.0,858.4 L404.5,861.5 L405.0,864.6 L405.5,867.6 L406.0,870.6 L406.5,873.6 L407.0,876.5 L407.5,879.6 L408.0,882.8 L408.5,886.1 L409.0,889.2 L409.5,892.2 L410.0,894.9 L410.5,897.2 L411.0,899.0 L411.5,900.7 L412.0,902.0 L412.5,902.8 L413.0,903.2 L413.5,903.5 L414.0,903.6 Z" fill="#b7d592" stroke="none" stroke-width="1" fill-opacity="0.9"/>
<line x1="351.0" y1="903.1" x2="497.0" y2="903.1" stroke="#b5122f" stroke-width="1.2" stroke-dasharray="0.1,4.3" stroke-linecap="round"/>
<path d="M411.0,903.6 L411.5,903.4 L412.0,903.2 L412.5,903.0 L413.0,902.8 L413.5,902.6 L414.0,902.4 L414.5,902.2 L415.0,902.0 L415.5,901.8 L416.0,901.6 L416.5,901.5 L417.0,901.3 L417.5,901.1 L418.0,900.9 L418.5,900.7 L419.0,900.4 L419.5,900.1 L420.0,899.8 L420.5,899.4 L421.0,898.9 L421.5,898.4 L422.0,897.9 L422.5,897.2 L423.0,896.3 L423.5,895.1 L424.0,893.7 L424.5,892.3 L425.0,890.8 L425.5,889.3 L426.0,887.7 L426.5,886.1 L427.0,884.4 L427.5,882.8 L428.0,881.2 L428.5,879.7 L429.0,878.1 L429.5,876.4 L430.0,874.5 L430.5,872.4 L431.0,870.2 L431.5,867.7 L432.0,864.8 L432.5,861.8 L433.0,858.8 L433.5,855.3 L434.0,852.2 L434.5,851.2 L435.0,850.9 L435.5,850.6 L436.0,850.2 L436.5,849.2 L437.0,846.9 L437.5,844.4 L438.0,842.2 L438.5,840.0 L439.0,838.0 L439.5,836.1 L440.0,834.2 L440.5,832.4 L441.0,830.8 L441.5,829.2 L442.0,827.4 L442.5,825.8 L443.0,824.5 L443.5,823.7 L444.0,823.9 L444.5,826.6 L445.0,830.0 L445.5,832.8 L446.0,835.9 L446.5,839.4 L447.0,843.4 L447.5,847.6 L448.0,852.2 L448.5,857.0 L449.0,861.2 L449.5,865.3 L450.0,869.1 L450.5,872.7 L451.0,876.0 L451.5,878.9 L452.0,881.5 L452.5,883.9 L453.0,886.0 L453.5,887.8 L454.0,889.5 L454.5,891.0 L455.0,892.4 L455.5,893.8 L456.0,895.1 L456.5,896.2 L457.0,897.2 L457.5,898.0 L458.0,898.6 L458.5,899.2 L459.0,899.8 L459.5,900.4 L460.0,901.0 L460.5,901.5 L461.0,902.0 L461.5,902.4 L462.0,902.8 L462.5,903.1 L463.0,903.4 L463.5,903.6" fill="none" stroke="#b5122f" stroke-width="1.9" stroke-dasharray="0.1,4.3" stroke-linecap="round" stroke-linejoin="round"/>
<rect x="351.0" y="819.4" width="146.0" height="84.20000000000005" fill="none" stroke="#111" stroke-width="1.5"/>
<path d="M362.0,903.6v1.6M368.4,903.6v1.6M373.0,903.6v1.6M376.5,903.6v1.6M379.4,903.6v1.6M381.8,903.6v1.6M384.0,903.6v1.6M385.8,903.6v1.6M398.5,903.6v1.6M404.9,903.6v1.6M409.5,903.6v1.6M413.0,903.6v1.6M415.9,903.6v1.6M418.3,903.6v1.6M420.5,903.6v1.6M422.3,903.6v1.6M435.0,903.6v1.6M441.4,903.6v1.6M446.0,903.6v1.6M449.5,903.6v1.6M452.4,903.6v1.6M454.8,903.6v1.6M457.0,903.6v1.6M458.8,903.6v1.6M471.5,903.6v1.6M477.9,903.6v1.6M482.5,903.6v1.6M486.0,903.6v1.6M488.9,903.6v1.6M491.3,903.6v1.6M493.5,903.6v1.6M495.3,903.6v1.6M351.0,903.6v2.6M387.5,903.6v2.6M424.0,903.6v2.6M460.5,903.6v2.6M497.0,903.6v2.6M351.0,903.6h-1.5M351.0,899.6h-1.5M351.0,895.6h-1.5M351.0,891.6h-1.5M351.0,887.6h-1.5M351.0,883.6h-1.5M351.0,879.6h-1.5M351.0,875.6h-1.5M351.0,871.6h-1.5M351.0,867.6h-1.5M351.0,863.6h-1.5M351.0,859.6h-1.5M351.0,855.6h-1.5M351.0,851.6h-1.5M351.0,847.6h-1.5M351.0,843.6h-1.5M351.0,839.6h-1.5M351.0,835.6h-1.5M351.0,831.6h-1.5M351.0,827.6h-1.5M351.0,823.6h-1.5" fill="none" stroke="#111" stroke-width="0.6"/>
<text x="351.5" y="916.2" font-size="8" text-anchor="middle" fill="#333333">10<tspan font-size="5.5" dy="-3.2">0</tspan></text>
<text x="388.0" y="916.2" font-size="8" text-anchor="middle" fill="#333333">10<tspan font-size="5.5" dy="-3.2">1</tspan></text>
<text x="424.5" y="916.2" font-size="8" text-anchor="middle" fill="#333333">10<tspan font-size="5.5" dy="-3.2">2</tspan></text>
<text x="461.0" y="916.2" font-size="8" text-anchor="middle" fill="#333333">10<tspan font-size="5.5" dy="-3.2">3</tspan></text>
<text x="497.5" y="916.2" font-size="8" text-anchor="middle" fill="#333333">10<tspan font-size="5.5" dy="-3.2">4</tspan></text>
<line x1="348.0" y1="823.6" x2="351.0" y2="823.6" stroke="#1a1a1a" stroke-width="1"/>
<text x="345.7" y="826.6" font-size="8.4" text-anchor="end" fill="#333333">100</text>
<line x1="348.0" y1="839.6" x2="351.0" y2="839.6" stroke="#1a1a1a" stroke-width="1"/>
<text x="345.7" y="842.6" font-size="8.4" text-anchor="end" fill="#333333">80</text>
<line x1="348.0" y1="855.6" x2="351.0" y2="855.6" stroke="#1a1a1a" stroke-width="1"/>
<text x="345.7" y="858.6" font-size="8.4" text-anchor="end" fill="#333333">60</text>
<line x1="348.0" y1="871.6" x2="351.0" y2="871.6" stroke="#1a1a1a" stroke-width="1"/>
<text x="345.7" y="874.6" font-size="8.4" text-anchor="end" fill="#333333">40</text>
<line x1="348.0" y1="887.6" x2="351.0" y2="887.6" stroke="#1a1a1a" stroke-width="1"/>
<text x="345.7" y="890.6" font-size="8.4" text-anchor="end" fill="#333333">20</text>
<line x1="348.0" y1="903.6" x2="351.0" y2="903.6" stroke="#1a1a1a" stroke-width="1"/>
<text x="345.7" y="906.6" font-size="8.4" text-anchor="end" fill="#333333">0</text>
<text x="325.8" y="861.5" font-size="8.7" text-anchor="middle" transform="rotate(-90 325.8 861.5)" textLength="27.5" lengthAdjust="spacingAndGlyphs" fill="#2a2a2a" stroke="#2a2a2a" stroke-width="0.28">% of Max</text>
<text x="367" y="838" font-size="8" textLength="14.5" lengthAdjust="spacingAndGlyphs" fill="#333333">p-S6</text>
<path d="M415.0,1006.9 L415.5,1006.9 L416.0,1006.8 L416.5,1006.6 L417.0,1006.4 L417.5,1006.2 L418.0,1005.9 L418.5,1005.5 L419.0,1005.1 L419.5,1004.1 L420.0,1002.7 L420.5,1001.1 L421.0,998.9 L421.5,996.1 L422.0,992.0 L422.5,987.6 L423.0,982.8 L423.5,977.8 L424.0,972.5 L424.5,966.8 L425.0,960.7 L425.5,955.1 L426.0,949.6 L426.5,944.3 L427.0,939.2 L427.5,934.4 L428.0,930.8 L428.5,927.9 L429.0,927.3 L429.5,927.6 L430.0,927.9 L430.5,928.1 L431.0,927.9 L431.5,927.5 L432.0,927.3 L432.5,930.5 L433.0,935.7 L433.5,941.7 L434.0,948.4 L434.5,956.1 L435.0,963.3 L435.5,970.3 L436.0,976.9 L436.5,983.0 L437.0,988.7 L437.5,993.4 L438.0,996.9 L438.5,999.6 L439.0,1001.7 L439.5,1003.4 L440.0,1004.5 L440.5,1005.2 L441.0,1005.7 L441.5,1006.2 L442.0,1006.4 L442.5,1006.6 L443.0,1006.8 L443.5,1006.9 L444.0,1006.9 Z" fill="#efc6bf" stroke="none" stroke-width="1"/>
<path d="M427.0,1006.9 L427.5,1006.9 L428.0,1006.7 L428.5,1006.5 L429.0,1006.2 L429.5,1005.8 L430.0,1005.3 L430.5,1004.3 L431.0,1002.6 L431.5,1000.4 L432.0,997.3 L432.5,993.4 L433.0,988.3 L433.5,982.2 L434.0,975.2 L434.5,967.9 L435.0,961.2 L435.5,954.7 L436.0,948.3 L436.5,942.7 L437.0,937.7 L437.5,933.9 L438.0,930.9 L438.5,929.0 L439.0,927.6 L439.5,927.7 L440.0,931.2 L440.5,935.8 L441.0,942.1 L441.5,949.1 L442.0,956.8 L442.5,964.9 L443.0,972.7 L443.5,979.1 L444.0,984.6 L444.5,989.4 L445.0,993.4 L445.5,996.5 L446.0,999.0 L446.5,1000.7 L447.0,1001.9 L447.5,1002.9 L448.0,1003.9 L448.5,1004.7 L449.0,1005.3 L449.5,1005.7 L450.0,1006.0 L450.5,1006.3 L451.0,1006.4 L451.5,1006.5 L452.0,1006.7 L452.5,1006.8 L453.0,1006.8 L453.5,1006.9 L454.0,1006.9" fill="none" stroke="#2b4a82" stroke-width="1.15" stroke-linejoin="round"/>
<path d="M351.0,1006.1 L351.5,1006.0 L352.0,1005.9 L352.5,1005.8 L353.0,1005.7 L353.5,1005.6 L354.0,1005.5 L354.5,1005.4 L355.0,1005.3 L355.5,1005.2 L356.0,1005.1 L356.5,1005.1 L357.0,1005.0 L357.5,1004.9 L358.0,1004.9 L358.5,1004.8 L359.0,1004.7 L359.5,1004.6 L360.0,1004.5 L360.5,1004.4 L361.0,1004.3 L361.5,1004.1 L362.0,1004.0 L362.5,1003.8 L363.0,1003.6 L363.5,1003.5 L364.0,1003.3 L364.5,1003.1 L365.0,1002.9 L365.5,1002.7 L366.0,1002.5 L366.5,1002.3 L367.0,1002.2 L367.5,1002.1 L368.0,1002.2 L368.5,1002.5 L369.0,1002.8 L369.5,1003.1 L370.0,1003.3 L370.5,1003.5 L371.0,1003.7 L371.5,1003.9 L372.0,1004.1 L372.5,1004.1 L373.0,1004.0 L373.5,1003.8 L374.0,1003.5 L374.5,1003.2 L375.0,1002.9 L375.5,1002.7 L376.0,1002.4 L376.5,1002.1 L377.0,1001.7 L377.5,1001.3 L378.0,1000.8 L378.5,1000.0 L379.0,999.2 L379.5,998.1 L380.0,996.8 L380.5,995.1 L381.0,993.3 L381.5,991.5 L382.0,989.5 L382.5,987.5 L383.0,985.5 L383.5,983.8 L384.0,982.6 L384.5,981.5 L385.0,980.6 L385.5,979.8 L386.0,979.2 L386.5,978.6 L387.0,978.0 L387.5,977.4 L388.0,976.9 L388.5,976.3 L389.0,975.7 L389.5,975.1 L390.0,974.3 L390.5,973.3 L391.0,972.3 L391.5,971.2 L392.0,969.8 L392.5,968.4 L393.0,967.1 L393.5,965.9 L394.0,964.8 L394.5,963.7 L395.0,962.3 L395.5,960.8 L396.0,959.0 L396.5,957.1 L397.0,955.0 L397.5,952.8 L398.0,950.4 L398.5,947.7 L399.0,944.8 L399.5,941.0 L400.0,937.6 L400.5,935.7 L401.0,934.2 L401.5,932.9 L402.0,931.5 L402.5,930.5 L403.0,929.9 L403.5,929.4 L404.0,928.9 L404.5,927.9 L405.0,927.3 L405.5,929.6 L406.0,933.7 L406.5,937.8 L407.0,942.4 L407.5,947.3 L408.0,952.3 L408.5,957.5 L409.0,962.7 L409.5,967.9 L410.0,972.9 L410.5,977.8 L411.0,982.5 L411.5,987.2 L412.0,991.0 L412.5,993.6 L413.0,995.7 L413.5,997.3 L414.0,998.7 L414.5,999.8 L415.0,1000.5 L415.5,1001.1 L416.0,1001.5 L416.5,1001.8 L417.0,1002.1 L417.5,1002.4 L418.0,1002.6 L418.5,1002.8 L419.0,1003.0 L419.5,1003.3 L420.0,1003.7 L420.5,1004.0 L421.0,1004.4 L421.5,1004.7 L422.0,1005.0 L422.5,1005.4 L423.0,1005.7 L423.5,1006.0 L424.0,1006.3 L424.5,1006.6 L425.0,1006.9 Z" fill="#b7d592" stroke="none" stroke-width="1" fill-opacity="0.9"/>
<line x1="351.0" y1="1006.4" x2="497.0" y2="1006.4" stroke="#b5122f" stroke-width="1.2" stroke-dasharray="0.1,4.3" stroke-linecap="round"/>
<path d="M415.0,1006.9 L415.5,1006.9 L416.0,1006.8 L416.5,1006.6 L417.0,1006.4 L417.5,1006.2 L418.0,1005.9 L418.5,1005.5 L419.0,1005.1 L419.5,1004.1 L420.0,1002.7 L420.5,1001.1 L421.0,998.9 L421.5,996.1 L422.0,992.0 L422.5,987.6 L423.0,982.8 L423.5,977.8 L424.0,972.5 L424.5,966.8 L425.0,960.7 L425.5,955.1 L426.0,949.6 L426.5,944.3 L427.0,939.2 L427.5,934.4 L428.0,930.8 L428.5,927.9 L429.0,927.3 L429.5,927.6 L430.0,927.9 L430.5,928.1 L431.0,927.9 L431.5,927.5 L432.0,927.3 L432.5,930.5 L433.0,935.7 L433.5,941.7 L434.0,948.4 L434.5,956.1 L435.0,963.3 L435.5,970.3 L436.0,976.9 L436.5,983.0 L437.0,988.7 L437.5,993.4 L438.0,996.9 L438.5,999.6 L439.0,1001.7 L439.5,1003.4 L440.0,1004.5 L440.5,1005.2 L441.0,1005.7 L441.5,1006.2 L442.0,1006.4 L442.5,1006.6 L443.0,1006.8 L443.5,1006.9 L444.0,1006.9" fill="none" stroke="#b5122f" stroke-width="1.9" stroke-dasharray="0.1,4.3" stroke-linecap="round" stroke-linejoin="round"/>
<rect x="351.0" y="922.9" width="146.0" height="84.0" fill="none" stroke="#111" stroke-width="1.5"/>
<path d="M362.0,1006.9v1.6M368.4,1006.9v1.6M373.0,1006.9v1.6M376.5,1006.9v1.6M379.4,1006.9v1.6M381.8,1006.9v1.6M384.0,1006.9v1.6M385.8,1006.9v1.6M398.5,1006.9v1.6M404.9,1006.9v1.6M409.5,1006.9v1.6M413.0,1006.9v1.6M415.9,1006.9v1.6M418.3,1006.9v1.6M420.5,1006.9v1.6M422.3,1006.9v1.6M435.0,1006.9v1.6M441.4,1006.9v1.6M446.0,1006.9v1.6M449.5,1006.9v1.6M452.4,1006.9v1.6M454.8,1006.9v1.6M457.0,1006.9v1.6M458.8,1006.9v1.6M471.5,1006.9v1.6M477.9,1006.9v1.6M482.5,1006.9v1.6M486.0,1006.9v1.6M488.9,1006.9v1.6M491.3,1006.9v1.6M493.5,1006.9v1.6M495.3,1006.9v1.6M351.0,1006.9v2.6M387.5,1006.9v2.6M424.0,1006.9v2.6M460.5,1006.9v2.6M497.0,1006.9v2.6M351.0,1006.9h-1.5M351.0,1002.9h-1.5M351.0,998.9h-1.5M351.0,995.0h-1.5M351.0,991.0h-1.5M351.0,987.0h-1.5M351.0,983.0h-1.5M351.0,979.0h-1.5M351.0,975.1h-1.5M351.0,971.1h-1.5M351.0,967.1h-1.5M351.0,963.1h-1.5M351.0,959.1h-1.5M351.0,955.2h-1.5M351.0,951.2h-1.5M351.0,947.2h-1.5M351.0,943.2h-1.5M351.0,939.2h-1.5M351.0,935.3h-1.5M351.0,931.3h-1.5M351.0,927.3h-1.5" fill="none" stroke="#111" stroke-width="0.6"/>
<text x="351.5" y="1019.5" font-size="8" text-anchor="middle" fill="#333333">10<tspan font-size="5.5" dy="-3.2">0</tspan></text>
<text x="388.0" y="1019.5" font-size="8" text-anchor="middle" fill="#333333">10<tspan font-size="5.5" dy="-3.2">1</tspan></text>
<text x="424.5" y="1019.5" font-size="8" text-anchor="middle" fill="#333333">10<tspan font-size="5.5" dy="-3.2">2</tspan></text>
<text x="461.0" y="1019.5" font-size="8" text-anchor="middle" fill="#333333">10<tspan font-size="5.5" dy="-3.2">3</tspan></text>
<text x="497.5" y="1019.5" font-size="8" text-anchor="middle" fill="#333333">10<tspan font-size="5.5" dy="-3.2">4</tspan></text>
<line x1="348.0" y1="927.3" x2="351.0" y2="927.3" stroke="#1a1a1a" stroke-width="1"/>
<text x="345.7" y="930.3" font-size="8.4" text-anchor="end" fill="#333333">100</text>
<line x1="348.0" y1="943.2199999999999" x2="351.0" y2="943.2199999999999" stroke="#1a1a1a" stroke-width="1"/>
<text x="345.7" y="946.2199999999999" font-size="8.4" text-anchor="end" fill="#333333">80</text>
<line x1="348.0" y1="959.14" x2="351.0" y2="959.14" stroke="#1a1a1a" stroke-width="1"/>
<text x="345.7" y="962.14" font-size="8.4" text-anchor="end" fill="#333333">60</text>
<line x1="348.0" y1="975.06" x2="351.0" y2="975.06" stroke="#1a1a1a" stroke-width="1"/>
<text x="345.7" y="978.06" font-size="8.4" text-anchor="end" fill="#333333">40</text>
<line x1="348.0" y1="990.98" x2="351.0" y2="990.98" stroke="#1a1a1a" stroke-width="1"/>
<text x="345.7" y="993.98" font-size="8.4" text-anchor="end" fill="#333333">20</text>
<line x1="348.0" y1="1006.9" x2="351.0" y2="1006.9" stroke="#1a1a1a" stroke-width="1"/>
<text x="345.7" y="1009.9" font-size="8.4" text-anchor="end" fill="#333333">0</text>
<text x="325.8" y="964.9" font-size="8.7" text-anchor="middle" transform="rotate(-90 325.8 964.9)" textLength="27.5" lengthAdjust="spacingAndGlyphs" fill="#2a2a2a" stroke="#2a2a2a" stroke-width="0.28">% of Max</text>
<text x="361.5" y="941" font-size="8" textLength="26.5" lengthAdjust="spacingAndGlyphs" fill="#333333">p-mTOR</text>
<line x1="357" y1="1036.5" x2="357" y2="1204.0" stroke="#1a1a1a" stroke-width="1.5"/>
<line x1="356.3" y1="1203.3" x2="501.2" y2="1203.3" stroke="#1a1a1a" stroke-width="1.5"/>
<line x1="353.5" y1="1040.0" x2="357" y2="1040.0" stroke="#1a1a1a" stroke-width="1.2"/>
<text x="350.5" y="1043.05" font-size="8.5" text-anchor="end" textLength="18.3" lengthAdjust="spacingAndGlyphs" fill="#333333">3000</text>
<line x1="353.5" y1="1067.2" x2="357" y2="1067.2" stroke="#1a1a1a" stroke-width="1.2"/>
<text x="350.5" y="1070.25" font-size="8.5" text-anchor="end" textLength="18.3" lengthAdjust="spacingAndGlyphs" fill="#333333">2500</text>
<line x1="353.5" y1="1094.4" x2="357" y2="1094.4" stroke="#1a1a1a" stroke-width="1.2"/>
<text x="350.5" y="1097.45" font-size="8.5" text-anchor="end" textLength="18.3" lengthAdjust="spacingAndGlyphs" fill="#333333">2000</text>
<line x1="353.5" y1="1121.6" x2="357" y2="1121.6" stroke="#1a1a1a" stroke-width="1.2"/>
<text x="350.5" y="1124.6499999999999" font-size="8.5" text-anchor="end" textLength="18.3" lengthAdjust="spacingAndGlyphs" fill="#333333">1500</text>
<line x1="353.5" y1="1148.8" x2="357" y2="1148.8" stroke="#1a1a1a" stroke-width="1.2"/>
<text x="350.5" y="1151.85" font-size="8.5" text-anchor="end" textLength="18.3" lengthAdjust="spacingAndGlyphs" fill="#333333">1000</text>
<line x1="353.5" y1="1176.0" x2="357" y2="1176.0" stroke="#1a1a1a" stroke-width="1.2"/>
<text x="350.5" y="1179.05" font-size="8.5" text-anchor="end" textLength="13.7" lengthAdjust="spacingAndGlyphs" fill="#333333">500</text>
<line x1="353.5" y1="1203.2" x2="357" y2="1203.2" stroke="#1a1a1a" stroke-width="1.2"/>
<text x="350.5" y="1206.25" font-size="8.5" text-anchor="end" fill="#333333">0</text>
<line x1="392.8" y1="1203.3" x2="392.8" y2="1206.8" stroke="#1a1a1a" stroke-width="1"/>
<line x1="428.6" y1="1203.3" x2="428.6" y2="1206.8" stroke="#1a1a1a" stroke-width="1"/>
<line x1="464.4" y1="1203.3" x2="464.4" y2="1206.8" stroke="#1a1a1a" stroke-width="1"/>
<line x1="500.4" y1="1203.3" x2="500.4" y2="1206.8" stroke="#1a1a1a" stroke-width="1"/>
<line x1="368.5" y1="1202.3" x2="368.5" y2="1200" stroke="#1b1b26" stroke-width="1.15"/>
<line x1="366.5" y1="1200" x2="370.5" y2="1200" stroke="#1b1b26" stroke-width="1.15"/>
<rect x="363" y="1202.3" width="11" height="1.0" fill="#b00a2e"/>
<line x1="379.5" y1="1202.6" x2="379.5" y2="1201.6" stroke="#1b1b26" stroke-width="1.15"/>
<line x1="377.5" y1="1201.6" x2="381.5" y2="1201.6" stroke="#1b1b26" stroke-width="1.15"/>
<rect x="374" y="1202.6" width="11" height="0.7000000000000455" fill="#2d4c86"/>
<line x1="405.0" y1="1196.5" x2="405.0" y2="1194" stroke="#1b1b26" stroke-width="1.15"/>
<line x1="403.0" y1="1194" x2="407.0" y2="1194" stroke="#1b1b26" stroke-width="1.15"/>
<rect x="399.5" y="1196.5" width="11.0" height="6.7999999999999545" fill="#b00a2e"/>
<line x1="415.75" y1="1171.5" x2="415.75" y2="1148" stroke="#1b1b26" stroke-width="1.15"/>
<line x1="413.25" y1="1148" x2="418.25" y2="1148" stroke="#1b1b26" stroke-width="1.15"/>
<rect x="410.5" y="1171.5" width="10.5" height="31.799999999999955" fill="#2d4c86"/>
<line x1="440.75" y1="1197.5" x2="440.75" y2="1194" stroke="#1b1b26" stroke-width="1.15"/>
<line x1="438.75" y1="1194" x2="442.75" y2="1194" stroke="#1b1b26" stroke-width="1.15"/>
<rect x="435.5" y="1197.5" width="10.5" height="5.7999999999999545" fill="#b00a2e"/>
<line x1="451.5" y1="1189" x2="451.5" y2="1181.5" stroke="#1b1b26" stroke-width="1.15"/>
<line x1="449.0" y1="1181.5" x2="454.0" y2="1181.5" stroke="#1b1b26" stroke-width="1.15"/>
<rect x="446" y="1189" width="11" height="14.299999999999955" fill="#2d4c86"/>
<line x1="476.5" y1="1164.5" x2="476.5" y2="1147" stroke="#1b1b26" stroke-width="1.15"/>
<line x1="474.0" y1="1147" x2="479.0" y2="1147" stroke="#1b1b26" stroke-width="1.15"/>
<rect x="471" y="1164.5" width="11" height="38.799999999999955" fill="#b00a2e"/>
<line x1="487.5" y1="1099" x2="487.5" y2="1059" stroke="#1b1b26" stroke-width="1.15"/>
<line x1="485.0" y1="1059" x2="490.0" y2="1059" stroke="#1b1b26" stroke-width="1.15"/>
<rect x="482" y="1099" width="11" height="104.29999999999995" fill="#2d4c86"/>
<rect x="368.5" y="1063" width="6" height="6.2" fill="#b00a2e"/>
<text x="377.5" y="1069" font-size="8" textLength="25.5" lengthAdjust="spacingAndGlyphs" fill="#333333">Healthy</text>
<rect x="368.5" y="1075" width="6" height="6.2" fill="#2d4c86"/>
<text x="377.5" y="1081" font-size="8" textLength="21.5" lengthAdjust="spacingAndGlyphs" fill="#333333">Tumor</text>
<text x="374.8" y="1216.5" font-size="8" text-anchor="middle" textLength="13.5" lengthAdjust="spacingAndGlyphs" fill="#333333">IDO</text>
<text x="410.5" y="1216.5" font-size="8" text-anchor="middle" textLength="17" lengthAdjust="spacingAndGlyphs" fill="#333333">p-S6</text>
<text x="445.7" y="1216.5" font-size="8" text-anchor="middle" textLength="28.5" lengthAdjust="spacingAndGlyphs" fill="#333333">p-mTOR</text>
<text x="481.5" y="1216.5" font-size="8" text-anchor="middle" textLength="21" lengthAdjust="spacingAndGlyphs" fill="#333333">p-AKT</text>
<text x="410.8" y="1144" font-size="8" transform="rotate(-90 410.8 1144)" textLength="23" lengthAdjust="spacingAndGlyphs" fill="#333333">p=0.03</text>
<text x="449.5" y="1174" font-size="8" transform="rotate(-90 449.5 1174)" textLength="23" lengthAdjust="spacingAndGlyphs" fill="#333333">p=0.03</text>
<text x="480" y="1087.5" font-size="8" transform="rotate(-90 480 1087.5)" textLength="23" lengthAdjust="spacingAndGlyphs" fill="#333333">p=0.02</text>
<text x="326" y="1123" font-size="8.7" text-anchor="middle" transform="rotate(-90 326 1123)" textLength="51" lengthAdjust="spacingAndGlyphs" fill="#2a2a2a" stroke="#2a2a2a" stroke-width="0.28">Δ MFI of marker</text>
<text x="7.5" y="776.5" font-size="10.5" font-weight="bold" fill="#000">H</text>
<line x1="59" y1="785" x2="59" y2="834" stroke="#1a1a1a" stroke-width="1.5"/>
<line x1="59" y1="846" x2="59" y2="963.2" stroke="#1a1a1a" stroke-width="1.5"/>
<line x1="55.5" y1="787.5" x2="59" y2="787.5" stroke="#1a1a1a" stroke-width="1.2"/>
<text x="53.5" y="790.55" font-size="8.5" text-anchor="end" fill="#333333">1500</text>
<line x1="55.5" y1="804.5" x2="59" y2="804.5" stroke="#1a1a1a" stroke-width="1.2"/>
<text x="53.5" y="807.55" font-size="8.5" text-anchor="end" fill="#333333">1000</text>
<line x1="55.5" y1="821" x2="59" y2="821" stroke="#1a1a1a" stroke-width="1.2"/>
<text x="53.5" y="824.05" font-size="8.5" text-anchor="end" fill="#333333">500</text>
<line x1="55.5" y1="833.5" x2="59" y2="833.5" stroke="#1a1a1a" stroke-width="1"/>
<line x1="55.5" y1="846.3" x2="59" y2="846.3" stroke="#1a1a1a" stroke-width="1.2"/>
<text x="53.5" y="849.3499999999999" font-size="8.5" text-anchor="end" fill="#333333">100</text>
<line x1="55.5" y1="904.3" x2="59" y2="904.3" stroke="#1a1a1a" stroke-width="1.2"/>
<text x="53.5" y="907.3499999999999" font-size="8.5" text-anchor="end" fill="#333333">50</text>
<line x1="55.5" y1="962.5" x2="59" y2="962.5" stroke="#1a1a1a" stroke-width="1.2"/>
<text x="53.5" y="965.55" font-size="8.5" text-anchor="end" fill="#333333">0</text>
<line x1="58.3" y1="962.5" x2="182" y2="962.5" stroke="#1a1a1a" stroke-width="1.5"/>
<line x1="89.5" y1="962.5" x2="89.5" y2="966" stroke="#1a1a1a" stroke-width="1"/>
<line x1="151.5" y1="962.5" x2="151.5" y2="966" stroke="#1a1a1a" stroke-width="1"/>
<text x="89.7" y="975" font-size="8" text-anchor="middle" textLength="20.5" lengthAdjust="spacingAndGlyphs" fill="#333333">tumor</text>
<text x="151.5" y="975" font-size="8" text-anchor="middle" textLength="25" lengthAdjust="spacingAndGlyphs" fill="#333333">healthy</text>
<text x="26.7" y="874.3" font-size="8.7" text-anchor="middle" transform="rotate(-90 26.7 874.3)" textLength="50.5" lengthAdjust="spacingAndGlyphs" fill="#2a2a2a" stroke="#2a2a2a" stroke-width="0.28">GM-CSF (pg/ml)</text>
<text x="137.5" y="830" font-size="8" textLength="29.5" lengthAdjust="spacingAndGlyphs" fill="#333333">p=0.048</text>
<circle cx="89.5" cy="785" r="2.55" fill="#2d4c86"/>
<circle cx="89.5" cy="830.5" r="2.55" fill="#2d4c86"/>
<circle cx="89.5" cy="885.5" r="2.55" fill="#2d4c86"/>
<circle cx="85.5" cy="916" r="2.55" fill="#2d4c86"/>
<circle cx="98" cy="919" r="2.55" fill="#2d4c86"/>
<circle cx="94" cy="926.5" r="2.55" fill="#2d4c86"/>
<circle cx="86" cy="928.5" r="2.55" fill="#2d4c86"/>
<circle cx="81.5" cy="937.5" r="2.55" fill="#2d4c86"/>
<circle cx="98" cy="935.5" r="2.55" fill="#2d4c86"/>
<circle cx="85.5" cy="941" r="2.55" fill="#2d4c86"/>
<circle cx="89.5" cy="939.5" r="2.55" fill="#2d4c86"/>
<circle cx="93.5" cy="941" r="2.55" fill="#2d4c86"/>
<circle cx="72.5" cy="908" r="2.55" fill="#2d4c86"/>
<circle cx="74.8" cy="908" r="2.55" fill="#2d4c86"/>
<circle cx="77.1" cy="908" r="2.55" fill="#2d4c86"/>
<circle cx="79.4" cy="908" r="2.55" fill="#2d4c86"/>
<circle cx="81.7" cy="908" r="2.55" fill="#2d4c86"/>
<circle cx="84.0" cy="908" r="2.55" fill="#2d4c86"/>
<circle cx="86.3" cy="908" r="2.55" fill="#2d4c86"/>
<circle cx="88.6" cy="906.5" r="2.55" fill="#2d4c86"/>
<circle cx="90.9" cy="908" r="2.55" fill="#2d4c86"/>
<circle cx="93.2" cy="906.5" r="2.55" fill="#2d4c86"/>
<circle cx="95.5" cy="908" r="2.55" fill="#2d4c86"/>
<circle cx="97.8" cy="908" r="2.55" fill="#2d4c86"/>
<circle cx="100.1" cy="908" r="2.55" fill="#2d4c86"/>
<circle cx="102.4" cy="908" r="2.55" fill="#2d4c86"/>
<circle cx="104.7" cy="908" r="2.55" fill="#2d4c86"/>
<circle cx="107.0" cy="908" r="2.55" fill="#2d4c86"/>
<circle cx="72.0" cy="944.0" r="2.55" fill="#2d4c86"/>
<circle cx="74.05882352941177" cy="945.0831520218721" r="2.55" fill="#2d4c86"/>
<circle cx="76.11764705882354" cy="946.0059781050526" r="2.55" fill="#2d4c86"/>
<circle cx="78.17647058823529" cy="946.7730140908042" r="2.55" fill="#2d4c86"/>
<circle cx="80.23529411764706" cy="947.3893981117931" r="2.55" fill="#2d4c86"/>
<circle cx="82.29411764705883" cy="947.8610886919142" r="2.55" fill="#2d4c86"/>
<circle cx="84.3529411764706" cy="948.1952393464156" r="2.55" fill="#2d4c86"/>
<circle cx="86.41176470588235" cy="948.400941522863" r="2.55" fill="#2d4c86"/>
<circle cx="88.47058823529412" cy="948.4911646270397" r="2.55" fill="#2d4c86"/>
<circle cx="90.52941176470588" cy="948.4911646270397" r="2.55" fill="#2d4c86"/>
<circle cx="92.58823529411765" cy="948.400941522863" r="2.55" fill="#2d4c86"/>
<circle cx="94.64705882352942" cy="948.1952393464156" r="2.55" fill="#2d4c86"/>
<circle cx="96.70588235294117" cy="947.8610886919142" r="2.55" fill="#2d4c86"/>
<circle cx="98.76470588235294" cy="947.3893981117931" r="2.55" fill="#2d4c86"/>
<circle cx="100.82352941176471" cy="946.7730140908042" r="2.55" fill="#2d4c86"/>
<circle cx="102.88235294117646" cy="946.0059781050526" r="2.55" fill="#2d4c86"/>
<circle cx="104.94117647058823" cy="945.0831520218721" r="2.55" fill="#2d4c86"/>
<circle cx="107.0" cy="944.0" r="2.55" fill="#2d4c86"/>
<line x1="89.5" y1="853.5" x2="89.5" y2="923.5" stroke="#1c2d50" stroke-width="1.1"/>
<line x1="79" y1="853.5" x2="100.5" y2="853.5" stroke="#1c2d50" stroke-width="1.1"/>
<line x1="79" y1="923.5" x2="100.5" y2="923.5" stroke="#1c2d50" stroke-width="1.1"/>
<line x1="69" y1="888.5" x2="110" y2="888.5" stroke="#1c2d50" stroke-width="1.1"/>
<rect x="149.05" y="914.05" width="4.9" height="4.9" fill="#b00a2e"/>
<rect x="149.05" y="937.55" width="4.9" height="4.9" fill="#b00a2e"/>
<rect x="166.05" y="939.05" width="4.9" height="4.9" fill="#b00a2e"/>
<rect x="131.55" y="941.55" width="4.9" height="4.9" fill="#b00a2e"/>
<rect x="159.05" y="943.05" width="4.9" height="4.9" fill="#b00a2e"/>
<rect x="138.55" y="944.55" width="4.9" height="4.9" fill="#b00a2e"/>
<rect x="145.55" y="946.05" width="4.9" height="4.9" fill="#b00a2e"/>
<rect x="152.05" y="946.05" width="4.9" height="4.9" fill="#b00a2e"/>
<line x1="151.5" y1="938" x2="151.5" y2="945.5" stroke="#3a0a14" stroke-width="1"/>
<line x1="142" y1="938" x2="161.5" y2="938" stroke="#3a0a14" stroke-width="1"/>
<line x1="134" y1="941.7" x2="170" y2="941.7" stroke="#3a0a14" stroke-width="1"/>
<line x1="142" y1="945.5" x2="161.5" y2="945.5" stroke="#3a0a14" stroke-width="1"/>
<text x="8.5" y="1003.5" font-size="10.5" font-weight="bold" fill="#000">I</text>
<line x1="48.5" y1="1012" x2="48.5" y2="1206.2" stroke="#1a1a1a" stroke-width="1.5"/>
<line x1="47.8" y1="1205.5" x2="184" y2="1205.5" stroke="#1a1a1a" stroke-width="1.5"/>
<line x1="45.0" y1="1014.0" x2="48.5" y2="1014.0" stroke="#1a1a1a" stroke-width="1.2"/>
<text x="43.0" y="1017.05" font-size="8.5" text-anchor="end" fill="#333333">800</text>
<line x1="45.0" y1="1061.9" x2="48.5" y2="1061.9" stroke="#1a1a1a" stroke-width="1.2"/>
<text x="43.0" y="1064.95" font-size="8.5" text-anchor="end" fill="#333333">600</text>
<line x1="45.0" y1="1109.8" x2="48.5" y2="1109.8" stroke="#1a1a1a" stroke-width="1.2"/>
<text x="43.0" y="1112.85" font-size="8.5" text-anchor="end" fill="#333333">400</text>
<line x1="45.0" y1="1157.7" x2="48.5" y2="1157.7" stroke="#1a1a1a" stroke-width="1.2"/>
<text x="43.0" y="1160.75" font-size="8.5" text-anchor="end" fill="#333333">200</text>
<line x1="45.0" y1="1205.6" x2="48.5" y2="1205.6" stroke="#1a1a1a" stroke-width="1.2"/>
<text x="43.0" y="1208.6499999999999" font-size="8.5" text-anchor="end" fill="#333333">0</text>
<line x1="82.5" y1="1205.5" x2="82.5" y2="1209.0" stroke="#1a1a1a" stroke-width="1"/>
<line x1="150" y1="1205.5" x2="150" y2="1209.0" stroke="#1a1a1a" stroke-width="1"/>
<text x="83" y="1219.5" font-size="8" text-anchor="middle" textLength="20" lengthAdjust="spacingAndGlyphs" fill="#333333">tumor</text>
<text x="150.3" y="1219.5" font-size="8" text-anchor="middle" textLength="24.5" lengthAdjust="spacingAndGlyphs" fill="#333333">healthy</text>
<text x="22.6" y="1109" font-size="8.7" text-anchor="middle" transform="rotate(-90 22.6 1109)" textLength="45.5" lengthAdjust="spacingAndGlyphs" fill="#2a2a2a" stroke="#2a2a2a" stroke-width="0.28">M-CSF (pg/ml)</text>
<text x="127.5" y="1100.5" font-size="8" textLength="23" lengthAdjust="spacingAndGlyphs" fill="#333333">p=0.21</text>
<circle cx="78" cy="1049" r="2.55" fill="#2d4c86"/>
<circle cx="87" cy="1046" r="2.55" fill="#2d4c86"/>
<circle cx="82.5" cy="1063" r="2.55" fill="#2d4c86"/>
<circle cx="82.5" cy="1154" r="2.55" fill="#2d4c86"/>
<circle cx="78" cy="1187" r="2.55" fill="#2d4c86"/>
<circle cx="87" cy="1194" r="2.55" fill="#2d4c86"/>
<circle cx="65.5" cy="1198" r="2.55" fill="#2d4c86"/>
<circle cx="66.5" cy="1200.5" r="2.55" fill="#2d4c86"/>
<circle cx="68" cy="1202.5" r="2.55" fill="#2d4c86"/>
<circle cx="99.5" cy="1198" r="2.55" fill="#2d4c86"/>
<circle cx="98.5" cy="1200.5" r="2.55" fill="#2d4c86"/>
<circle cx="97" cy="1202.5" r="2.55" fill="#2d4c86"/>
<circle cx="70.0" cy="1204.2" r="2.55" fill="#2d4c86"/>
<circle cx="72.27272727272727" cy="1204.2" r="2.55" fill="#2d4c86"/>
<circle cx="74.54545454545455" cy="1204.2" r="2.55" fill="#2d4c86"/>
<circle cx="76.81818181818181" cy="1204.2" r="2.55" fill="#2d4c86"/>
<circle cx="79.0909090909091" cy="1204.2" r="2.55" fill="#2d4c86"/>
<circle cx="81.36363636363636" cy="1204.2" r="2.55" fill="#2d4c86"/>
<circle cx="83.63636363636364" cy="1204.2" r="2.55" fill="#2d4c86"/>
<circle cx="85.9090909090909" cy="1204.2" r="2.55" fill="#2d4c86"/>
<circle cx="88.18181818181819" cy="1204.2" r="2.55" fill="#2d4c86"/>
<circle cx="90.45454545454545" cy="1204.2" r="2.55" fill="#2d4c86"/>
<circle cx="92.72727272727272" cy="1204.2" r="2.55" fill="#2d4c86"/>
<circle cx="95.0" cy="1204.2" r="2.55" fill="#2d4c86"/>
<line x1="82.5" y1="1185" x2="82.5" y2="1198" stroke="#1c2d50" stroke-width="1.1"/>
<line x1="71.5" y1="1185" x2="94" y2="1185" stroke="#1c2d50" stroke-width="1.1"/>
<line x1="71.5" y1="1198" x2="94" y2="1198" stroke="#1c2d50" stroke-width="1.1"/>
<line x1="60" y1="1191.5" x2="105" y2="1191.5" stroke="#1c2d50" stroke-width="1.1"/>
<rect x="127.5" y="1202" width="45.5" height="4.2" fill="#b00a2e"/>
</g>
<path fill="#000" fill-rule="evenodd" d="M0,0H520V1228H0Z M3.2,1.6H516.4q1.8,0 1.8,1.8V1224.6q0,1.8 -1.8,1.8H3.2q-1.8,0 -1.8,-1.8V3.4q0,-1.8 1.8,-1.8Z"/>
</svg>
</body></html>
